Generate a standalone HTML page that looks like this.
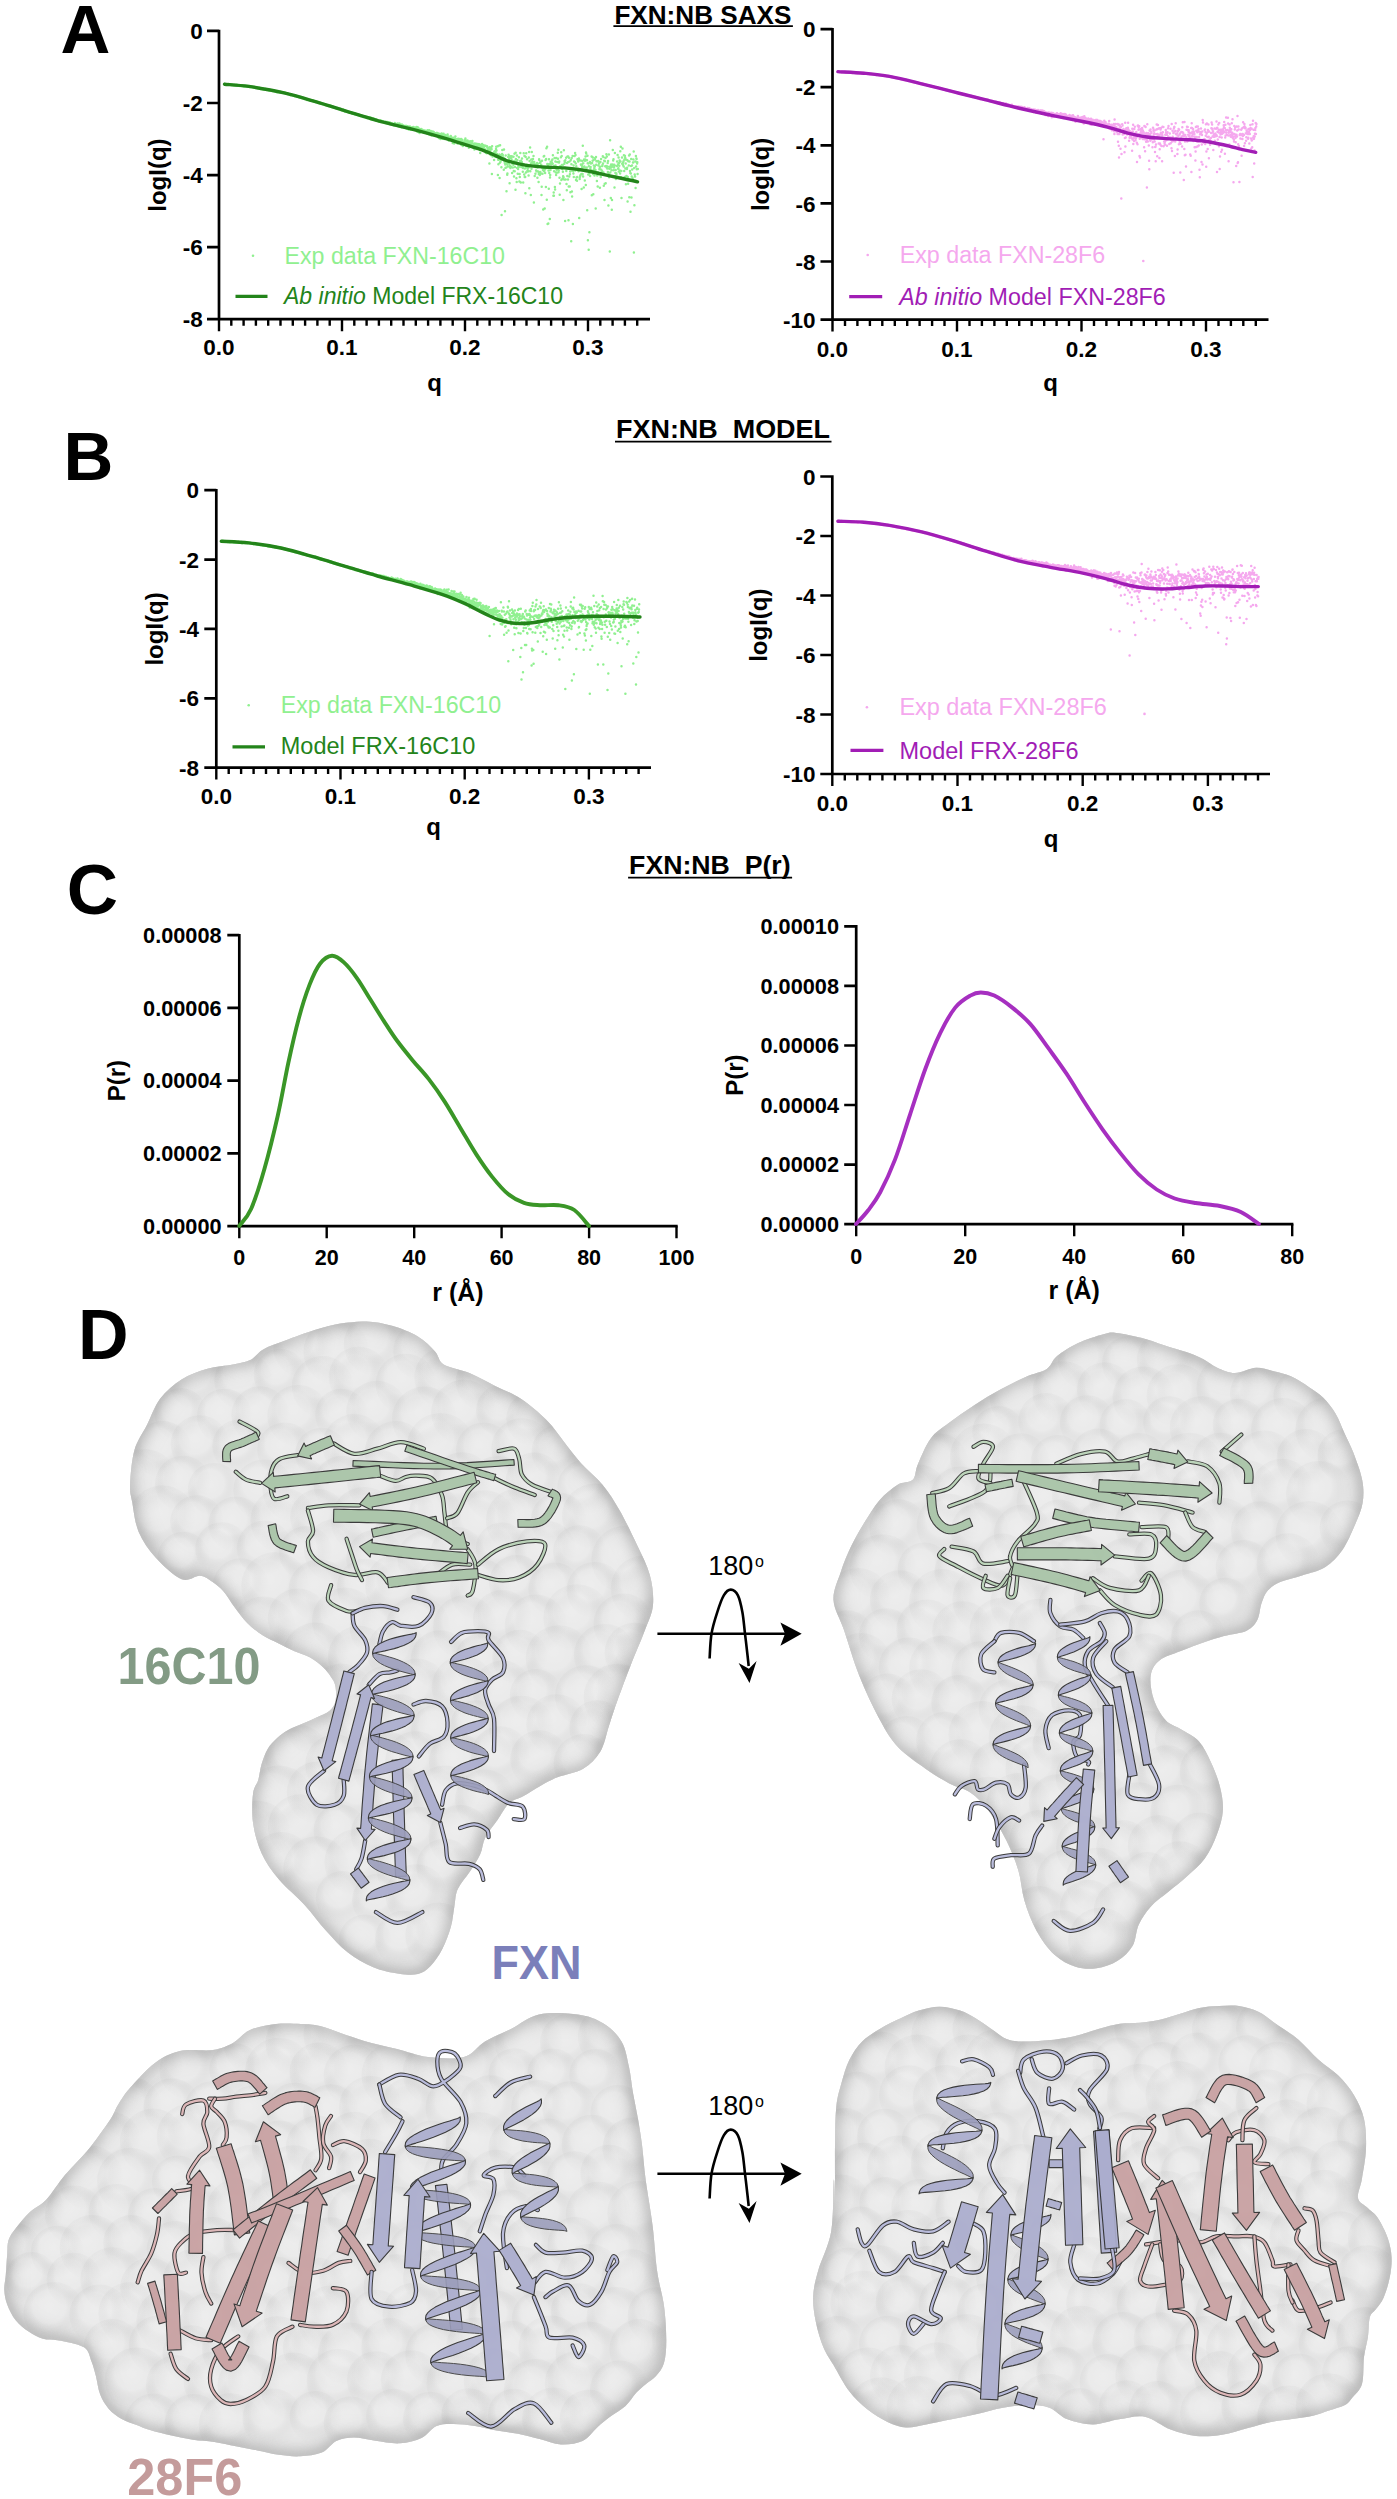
<!DOCTYPE html><html><head><meta charset="utf-8"><style>html,body{margin:0;padding:0;background:#fff}svg{display:block}text{font-family:"Liberation Sans", sans-serif}</style></head><body>
<svg width="1397" height="2499" viewBox="0 0 1397 2499">
<defs><filter id="bl" x="-20%" y="-20%" width="140%" height="140%"><feGaussianBlur stdDeviation="12"/></filter><radialGradient id="bump" cx="0.42" cy="0.4" r="0.6"><stop offset="0" stop-color="#fff" stop-opacity="0.2"/><stop offset="0.45" stop-color="#fff" stop-opacity="0.07"/><stop offset="0.75" stop-color="#000" stop-opacity="0.018"/><stop offset="1" stop-color="#000" stop-opacity="0"/></radialGradient><filter id="bl2" x="-10%" y="-10%" width="120%" height="120%"><feGaussianBlur stdDeviation="5"/></filter></defs>
<rect width="1397" height="2499" fill="#fff"/>
<text x="60.6" y="52.6" font-size="69" font-weight="bold" text-anchor="start" fill="#000">A</text>
<text x="63.6" y="480.1" font-size="69" font-weight="bold" text-anchor="start" fill="#000">B</text>
<text x="66.8" y="913.6" font-size="71" font-weight="bold" text-anchor="start" fill="#000">C</text>
<text x="78.1" y="1359.1" font-size="70" font-weight="bold" text-anchor="start" fill="#000">D</text>
<text x="614.4" y="23.6" font-size="26.5" font-weight="bold" text-anchor="start" fill="#000" textLength="177" lengthAdjust="spacingAndGlyphs">FXN:NB SAXS</text>
<path d="M613.4 26.2H792.9" stroke="#000" stroke-width="1.8"/>
<text x="616" y="438.3" font-size="26.5" font-weight="bold" text-anchor="start" fill="#000" textLength="214" lengthAdjust="spacingAndGlyphs">FXN:NB&#160; MODEL</text>
<path d="M615 441.6H831.5" stroke="#000" stroke-width="1.8"/>
<text x="629.1" y="874.3" font-size="26.5" font-weight="bold" text-anchor="start" fill="#000" textLength="161.5" lengthAdjust="spacingAndGlyphs">FXN:NB&#160; P(r)</text>
<path d="M628.1 877.6H792.1" stroke="#000" stroke-width="1.8"/>
<path d="M219 29.7V319.2M207 319.2H650M207 30.9H219M207 103H219M207 175.1H219M207 247.1H219M207 319.2H219" stroke="#000" stroke-width="2.7" fill="none"/>
<path d="M219 319.2v12M231.3 319.2v6.5M243.6 319.2v6.5M255.9 319.2v6.5M268.2 319.2v6.5M280.5 319.2v6.5M292.8 319.2v6.5M305.1 319.2v6.5M317.4 319.2v6.5M329.7 319.2v6.5M342 319.2v12M354.3 319.2v6.5M366.6 319.2v6.5M378.9 319.2v6.5M391.2 319.2v6.5M403.5 319.2v6.5M415.8 319.2v6.5M428.1 319.2v6.5M440.4 319.2v6.5M452.7 319.2v6.5M465 319.2v12M477.3 319.2v6.5M489.6 319.2v6.5M501.9 319.2v6.5M514.2 319.2v6.5M526.5 319.2v6.5M538.8 319.2v6.5M551.1 319.2v6.5M563.4 319.2v6.5M575.7 319.2v6.5M588 319.2v12M600.3 319.2v6.5M612.6 319.2v6.5M624.9 319.2v6.5M637.2 319.2v6.5" stroke="#000" stroke-width="2.4" fill="none"/>
<text x="202.7" y="39" font-size="22.5" font-weight="bold" text-anchor="end" fill="#000">0</text>
<text x="202.7" y="111.1" font-size="22.5" font-weight="bold" text-anchor="end" fill="#000">-2</text>
<text x="202.7" y="183.2" font-size="22.5" font-weight="bold" text-anchor="end" fill="#000">-4</text>
<text x="202.7" y="255.2" font-size="22.5" font-weight="bold" text-anchor="end" fill="#000">-6</text>
<text x="202.7" y="327.3" font-size="22.5" font-weight="bold" text-anchor="end" fill="#000">-8</text>
<text x="219" y="355.2" font-size="22.5" font-weight="bold" text-anchor="middle" fill="#000">0.0</text>
<text x="342" y="355.2" font-size="22.5" font-weight="bold" text-anchor="middle" fill="#000">0.1</text>
<text x="465" y="355.2" font-size="22.5" font-weight="bold" text-anchor="middle" fill="#000">0.2</text>
<text x="588" y="355.2" font-size="22.5" font-weight="bold" text-anchor="middle" fill="#000">0.3</text>
<text x="434.5" y="390.5" font-size="24" font-weight="bold" text-anchor="middle" fill="#000">q</text>
<text transform="translate(166 175.1) rotate(-90)" font-size="24" font-weight="bold" text-anchor="middle">logI(q)</text>
<path d="M224.5 83.9h0M224.8 83.9h0M225 84.2h0M225.3 84.4h0M225.5 84.5h0M225.8 84.3h0M226 84.6h0M226.2 84.7h0M226.5 84.3h0M226.7 84.4h0M227 84.3h0M227.2 84.6h0M227.5 84.5h0M227.7 84.5h0M227.9 84.8h0M228.2 84.4h0M228.4 84.5h0M228.7 84.1h0M228.9 84.6h0M229.2 84.7h0M229.4 84.4h0M229.6 84.6h0M229.9 84.5h0M230.1 84.8h0M230.4 84.7h0M230.6 84.5h0M230.9 84.6h0M231.1 84.8h0M231.3 85.1h0M231.6 84.7h0M231.8 84.8h0M232.1 84.7h0M232.3 84.9h0M232.6 84.7h0M232.8 85h0M233 84.9h0M233.3 84.9h0M233.5 85.3h0M233.8 85.1h0M234 85.2h0M234.3 84.7h0M234.5 85.1h0M234.8 85h0M235 85h0M235.2 85.2h0M235.5 85.5h0M235.7 85h0M236 85.3h0M236.2 85.1h0M236.5 85.6h0M236.7 85.4h0M236.9 85.1h0M237.2 85h0M237.4 85.7h0M237.7 85.7h0M237.9 85.4h0M238.2 85.3h0M238.4 85.4h0M238.6 85.4h0M238.9 85.7h0M239.1 85.4h0M239.4 85.3h0M239.6 85.7h0M239.9 85.9h0M240.1 85.8h0M240.3 85.5h0M240.6 86h0M240.8 85.7h0M241.1 85.9h0M241.3 85.8h0M241.6 85.8h0M241.8 85.8h0M242 85.5h0M242.3 85.7h0M242.5 85.6h0M242.8 85.9h0M243 86h0M243.3 85.8h0M243.5 86.5h0M243.8 86h0M244 85.9h0M244.2 86.3h0M244.5 85.9h0M244.7 86.2h0M245 86.6h0M245.2 86.1h0M245.5 86.3h0M245.7 86.2h0M245.9 86.2h0M246.2 85.9h0M246.4 86.2h0M246.7 86.2h0M246.9 86.2h0M247.2 86.7h0M247.4 86h0M247.6 86.5h0M247.9 86.2h0M248.1 86.6h0M248.4 86.6h0M248.6 86.5h0M248.9 86h0M249.1 86.3h0M249.3 86.6h0M249.6 86.6h0M249.8 86.9h0M250.1 86.7h0M250.3 86.8h0M250.6 86.6h0M250.8 87.1h0M251 86.9h0M251.3 87.1h0M251.5 87.1h0M251.8 86.8h0M252 87h0M252.3 86.9h0M252.5 86.8h0M252.8 86.9h0M253 87.5h0M253.2 87.1h0M253.5 87.7h0M253.7 87.3h0M254 87h0M254.2 87.5h0M254.5 87.5h0M254.7 87.5h0M254.9 87.5h0M255.2 87.6h0M255.4 87.8h0M255.7 87.4h0M255.9 87.5h0M256.2 87.8h0M256.4 87.7h0M256.6 87.7h0M256.9 87.7h0M257.1 87.9h0M257.4 87.8h0M257.6 88.1h0M257.9 88.3h0M258.1 88.2h0M258.3 88h0M258.6 88h0M258.8 88.2h0M259.1 88.4h0M259.3 88.3h0M259.6 88h0M259.8 88.1h0M260 88.6h0M260.3 88.5h0M260.5 88.9h0M260.8 88.9h0M261 88.6h0M261.3 88.7h0M261.5 88.5h0M261.8 88.5h0M262 88.7h0M262.2 88.6h0M262.5 89h0M262.7 89.2h0M263 88.9h0M263.2 88.5h0M263.5 89h0M263.7 89.4h0M263.9 89.1h0M264.2 88.9h0M264.4 89.5h0M264.7 89.2h0M264.9 89.5h0M265.2 89.1h0M265.4 89.3h0M265.6 89.4h0M265.9 89.1h0M266.1 89.7h0M266.4 89.8h0M266.6 89.3h0M266.9 89.9h0M267.1 89.3h0M267.3 89.8h0M267.6 90.1h0M267.8 89.9h0M268.1 89.9h0M268.3 90h0M268.6 90.1h0M268.8 89.9h0M269 90.6h0M269.3 90.3h0M269.5 90.3h0M269.8 89.9h0M270 90.7h0M270.3 90.4h0M270.5 90.7h0M270.8 90.6h0M271 90.4h0M271.2 90.4h0M271.5 90.3h0M271.7 90.8h0M272 90.6h0M272.2 90.5h0M272.5 90.6h0M272.7 90.9h0M272.9 90.6h0M273.2 91.1h0M273.4 90.6h0M273.7 91h0M273.9 91.1h0M274.2 91h0M274.4 90.9h0M274.6 90.8h0M274.9 91.2h0M275.1 91.3h0M275.4 91.2h0M275.6 91.5h0M275.9 91.8h0M276.1 91.3h0M276.3 91.6h0M276.6 91.3h0M276.8 91.8h0M277.1 92.2h0M277.3 91.6h0M277.6 91.7h0M277.8 91.4h0M278 91.7h0M278.3 91.8h0M278.5 91.8h0M278.8 92h0M279 92h0M279.3 92.3h0M279.5 91.9h0M279.8 92.3h0M280 92.2h0M280.2 92h0M280.5 92h0M280.7 92.5h0M281 91.9h0M281.2 92.5h0M281.5 92.2h0M281.7 92.3h0M281.9 92.5h0M282.2 92.5h0M282.4 92.2h0M282.7 92.4h0M282.9 92.6h0M283.2 93.1h0M283.4 92.9h0M283.6 92.6h0M283.9 92.8h0M284.1 93.1h0M284.4 93.1h0M284.6 93.1h0M284.9 93h0M285.1 93.1h0M285.3 93h0M285.6 93.5h0M285.8 93.2h0M286.1 93.6h0M286.3 93.6h0M286.6 93.2h0M286.8 93.6h0M287 93.8h0M287.3 93.8h0M287.5 93.9h0M287.8 93.6h0M288 93.7h0M288.3 93.9h0M288.5 94.1h0M288.8 94h0M289 94.3h0M289.2 94.2h0M289.5 94.3h0M289.7 94.5h0M290 94.2h0M290.2 94.2h0M290.5 94.4h0M290.7 95.2h0M290.9 94.4h0M291.2 94.7h0M291.4 95h0M291.7 95h0M291.9 94.8h0M292.2 94.9h0M292.4 95h0M292.6 95.3h0M292.9 95.3h0M293.1 95.2h0M293.4 95.5h0M293.6 95.8h0M293.9 95.8h0M294.1 95.7h0M294.3 95.7h0M294.6 95.3h0M294.8 96.2h0M295.1 95.9h0M295.3 96.1h0M295.6 96h0M295.8 95.9h0M296.1 96h0M296.3 96.3h0M296.5 96.5h0M296.8 96.7h0M297 96.5h0M297.3 96.3h0M297.5 96.7h0M297.8 96.6h0M298 96.6h0M298.2 96.8h0M298.5 96.7h0M298.7 97h0M299 97.2h0M299.2 97.4h0M299.5 97h0M299.7 97.3h0M299.9 97.4h0M300.2 97.2h0M300.4 97.6h0M300.7 97.1h0M300.9 97.5h0M301.2 97.8h0M301.4 97.9h0M301.6 97.6h0M301.9 98.1h0M302.1 98.1h0M302.4 98h0M302.6 98h0M302.9 98.1h0M303.1 98.1h0M303.3 98.4h0M303.6 98.4h0M303.8 98.1h0M304.1 98.3h0M304.3 98.6h0M304.6 98.2h0M304.8 99.1h0M305.1 98.7h0M305.3 98.7h0M305.5 98.7h0M305.8 98.9h0M306 99.1h0M306.3 99h0M306.5 99.2h0M306.8 99.1h0M307 99.9h0M307.2 99.3h0M307.5 99.6h0M307.7 99.3h0M308 99.4h0M308.2 99.5h0M308.5 99.8h0M308.7 99.7h0M308.9 99.9h0M309.2 99.9h0M309.4 100h0M309.7 100.2h0M309.9 99.7h0M310.2 100h0M310.4 100.7h0M310.6 100.1h0M310.9 100.7h0M311.1 100.5h0M311.4 100.6h0M311.6 100.7h0M311.9 100.6h0M312.1 100.8h0M312.3 101.1h0M312.6 100.9h0M312.8 100.9h0M313.1 100.6h0M313.3 101.2h0M313.6 101.4h0M313.8 101.3h0M314.1 101.1h0M314.3 101.5h0M314.5 101.6h0M314.8 101.4h0M315 101.5h0M315.3 101.6h0M315.5 101.8h0M315.8 101.9h0M316 101.9h0M316.2 101.9h0M316.5 102h0M316.7 101.9h0M317 102h0M317.2 102.1h0M317.5 102.2h0M317.7 102.5h0M317.9 102.7h0M318.2 102.3h0M318.4 102.6h0M318.7 102.6h0M318.9 103h0M319.2 102.8h0M319.4 103h0M319.6 103.1h0M319.9 103.1h0M320.1 103.4h0M320.4 103.1h0M320.6 103h0M320.9 103.5h0M321.1 103.4h0M321.3 103.7h0M321.6 103.4h0M321.8 103.2h0M322.1 104h0M322.3 103.8h0M322.6 103.5h0M322.8 103.8h0M323.1 104h0M323.3 104.5h0M323.5 104.2h0M323.8 104h0M324 104h0M324.3 104.2h0M324.5 104.6h0M324.8 104.7h0M325 105h0M325.2 104.9h0M325.5 104.5h0M325.7 104.9h0M326 105.2h0M326.2 104.7h0M326.5 105.4h0M326.7 104.9h0M326.9 105.3h0M327.2 105.2h0M327.4 105.2h0M327.7 105.4h0M327.9 105.2h0M328.2 105.6h0M328.4 105.7h0M328.6 105.9h0M328.9 106.1h0M329.1 106h0M329.4 105.7h0M329.6 105.9h0M329.9 105.8h0M330.1 105.6h0M330.3 106.1h0M330.6 106.2h0M330.8 106.7h0M331.1 106.5h0M331.3 106.1h0M331.6 106.5h0M331.8 106.7h0M332.1 106.7h0M332.3 107.3h0M332.5 107.1h0M332.8 107.3h0M333 107.6h0M333.3 107h0M333.5 107h0M333.8 107.4h0M334 107.3h0M334.2 107.7h0M334.5 107.4h0M334.7 107.5h0M335 107.4h0M335.2 107.4h0M335.5 107.7h0M335.7 107.9h0M335.9 108.2h0M336.2 108.2h0M336.4 108h0M336.7 108.1h0M336.9 108.3h0M337.2 108h0M337.4 108.3h0M337.6 108.5h0M337.9 108.6h0M338.1 108.7h0M338.4 109h0M338.6 109h0M338.9 108.8h0M339.1 109.1h0M339.3 109.1h0M339.6 108.9h0M339.8 109.2h0M340.1 109h0M340.3 109.4h0M340.6 109.1h0M340.8 109.4h0M341.1 110h0M341.3 109.4h0M341.5 109.8h0M341.8 110.2h0M342 109.9h0M342.3 109.9h0M342.5 110.3h0M342.8 110.2h0M343 110.1h0M343.2 110h0M343.5 110.1h0M343.7 110.1h0M344 110.2h0M344.2 111.1h0M344.5 110.8h0M344.7 110.7h0M344.9 111.4h0M345.2 110.7h0M345.4 110.7h0M345.7 111.2h0M345.9 111.2h0M346.2 111.4h0M346.4 111.2h0M346.6 111.3h0M346.9 111.4h0M347.1 111.7h0M347.4 111.4h0M347.6 111.7h0M347.9 111.5h0M348.1 111.7h0M348.3 112.2h0M348.6 112.2h0M348.8 111.9h0M349.1 112.2h0M349.3 112h0M349.6 112h0M349.8 112.3h0M350.1 112.7h0M350.3 112.7h0M350.5 112.3h0M350.8 112.8h0M351 112.4h0M351.3 112.7h0M351.5 112.6h0M351.8 113.1h0M352 112.9h0M352.2 113.7h0M352.5 113.1h0M352.7 113h0M353 113.4h0M353.2 113.5h0M353.5 113.4h0M353.7 113.4h0M353.9 113.7h0M354.2 113.4h0M354.4 114.1h0M354.7 113.4h0M354.9 114.2h0M355.2 114.1h0M355.4 113.6h0M355.6 114.3h0M355.9 114.5h0M356.1 114.1h0M356.4 114.5h0M356.6 114.6h0M356.9 114.6h0M357.1 114.7h0M357.3 114.8h0M357.6 114.9h0M357.8 114.2h0M358.1 114.9h0M358.3 114.5h0M358.6 115.3h0M358.8 114.8h0M359.1 115.4h0M359.3 115.2h0M359.5 115h0M359.8 115.4h0M360 115.9h0M360.3 115.6h0M360.5 115.5h0M360.8 115.4h0M361 115.9h0M361.2 115.8h0M361.5 115.8h0M361.7 116.3h0M362 116h0M362.2 116.2h0M362.5 115.9h0M362.7 116.2h0M362.9 116.3h0M363.2 117h0M363.4 116.4h0M363.7 116.6h0M363.9 116.8h0M364.2 116.7h0M364.4 117.1h0M364.6 116.7h0M364.9 116.6h0M365.1 116.7h0M365.4 117.1h0M365.6 116.5h0M365.9 116.8h0M366.1 117.5h0M366.3 117.3h0M366.6 117.9h0M366.8 117.4h0M367.1 117.2h0M367.3 117.1h0M367.6 117.7h0M367.8 118.3h0M368.1 117.8h0M368.3 117.3h0M368.5 117.8h0M368.8 117.5h0M369 117.7h0M369.3 117.5h0M369.5 117.9h0M369.8 118.4h0M370 118.1h0M370.2 117.4h0M370.5 118.6h0M370.7 119.2h0M371 117.8h0M371.2 118.5h0M371.5 118.9h0M371.7 119h0M371.9 119.4h0M372.2 118.6h0M372.4 118.9h0M372.7 119.3h0M372.9 119.3h0M373.2 119.3h0M373.4 118.8h0M373.6 119.4h0M373.9 118.8h0M374.1 119.8h0M374.4 119.8h0M374.6 119.8h0M374.9 119.9h0M375.1 119.8h0M375.3 119.4h0M375.6 119.3h0M375.8 120.4h0M376.1 119.4h0M376.3 120h0M376.6 119.4h0M376.8 120.3h0M377.1 120.6h0M377.3 120h0M377.5 120.1h0M377.8 120.7h0M378 120.5h0M378.3 120.5h0M378.5 120.5h0M378.8 121.4h0M379 121.3h0M379.2 120.8h0M379.5 120.7h0M379.7 121.1h0M380 121.8h0M380.2 120.4h0M380.5 121.2h0M380.7 121.6h0M380.9 120.4h0M381.2 120.7h0M381.4 120.8h0M381.7 120.9h0M381.9 121.1h0M382.2 121.9h0M382.4 121.5h0M382.6 121.4h0M382.9 121.3h0M383.1 121.4h0M383.4 122.2h0M383.6 122.1h0M383.9 122h0M384.1 122h0M384.3 122.4h0M384.6 122.9h0M384.8 122.7h0M385.1 121.9h0M385.3 122.2h0M385.6 121.9h0M385.8 123.3h0M386.1 122.5h0M386.3 121.9h0M386.5 123.5h0M386.8 123.1h0M387 123.4h0M387.3 121.9h0M387.5 122.6h0M387.8 123h0M388 122.7h0M388.2 122.9h0M388.5 122.4h0M388.7 122.3h0M389 122.5h0M389.2 122.8h0M389.5 122.7h0M389.7 122.7h0M389.9 122.5h0M390.2 124.3h0M390.4 123.1h0M390.7 123.3h0M390.9 123.3h0M391.2 123.6h0M391.4 123.6h0M391.6 123.3h0M391.9 123.5h0M392.1 123.6h0M392.4 124.4h0M392.6 124.6h0M392.9 124.3h0M393.1 125h0M393.3 124.3h0M393.6 124.6h0M393.8 125.2h0M394.1 125.4h0M394.3 124.5h0M394.6 124.6h0M394.8 122.9h0M395.1 123.8h0M395.3 124.9h0M395.5 124.8h0M395.8 125.2h0M396 125.1h0M396.3 124.9h0M396.5 124.7h0M396.8 125.2h0M397 124.2h0M397.2 124.4h0M397.5 123.6h0M397.7 125.9h0M398 124.6h0M398.2 125.3h0M398.5 126.2h0M398.7 125.4h0M398.9 126.4h0M399.2 125.3h0M399.4 123.4h0M399.7 124.5h0M399.9 124.2h0M400.2 124.7h0M400.4 126.7h0M400.6 125.3h0M400.9 125.6h0M401.1 125.4h0M401.4 126.5h0M401.6 127.3h0M401.9 124.4h0M402.1 125.1h0M402.3 125.8h0M402.6 126.4h0M402.8 126h0M403.1 127.1h0M403.3 125.5h0M403.6 126.2h0M403.8 126.5h0M404.1 126.7h0M404.3 126.5h0M404.5 126.4h0M404.8 126.9h0M405 125.9h0M405.3 126.5h0M405.5 126.8h0M405.8 127.5h0M406 125.9h0M406.2 125.9h0M406.5 126.4h0M406.7 128.5h0M407 127.3h0M407.2 126.3h0M407.5 127.1h0M407.7 126.2h0M407.9 127.6h0M408.2 126.7h0M408.4 127h0M408.7 129.5h0M408.9 127.8h0M409.2 127.7h0M409.4 128.1h0M409.6 128.4h0M409.9 126.4h0M410.1 127.9h0M410.4 127.1h0M410.6 129h0M410.9 129.7h0M411.1 128.4h0M411.4 127.7h0M411.6 128.7h0M411.8 127.7h0M412.1 127.5h0M412.3 128.7h0M412.6 128.4h0M412.8 129h0M413.1 127.5h0M413.3 126.9h0M413.5 128.1h0M413.8 129.1h0M414 129.3h0M414.3 129h0M414.5 128h0M414.8 129.6h0M415 127.6h0M415.2 130.1h0M415.5 129.1h0M415.7 127.9h0M416 127.5h0M416.2 129.6h0M416.5 128.6h0M416.7 127h0M416.9 128.3h0M417.2 131.6h0M417.4 129.3h0M417.7 127.3h0M417.9 130.8h0M418.2 128.9h0M418.4 131.9h0M418.6 128.3h0M418.9 130.8h0M419.1 129.2h0M419.4 129.1h0M419.6 132.9h0M419.9 131.6h0M420.1 129.9h0M420.4 131.8h0M420.6 130.4h0M420.8 131.4h0M421.1 129.1h0M421.3 131.1h0M421.6 131.6h0M421.8 130h0M422.1 129.5h0M422.3 131h0M422.5 130.6h0M422.8 130.4h0M423 131.5h0M423.3 132.3h0M423.5 130.5h0M423.8 131.6h0M424 132.7h0M424.2 130.4h0M424.5 130.9h0M424.7 131.3h0M425 132.3h0M425.2 131.8h0M425.5 130.9h0M425.7 131.1h0M425.9 132.7h0M426.2 132.8h0M426.4 131.5h0M426.7 131.7h0M426.9 131h0M427.2 133.4h0M427.4 131.1h0M427.6 130.2h0M427.9 131.2h0M428.1 132.2h0M428.4 131.3h0M428.6 133.9h0M428.9 133h0M429.1 130.2h0M429.4 134.5h0M429.6 134h0M429.8 131.8h0M430.1 133.6h0M430.3 133.5h0M430.6 134.3h0M430.8 131h0M431.1 133.8h0M431.3 133.4h0M431.5 135.4h0M431.8 132.3h0M432 133.3h0M432.3 132.8h0M432.5 131.5h0M432.8 133.3h0M433 135h0M433.2 134.9h0M433.5 133.6h0M433.7 132.1h0M434 135.3h0M434.2 134.2h0M434.5 134.1h0M434.7 133.2h0M434.9 135.2h0M435.2 133.7h0M435.4 133.2h0M435.7 134.3h0M435.9 134.4h0M436.2 133.6h0M436.4 133.7h0M436.6 132.9h0M436.9 135.9h0M437.1 133h0M437.4 135h0M437.6 136.2h0M437.9 135.5h0M438.1 136.5h0M438.4 135.2h0M438.6 133.6h0M438.8 138h0M439.1 136.7h0M439.3 134.1h0M439.6 135.6h0M439.8 134.2h0M440.1 137.2h0M440.3 135.5h0M440.5 139h0M440.8 136.7h0M441 134.6h0M441.3 134h0M441.5 133.5h0M441.8 135.9h0M442 137.1h0M442.2 136.5h0M442.5 138.7h0M442.7 134.2h0M443 134.5h0M443.2 137.5h0M443.5 133.7h0M443.7 138.3h0M443.9 135.6h0M444.2 137.7h0M444.4 139.1h0M444.7 136.1h0M444.9 138.4h0M445.2 135.1h0M445.4 138.2h0M445.6 136.8h0M445.9 137.7h0M446.1 136.9h0M446.4 138.1h0M446.6 136h0M446.9 136.4h0M447.1 137.3h0M447.4 137.6h0M447.6 134.5h0M447.8 138.6h0M448.1 138.3h0M448.3 136.6h0M448.6 137.8h0M448.8 140.4h0M449.1 138.2h0M449.3 138.6h0M449.5 139.6h0M449.8 137.8h0M450 140h0M450.3 138.7h0M450.5 140.1h0M450.8 136h0M451 139h0M451.2 137.9h0M451.5 138.2h0M451.7 137.6h0M452 139h0M452.2 137.7h0M452.5 138.7h0M452.7 142.9h0M452.9 138.6h0M453.2 141.2h0M453.4 137.7h0M453.7 138.9h0M453.9 140h0M454.2 143.6h0M454.4 143h0M454.6 141.5h0M454.9 140.3h0M455.1 142h0M455.4 136.5h0M455.6 139.1h0M455.9 140.1h0M456.1 141.7h0M456.4 140.7h0M456.6 140.6h0M456.8 141h0M457.1 140.4h0M457.3 139h0M457.6 143.4h0M457.8 140.1h0M458.1 138.7h0M458.3 143h0M458.5 141.1h0M458.8 141.5h0M459 142.9h0M459.3 139.3h0M459.5 141.6h0M459.8 139.1h0M460 140.4h0M460.2 141.7h0M460.5 140.8h0M460.7 142h0M461 144.4h0M461.2 139h0M461.5 140.9h0M461.7 139.6h0M461.9 145h0M462.2 139.9h0M462.4 140.4h0M462.7 142h0M462.9 145.9h0M463.2 141.9h0M463.4 143.4h0M463.6 142.6h0M463.9 142.2h0M464.1 144h0M464.4 142.7h0M464.6 142.5h0M464.9 139.9h0M465.1 142.9h0M465.4 138.4h0M465.6 145h0M465.8 143.1h0M466.1 140.6h0M466.3 146h0M466.6 141.9h0M466.8 142.4h0M467.1 144.4h0M467.3 143.8h0M467.5 140.4h0M467.8 144.3h0M468 143h0M468.3 142.8h0M468.5 141.3h0M468.8 147.8h0M469 146.7h0M469.2 146.5h0M469.5 144.5h0M469.7 142.9h0M470 142.5h0M470.2 144.8h0M470.5 141.3h0M470.7 144.5h0M470.9 143.1h0M471.2 146h0M471.4 142.9h0M471.7 146.1h0M471.9 142.4h0M472.2 143.1h0M472.4 141.1h0M472.6 145.8h0M472.9 147.4h0M473.1 143.4h0M473.4 144.6h0M473.6 146.4h0M473.9 148.1h0M474.1 143.8h0M474.4 149.5h0M474.6 146.5h0M474.8 143.4h0M475.1 146.3h0M475.3 144.9h0M475.6 144.9h0M475.8 144.7h0M476.1 143.8h0M476.3 144.7h0M476.5 147h0M476.8 148.9h0M477 146.9h0M477.3 147.8h0M477.5 145.6h0M477.8 143.9h0M478 145h0M478.2 148.2h0M478.5 146.4h0M478.7 146.9h0M479 148h0M479.2 144.2h0M479.5 145.8h0M479.7 146.4h0M479.9 149.9h0M480.2 153.1h0M480.4 149h0M480.7 145h0M480.9 148h0M481.2 147.7h0M481.4 148.3h0M481.6 146.7h0M481.9 147.9h0M482.1 144.1h0M482.4 148.3h0M482.6 148.7h0M482.9 145h0M483.1 146.5h0M483.4 146.7h0M483.6 147.2h0M483.8 147.9h0M484.1 148.4h0M484.3 145.6h0M484.6 150h0M484.8 149.2h0M485.1 146.1h0M485.3 151.4h0M485.5 145.7h0M485.8 152.8h0M486 152.1h0M486.3 151.3h0M486.5 151.3h0M486.8 153.3h0M487 146.3h0M487.2 146.9h0M487.5 148.7h0M487.7 152.5h0M488 148.7h0M488.2 152.6h0M488.5 150.6h0M488.7 152.6h0M488.9 147.8h0M489.2 148.2h0M489.4 163.4h0M489.7 147.2h0M489.9 149.6h0M490.2 151.5h0M490.4 148.3h0M490.6 155h0M490.9 148.6h0M491.1 147.2h0M491.4 148.9h0M491.6 149.2h0M491.9 173.9h0M492.1 146.3h0M492.4 153.4h0M492.6 156.6h0M492.8 153.9h0M493.1 154.2h0M493.3 153.7h0M493.6 152.9h0M493.8 153.1h0M494.1 160.1h0M494.3 151.7h0M494.5 153.9h0M494.8 151.2h0M495 155.5h0M495.3 156.8h0M495.5 152.4h0M495.8 156.4h0M496 149h0M496.2 146.7h0M496.5 150.6h0M496.7 156.9h0M497 153.9h0M497.2 155.9h0M497.5 156.9h0M497.7 146.2h0M497.9 175h0M498.2 159.7h0M498.4 164.2h0M498.7 159.7h0M498.9 155.2h0M499.2 145.4h0M499.4 154.4h0M499.6 177.9h0M499.9 162.8h0M500.1 145.2h0M500.4 161.9h0M500.6 155.3h0M500.9 157.3h0M501.1 160.2h0M501.4 167.3h0M501.6 215h0M501.8 159.1h0M502.1 154.1h0M502.3 149.9h0M502.6 158.5h0M502.8 155.1h0M503.1 157.2h0M503.3 158.6h0M503.5 159.4h0M503.8 169.8h0M504 149.5h0M504.3 158.5h0M504.5 161.4h0M504.8 163.1h0M505 211.3h0M505.2 164.5h0M505.5 167.8h0M505.7 155.5h0M506 162.2h0M506.2 167.5h0M506.5 191.2h0M506.7 163.3h0M506.9 164.2h0M507.2 174.7h0M507.4 173.4h0M507.7 161.7h0M507.9 166.6h0M508.2 156.9h0M508.4 163.4h0M508.6 154.7h0M508.9 163.6h0M509.1 159.3h0M509.4 157.9h0M509.6 183.3h0M509.9 165.4h0M510.1 167.5h0M510.4 167.9h0M510.6 156.3h0M510.8 166.5h0M511.1 161.6h0M511.3 157.9h0M511.6 159.8h0M511.8 156.2h0M512.1 172.9h0M512.3 163.4h0M512.5 163.9h0M512.8 167.4h0M513 164.5h0M513.3 164.7h0M513.5 156.7h0M513.8 170.9h0M514 176.4h0M514.2 161h0M514.5 153.7h0M514.7 171.3h0M515 167.1h0M515.2 161.5h0M515.5 189.8h0M515.7 152.7h0M515.9 158.9h0M516.2 161.9h0M516.4 178.2h0M516.7 181.9h0M516.9 155.5h0M517.2 168.1h0M517.4 160.3h0M517.7 173.7h0M517.9 164.6h0M518.1 168.9h0M518.4 166.8h0M518.6 166.4h0M518.9 157.3h0M519.1 166.7h0M519.4 181.5h0M519.6 174h0M519.8 176.9h0M520.1 161.1h0M520.3 152.9h0M520.6 161.5h0M520.8 182.4h0M521.1 160.7h0M521.3 167h0M521.5 166h0M521.8 162h0M522 158.5h0M522.3 163.6h0M522.5 166.1h0M522.8 171.8h0M523 168h0M523.2 182.6h0M523.5 164.2h0M523.7 153.2h0M524 164.6h0M524.2 174.6h0M524.5 155.9h0M524.7 177h0M524.9 168.5h0M525.2 177.1h0M525.4 193.2h0M525.7 157h0M525.9 172.5h0M526.2 153.2h0M526.4 167.1h0M526.7 164.8h0M526.9 167.4h0M527.1 159.2h0M527.4 170.6h0M527.6 168h0M527.9 171.4h0M528.1 170.4h0M528.4 167.7h0M528.6 175.4h0M528.8 157.5h0M529.1 151.9h0M529.3 188.2h0M529.6 160.9h0M529.8 166.1h0M530.1 147.5h0M530.3 171.2h0M530.5 165.3h0M530.8 195h0M531 163.2h0M531.3 159.4h0M531.5 168.7h0M531.8 151.9h0M532 159.5h0M532.2 161.9h0M532.5 159.8h0M532.7 159.3h0M533 158.9h0M533.2 163.5h0M533.5 156h0M533.7 162.3h0M533.9 202.5h0M534.2 161.9h0M534.4 163.5h0M534.7 176h0M534.9 166h0M535.2 165.3h0M535.4 173.8h0M535.7 167h0M535.9 164.8h0M536.1 170.6h0M536.4 171.3h0M536.6 171h0M536.9 164.1h0M537.1 163.1h0M537.4 177.8h0M537.6 167.5h0M537.8 163.7h0M538.1 171.6h0M538.3 171.7h0M538.6 182.1h0M538.8 173.9h0M539.1 159.3h0M539.3 160.1h0M539.5 172.3h0M539.8 174.9h0M540 163h0M540.3 172h0M540.5 162.1h0M540.8 173.4h0M541 165.9h0M541.2 164.8h0M541.5 195.1h0M541.7 186.8h0M542 160.7h0M542.2 167.8h0M542.5 173.8h0M542.7 168.6h0M542.9 169.9h0M543.2 209.4h0M543.4 169.5h0M543.7 156.4h0M543.9 170.9h0M544.2 155.9h0M544.4 171.1h0M544.7 208.6h0M544.9 169.2h0M545.1 172.9h0M545.4 168.4h0M545.6 160h0M545.9 187.1h0M546.1 159.1h0M546.4 148.3h0M546.6 168.1h0M546.8 199.8h0M547.1 146.7h0M547.3 164.1h0M547.6 224h0M547.8 165.2h0M548.1 166h0M548.3 223.4h0M548.5 170.6h0M548.8 188.7h0M549 159.3h0M549.3 172.9h0M549.5 164h0M549.8 219h0M550 177.4h0M550.2 175h0M550.5 170.1h0M550.7 161.8h0M551 164.3h0M551.2 163.5h0M551.5 164h0M551.7 163.7h0M551.9 162.5h0M552.2 159.9h0M552.4 159.4h0M552.7 163.7h0M552.9 155.2h0M553.2 167.2h0M553.4 195.7h0M553.7 192.5h0M553.9 195.8h0M554.1 171.2h0M554.4 165.9h0M554.6 157.9h0M554.9 187.1h0M555.1 189.4h0M555.4 161.4h0M555.6 165.6h0M555.8 172.4h0M556.1 174.9h0M556.3 157.9h0M556.6 169.7h0M556.8 172.7h0M557.1 169.2h0M557.3 161.9h0M557.5 169.1h0M557.8 152.8h0M558 158.7h0M558.3 149.7h0M558.5 172.3h0M558.8 170.8h0M559 162.5h0M559.2 161.6h0M559.5 177.7h0M559.7 194.7h0M560 183.4h0M560.2 166.3h0M560.5 167.8h0M560.7 167.1h0M560.9 157.2h0M561.2 152.3h0M561.4 179.9h0M561.7 156.1h0M561.9 165h0M562.2 168.9h0M562.4 178.8h0M562.7 165h0M562.9 171.7h0M563.1 176.3h0M563.4 200.1h0M563.6 177.2h0M563.9 150.3h0M564.1 179.6h0M564.4 163.8h0M564.6 161.1h0M564.8 162h0M565.1 221h0M565.3 160.3h0M565.6 179.4h0M565.8 168.1h0M566.1 157.7h0M566.3 171.1h0M566.5 184.1h0M566.8 190.2h0M567 163.1h0M567.3 175.9h0M567.5 156.6h0M567.8 162.2h0M568 179.5h0M568.2 156.4h0M568.5 220.2h0M568.7 186.4h0M569 157.7h0M569.2 176.4h0M569.5 161.6h0M569.7 186.5h0M569.9 174.2h0M570.2 171.6h0M570.4 192.2h0M570.7 160.2h0M570.9 159.7h0M571.2 241.2h0M571.4 164.3h0M571.7 158h0M571.9 191.6h0M572.1 196.4h0M572.4 170.7h0M572.6 156h0M572.9 224h0M573.1 171h0M573.4 173.4h0M573.6 165.5h0M573.8 177.1h0M574.1 161.6h0M574.3 169.6h0M574.6 155.9h0M574.8 162.1h0M575.1 153.1h0M575.3 170.6h0M575.5 155.1h0M575.8 163.4h0M576 180h0M576.3 166.2h0M576.5 177.4h0M576.8 180.4h0M577 180.7h0M577.2 176.9h0M577.5 159.3h0M577.7 159.8h0M578 168.7h0M578.2 161.6h0M578.5 171.3h0M578.7 160.8h0M578.9 158.6h0M579.2 218.1h0M579.4 169.4h0M579.7 178.9h0M579.9 177.6h0M580.2 176.1h0M580.4 175.2h0M580.7 160.5h0M580.9 164.6h0M581.1 165.1h0M581.4 174.1h0M581.6 189.1h0M581.9 164.7h0M582.1 167.3h0M582.4 160.9h0M582.6 173.9h0M582.8 145.7h0M583.1 176.4h0M583.3 163.2h0M583.6 166.7h0M583.8 187.4h0M584.1 159.4h0M584.3 166.4h0M584.5 166.9h0M584.8 180.4h0M585 160.8h0M585.3 159.5h0M585.5 156.4h0M585.8 185.1h0M586 152.4h0M586.2 153.5h0M586.5 168.7h0M586.7 167.5h0M587 160.2h0M587.2 210.3h0M587.5 155.8h0M587.7 163.3h0M587.9 240.3h0M588.2 174.6h0M588.4 163.5h0M588.7 249.7h0M588.9 166.2h0M589.2 173.6h0M589.4 232.2h0M589.7 172.1h0M589.9 162.1h0M590.1 176.1h0M590.4 168.5h0M590.6 167.1h0M590.9 163.6h0M591.1 170.5h0M591.4 170.3h0M591.6 156.6h0M591.8 195.2h0M592.1 162.9h0M592.3 156.9h0M592.6 160.8h0M592.8 157.6h0M593.1 174h0M593.3 194.3h0M593.5 160h0M593.8 165.5h0M594 169.8h0M594.3 168.1h0M594.5 175.5h0M594.8 166.5h0M595 159.2h0M595.2 157.9h0M595.5 169.9h0M595.7 208.5h0M596 156.9h0M596.2 164.7h0M596.5 161.3h0M596.7 161.2h0M596.9 180.9h0M597.2 175.4h0M597.4 172.3h0M597.7 186.6h0M597.9 172.2h0M598.2 161h0M598.4 165.5h0M598.7 161.8h0M598.9 173.9h0M599.1 163.4h0M599.4 169.3h0M599.6 168.2h0M599.9 187.7h0M600.1 166.7h0M600.4 162h0M600.6 174.3h0M600.8 177h0M601.1 159.1h0M601.3 169.8h0M601.6 172.5h0M601.8 171.5h0M602.1 170.9h0M602.3 166.1h0M602.5 164.9h0M602.8 156.3h0M603 163.6h0M603.3 156.9h0M603.5 172.5h0M603.8 185.7h0M604 174.5h0M604.2 160.8h0M604.5 200.1h0M604.7 183.7h0M605 161.3h0M605.2 166.3h0M605.5 158.1h0M605.7 183.3h0M605.9 166.5h0M606.2 165.9h0M606.4 154.2h0M606.7 167.5h0M606.9 156.4h0M607.2 168.5h0M607.4 166.4h0M607.7 162.9h0M607.9 172h0M608.1 161h0M608.4 205.4h0M608.6 173.9h0M608.9 154.6h0M609.1 177.2h0M609.4 168.7h0M609.6 167.1h0M609.8 251.6h0M610.1 140.2h0M610.3 172.5h0M610.6 166h0M610.8 197.9h0M611.1 164.5h0M611.3 167.6h0M611.5 170.3h0M611.8 209.8h0M612 199.9h0M612.3 166.5h0M612.5 164.6h0M612.8 150.1h0M613 165h0M613.2 160.6h0M613.5 159.2h0M613.7 170.2h0M614 167.4h0M614.2 164.8h0M614.5 187.6h0M614.7 165.6h0M614.9 153.1h0M615.2 176.2h0M615.4 172.9h0M615.7 170.1h0M615.9 179.1h0M616.2 173.3h0M616.4 174h0M616.7 177.1h0M616.9 165.9h0M617.1 161.6h0M617.4 176.9h0M617.6 155h0M617.9 164.2h0M618.1 168.7h0M618.4 168.2h0M618.6 157.4h0M618.8 171.4h0M619.1 163.1h0M619.3 165.7h0M619.6 160.4h0M619.8 170.6h0M620.1 173.5h0M620.3 151.3h0M620.5 161.6h0M620.8 146.7h0M621 177.3h0M621.3 171.1h0M621.5 197.9h0M621.8 177.9h0M622 157.5h0M622.2 163.7h0M622.5 148.4h0M622.7 164.1h0M623 165.2h0M623.2 162.4h0M623.5 161.2h0M623.7 166.6h0M623.9 155.3h0M624.2 171.1h0M624.4 159.4h0M624.7 176.9h0M624.9 155.7h0M625.2 157.7h0M625.4 168.5h0M625.7 163.4h0M625.9 184.3h0M626.1 159.4h0M626.4 176.1h0M626.6 168.4h0M626.9 169h0M627.1 167.8h0M627.4 160.3h0M627.6 201.6h0M627.8 177.1h0M628.1 183.8h0M628.3 161.3h0M628.6 178.9h0M628.8 165.6h0M629.1 155.5h0M629.3 197.2h0M629.5 161.4h0M629.8 154.4h0M630 171h0M630.3 172.9h0M630.5 211.8h0M630.8 173.5h0M631 166h0M631.2 158.9h0M631.5 197.6h0M631.7 176.6h0M632 165.5h0M632.2 169.6h0M632.5 180.1h0M632.7 178.2h0M633 162.5h0M633.2 162.6h0M633.4 159.5h0M633.7 151.5h0M633.9 252.5h0M634.2 168.1h0M634.4 205.2h0M634.7 174.5h0M634.9 176.4h0M635.1 176.4h0M635.4 161.4h0M635.6 188.1h0M635.9 156h0M636.1 166.5h0M636.4 158.6h0M636.6 158.9h0M636.8 169.3h0M637.1 163.4h0M637.3 162.3h0M637.6 174h0M637.8 169h0" stroke="#90f090" stroke-width="2.5" stroke-linecap="round" fill="none"/>
<path d="M224.5 84.2C228.5 84.6 238.8 85 248.7 86.4C258.6 87.9 272.8 90.3 284.1 92.9C295.4 95.5 306.1 98.9 316.3 101.9C326.5 104.9 335.1 107.8 345.3 110.9C355.5 114 366.2 117.5 377.5 120.6C388.8 123.7 402.2 126.5 412.9 129.3C423.6 132.1 432.8 134.6 441.9 137.3C451 140 460.2 143 467.7 145.4C475.2 147.8 480.6 149.3 487 151.8C493.4 154.3 500.5 158.3 506.4 160.5C512.3 162.7 516.6 163.6 522.5 164.7C528.4 165.8 534.8 166.4 541.8 166.9C548.8 167.4 557.3 167.4 564.3 167.9C571.3 168.4 577.2 169.1 583.7 170.2C590.2 171.3 596.6 173 603 174.4C609.4 175.8 616.5 177.3 622.3 178.5C628 179.7 635 181.2 637.5 181.8" stroke="#23841a" stroke-width="3.4" stroke-linecap="round" stroke-linejoin="round" fill="none"/>
<circle cx="253" cy="255.7" r="1.3" fill="#90f090"/>
<text x="284.5" y="263.7" font-size="23" text-anchor="start" fill="#90f090" textLength="220.5" lengthAdjust="spacingAndGlyphs">Exp data FXN-16C10</text>
<path d="M235.5 296.3H267.5" stroke="#23841a" stroke-width="3.2" fill="none"/>
<text x="284" y="304.3" font-size="23" fill="#23841a" textLength="279" lengthAdjust="spacingAndGlyphs"><tspan font-style="italic">Ab initio</tspan> Model FRX-16C10</text>
<path d="M832.5 27.9V319.6M820.5 319.6H1268.5M820.5 29.1H832.5M820.5 87.2H832.5M820.5 145.3H832.5M820.5 203.4H832.5M820.5 261.5H832.5M820.5 319.6H832.5" stroke="#000" stroke-width="2.7" fill="none"/>
<path d="M832.5 319.6v12M845 319.6v6.5M857.4 319.6v6.5M869.9 319.6v6.5M882.3 319.6v6.5M894.8 319.6v6.5M907.2 319.6v6.5M919.6 319.6v6.5M932.1 319.6v6.5M944.5 319.6v6.5M957 319.6v12M969.5 319.6v6.5M981.9 319.6v6.5M994.4 319.6v6.5M1006.8 319.6v6.5M1019.2 319.6v6.5M1031.7 319.6v6.5M1044.2 319.6v6.5M1056.6 319.6v6.5M1069 319.6v6.5M1081.5 319.6v12M1094 319.6v6.5M1106.4 319.6v6.5M1118.8 319.6v6.5M1131.3 319.6v6.5M1143.8 319.6v6.5M1156.2 319.6v6.5M1168.7 319.6v6.5M1181.1 319.6v6.5M1193.5 319.6v6.5M1206 319.6v12M1218.5 319.6v6.5M1230.9 319.6v6.5M1243.3 319.6v6.5M1255.8 319.6v6.5" stroke="#000" stroke-width="2.4" fill="none"/>
<text x="815.5" y="37.2" font-size="22.5" font-weight="bold" text-anchor="end" fill="#000">0</text>
<text x="815.5" y="95.3" font-size="22.5" font-weight="bold" text-anchor="end" fill="#000">-2</text>
<text x="815.5" y="153.4" font-size="22.5" font-weight="bold" text-anchor="end" fill="#000">-4</text>
<text x="815.5" y="211.5" font-size="22.5" font-weight="bold" text-anchor="end" fill="#000">-6</text>
<text x="815.5" y="269.6" font-size="22.5" font-weight="bold" text-anchor="end" fill="#000">-8</text>
<text x="815.5" y="327.7" font-size="22.5" font-weight="bold" text-anchor="end" fill="#000">-10</text>
<text x="832.5" y="356.8" font-size="22.5" font-weight="bold" text-anchor="middle" fill="#000">0.0</text>
<text x="957" y="356.8" font-size="22.5" font-weight="bold" text-anchor="middle" fill="#000">0.1</text>
<text x="1081.5" y="356.8" font-size="22.5" font-weight="bold" text-anchor="middle" fill="#000">0.2</text>
<text x="1206" y="356.8" font-size="22.5" font-weight="bold" text-anchor="middle" fill="#000">0.3</text>
<text x="1050.5" y="390.5" font-size="24" font-weight="bold" text-anchor="middle" fill="#000">q</text>
<text transform="translate(769 174.4) rotate(-90)" font-size="24" font-weight="bold" text-anchor="middle">logI(q)</text>
<path d="M838.1 71.2h0M838.3 71.7h0M838.6 71.6h0M838.8 71.6h0M839.1 71.5h0M839.3 71.9h0M839.6 71.8h0M839.8 71.9h0M840.1 71.9h0M840.3 71.9h0M840.6 71.9h0M840.8 71.8h0M841.1 72h0M841.3 71.7h0M841.5 71.9h0M841.8 72.4h0M842 71.6h0M842.3 71.9h0M842.5 72h0M842.8 71.9h0M843 71.9h0M843.3 71.9h0M843.5 72.1h0M843.8 71.9h0M844 72.2h0M844.3 71.7h0M844.5 72.2h0M844.8 72.1h0M845 72h0M845.2 72h0M845.5 72.1h0M845.7 72h0M846 72.7h0M846.2 72.2h0M846.5 72.2h0M846.7 72.2h0M847 71.9h0M847.2 72.4h0M847.5 72.2h0M847.7 72.6h0M848 72.2h0M848.2 72.5h0M848.4 72.6h0M848.7 71.9h0M848.9 72.2h0M849.2 72.3h0M849.4 72.3h0M849.7 72.6h0M849.9 72.6h0M850.2 72.3h0M850.4 72.8h0M850.7 72.4h0M850.9 72.7h0M851.2 72.4h0M851.4 72.7h0M851.6 72.2h0M851.9 72.3h0M852.1 72.6h0M852.4 72.9h0M852.6 72.7h0M852.9 72.6h0M853.1 72.7h0M853.4 72.5h0M853.6 72.4h0M853.9 72.6h0M854.1 72.7h0M854.4 72.5h0M854.6 72.7h0M854.8 72.5h0M855.1 72.7h0M855.3 72.4h0M855.6 72.8h0M855.8 72.9h0M856.1 72.7h0M856.3 72.9h0M856.6 72.9h0M856.8 72.8h0M857.1 72.7h0M857.3 73.2h0M857.6 72.8h0M857.8 72.9h0M858 72.9h0M858.3 72.7h0M858.5 73.1h0M858.8 72.8h0M859 73h0M859.3 72.9h0M859.5 73h0M859.8 73h0M860 73.1h0M860.3 72.9h0M860.5 72.7h0M860.8 72.9h0M861 72.9h0M861.2 73h0M861.5 73.2h0M861.7 73h0M862 72.7h0M862.2 73.4h0M862.5 73h0M862.7 73h0M863 73.1h0M863.2 73h0M863.5 73h0M863.7 72.8h0M864 73h0M864.2 73h0M864.4 73.2h0M864.7 73.2h0M864.9 73.3h0M865.2 73.3h0M865.4 73.5h0M865.7 73.3h0M865.9 73.2h0M866.2 73.5h0M866.4 73.5h0M866.7 73.5h0M866.9 73.6h0M867.2 73.5h0M867.4 73.6h0M867.6 73.9h0M867.9 73.9h0M868.1 73.6h0M868.4 73.7h0M868.6 73.6h0M868.9 73.8h0M869.1 73.8h0M869.4 74.2h0M869.6 73.7h0M869.9 74.1h0M870.1 73.8h0M870.4 74.2h0M870.6 74.2h0M870.8 74.1h0M871.1 74.2h0M871.3 74.3h0M871.6 74h0M871.8 74.1h0M872.1 74.2h0M872.3 74.3h0M872.6 74.5h0M872.8 74.4h0M873.1 74.5h0M873.3 74.4h0M873.6 74.3h0M873.8 74.5h0M874 74.6h0M874.3 74.6h0M874.5 74.3h0M874.8 74.6h0M875 74.6h0M875.3 74.6h0M875.5 74.6h0M875.8 74.7h0M876 74.5h0M876.3 74.6h0M876.5 75.3h0M876.8 74.9h0M877 74.3h0M877.3 75.1h0M877.5 74.9h0M877.7 74.8h0M878 75h0M878.2 74.8h0M878.5 75.3h0M878.7 75.3h0M879 75.1h0M879.2 75.3h0M879.5 75.4h0M879.7 75.1h0M880 75.2h0M880.2 75.3h0M880.5 75.4h0M880.7 75.3h0M880.9 75.4h0M881.2 75.5h0M881.4 75.3h0M881.7 75.4h0M881.9 75.5h0M882.2 75.4h0M882.4 75.7h0M882.7 75.6h0M882.9 75.7h0M883.2 75.4h0M883.4 75.6h0M883.7 75.3h0M883.9 75.4h0M884.1 75.8h0M884.4 76h0M884.6 75.7h0M884.9 75.9h0M885.1 75.9h0M885.4 76.1h0M885.6 75.8h0M885.9 75.9h0M886.1 75.9h0M886.4 76h0M886.6 76.2h0M886.9 76.5h0M887.1 76.2h0M887.3 76.3h0M887.6 76.3h0M887.8 76h0M888.1 76.3h0M888.3 76h0M888.6 76.3h0M888.8 76.2h0M889.1 76.3h0M889.3 76.2h0M889.6 76.7h0M889.8 76.3h0M890.1 76.5h0M890.3 76.8h0M890.5 76.6h0M890.8 76.7h0M891 76.6h0M891.3 76.7h0M891.5 76.8h0M891.8 77.2h0M892 76.7h0M892.3 76.8h0M892.5 77h0M892.8 77.1h0M893 77h0M893.3 77.4h0M893.5 77.2h0M893.7 77.4h0M894 77.6h0M894.2 77.4h0M894.5 77.5h0M894.7 77.3h0M895 77.5h0M895.2 78h0M895.5 78.1h0M895.7 77.9h0M896 77.9h0M896.2 78.1h0M896.5 78.3h0M896.7 78.1h0M896.9 78.3h0M897.2 78.3h0M897.4 78.1h0M897.7 78.3h0M897.9 78.5h0M898.2 78.6h0M898.4 78.5h0M898.7 78.2h0M898.9 78.7h0M899.2 78.3h0M899.4 78.8h0M899.7 78.8h0M899.9 78.7h0M900.1 79h0M900.4 78.9h0M900.6 79.2h0M900.9 78.9h0M901.1 78.9h0M901.4 79.3h0M901.6 79.2h0M901.9 79.3h0M902.1 79.7h0M902.4 78.9h0M902.6 79.3h0M902.9 79.3h0M903.1 79.5h0M903.3 79.6h0M903.6 79.2h0M903.8 80h0M904.1 79.8h0M904.3 79.9h0M904.6 79.9h0M904.8 79.8h0M905.1 80.1h0M905.3 80.3h0M905.6 80.3h0M905.8 80.1h0M906.1 80.1h0M906.3 80.1h0M906.6 80.1h0M906.8 80.5h0M907 80.3h0M907.3 80.4h0M907.5 80.6h0M907.8 80.8h0M908 80.5h0M908.3 80.9h0M908.5 80.8h0M908.8 81h0M909 80.6h0M909.3 81h0M909.5 81.1h0M909.8 81.1h0M910 81.2h0M910.2 81.2h0M910.5 81.5h0M910.7 81.5h0M911 81.3h0M911.2 81.2h0M911.5 81.6h0M911.7 81.5h0M912 81.7h0M912.2 82h0M912.5 81.8h0M912.7 81.9h0M913 81.7h0M913.2 81.9h0M913.4 81.9h0M913.7 82.2h0M913.9 82h0M914.2 82.4h0M914.4 82.1h0M914.7 82h0M914.9 82.5h0M915.2 82.2h0M915.4 82.1h0M915.7 82.5h0M915.9 82.3h0M916.2 82.5h0M916.4 82.7h0M916.6 83h0M916.9 82.9h0M917.1 83h0M917.4 82.4h0M917.6 82.8h0M917.9 83h0M918.1 83.2h0M918.4 82.8h0M918.6 83.3h0M918.9 82.9h0M919.1 83h0M919.4 83.3h0M919.6 83.5h0M919.8 83.4h0M920.1 83.7h0M920.3 83.4h0M920.6 83.3h0M920.8 83.5h0M921.1 83.5h0M921.3 83.9h0M921.6 83.7h0M921.8 84h0M922.1 84h0M922.3 83.9h0M922.6 83.6h0M922.8 84.1h0M923 84.2h0M923.3 84.6h0M923.5 84.3h0M923.8 84.5h0M924 84.7h0M924.3 84.7h0M924.5 84.5h0M924.8 84.7h0M925 84.5h0M925.3 84.8h0M925.5 84.8h0M925.8 84.6h0M926 84.8h0M926.2 84.8h0M926.5 84.8h0M926.7 85.1h0M927 85.3h0M927.2 85.4h0M927.5 85.6h0M927.7 85.3h0M928 85.5h0M928.2 85.4h0M928.5 85.4h0M928.7 85.7h0M929 85.6h0M929.2 85.5h0M929.4 85.8h0M929.7 85.7h0M929.9 85.9h0M930.2 86.1h0M930.4 86.1h0M930.7 86.4h0M930.9 86h0M931.2 86.3h0M931.4 86h0M931.7 86.5h0M931.9 86.4h0M932.2 86.4h0M932.4 86.6h0M932.6 86.5h0M932.9 86.8h0M933.1 86.9h0M933.4 87h0M933.6 86.9h0M933.9 87h0M934.1 86.9h0M934.4 87.1h0M934.6 87.2h0M934.9 87.3h0M935.1 87.5h0M935.4 87.3h0M935.6 87.3h0M935.9 87.6h0M936.1 87.5h0M936.3 87.4h0M936.6 87.7h0M936.8 87.6h0M937.1 87.8h0M937.3 87.3h0M937.6 87.6h0M937.8 87.7h0M938.1 88.1h0M938.3 87.9h0M938.6 88.1h0M938.8 88.1h0M939.1 88.3h0M939.3 88.2h0M939.5 88.4h0M939.8 88.3h0M940 88.1h0M940.3 88.7h0M940.5 88.8h0M940.8 88.5h0M941 88.5h0M941.3 88.8h0M941.5 88.7h0M941.8 88.8h0M942 88.8h0M942.3 88.8h0M942.5 89.2h0M942.7 89h0M943 89.1h0M943.2 89.4h0M943.5 89.2h0M943.7 89.6h0M944 89.7h0M944.2 89.3h0M944.5 89.7h0M944.7 89.3h0M945 89.5h0M945.2 89.8h0M945.5 90h0M945.7 90.3h0M945.9 89.9h0M946.2 90.3h0M946.4 89.8h0M946.7 90.4h0M946.9 90.2h0M947.2 90.7h0M947.4 90.4h0M947.7 90.1h0M947.9 90.5h0M948.2 90.6h0M948.4 90.6h0M948.7 90.5h0M948.9 90.5h0M949.1 90.8h0M949.4 91.2h0M949.6 90.8h0M949.9 90.7h0M950.1 90.6h0M950.4 91h0M950.6 91.1h0M950.9 91.3h0M951.1 91.1h0M951.4 91h0M951.6 91.5h0M951.9 91.4h0M952.1 91.7h0M952.3 91.7h0M952.6 91.6h0M952.8 91.6h0M953.1 91.9h0M953.3 91.8h0M953.6 91.6h0M953.8 91.8h0M954.1 91.8h0M954.3 92h0M954.6 92.1h0M954.8 92.1h0M955.1 92.1h0M955.3 92.3h0M955.5 92.2h0M955.8 92.4h0M956 92.3h0M956.3 92.5h0M956.5 92.4h0M956.8 92.8h0M957 92.8h0M957.3 93h0M957.5 92.6h0M957.8 92.8h0M958 92.9h0M958.3 92.9h0M958.5 93.2h0M958.7 93.1h0M959 93.3h0M959.2 93.6h0M959.5 93.4h0M959.7 93.5h0M960 93.2h0M960.2 93.6h0M960.5 93.7h0M960.7 93.4h0M961 93.7h0M961.2 94h0M961.5 93.8h0M961.7 94h0M961.9 93.6h0M962.2 94.2h0M962.4 94.2h0M962.7 94.6h0M962.9 94.3h0M963.2 93.9h0M963.4 94.3h0M963.7 94.5h0M963.9 94.4h0M964.2 94.5h0M964.4 94.5h0M964.7 94.1h0M964.9 94.3h0M965.1 94.4h0M965.4 94.5h0M965.6 95h0M965.9 95.3h0M966.1 94.8h0M966.4 94.9h0M966.6 95.1h0M966.9 95.2h0M967.1 95.1h0M967.4 95.2h0M967.6 95.3h0M967.9 95.3h0M968.1 95.5h0M968.4 95.6h0M968.6 95.3h0M968.8 95.7h0M969.1 95.3h0M969.3 95.6h0M969.6 95.8h0M969.8 95.6h0M970.1 96.1h0M970.3 96h0M970.6 96.1h0M970.8 96.1h0M971.1 96h0M971.3 95.8h0M971.6 96.2h0M971.8 96.6h0M972 96.6h0M972.3 96.9h0M972.5 96.4h0M972.8 96.4h0M973 96.6h0M973.3 96.7h0M973.5 96.7h0M973.8 96.8h0M974 96.8h0M974.3 96.9h0M974.5 97.3h0M974.8 96.9h0M975 96.8h0M975.2 97.6h0M975.5 97.3h0M975.7 97.6h0M976 97.3h0M976.2 97.5h0M976.5 97.2h0M976.7 97.3h0M977 97.8h0M977.2 97.8h0M977.5 97.9h0M977.7 97.7h0M978 98.1h0M978.2 97.8h0M978.4 98.4h0M978.7 97.8h0M978.9 98h0M979.2 98.5h0M979.4 98.5h0M979.7 98.3h0M979.9 98.3h0M980.2 99.2h0M980.4 98.5h0M980.7 98.2h0M980.9 98.8h0M981.2 99.1h0M981.4 98.4h0M981.6 98.8h0M981.9 98.8h0M982.1 98.8h0M982.4 99.3h0M982.6 99.2h0M982.9 99.4h0M983.1 99.5h0M983.4 99.3h0M983.6 99.6h0M983.9 98.9h0M984.1 99.2h0M984.4 99.2h0M984.6 100h0M984.8 99.6h0M985.1 99.7h0M985.3 99.6h0M985.6 99.6h0M985.8 100h0M986.1 100.1h0M986.3 99.6h0M986.6 99.3h0M986.8 99.4h0M987.1 100.2h0M987.3 100.4h0M987.6 100.1h0M987.8 100.1h0M988 99.7h0M988.3 100.4h0M988.5 100.7h0M988.8 100.1h0M989 100.8h0M989.3 100.9h0M989.5 100.5h0M989.8 100.8h0M990 101.1h0M990.3 100.9h0M990.5 101h0M990.8 101h0M991 101.3h0M991.2 100.8h0M991.5 101.2h0M991.7 101.4h0M992 100.8h0M992.2 101.6h0M992.5 101.1h0M992.7 101.2h0M993 101.6h0M993.2 101.4h0M993.5 102.1h0M993.7 101.5h0M994 102.1h0M994.2 102.1h0M994.4 101.7h0M994.7 102.1h0M994.9 101.9h0M995.2 101.8h0M995.4 101.6h0M995.7 101.9h0M995.9 101.7h0M996.2 102.5h0M996.4 102.4h0M996.7 102.1h0M996.9 101.9h0M997.2 102.3h0M997.4 102.7h0M997.7 103h0M997.9 103h0M998.1 102.2h0M998.4 103.1h0M998.6 102.9h0M998.9 102.6h0M999.1 102.7h0M999.4 103.2h0M999.6 102.2h0M999.9 103h0M1000.1 103h0M1000.4 102.8h0M1000.6 103.4h0M1000.9 103h0M1001.1 103.4h0M1001.3 103.8h0M1001.6 103.9h0M1001.8 103.4h0M1002.1 103.5h0M1002.3 103.7h0M1002.6 103.9h0M1002.8 103.9h0M1003.1 103.4h0M1003.3 103.4h0M1003.6 104h0M1003.8 103.9h0M1004.1 104.9h0M1004.3 104.6h0M1004.5 104.5h0M1004.8 104.6h0M1005 103.9h0M1005.3 105.3h0M1005.5 104.1h0M1005.8 104.1h0M1006 103.4h0M1006.3 104.8h0M1006.5 104.4h0M1006.8 103.9h0M1007 104.3h0M1007.3 105.2h0M1007.5 105h0M1007.7 105.5h0M1008 104.9h0M1008.2 104.7h0M1008.5 104.4h0M1008.7 104.8h0M1009 104.7h0M1009.2 104.7h0M1009.5 105.7h0M1009.7 105h0M1010 104.9h0M1010.2 105.6h0M1010.5 106h0M1010.7 105.5h0M1010.9 105.6h0M1011.2 105.3h0M1011.4 106.7h0M1011.7 106h0M1011.9 104.8h0M1012.2 105.2h0M1012.4 106.1h0M1012.7 106.2h0M1012.9 106.2h0M1013.2 106.7h0M1013.4 106.5h0M1013.7 106.3h0M1013.9 107h0M1014.1 106.4h0M1014.4 106.3h0M1014.6 107.2h0M1014.9 106.8h0M1015.1 107.5h0M1015.4 106.6h0M1015.6 106.6h0M1015.9 107.1h0M1016.1 106.8h0M1016.4 106.6h0M1016.6 106.6h0M1016.9 107.8h0M1017.1 107.3h0M1017.3 108h0M1017.6 108.3h0M1017.8 106.6h0M1018.1 106.8h0M1018.3 106.6h0M1018.6 106.9h0M1018.8 107.8h0M1019.1 107.4h0M1019.3 107.9h0M1019.6 106.8h0M1019.8 109.1h0M1020.1 107.5h0M1020.3 108.1h0M1020.5 107.4h0M1020.8 107.1h0M1021 108.3h0M1021.3 107.1h0M1021.5 107.3h0M1021.8 109.1h0M1022 106.9h0M1022.3 108.9h0M1022.5 109.1h0M1022.8 107.6h0M1023 108.8h0M1023.3 108.2h0M1023.5 108.4h0M1023.7 109.1h0M1024 107.4h0M1024.2 107.6h0M1024.5 108.6h0M1024.7 107.6h0M1025 108.7h0M1025.2 108.6h0M1025.5 109h0M1025.7 109.8h0M1026 109.1h0M1026.2 109.6h0M1026.5 108.7h0M1026.7 109h0M1026.9 109.5h0M1027.2 108.3h0M1027.4 108.9h0M1027.7 108h0M1027.9 109.6h0M1028.2 109.6h0M1028.4 109.9h0M1028.7 109.3h0M1028.9 109.6h0M1029.2 109.5h0M1029.4 108.3h0M1029.7 109.1h0M1029.9 110.2h0M1030.2 109.5h0M1030.4 110h0M1030.6 110.1h0M1030.9 110.1h0M1031.1 109.9h0M1031.4 109.5h0M1031.6 109.3h0M1031.9 110.1h0M1032.1 110.8h0M1032.4 110.2h0M1032.6 110.4h0M1032.9 110.5h0M1033.1 111.3h0M1033.4 110.5h0M1033.6 111.9h0M1033.8 109.5h0M1034.1 110h0M1034.3 110h0M1034.6 111.4h0M1034.8 110.5h0M1035.1 109.7h0M1035.3 111h0M1035.6 111.7h0M1035.8 111h0M1036.1 112.8h0M1036.3 110.2h0M1036.6 110.7h0M1036.8 112.2h0M1037 110.6h0M1037.3 110.3h0M1037.5 110.7h0M1037.8 110.7h0M1038 110.1h0M1038.3 111.2h0M1038.5 110.3h0M1038.8 111.7h0M1039 112.1h0M1039.3 111.9h0M1039.5 112.5h0M1039.8 111.4h0M1040 112.4h0M1040.2 111.5h0M1040.5 111.6h0M1040.7 110.5h0M1041 110.4h0M1041.2 112.5h0M1041.5 112.2h0M1041.7 112.2h0M1042 112.7h0M1042.2 110.6h0M1042.5 111.1h0M1042.7 112.5h0M1043 113.6h0M1043.2 113h0M1043.4 112.4h0M1043.7 111.1h0M1043.9 113.7h0M1044.2 111.3h0M1044.4 114h0M1044.7 112.4h0M1044.9 113.8h0M1045.2 113.2h0M1045.4 115.1h0M1045.7 112.3h0M1045.9 112.9h0M1046.2 114h0M1046.4 115.1h0M1046.6 113.2h0M1046.9 113.2h0M1047.1 114.6h0M1047.4 112.8h0M1047.6 113.4h0M1047.9 114.5h0M1048.1 114.2h0M1048.4 115.9h0M1048.6 112.8h0M1048.9 112.6h0M1049.1 113.8h0M1049.4 114.9h0M1049.6 114.8h0M1049.8 114.1h0M1050.1 114.7h0M1050.3 113.6h0M1050.6 114.8h0M1050.8 113h0M1051.1 112.8h0M1051.3 114.6h0M1051.6 114.9h0M1051.8 117.2h0M1052.1 114.1h0M1052.3 113.8h0M1052.6 115.2h0M1052.8 113.1h0M1053 115.1h0M1053.3 115.6h0M1053.5 113.6h0M1053.8 114h0M1054 116.7h0M1054.3 115.3h0M1054.5 116h0M1054.8 114.9h0M1055 114.5h0M1055.3 115.3h0M1055.5 114.6h0M1055.8 113.9h0M1056 115.2h0M1056.2 116.3h0M1056.5 116.1h0M1056.7 114.1h0M1057 113.2h0M1057.2 115.3h0M1057.5 114.7h0M1057.7 116.1h0M1058 115.9h0M1058.2 114.2h0M1058.5 115.9h0M1058.7 115.2h0M1059 115.3h0M1059.2 114.2h0M1059.5 115.2h0M1059.7 115.6h0M1059.9 116h0M1060.2 116.3h0M1060.4 114.5h0M1060.7 113.3h0M1060.9 117.6h0M1061.2 114.6h0M1061.4 117h0M1061.7 116.6h0M1061.9 116.3h0M1062.2 116.5h0M1062.4 116.5h0M1062.7 116.8h0M1062.9 114h0M1063.1 117.9h0M1063.4 117h0M1063.6 117.2h0M1063.9 116.1h0M1064.1 117.9h0M1064.4 116.4h0M1064.6 116.3h0M1064.9 114.1h0M1065.1 115.8h0M1065.4 116.7h0M1065.6 116.5h0M1065.9 114.4h0M1066.1 116.9h0M1066.3 117.6h0M1066.6 117.6h0M1066.8 117.3h0M1067.1 115.8h0M1067.3 118.2h0M1067.6 117.7h0M1067.8 117.1h0M1068.1 118.3h0M1068.3 116.3h0M1068.6 117.7h0M1068.8 116.6h0M1069.1 116.6h0M1069.3 115.4h0M1069.5 115.1h0M1069.8 118.5h0M1070 119.1h0M1070.3 119h0M1070.5 116.9h0M1070.8 116.9h0M1071 117.6h0M1071.3 117.7h0M1071.5 115.7h0M1071.8 116.6h0M1072 117.5h0M1072.3 117h0M1072.5 119.9h0M1072.7 116.3h0M1073 115.2h0M1073.2 117.8h0M1073.5 118.6h0M1073.7 116.4h0M1074 118.8h0M1074.2 118.1h0M1074.5 117.4h0M1074.7 118.5h0M1075 117.3h0M1075.2 121h0M1075.5 121.8h0M1075.7 117.4h0M1075.9 117.8h0M1076.2 118.2h0M1076.4 119.1h0M1076.7 118.6h0M1076.9 118h0M1077.2 120.3h0M1077.4 118.4h0M1077.7 119.9h0M1077.9 115.9h0M1078.2 118.4h0M1078.4 118.5h0M1078.7 117.5h0M1078.9 117.7h0M1079.1 117.7h0M1079.4 120.1h0M1079.6 118.9h0M1079.9 117.9h0M1080.1 118.9h0M1080.4 119.1h0M1080.6 120.2h0M1080.9 119.1h0M1081.1 117.4h0M1081.4 121.2h0M1081.6 121.5h0M1081.9 121.3h0M1082.1 121.9h0M1082.3 117.7h0M1082.6 116.9h0M1082.8 119h0M1083.1 119.7h0M1083.3 117.7h0M1083.6 118.3h0M1083.8 123.4h0M1084.1 120.1h0M1084.3 116.3h0M1084.6 120.7h0M1084.8 121.2h0M1085.1 121.1h0M1085.3 117.8h0M1085.5 121h0M1085.8 119.7h0M1086 118.5h0M1086.3 120.2h0M1086.5 120.5h0M1086.8 122.2h0M1087 122.5h0M1087.3 118.9h0M1087.5 122.8h0M1087.8 119h0M1088 118.8h0M1088.3 118.5h0M1088.5 121.2h0M1088.7 122.3h0M1089 120.8h0M1089.2 119h0M1089.5 120.2h0M1089.7 120.4h0M1090 121.4h0M1090.2 119.8h0M1090.5 124.5h0M1090.7 123.3h0M1091 118.8h0M1091.2 120.7h0M1091.5 120.4h0M1091.7 124.7h0M1092 123h0M1092.2 122.4h0M1092.4 121.9h0M1092.7 119.8h0M1092.9 122.8h0M1093.2 121.7h0M1093.4 123.1h0M1093.7 122.4h0M1093.9 121.4h0M1094.2 121.4h0M1094.4 120.4h0M1094.7 124.3h0M1094.9 120.9h0M1095.2 121.5h0M1095.4 123.7h0M1095.6 120.1h0M1095.9 123.6h0M1096.1 123.1h0M1096.4 121.6h0M1096.6 120.1h0M1096.9 123.3h0M1097.1 120.1h0M1097.4 122h0M1097.6 124.1h0M1097.9 121.6h0M1098.1 122.8h0M1098.4 124.2h0M1098.6 123.3h0M1098.8 120.8h0M1099.1 122.5h0M1099.3 123.6h0M1099.6 121.7h0M1099.8 125.8h0M1100.1 122.1h0M1100.3 120.9h0M1100.6 124h0M1100.8 125.7h0M1101.1 123.4h0M1101.3 121.5h0M1101.6 123.4h0M1101.8 122h0M1102 123.7h0M1102.3 125.2h0M1102.5 123.7h0M1102.8 122.8h0M1103 123.4h0M1103.3 125h0M1103.5 139.2h0M1103.8 126.6h0M1104 122.8h0M1104.3 120.8h0M1104.5 124.2h0M1104.8 123.4h0M1105 123.1h0M1105.2 124.1h0M1105.5 122.1h0M1105.7 126.4h0M1106 123.4h0M1106.2 123.4h0M1106.5 124.7h0M1106.7 126.8h0M1107 125.8h0M1107.2 124.6h0M1107.5 124.7h0M1107.7 125.7h0M1108 124.7h0M1108.2 127.8h0M1108.4 124.5h0M1108.7 123.8h0M1108.9 128.2h0M1109.2 121.1h0M1109.4 126.1h0M1109.7 125h0M1109.9 124.8h0M1110.2 128.8h0M1110.4 125.9h0M1110.7 125.5h0M1110.9 126.3h0M1111.2 127.5h0M1111.4 126.4h0M1111.6 124.8h0M1111.9 130.2h0M1112.1 125h0M1112.4 128.3h0M1112.6 126.3h0M1112.9 125.5h0M1113.1 125.4h0M1113.4 127.3h0M1113.6 128.1h0M1113.9 124h0M1114.1 131.3h0M1114.4 134.1h0M1114.6 119.5h0M1114.8 126.5h0M1115.1 128.3h0M1115.3 127h0M1115.6 123.9h0M1115.8 128.9h0M1116.1 131h0M1116.3 127h0M1116.6 132.1h0M1116.8 129h0M1117.1 128.8h0M1117.3 132.3h0M1117.6 134.1h0M1117.8 124.1h0M1118 141.7h0M1118.3 128.8h0M1118.5 125.1h0M1118.8 145.7h0M1119 157.4h0M1119.3 134.1h0M1119.5 124.7h0M1119.8 125.8h0M1120 132.2h0M1120.3 128.1h0M1120.5 148.7h0M1120.8 130.4h0M1121 127h0M1121.3 198.6h0M1121.5 154.1h0M1121.7 131.8h0M1122 131.6h0M1122.2 124.2h0M1122.5 125.5h0M1122.7 134.5h0M1123 130.6h0M1123.2 131.1h0M1123.5 129.1h0M1123.7 132.9h0M1124 133.9h0M1124.2 129.8h0M1124.5 152.2h0M1124.7 130.3h0M1124.9 138.1h0M1125.2 122.7h0M1125.4 146.4h0M1125.7 137.6h0M1125.9 133h0M1126.2 128.4h0M1126.4 128.2h0M1126.7 130.2h0M1126.9 129.6h0M1127.2 134.6h0M1127.4 130.8h0M1127.7 128.3h0M1127.9 127.7h0M1128.1 122.8h0M1128.4 129.5h0M1128.6 129.9h0M1128.9 132.2h0M1129.1 140.8h0M1129.4 131h0M1129.6 137.7h0M1129.9 136h0M1130.1 132.7h0M1130.4 135.4h0M1130.6 131.8h0M1130.9 134.3h0M1131.1 136.2h0M1131.3 133.6h0M1131.6 132.3h0M1131.8 138.2h0M1132.1 150.7h0M1132.3 128.8h0M1132.6 139.4h0M1132.8 131.6h0M1133.1 124.7h0M1133.3 143.9h0M1133.6 135.4h0M1133.8 137.9h0M1134.1 141.1h0M1134.3 129h0M1134.5 134.1h0M1134.8 126.8h0M1135 136.1h0M1135.3 135h0M1135.5 140.2h0M1135.8 132.7h0M1136 138.2h0M1136.3 132.1h0M1136.5 135.8h0M1136.8 142.8h0M1137 162.1h0M1137.3 136.6h0M1137.5 144.2h0M1137.7 125.7h0M1138 125.5h0M1138.2 134.2h0M1138.5 129.8h0M1138.7 127.2h0M1139 134.8h0M1139.2 126.2h0M1139.5 156.1h0M1139.7 138.7h0M1140 157.4h0M1140.2 133.4h0M1140.5 136.8h0M1140.7 129.1h0M1140.9 131h0M1141.2 137.6h0M1141.4 132.7h0M1141.7 129.9h0M1141.9 132.5h0M1142.2 128.1h0M1142.4 130.9h0M1142.7 138.9h0M1142.9 130.4h0M1143.2 132.8h0M1143.4 135.8h0M1143.7 132.2h0M1143.9 138.2h0M1144.1 147.3h0M1144.4 126.1h0M1144.6 139.3h0M1144.9 138.2h0M1145.1 151.2h0M1145.4 133.7h0M1145.6 126.9h0M1145.9 133.8h0M1146.1 141.8h0M1146.4 132.9h0M1146.6 139.6h0M1146.9 187.4h0M1147.1 138.7h0M1147.3 124.2h0M1147.6 135.1h0M1147.8 141.4h0M1148.1 133.8h0M1148.3 133.2h0M1148.6 134.5h0M1148.8 145.4h0M1149.1 160.8h0M1149.3 169.3h0M1149.6 130.4h0M1149.8 139.2h0M1150.1 134.2h0M1150.3 140.8h0M1150.5 129.5h0M1150.8 137.5h0M1151 131.7h0M1151.3 137.2h0M1151.5 132.9h0M1151.8 137.6h0M1152 139.3h0M1152.3 137h0M1152.5 147.2h0M1152.8 142.2h0M1153 127.7h0M1153.3 128.5h0M1153.5 130.7h0M1153.8 134.7h0M1154 139.2h0M1154.2 133.3h0M1154.5 130.6h0M1154.7 141.4h0M1155 152h0M1155.2 146.9h0M1155.5 146.8h0M1155.7 161.2h0M1156 144.6h0M1156.2 134.2h0M1156.5 129.4h0M1156.7 124.4h0M1157 137.2h0M1157.2 156.3h0M1157.4 134.1h0M1157.7 129.1h0M1157.9 125.1h0M1158.2 135.1h0M1158.4 134.5h0M1158.7 143.5h0M1158.9 135.3h0M1159.2 128.3h0M1159.4 158h0M1159.7 149.3h0M1159.9 143.6h0M1160.2 144.4h0M1160.4 134.4h0M1160.6 129.4h0M1160.9 132.8h0M1161.1 128h0M1161.4 145.9h0M1161.6 138h0M1161.9 133.2h0M1162.1 161.2h0M1162.4 135.3h0M1162.6 126.8h0M1162.9 132.3h0M1163.1 138.4h0M1163.4 127.1h0M1163.6 146.3h0M1163.8 138.5h0M1164.1 141.4h0M1164.3 138.7h0M1164.6 143.8h0M1164.8 141.9h0M1165.1 144.4h0M1165.3 134.7h0M1165.6 139.7h0M1165.8 130.1h0M1166.1 132.2h0M1166.3 140.2h0M1166.6 133.5h0M1166.8 134.8h0M1167 145.7h0M1167.3 132.7h0M1167.5 132.2h0M1167.8 139.2h0M1168 128.2h0M1168.3 136.4h0M1168.5 126.1h0M1168.8 138.6h0M1169 138.2h0M1169.3 143.9h0M1169.5 138.6h0M1169.8 133.5h0M1170 138.3h0M1170.2 137.4h0M1170.5 128.8h0M1170.7 143.2h0M1171 138.1h0M1171.2 139.9h0M1171.5 148.3h0M1171.7 124.1h0M1172 150.9h0M1172.2 141.5h0M1172.5 130.8h0M1172.7 136.7h0M1173 139.2h0M1173.2 141h0M1173.4 132.9h0M1173.7 172.7h0M1173.9 128.6h0M1174.2 127.1h0M1174.4 127h0M1174.7 131.5h0M1174.9 156.1h0M1175.2 141.6h0M1175.4 130.9h0M1175.7 123.3h0M1175.9 134.1h0M1176.2 138.7h0M1176.4 137.8h0M1176.6 134.4h0M1176.9 139h0M1177.1 133.5h0M1177.4 153.9h0M1177.6 149.5h0M1177.9 131h0M1178.1 131.2h0M1178.4 136h0M1178.6 129h0M1178.9 144.2h0M1179.1 129.7h0M1179.4 140.5h0M1179.6 134.5h0M1179.8 142.4h0M1180.1 133.5h0M1180.3 172.4h0M1180.6 143.8h0M1180.8 138.4h0M1181.1 140.1h0M1181.3 132.1h0M1181.6 136.5h0M1181.8 140.3h0M1182.1 146.6h0M1182.3 127.2h0M1182.6 132.2h0M1182.8 122.2h0M1183.1 135.9h0M1183.3 133.3h0M1183.5 135.1h0M1183.8 179.9h0M1184 136.3h0M1184.3 149h0M1184.5 122h0M1184.8 155.2h0M1185 141.5h0M1185.3 135.1h0M1185.5 154.8h0M1185.8 140.2h0M1186 166.4h0M1186.3 137.3h0M1186.5 129.8h0M1186.7 139.4h0M1187 126.7h0M1187.2 141.6h0M1187.5 141.3h0M1187.7 126.9h0M1188 130.3h0M1188.2 134.8h0M1188.5 131.8h0M1188.7 130.2h0M1189 136.2h0M1189.2 139.8h0M1189.5 135.6h0M1189.7 132.7h0M1189.9 138.1h0M1190.2 154.5h0M1190.4 137.5h0M1190.7 155.8h0M1190.9 133.3h0M1191.2 128.1h0M1191.4 172h0M1191.7 123.2h0M1191.9 128h0M1192.2 136h0M1192.4 131.8h0M1192.7 136.6h0M1192.9 133.9h0M1193.1 128.9h0M1193.4 141.1h0M1193.6 131.6h0M1193.9 133.4h0M1194.1 132.2h0M1194.4 134h0M1194.6 147.3h0M1194.9 136.8h0M1195.1 137.7h0M1195.4 160.4h0M1195.6 151.6h0M1195.9 127h0M1196.1 146.9h0M1196.3 130.8h0M1196.6 126.4h0M1196.8 136.9h0M1197.1 141.4h0M1197.3 132.2h0M1197.6 146.5h0M1197.8 126.6h0M1198.1 130.2h0M1198.3 141.6h0M1198.6 129h0M1198.8 145.5h0M1199.1 137h0M1199.3 131.6h0M1199.5 169.8h0M1199.8 177.3h0M1200 134.2h0M1200.3 141.2h0M1200.5 132.3h0M1200.8 132.9h0M1201 128.6h0M1201.3 134.1h0M1201.5 162h0M1201.8 144.5h0M1202 134.9h0M1202.3 131.4h0M1202.5 164.4h0M1202.7 119.9h0M1203 122.6h0M1203.2 141.9h0M1203.5 139.6h0M1203.7 141.6h0M1204 142.7h0M1204.2 140.4h0M1204.5 139.1h0M1204.7 130h0M1205 129.4h0M1205.2 144h0M1205.5 132.1h0M1205.7 135.8h0M1205.9 124.3h0M1206.2 166.7h0M1206.4 151.5h0M1206.7 133.6h0M1206.9 123.5h0M1207.2 141.5h0M1207.4 137h0M1207.7 149h0M1207.9 130.1h0M1208.2 131.7h0M1208.4 124.5h0M1208.7 136.8h0M1208.9 158.3h0M1209.1 131.5h0M1209.4 139.5h0M1209.6 142.4h0M1209.9 139.7h0M1210.1 144.8h0M1210.4 143.4h0M1210.6 140.9h0M1210.9 137.9h0M1211.1 133.1h0M1211.4 128.3h0M1211.6 122.4h0M1211.9 128.6h0M1212.1 124.5h0M1212.3 129.4h0M1212.6 136.6h0M1212.8 132.4h0M1213.1 131.2h0M1213.3 150h0M1213.6 136.8h0M1213.8 134.7h0M1214.1 142.1h0M1214.3 136.8h0M1214.6 128.5h0M1214.8 140.7h0M1215.1 141.3h0M1215.3 133.6h0M1215.6 136.3h0M1215.8 134.9h0M1216 128.8h0M1216.3 134.7h0M1216.5 121.6h0M1216.8 135.9h0M1217 172.1h0M1217.3 127.7h0M1217.5 131.8h0M1217.8 139.5h0M1218 131.8h0M1218.3 124.4h0M1218.5 129.8h0M1218.8 132.4h0M1219 146.2h0M1219.2 122.9h0M1219.5 137.1h0M1219.7 169h0M1220 156.6h0M1220.2 129.7h0M1220.5 134.6h0M1220.7 130.8h0M1221 132.8h0M1221.2 151.7h0M1221.5 129.7h0M1221.7 137.5h0M1222 149.7h0M1222.2 133.7h0M1222.4 132.4h0M1222.7 130.6h0M1222.9 129.2h0M1223.2 132.8h0M1223.4 130.9h0M1223.7 125.3h0M1223.9 127.3h0M1224.2 121.9h0M1224.4 132.1h0M1224.7 127.9h0M1224.9 153.7h0M1225.2 137.6h0M1225.4 124.7h0M1225.6 135.4h0M1225.9 129.9h0M1226.1 117.6h0M1226.4 132.8h0M1226.6 145.3h0M1226.9 130.3h0M1227.1 134.9h0M1227.4 145h0M1227.6 130.1h0M1227.9 117.7h0M1228.1 123.6h0M1228.4 135.4h0M1228.6 161.3h0M1228.8 132.8h0M1229.1 130.9h0M1229.3 144.6h0M1229.6 124.5h0M1229.8 127.8h0M1230.1 135.2h0M1230.3 129h0M1230.6 129.9h0M1230.8 136.8h0M1231.1 132.2h0M1231.3 129.2h0M1231.6 133.2h0M1231.8 123.2h0M1232 134.8h0M1232.3 132.7h0M1232.5 119.3h0M1232.8 137.9h0M1233 136.8h0M1233.3 134.3h0M1233.5 182.3h0M1233.8 139.6h0M1234 141.6h0M1234.3 126.1h0M1234.5 134.1h0M1234.8 129.6h0M1235 136.6h0M1235.2 127.5h0M1235.5 138.1h0M1235.7 142.3h0M1236 136h0M1236.2 165.9h0M1236.5 134.8h0M1236.7 126.5h0M1237 136.5h0M1237.2 130.6h0M1237.5 116h0M1237.7 162.9h0M1238 162.3h0M1238.2 144.2h0M1238.4 126.5h0M1238.7 129.6h0M1238.9 146.1h0M1239.2 149.2h0M1239.4 182.1h0M1239.7 134.9h0M1239.9 134.7h0M1240.2 133.9h0M1240.4 138.4h0M1240.7 134.8h0M1240.9 134.9h0M1241.2 129.8h0M1241.4 134.6h0M1241.6 155.7h0M1241.9 128.6h0M1242.1 134.2h0M1242.4 139.1h0M1242.6 134.1h0M1242.9 136h0M1243.1 122.3h0M1243.4 127.4h0M1243.6 135.1h0M1243.9 135.1h0M1244.1 145.9h0M1244.4 123.9h0M1244.6 126.5h0M1244.9 143.2h0M1245.1 128.3h0M1245.3 127.6h0M1245.6 128h0M1245.8 133.2h0M1246.1 140.7h0M1246.3 137.3h0M1246.6 130.5h0M1246.8 131.4h0M1247.1 133.8h0M1247.3 133.9h0M1247.6 132.6h0M1247.8 131.7h0M1248.1 138.7h0M1248.3 137.7h0M1248.5 128.9h0M1248.8 134h0M1249 131.6h0M1249.3 143.5h0M1249.5 133.4h0M1249.8 133.9h0M1250 130.1h0M1250.3 125.1h0M1250.5 128h0M1250.8 129.3h0M1251 138.4h0M1251.3 148.6h0M1251.5 128.5h0M1251.7 140.6h0M1252 140.2h0M1252.2 147.2h0M1252.5 124.3h0M1252.7 176.9h0M1253 120.8h0M1253.2 137.8h0M1253.5 129.8h0M1253.7 136.3h0M1254 138.8h0M1254.2 163.5h0M1254.5 150.4h0M1254.7 136.4h0M1254.9 133.7h0M1255.2 130.1h0M1255.4 128h0M1255.7 122.9h0M1255.9 133.9h0M1256.2 126.6h0M1256.4 124h0" stroke="#f5a8ee" stroke-width="2.5" stroke-linecap="round" fill="none"/>
<circle cx="1143.3" cy="261" r="1.3" fill="#f5a8ee"/>
<path d="M837.9 71.6C842.2 71.9 855.1 72.4 863.7 73.2C872.3 74 879.8 74.6 889.4 76.4C899 78.2 910.9 81.2 921.6 83.8C932.3 86.4 943.1 89.2 953.8 91.9C964.5 94.6 975.2 97.2 986 99.9C996.8 102.6 1007.5 105.5 1018.3 108C1029 110.5 1039.8 112.8 1050.5 115.1C1061.2 117.3 1073 119.5 1082.7 121.5C1092.4 123.5 1101 125.4 1108.5 127.3C1116 129.2 1121.4 131.5 1127.8 133.1C1134.2 134.7 1140.7 136.1 1147.1 137C1153.5 137.9 1160 138.2 1166.4 138.6C1172.9 139 1179.3 139.2 1185.8 139.6C1192.2 140 1198.7 140.3 1205.1 141.2C1211.5 142.1 1218 143.6 1224.4 145C1230.9 146.4 1238.6 148.7 1243.8 149.9C1249 151.1 1253.7 152 1255.7 152.4" stroke="#a11db5" stroke-width="3.4" stroke-linecap="round" stroke-linejoin="round" fill="none"/>
<circle cx="867.7" cy="255" r="1.3" fill="#f5a8ee"/>
<text x="899.7" y="263" font-size="23" text-anchor="start" fill="#f5a8ee" textLength="205.5" lengthAdjust="spacingAndGlyphs">Exp data FXN-28F6</text>
<path d="M849.2 296.7H882.2" stroke="#a11db5" stroke-width="3.2" fill="none"/>
<text x="899.3" y="304.5" font-size="23" fill="#a11db5" textLength="266.5" lengthAdjust="spacingAndGlyphs"><tspan font-style="italic">Ab initio</tspan> Model FXN-28F6</text>
<path d="M216.3 489V767.6M204.3 767.6H651M204.3 490.2H216.3M204.3 559.6H216.3M204.3 628.9H216.3M204.3 698.3H216.3M204.3 767.6H216.3" stroke="#000" stroke-width="2.7" fill="none"/>
<path d="M216.3 767.6v12M228.7 767.6v6.5M241.1 767.6v6.5M253.6 767.6v6.5M266 767.6v6.5M278.4 767.6v6.5M290.8 767.6v6.5M303.2 767.6v6.5M315.7 767.6v6.5M328.1 767.6v6.5M340.5 767.6v12M352.9 767.6v6.5M365.3 767.6v6.5M377.8 767.6v6.5M390.2 767.6v6.5M402.6 767.6v6.5M415 767.6v6.5M427.4 767.6v6.5M439.9 767.6v6.5M452.3 767.6v6.5M464.7 767.6v12M477.1 767.6v6.5M489.5 767.6v6.5M502 767.6v6.5M514.4 767.6v6.5M526.8 767.6v6.5M539.2 767.6v6.5M551.6 767.6v6.5M564.1 767.6v6.5M576.5 767.6v6.5M588.9 767.6v12M601.3 767.6v6.5M613.7 767.6v6.5M626.2 767.6v6.5M638.6 767.6v6.5" stroke="#000" stroke-width="2.4" fill="none"/>
<text x="199" y="498.3" font-size="22.5" font-weight="bold" text-anchor="end" fill="#000">0</text>
<text x="199" y="567.7" font-size="22.5" font-weight="bold" text-anchor="end" fill="#000">-2</text>
<text x="199" y="637" font-size="22.5" font-weight="bold" text-anchor="end" fill="#000">-4</text>
<text x="199" y="706.4" font-size="22.5" font-weight="bold" text-anchor="end" fill="#000">-6</text>
<text x="199" y="775.7" font-size="22.5" font-weight="bold" text-anchor="end" fill="#000">-8</text>
<text x="216.3" y="803.6" font-size="22.5" font-weight="bold" text-anchor="middle" fill="#000">0.0</text>
<text x="340.5" y="803.6" font-size="22.5" font-weight="bold" text-anchor="middle" fill="#000">0.1</text>
<text x="464.7" y="803.6" font-size="22.5" font-weight="bold" text-anchor="middle" fill="#000">0.2</text>
<text x="588.9" y="803.6" font-size="22.5" font-weight="bold" text-anchor="middle" fill="#000">0.3</text>
<text x="433.6" y="834.5" font-size="24" font-weight="bold" text-anchor="middle" fill="#000">q</text>
<text transform="translate(162.7 628.9) rotate(-90)" font-size="24" font-weight="bold" text-anchor="middle">logI(q)</text>
<path d="M221.9 541.2h0M222.1 541h0M222.4 541.5h0M222.6 541.1h0M222.9 541.4h0M223.1 541.4h0M223.4 540.9h0M223.6 541.3h0M223.9 541.4h0M224.1 541.2h0M224.3 541.2h0M224.6 541.4h0M224.8 541.3h0M225.1 541.6h0M225.3 541.5h0M225.6 541.6h0M225.8 541.8h0M226.1 541.8h0M226.3 541.8h0M226.6 541.6h0M226.8 541.6h0M227 541.6h0M227.3 541.6h0M227.5 541.9h0M227.8 541.6h0M228 541.6h0M228.3 541.5h0M228.5 541.8h0M228.8 541.7h0M229 542.1h0M229.3 541.8h0M229.5 542.2h0M229.7 542h0M230 541.5h0M230.2 542.2h0M230.5 541.6h0M230.7 541.7h0M231 541.9h0M231.2 541.7h0M231.5 541.7h0M231.7 541.6h0M232 541.9h0M232.2 542h0M232.5 542h0M232.7 542.1h0M232.9 541.9h0M233.2 542.1h0M233.4 541.7h0M233.7 542.4h0M233.9 542.2h0M234.2 542.2h0M234.4 542.4h0M234.7 541.6h0M234.9 542.5h0M235.2 542.1h0M235.4 542.2h0M235.6 541.7h0M235.9 542.5h0M236.1 541.9h0M236.4 542.3h0M236.6 542.2h0M236.9 542.3h0M237.1 542h0M237.4 542.4h0M237.6 542.2h0M237.9 542.2h0M238.1 541.9h0M238.3 542.8h0M238.6 542h0M238.8 542.1h0M239.1 542.4h0M239.3 542.3h0M239.6 542.4h0M239.8 542h0M240.1 542.3h0M240.3 542.4h0M240.6 542.4h0M240.8 542.5h0M241 542.5h0M241.3 542.6h0M241.5 542h0M241.8 542.9h0M242 543.2h0M242.3 542.5h0M242.5 542.5h0M242.8 542.5h0M243 542.6h0M243.3 542.6h0M243.5 542.5h0M243.7 542.4h0M244 542.7h0M244.2 542.7h0M244.5 542.2h0M244.7 542.5h0M245 542.9h0M245.2 542.2h0M245.5 542.5h0M245.7 542.8h0M246 543h0M246.2 542.7h0M246.5 542.9h0M246.7 543h0M246.9 543.1h0M247.2 542.9h0M247.4 542.6h0M247.7 542.9h0M247.9 543.2h0M248.2 542.7h0M248.4 542.9h0M248.7 542.7h0M248.9 542.7h0M249.2 543h0M249.4 543h0M249.6 543.1h0M249.9 543.3h0M250.1 543h0M250.4 542.9h0M250.6 543.2h0M250.9 543.3h0M251.1 543.3h0M251.4 543.5h0M251.6 543.5h0M251.9 543.5h0M252.1 543.6h0M252.3 543.6h0M252.6 543.8h0M252.8 543.5h0M253.1 543.6h0M253.3 543.9h0M253.6 544.2h0M253.8 543.7h0M254.1 543.5h0M254.3 543.9h0M254.6 543.9h0M254.8 544h0M255 543.8h0M255.3 544.1h0M255.5 543.8h0M255.8 544.1h0M256 543.9h0M256.3 544.1h0M256.5 544.2h0M256.8 544.5h0M257 544.4h0M257.3 544.3h0M257.5 544.2h0M257.7 544.3h0M258 544.5h0M258.2 544.3h0M258.5 544.2h0M258.7 544.5h0M259 544.6h0M259.2 544.6h0M259.5 544.4h0M259.7 544.5h0M260 544.9h0M260.2 544.6h0M260.5 544.9h0M260.7 545h0M260.9 544.6h0M261.2 544.7h0M261.4 545.1h0M261.7 544.9h0M261.9 544.9h0M262.2 545.2h0M262.4 545.1h0M262.7 545h0M262.9 545.5h0M263.2 545.1h0M263.4 545.1h0M263.6 545.2h0M263.9 545.6h0M264.1 545.3h0M264.4 545.6h0M264.6 545.3h0M264.9 545.3h0M265.1 545.5h0M265.4 545.7h0M265.6 545.7h0M265.9 545.4h0M266.1 545.8h0M266.3 545.6h0M266.6 545.6h0M266.8 545.8h0M267.1 545.3h0M267.3 545.8h0M267.6 545.4h0M267.8 546.3h0M268.1 546.4h0M268.3 545.8h0M268.6 545.9h0M268.8 546.1h0M269 546.1h0M269.3 546.6h0M269.5 546.3h0M269.8 546.5h0M270 546.3h0M270.3 546.1h0M270.5 546.3h0M270.8 546.3h0M271 546.6h0M271.3 546.6h0M271.5 546.5h0M271.8 546.6h0M272 546.3h0M272.2 546.8h0M272.5 546.3h0M272.7 546.9h0M273 546.5h0M273.2 546.9h0M273.5 546.5h0M273.7 546.8h0M274 546.8h0M274.2 546.8h0M274.5 547.1h0M274.7 547.2h0M274.9 547.5h0M275.2 546.8h0M275.4 547.3h0M275.7 547.3h0M275.9 547.2h0M276.2 546.8h0M276.4 547.6h0M276.7 547.3h0M276.9 547.5h0M277.2 547.3h0M277.4 547.8h0M277.6 547.6h0M277.9 547.3h0M278.1 547.2h0M278.4 547.3h0M278.6 547.8h0M278.9 547.7h0M279.1 547.7h0M279.4 548h0M279.6 548.1h0M279.9 547.7h0M280.1 547.8h0M280.3 547.9h0M280.6 547.7h0M280.8 548.2h0M281.1 547.9h0M281.3 548.1h0M281.6 548.2h0M281.8 548.1h0M282.1 548.3h0M282.3 548.3h0M282.6 548.4h0M282.8 548.1h0M283 548.6h0M283.3 548.4h0M283.5 548.6h0M283.8 548.9h0M284 548.7h0M284.3 549.1h0M284.5 548.7h0M284.8 549.2h0M285 549.2h0M285.3 549.1h0M285.5 549.1h0M285.8 549.1h0M286 549.2h0M286.2 549.5h0M286.5 549.7h0M286.7 549.5h0M287 549.6h0M287.2 549.9h0M287.5 549.6h0M287.7 549.8h0M288 550.1h0M288.2 549.9h0M288.5 550.3h0M288.7 550.3h0M288.9 550.1h0M289.2 550.6h0M289.4 550.3h0M289.7 550.7h0M289.9 550.3h0M290.2 550.7h0M290.4 550.5h0M290.7 551h0M290.9 550.8h0M291.2 550.6h0M291.4 550.7h0M291.6 551.3h0M291.9 550.8h0M292.1 550.9h0M292.4 551.2h0M292.6 550.9h0M292.9 551.5h0M293.1 551.3h0M293.4 551.1h0M293.6 551.2h0M293.9 551.2h0M294.1 551.8h0M294.3 552h0M294.6 551.6h0M294.8 552.1h0M295.1 551.9h0M295.3 552.2h0M295.6 551.7h0M295.8 551.9h0M296.1 552h0M296.3 552.2h0M296.6 552.2h0M296.8 552.4h0M297 552.3h0M297.3 552.4h0M297.5 552.4h0M297.8 552.7h0M298 552.2h0M298.3 552.6h0M298.5 552.5h0M298.8 552.6h0M299 553.1h0M299.3 553.3h0M299.5 552.8h0M299.8 553.2h0M300 553.1h0M300.2 553.3h0M300.5 553.3h0M300.7 553.6h0M301 553.4h0M301.2 553.6h0M301.5 553.6h0M301.7 554.1h0M302 553.5h0M302.2 553.7h0M302.5 554.2h0M302.7 554h0M302.9 553.9h0M303.2 553.9h0M303.4 554.1h0M303.7 553.9h0M303.9 554.2h0M304.2 554.5h0M304.4 554.5h0M304.7 554.3h0M304.9 554.6h0M305.2 554.4h0M305.4 554.4h0M305.6 554.6h0M305.9 554.5h0M306.1 554.9h0M306.4 554.9h0M306.6 555.1h0M306.9 555.1h0M307.1 555.4h0M307.4 555.3h0M307.6 555.4h0M307.9 555.6h0M308.1 555.3h0M308.3 555.3h0M308.6 555.6h0M308.8 555.3h0M309.1 555.4h0M309.3 555.5h0M309.6 555.9h0M309.8 556.1h0M310.1 555.8h0M310.3 555.9h0M310.6 555.9h0M310.8 556h0M311 555.9h0M311.3 556.3h0M311.5 556.1h0M311.8 556.5h0M312 556.9h0M312.3 556.6h0M312.5 556.2h0M312.8 557h0M313 556.5h0M313.3 556.9h0M313.5 556.9h0M313.8 556.9h0M314 556.9h0M314.2 557.2h0M314.5 557.1h0M314.7 557.1h0M315 557.1h0M315.2 557.5h0M315.5 557.1h0M315.7 557.1h0M316 557.1h0M316.2 557.9h0M316.5 557.7h0M316.7 558.2h0M316.9 557.8h0M317.2 557.8h0M317.4 558.2h0M317.7 558.4h0M317.9 558.1h0M318.2 558.1h0M318.4 558.5h0M318.7 558.4h0M318.9 559h0M319.2 558.7h0M319.4 558.6h0M319.6 558.6h0M319.9 558.4h0M320.1 559.1h0M320.4 559.4h0M320.6 558.9h0M320.9 559.2h0M321.1 559.1h0M321.4 559h0M321.6 559.1h0M321.9 559h0M322.1 559.1h0M322.3 559.8h0M322.6 559.6h0M322.8 559.2h0M323.1 559.8h0M323.3 559.6h0M323.6 559.9h0M323.8 560h0M324.1 559.7h0M324.3 559.9h0M324.6 560.2h0M324.8 560h0M325.1 560.6h0M325.3 560.5h0M325.5 560.3h0M325.8 560.5h0M326 560.8h0M326.3 560.6h0M326.5 560.7h0M326.8 560.6h0M327 560.7h0M327.3 561h0M327.5 561.1h0M327.8 561.1h0M328 561.2h0M328.2 561h0M328.5 561h0M328.7 561.1h0M329 561.4h0M329.2 561.6h0M329.5 561.4h0M329.7 561.8h0M330 561.7h0M330.2 562.2h0M330.5 562h0M330.7 561.7h0M330.9 562.3h0M331.2 562.5h0M331.4 562.3h0M331.7 562h0M331.9 562.1h0M332.2 562.5h0M332.4 562.6h0M332.7 562.6h0M332.9 562.9h0M333.2 562.7h0M333.4 562.9h0M333.6 563.2h0M333.9 563.1h0M334.1 563.1h0M334.4 563.3h0M334.6 563.4h0M334.9 563.1h0M335.1 562.9h0M335.4 563.5h0M335.6 563.6h0M335.9 563.5h0M336.1 563.7h0M336.3 563.9h0M336.6 563.5h0M336.8 564.1h0M337.1 564.1h0M337.3 564.1h0M337.6 564.3h0M337.8 564.2h0M338.1 564.1h0M338.3 564h0M338.6 564.2h0M338.8 564.4h0M339.1 564.8h0M339.3 564.6h0M339.5 564.9h0M339.8 564.8h0M340 564.6h0M340.3 564.8h0M340.5 565h0M340.8 565.2h0M341 565.1h0M341.3 565.2h0M341.5 565.5h0M341.8 565.4h0M342 565.2h0M342.2 565.8h0M342.5 565.6h0M342.7 565.9h0M343 565.4h0M343.2 565.6h0M343.5 565.7h0M343.7 565.8h0M344 565.9h0M344.2 566h0M344.5 566.5h0M344.7 566.2h0M344.9 566.2h0M345.2 566.7h0M345.4 566.3h0M345.7 566.4h0M345.9 566.9h0M346.2 566.8h0M346.4 566.8h0M346.7 566.9h0M346.9 566.8h0M347.2 567.2h0M347.4 567.1h0M347.6 567h0M347.9 567h0M348.1 567.2h0M348.4 567.4h0M348.6 567.2h0M348.9 567.9h0M349.1 567.3h0M349.4 567.7h0M349.6 568h0M349.9 567.9h0M350.1 568.3h0M350.3 568.4h0M350.6 568.1h0M350.8 568.2h0M351.1 567.9h0M351.3 568.4h0M351.6 568.6h0M351.8 568.6h0M352.1 568h0M352.3 568.5h0M352.6 568.7h0M352.8 568.9h0M353.1 569h0M353.3 568.8h0M353.5 568.8h0M353.8 568.6h0M354 568.7h0M354.3 569h0M354.5 569.3h0M354.8 569.4h0M355 569.9h0M355.3 569.6h0M355.5 569.3h0M355.8 569.6h0M356 569.5h0M356.2 570h0M356.5 569.5h0M356.7 569.7h0M357 569.9h0M357.2 569.8h0M357.5 570.6h0M357.7 570.3h0M358 570.4h0M358.2 569.7h0M358.5 570.4h0M358.7 570.5h0M358.9 570.2h0M359.2 570.8h0M359.4 570.2h0M359.7 570.9h0M359.9 570.8h0M360.2 571.1h0M360.4 570.7h0M360.7 571.6h0M360.9 570.8h0M361.2 571.4h0M361.4 571.2h0M361.6 571.6h0M361.9 571.3h0M362.1 571.4h0M362.4 571.3h0M362.6 571.5h0M362.9 571.4h0M363.1 571.4h0M363.4 571.9h0M363.6 572.2h0M363.9 572.3h0M364.1 571.8h0M364.3 572.2h0M364.6 571.8h0M364.8 572.2h0M365.1 572.6h0M365.3 572.1h0M365.6 571.8h0M365.8 572.6h0M366.1 572.9h0M366.3 572.9h0M366.6 572.4h0M366.8 573h0M367.1 573h0M367.3 572.6h0M367.5 572.9h0M367.8 573h0M368 573.3h0M368.3 573.4h0M368.5 573.1h0M368.8 573.2h0M369 573.1h0M369.3 573.6h0M369.5 573.3h0M369.8 573.3h0M370 573.5h0M370.2 573.4h0M370.5 573.3h0M370.7 573.7h0M371 573.8h0M371.2 574.3h0M371.5 573.8h0M371.7 574.1h0M372 574.2h0M372.2 574.5h0M372.5 574h0M372.7 573.3h0M372.9 574.2h0M373.2 574.4h0M373.4 574.3h0M373.7 574.8h0M373.9 574.6h0M374.2 574.9h0M374.4 575h0M374.7 574.7h0M374.9 574.8h0M375.2 575h0M375.4 575.3h0M375.6 574.9h0M375.9 575.6h0M376.1 574.8h0M376.4 575.4h0M376.6 575.3h0M376.9 575h0M377.1 575.2h0M377.4 576h0M377.6 575.6h0M377.9 575.4h0M378.1 576.1h0M378.4 576.8h0M378.6 575.8h0M378.8 575.8h0M379.1 575.7h0M379.3 575.9h0M379.6 575.9h0M379.8 575.9h0M380.1 575.5h0M380.3 575.9h0M380.6 576h0M380.8 576.5h0M381.1 575.8h0M381.3 576.5h0M381.5 576.1h0M381.8 577.5h0M382 576.4h0M382.3 576.7h0M382.5 576.9h0M382.8 576.1h0M383 576.6h0M383.3 576.9h0M383.5 577.2h0M383.8 576h0M384 576.6h0M384.2 576.7h0M384.5 577.5h0M384.7 576.5h0M385 577h0M385.2 577.4h0M385.5 577.4h0M385.7 578.3h0M386 577.1h0M386.2 578.1h0M386.5 577.1h0M386.7 577.9h0M386.9 578h0M387.2 577.5h0M387.4 577.7h0M387.7 578.5h0M387.9 578h0M388.2 577.6h0M388.4 578.2h0M388.7 578.8h0M388.9 578.3h0M389.2 578.7h0M389.4 578.6h0M389.6 578.3h0M389.9 578.4h0M390.1 578.5h0M390.4 579.4h0M390.6 578.3h0M390.9 578.7h0M391.1 578.9h0M391.4 578.6h0M391.6 577.6h0M391.9 579.6h0M392.1 579.8h0M392.4 578.5h0M392.6 579.5h0M392.8 578.3h0M393.1 579.7h0M393.3 579.5h0M393.6 578.7h0M393.8 578.7h0M394.1 579.1h0M394.3 579.1h0M394.6 579.5h0M394.8 579.8h0M395.1 579.7h0M395.3 578.8h0M395.5 579.2h0M395.8 579.7h0M396 579.6h0M396.3 579.3h0M396.5 579.1h0M396.8 580h0M397 580.1h0M397.3 579.8h0M397.5 578.4h0M397.8 580h0M398 579.4h0M398.2 581.3h0M398.5 579.8h0M398.7 581.4h0M399 581.2h0M399.2 580.9h0M399.5 580.7h0M399.7 580.5h0M400 580.4h0M400.2 580.6h0M400.5 581.1h0M400.7 579h0M400.9 580.6h0M401.2 580.5h0M401.4 579.6h0M401.7 580.4h0M401.9 580.7h0M402.2 581h0M402.4 579.9h0M402.7 582.1h0M402.9 582.1h0M403.2 581.3h0M403.4 583h0M403.6 582.1h0M403.9 580.8h0M404.1 582h0M404.4 581.6h0M404.6 581.2h0M404.9 582.7h0M405.1 581.7h0M405.4 582.4h0M405.6 582.8h0M405.9 582.3h0M406.1 582.1h0M406.4 582.5h0M406.6 582.7h0M406.8 581.5h0M407.1 581.4h0M407.3 581.9h0M407.6 582.5h0M407.8 583.3h0M408.1 583.2h0M408.3 583.5h0M408.6 582.5h0M408.8 582h0M409.1 582h0M409.3 582.9h0M409.5 583.2h0M409.8 582.8h0M410 582.9h0M410.3 582.6h0M410.5 581.9h0M410.8 583.8h0M411 581.5h0M411.3 585.1h0M411.5 584.9h0M411.8 584.8h0M412 584.4h0M412.2 583.8h0M412.5 581.9h0M412.7 584.3h0M413 582.8h0M413.2 584.2h0M413.5 583.8h0M413.7 584.9h0M414 582h0M414.2 584.1h0M414.5 584.7h0M414.7 582.2h0M414.9 584.1h0M415.2 584h0M415.4 584.6h0M415.7 585.2h0M415.9 585.9h0M416.2 584.8h0M416.4 583.2h0M416.7 584.4h0M416.9 585h0M417.2 583.9h0M417.4 585.8h0M417.6 583.7h0M417.9 585.1h0M418.1 585.9h0M418.4 584.6h0M418.6 584.8h0M418.9 585.7h0M419.1 585.2h0M419.4 584.5h0M419.6 584.2h0M419.9 586.4h0M420.1 588.2h0M420.4 583.7h0M420.6 586h0M420.8 586.3h0M421.1 585.5h0M421.3 586.4h0M421.6 585h0M421.8 587.3h0M422.1 586.4h0M422.3 587.5h0M422.6 584.8h0M422.8 586.6h0M423.1 585.3h0M423.3 585.1h0M423.5 587.8h0M423.8 586.8h0M424 585.9h0M424.3 586.7h0M424.5 586.9h0M424.8 586h0M425 586h0M425.3 587.6h0M425.5 587.2h0M425.8 586.4h0M426 587h0M426.2 587.1h0M426.5 588.5h0M426.7 585.5h0M427 587.7h0M427.2 587.2h0M427.5 587.6h0M427.7 587.6h0M428 587.5h0M428.2 588.7h0M428.5 587.4h0M428.7 586.6h0M428.9 587.5h0M429.2 587.2h0M429.4 587.5h0M429.7 588.1h0M429.9 586.2h0M430.2 589.1h0M430.4 587.9h0M430.7 587.2h0M430.9 588.1h0M431.2 589.8h0M431.4 589.9h0M431.7 586.9h0M431.9 589.8h0M432.1 588.8h0M432.4 588.2h0M432.6 588.8h0M432.9 591.1h0M433.1 591.3h0M433.4 589.2h0M433.6 590.1h0M433.9 589.6h0M434.1 589.2h0M434.4 589.2h0M434.6 591.1h0M434.8 591.5h0M435.1 588.4h0M435.3 590.4h0M435.6 591.1h0M435.8 592.2h0M436.1 589.2h0M436.3 591.4h0M436.6 591.3h0M436.8 589.2h0M437.1 589.7h0M437.3 589.4h0M437.5 591.8h0M437.8 593.9h0M438 591.6h0M438.3 590.8h0M438.5 591.3h0M438.8 589.4h0M439 590.1h0M439.3 592h0M439.5 590h0M439.8 591h0M440 591.5h0M440.2 589.4h0M440.5 593.2h0M440.7 589.7h0M441 589.7h0M441.2 593.9h0M441.5 591.5h0M441.7 591.5h0M442 592.9h0M442.2 592.2h0M442.5 592.6h0M442.7 591.5h0M442.9 592.5h0M443.2 594.7h0M443.4 590.3h0M443.7 590.8h0M443.9 593.2h0M444.2 591h0M444.4 589.4h0M444.7 594.5h0M444.9 593h0M445.2 593.2h0M445.4 591.8h0M445.7 593.1h0M445.9 594.8h0M446.1 591.1h0M446.4 593.4h0M446.6 592h0M446.9 589.8h0M447.1 594.3h0M447.4 593.9h0M447.6 592.1h0M447.9 593.6h0M448.1 592.8h0M448.4 593.7h0M448.6 589.6h0M448.8 592.9h0M449.1 593.4h0M449.3 593.8h0M449.6 593.5h0M449.8 596.6h0M450.1 594.7h0M450.3 593.2h0M450.6 596.3h0M450.8 594.5h0M451.1 594.8h0M451.3 595.5h0M451.5 591h0M451.8 593.8h0M452 594.5h0M452.3 596.3h0M452.5 595h0M452.8 595.7h0M453 595.5h0M453.3 595.1h0M453.5 591.6h0M453.8 593.5h0M454 593h0M454.2 593.6h0M454.5 591.4h0M454.7 597h0M455 598.1h0M455.2 595.8h0M455.5 595.8h0M455.7 596.2h0M456 597.4h0M456.2 595.4h0M456.5 593.8h0M456.7 596.3h0M456.9 597.1h0M457.2 594.9h0M457.4 597.4h0M457.7 597.6h0M457.9 596.6h0M458.2 601h0M458.4 594.1h0M458.7 597.5h0M458.9 596.6h0M459.2 597h0M459.4 596.9h0M459.7 600h0M459.9 594.8h0M460.1 596.9h0M460.4 597.5h0M460.6 592.7h0M460.9 600.3h0M461.1 597h0M461.4 598.5h0M461.6 601h0M461.9 595.1h0M462.1 601.3h0M462.4 598.4h0M462.6 598.9h0M462.8 598.5h0M463.1 600.6h0M463.3 596.6h0M463.6 598.7h0M463.8 601.5h0M464.1 601.4h0M464.3 598.9h0M464.6 601.5h0M464.8 598.8h0M465.1 599.1h0M465.3 600.9h0M465.5 603.4h0M465.8 602.4h0M466 599.5h0M466.3 601.2h0M466.5 597h0M466.8 601.3h0M467 599.9h0M467.3 599.5h0M467.5 600.7h0M467.8 600.4h0M468 599.2h0M468.2 601.4h0M468.5 600.7h0M468.7 602.1h0M469 597.8h0M469.2 601.3h0M469.5 600.2h0M469.7 607.5h0M470 602.9h0M470.2 604.2h0M470.5 602.1h0M470.7 603.2h0M470.9 604.4h0M471.2 603.1h0M471.4 601.1h0M471.7 600.7h0M471.9 603.9h0M472.2 600.9h0M472.4 604.3h0M472.7 602h0M472.9 605h0M473.2 601.4h0M473.4 599h0M473.7 604.2h0M473.9 601.4h0M474.1 606.8h0M474.4 605.3h0M474.6 598.8h0M474.9 604.4h0M475.1 603.3h0M475.4 607.7h0M475.6 604.6h0M475.9 606.3h0M476.1 602.4h0M476.4 606h0M476.6 599.8h0M476.8 607.4h0M477.1 604.6h0M477.3 609.5h0M477.6 606.3h0M477.8 603.1h0M478.1 605.9h0M478.3 608.5h0M478.6 604.9h0M478.8 604.1h0M479.1 605.3h0M479.3 604.2h0M479.5 609.4h0M479.8 602.7h0M480 605.1h0M480.3 611.2h0M480.5 602.9h0M480.8 608h0M481 606h0M481.3 611.4h0M481.5 608.7h0M481.8 611.3h0M482 605.7h0M482.2 608.1h0M482.5 609.8h0M482.7 608.7h0M483 605.5h0M483.2 609.8h0M483.5 607h0M483.7 606.3h0M484 610.5h0M484.2 610.6h0M484.5 606.4h0M484.7 609.5h0M485 607.2h0M485.2 606.5h0M485.4 610.3h0M485.7 606.5h0M485.9 613.4h0M486.2 606h0M486.4 606.2h0M486.7 608.1h0M486.9 610.8h0M487.2 614.7h0M487.4 610h0M487.7 609.7h0M487.9 610.4h0M488.1 607.9h0M488.4 612.5h0M488.6 612.8h0M488.9 606.9h0M489.1 611h0M489.4 610.4h0M489.6 635.9h0M489.9 610.5h0M490.1 609.9h0M490.4 612.9h0M490.6 609.9h0M490.8 612.3h0M491.1 611.6h0M491.3 611.8h0M491.6 612.4h0M491.8 612h0M492.1 609.8h0M492.3 614.1h0M492.6 613.4h0M492.8 614.5h0M493.1 611.1h0M493.3 612.9h0M493.5 614.8h0M493.8 609.1h0M494 624.3h0M494.3 614.5h0M494.5 611.8h0M494.8 611.8h0M495 608.4h0M495.3 610.9h0M495.5 614.3h0M495.8 608h0M496 612h0M496.2 612.6h0M496.5 614.9h0M496.7 612.1h0M497 610.6h0M497.2 615.1h0M497.5 612.1h0M497.7 617.2h0M498 615.6h0M498.2 617.3h0M498.5 620h0M498.7 619.1h0M499 611h0M499.2 616.2h0M499.4 614.2h0M499.7 621.1h0M499.9 614.6h0M500.2 616.3h0M500.4 618.1h0M500.7 624h0M500.9 602.2h0M501.2 616.1h0M501.4 619.5h0M501.7 610.7h0M501.9 611.6h0M502.1 624.6h0M502.4 617.7h0M502.6 623.2h0M502.9 621.5h0M503.1 621.6h0M503.4 607.6h0M503.6 621.9h0M503.9 611.4h0M504.1 634.8h0M504.4 622.8h0M504.6 622h0M504.8 614.8h0M505.1 626.8h0M505.3 619.8h0M505.6 626.2h0M505.8 613.7h0M506.1 621.7h0M506.3 619.2h0M506.6 632.8h0M506.8 612.1h0M507.1 611.7h0M507.3 622.9h0M507.5 611.6h0M507.8 606.8h0M508 607.6h0M508.3 661.3h0M508.5 630.5h0M508.8 613.5h0M509 601.2h0M509.3 614.1h0M509.5 617.4h0M509.8 615.2h0M510 610.4h0M510.2 615.9h0M510.5 619.2h0M510.7 621.2h0M511 616.4h0M511.2 624.2h0M511.5 616.4h0M511.7 616.5h0M512 609.5h0M512.2 613.1h0M512.5 616.3h0M512.7 622.5h0M513 611.2h0M513.2 650.1h0M513.4 619.3h0M513.7 615.3h0M513.9 613.2h0M514.2 627.8h0M514.4 624h0M514.7 634.3h0M514.9 610.4h0M515.2 617.4h0M515.4 615h0M515.7 621.5h0M515.9 619.5h0M516.1 624.2h0M516.4 628.3h0M516.6 614.7h0M516.9 613.6h0M517.1 616.5h0M517.4 614h0M517.6 621.7h0M517.9 615h0M518.1 609.9h0M518.4 633h0M518.6 618.8h0M518.8 609.1h0M519.1 619.9h0M519.3 617.8h0M519.6 614.3h0M519.8 623.4h0M520.1 616.3h0M520.3 657h0M520.6 633.4h0M520.8 608.8h0M521.1 618.9h0M521.3 648.1h0M521.5 679.6h0M521.8 622.2h0M522 618.3h0M522.3 616h0M522.5 615.3h0M522.8 613.9h0M523 672.2h0M523.3 630.9h0M523.5 617.1h0M523.8 628.1h0M524 616.8h0M524.2 622.5h0M524.5 624.8h0M524.7 618.4h0M525 645.1h0M525.2 611.4h0M525.5 623.3h0M525.7 610.6h0M526 628h0M526.2 645h0M526.5 619.5h0M526.7 614.1h0M527 615.5h0M527.2 633.1h0M527.4 633.6h0M527.7 622.3h0M527.9 625.6h0M528.2 614.8h0M528.4 619.9h0M528.7 620h0M528.9 624.9h0M529.2 629.1h0M529.4 614.1h0M529.7 610.6h0M529.9 615h0M530.1 617.4h0M530.4 619.8h0M530.6 629.2h0M530.9 609h0M531.1 610.9h0M531.4 616.5h0M531.6 665.5h0M531.9 648.8h0M532.1 650.5h0M532.4 605.9h0M532.6 632.2h0M532.8 602.7h0M533.1 617h0M533.3 650h0M533.6 663.7h0M533.8 611.3h0M534.1 619h0M534.3 610h0M534.6 616h0M534.8 615.7h0M535.1 610h0M535.3 632.7h0M535.5 606.4h0M535.8 627.1h0M536 615.4h0M536.3 604.6h0M536.5 600.1h0M536.8 617.2h0M537 626.6h0M537.3 628h0M537.5 615.7h0M537.8 641.6h0M538 608.9h0M538.3 618.2h0M538.5 625.7h0M538.7 615.5h0M539 614.9h0M539.2 624.8h0M539.5 617.6h0M539.7 606.6h0M540 616.1h0M540.2 606.7h0M540.5 633.1h0M540.7 607.9h0M541 602.7h0M541.2 627.1h0M541.4 615.4h0M541.7 614.8h0M541.9 613.4h0M542.2 621.6h0M542.4 613.9h0M542.7 651.7h0M542.9 611.3h0M543.2 636.3h0M543.4 610.1h0M543.7 606.2h0M543.9 631.7h0M544.1 611.9h0M544.4 625h0M544.6 610.7h0M544.9 620.4h0M545.1 632.6h0M545.4 622.8h0M545.6 619h0M545.9 609.4h0M546.1 654h0M546.4 623.2h0M546.6 625.1h0M546.8 639.7h0M547.1 611h0M547.3 613.8h0M547.6 616h0M547.8 622h0M548.1 615.3h0M548.3 626.4h0M548.6 627.5h0M548.8 608h0M549.1 618.4h0M549.3 616h0M549.5 619.8h0M549.8 627.4h0M550 603.9h0M550.3 618.9h0M550.5 611.6h0M550.8 608.8h0M551 610.2h0M551.3 604.5h0M551.5 617.3h0M551.8 621.7h0M552 619.7h0M552.3 628.9h0M552.5 612.7h0M552.7 638.4h0M553 613.3h0M553.2 625.3h0M553.5 631h0M553.7 612h0M554 609.8h0M554.2 619.2h0M554.5 616.3h0M554.7 614.1h0M555 614.3h0M555.2 648.7h0M555.4 610.6h0M555.7 620.9h0M555.9 618.1h0M556.2 615.3h0M556.4 611.8h0M556.7 623.8h0M556.9 612.4h0M557.2 626.9h0M557.4 640.2h0M557.7 613.9h0M557.9 621.9h0M558.1 608.8h0M558.4 630.8h0M558.6 635.3h0M558.9 602.2h0M559.1 620.2h0M559.4 659.6h0M559.6 623.5h0M559.9 613h0M560.1 616.8h0M560.4 605.5h0M560.6 622h0M560.8 608.6h0M561.1 612.4h0M561.3 620.7h0M561.6 626.4h0M561.8 616h0M562.1 620h0M562.3 611.2h0M562.6 620h0M562.8 647.5h0M563.1 634.7h0M563.3 621h0M563.5 617.2h0M563.8 625.9h0M564 636.4h0M564.3 625.4h0M564.5 630.7h0M564.8 616.6h0M565 617.7h0M565.3 689.1h0M565.5 619.6h0M565.8 620.2h0M566 607.6h0M566.3 619.5h0M566.5 614.4h0M566.7 627.5h0M567 615.3h0M567.2 630.5h0M567.5 622.1h0M567.7 620.2h0M568 617.8h0M568.2 610.4h0M568.5 614.1h0M568.7 618.8h0M569 627.8h0M569.2 623.1h0M569.4 639.7h0M569.7 619h0M569.9 614.6h0M570.2 625.2h0M570.4 611.8h0M570.7 606.5h0M570.9 602.1h0M571.2 618.6h0M571.4 629.1h0M571.7 626.5h0M571.9 680.5h0M572.1 622.8h0M572.4 608.6h0M572.6 615.3h0M572.9 617.1h0M573.1 607.8h0M573.4 620.9h0M573.6 609.5h0M573.9 674.2h0M574.1 597.6h0M574.4 612h0M574.6 623.3h0M574.8 622.3h0M575.1 614.8h0M575.3 611.7h0M575.6 618h0M575.8 613.3h0M576.1 611.6h0M576.3 648.9h0M576.6 616.4h0M576.8 612.6h0M577.1 617.7h0M577.3 617.1h0M577.5 634.5h0M577.8 620.7h0M578 620.4h0M578.3 617.6h0M578.5 610.8h0M578.8 627.6h0M579 626.9h0M579.3 618.4h0M579.5 616.7h0M579.8 632.9h0M580 604.7h0M580.3 615.3h0M580.5 611.5h0M580.7 621.2h0M581 604.8h0M581.2 611.5h0M581.5 622.1h0M581.7 606.4h0M582 621.1h0M582.2 608.6h0M582.5 614.5h0M582.7 606.1h0M583 619.9h0M583.2 616.5h0M583.4 615.6h0M583.7 649.7h0M583.9 617.7h0M584.2 618.7h0M584.4 633.6h0M584.7 608.7h0M584.9 635.6h0M585.2 607.3h0M585.4 619.6h0M585.7 629.9h0M585.9 640.4h0M586.1 622h0M586.4 629.3h0M586.6 626.1h0M586.9 624.5h0M587.1 615.4h0M587.4 617.7h0M587.6 623.4h0M587.9 611.2h0M588.1 612h0M588.4 617.1h0M588.6 613.5h0M588.8 606.9h0M589.1 614.5h0M589.3 619.5h0M589.6 609h0M589.8 693.7h0M590.1 616h0M590.3 649.7h0M590.6 609h0M590.8 618.3h0M591.1 607.7h0M591.3 635.9h0M591.6 609.2h0M591.8 614.9h0M592 619.1h0M592.3 646h0M592.5 623.3h0M592.8 621.8h0M593 612.3h0M593.3 615.5h0M593.5 595.8h0M593.8 624.7h0M594 621.9h0M594.3 606h0M594.5 623h0M594.7 627.3h0M595 617.6h0M595.2 617.6h0M595.5 620.3h0M595.7 628.5h0M596 632.8h0M596.2 602.6h0M596.5 623.2h0M596.7 614h0M597 618.5h0M597.2 606.6h0M597.4 611.1h0M597.7 615h0M597.9 664.5h0M598.2 617.4h0M598.4 627.7h0M598.7 604.6h0M598.9 619.9h0M599.2 610.2h0M599.4 618.5h0M599.7 628.9h0M599.9 608.1h0M600.1 624h0M600.4 622.2h0M600.6 616.6h0M600.9 620.6h0M601.1 606.9h0M601.4 636.6h0M601.6 638.8h0M601.9 622.6h0M602.1 629.1h0M602.4 624.8h0M602.6 596.1h0M602.8 601.2h0M603.1 616.8h0M603.3 664.6h0M603.6 609h0M603.8 617.2h0M604.1 601.9h0M604.3 604.8h0M604.6 632.8h0M604.8 621.7h0M605.1 624.7h0M605.3 616.3h0M605.6 605.1h0M605.8 614.5h0M606 609.5h0M606.3 620.8h0M606.5 616.3h0M606.8 626.9h0M607 608.2h0M607.3 606.5h0M607.5 689.9h0M607.8 636.8h0M608 606.4h0M608.3 673.5h0M608.5 612.4h0M608.7 612.2h0M609 614.4h0M609.2 633.1h0M609.5 621.6h0M609.7 613.9h0M610 624h0M610.2 639.7h0M610.5 612.8h0M610.7 613.7h0M611 617.6h0M611.2 626h0M611.4 609.8h0M611.7 609.7h0M611.9 629.6h0M612.2 607h0M612.4 612.8h0M612.7 613.9h0M612.9 609.3h0M613.2 622.6h0M613.4 622.6h0M613.7 622.1h0M613.9 619.6h0M614.1 601.9h0M614.4 633.4h0M614.6 610.3h0M614.9 618.8h0M615.1 633.7h0M615.4 626.4h0M615.6 613.5h0M615.9 610.9h0M616.1 613h0M616.4 612.8h0M616.6 608.4h0M616.8 605.1h0M617.1 612h0M617.3 609.9h0M617.6 642.9h0M617.8 630.7h0M618.1 614h0M618.3 600.1h0M618.6 611.1h0M618.8 607.8h0M619.1 629h0M619.3 623.1h0M619.6 618.1h0M619.8 616.3h0M620 605.8h0M620.3 632.1h0M620.5 623.7h0M620.8 625.6h0M621 627.5h0M621.3 620.9h0M621.5 666.3h0M621.8 621.9h0M622 615.7h0M622.3 606.9h0M622.5 621.6h0M622.7 638.4h0M623 618.9h0M623.2 609.6h0M623.5 604.3h0M623.7 601.4h0M624 604.8h0M624.2 613.7h0M624.5 626.7h0M624.7 616.6h0M625 625.8h0M625.2 618.5h0M625.4 693.7h0M625.7 627.3h0M625.9 617.9h0M626.2 616.8h0M626.4 602.1h0M626.7 618.6h0M626.9 602.8h0M627.2 644.2h0M627.4 598h0M627.7 604.7h0M627.9 607h0M628.1 618.7h0M628.4 621.8h0M628.6 641.2h0M628.9 612.1h0M629.1 601.5h0M629.4 613.2h0M629.6 608.3h0M629.9 607.8h0M630.1 600.1h0M630.4 613.6h0M630.6 615.9h0M630.8 616h0M631.1 625h0M631.3 607.5h0M631.6 609.2h0M631.8 612.7h0M632.1 598.7h0M632.3 605.4h0M632.6 612.7h0M632.8 613.3h0M633.1 617.7h0M633.3 663.6h0M633.6 612.8h0M633.8 615.5h0M634 605.8h0M634.3 624h0M634.5 620.2h0M634.8 617.5h0M635 599.6h0M635.3 609.9h0M635.5 612.4h0M635.8 614.2h0M636 684.6h0M636.3 656.9h0M636.5 621.5h0M636.7 615.8h0M637 608.7h0M637.2 607.8h0M637.5 617.7h0M637.7 621.1h0M638 632.4h0M638.2 612.8h0M638.5 652.5h0M638.7 612.1h0M639 609.4h0M639.2 604.2h0" stroke="#90f090" stroke-width="2.5" stroke-linecap="round" fill="none"/>
<path d="M221.3 541.2C225.9 541.5 238.8 541.8 248.7 542.9C258.6 544 270.2 545.7 280.9 548C291.6 550.3 302.4 553.6 313.1 556.7C323.8 559.8 334.6 563.2 345.3 566.4C356 569.6 366.8 573 377.5 576C388.2 579 399 581.6 409.7 584.7C420.4 587.8 432.8 591.3 441.9 594.4C451 597.5 457.5 600.3 464.5 603.4C471.5 606.5 477.9 610.3 483.8 613.1C489.7 615.9 494.5 618.5 499.9 620.2C505.3 621.9 510.6 623 516 623.4C521.4 623.8 526.2 623.4 532.1 622.7C538 622.1 545 620.4 551.4 619.5C557.8 618.6 563.3 617.8 570.8 617.3C578.3 616.8 588.5 616.5 596.5 616.3C604.5 616.1 611.9 616.2 619.1 616.3C626.4 616.4 636.5 616.9 640 617" stroke="#23841a" stroke-width="3.4" stroke-linecap="round" stroke-linejoin="round" fill="none"/>
<circle cx="248.7" cy="705.2" r="1.3" fill="#90f090"/>
<text x="280.7" y="712.5" font-size="23" text-anchor="start" fill="#90f090" textLength="220.5" lengthAdjust="spacingAndGlyphs">Exp data FXN-16C10</text>
<path d="M232.5 746.8H265" stroke="#23841a" stroke-width="3.2" fill="none"/>
<text x="280.8" y="754.3" font-size="23" text-anchor="start" fill="#23841a" textLength="194.5" lengthAdjust="spacingAndGlyphs">Model FRX-16C10</text>
<path d="M832.3 475.3V774M820.3 774H1270M820.3 476.5H832.3M820.3 536H832.3M820.3 595.5H832.3M820.3 655H832.3M820.3 714.5H832.3M820.3 774H832.3" stroke="#000" stroke-width="2.7" fill="none"/>
<path d="M832.3 774v12M844.8 774v6.5M857.3 774v6.5M869.9 774v6.5M882.4 774v6.5M894.9 774v6.5M907.4 774v6.5M919.9 774v6.5M932.5 774v6.5M945 774v6.5M957.5 774v12M970 774v6.5M982.5 774v6.5M995.1 774v6.5M1007.6 774v6.5M1020.1 774v6.5M1032.6 774v6.5M1045.1 774v6.5M1057.7 774v6.5M1070.2 774v6.5M1082.7 774v12M1095.2 774v6.5M1107.7 774v6.5M1120.3 774v6.5M1132.8 774v6.5M1145.3 774v6.5M1157.8 774v6.5M1170.3 774v6.5M1182.9 774v6.5M1195.4 774v6.5M1207.9 774v12M1220.4 774v6.5M1232.9 774v6.5M1245.5 774v6.5M1258 774v6.5" stroke="#000" stroke-width="2.4" fill="none"/>
<text x="815.5" y="484.6" font-size="22.5" font-weight="bold" text-anchor="end" fill="#000">0</text>
<text x="815.5" y="544.1" font-size="22.5" font-weight="bold" text-anchor="end" fill="#000">-2</text>
<text x="815.5" y="603.6" font-size="22.5" font-weight="bold" text-anchor="end" fill="#000">-4</text>
<text x="815.5" y="663.1" font-size="22.5" font-weight="bold" text-anchor="end" fill="#000">-6</text>
<text x="815.5" y="722.6" font-size="22.5" font-weight="bold" text-anchor="end" fill="#000">-8</text>
<text x="815.5" y="782.1" font-size="22.5" font-weight="bold" text-anchor="end" fill="#000">-10</text>
<text x="832.3" y="811.2" font-size="22.5" font-weight="bold" text-anchor="middle" fill="#000">0.0</text>
<text x="957.5" y="811.2" font-size="22.5" font-weight="bold" text-anchor="middle" fill="#000">0.1</text>
<text x="1082.7" y="811.2" font-size="22.5" font-weight="bold" text-anchor="middle" fill="#000">0.2</text>
<text x="1207.9" y="811.2" font-size="22.5" font-weight="bold" text-anchor="middle" fill="#000">0.3</text>
<text x="1051.2" y="846.5" font-size="24" font-weight="bold" text-anchor="middle" fill="#000">q</text>
<text transform="translate(766.7 625.2) rotate(-90)" font-size="24" font-weight="bold" text-anchor="middle">logI(q)</text>
<path d="M837.9 521.2h0M838.2 521.1h0M838.4 521.3h0M838.7 521.2h0M838.9 521.1h0M839.2 521.2h0M839.4 521h0M839.7 521.4h0M839.9 521.3h0M840.2 521.4h0M840.4 521.4h0M840.7 521.3h0M840.9 521.3h0M841.2 521.3h0M841.4 521.2h0M841.6 520.9h0M841.9 521.2h0M842.1 521.6h0M842.4 521.3h0M842.6 521.5h0M842.9 521.5h0M843.1 521.2h0M843.4 521.5h0M843.6 521.8h0M843.9 521.4h0M844.1 521.5h0M844.4 521.7h0M844.6 521.6h0M844.9 521.6h0M845.1 521.5h0M845.4 521.6h0M845.6 521.5h0M845.9 521.2h0M846.1 521.7h0M846.4 521.7h0M846.6 521.6h0M846.8 521.4h0M847.1 521.7h0M847.3 521.3h0M847.6 521.8h0M847.8 521.8h0M848.1 521.6h0M848.3 521.8h0M848.6 521.7h0M848.8 521.5h0M849.1 521.5h0M849.3 521.6h0M849.6 521.7h0M849.8 521.4h0M850.1 521.6h0M850.3 521.7h0M850.6 521.5h0M850.8 521.9h0M851.1 521.7h0M851.3 521.6h0M851.6 521.7h0M851.8 521.8h0M852 521.7h0M852.3 521.9h0M852.5 521.9h0M852.8 522h0M853 521.6h0M853.3 521.9h0M853.5 521.6h0M853.8 521.7h0M854 521.9h0M854.3 521.7h0M854.5 521.8h0M854.8 521.8h0M855 522.1h0M855.3 521.9h0M855.5 521.7h0M855.8 521.8h0M856 521.7h0M856.3 521.6h0M856.5 521.8h0M856.8 521.6h0M857 522.2h0M857.2 522h0M857.5 522.4h0M857.7 521.8h0M858 522h0M858.2 521.7h0M858.5 522.1h0M858.7 522.4h0M859 521.8h0M859.2 522.3h0M859.5 522.3h0M859.7 522.1h0M860 521.9h0M860.2 522.2h0M860.5 522h0M860.7 522.4h0M861 521.8h0M861.2 522.1h0M861.5 522.1h0M861.7 522h0M862 522.1h0M862.2 522.1h0M862.4 522.3h0M862.7 522.2h0M862.9 522.1h0M863.2 522h0M863.4 522.2h0M863.7 522.2h0M863.9 522.2h0M864.2 522.2h0M864.4 522.3h0M864.7 522.4h0M864.9 522.4h0M865.2 522.2h0M865.4 522.4h0M865.7 522.4h0M865.9 521.9h0M866.2 522.3h0M866.4 522.4h0M866.7 522.5h0M866.9 522.8h0M867.2 522.4h0M867.4 522.7h0M867.6 522.7h0M867.9 522.5h0M868.1 522.6h0M868.4 522.7h0M868.6 522.8h0M868.9 522.5h0M869.1 522.8h0M869.4 523.1h0M869.6 522.8h0M869.9 522.9h0M870.1 523h0M870.4 522.9h0M870.6 523h0M870.9 522.7h0M871.1 523.1h0M871.4 523.1h0M871.6 523h0M871.9 523.3h0M872.1 523.1h0M872.4 523.3h0M872.6 523.1h0M872.8 523.5h0M873.1 523.3h0M873.3 523.7h0M873.6 523.5h0M873.8 523.5h0M874.1 523.4h0M874.3 523.2h0M874.6 523.2h0M874.8 523.8h0M875.1 523.8h0M875.3 523.4h0M875.6 523.6h0M875.8 524h0M876.1 523.7h0M876.3 524h0M876.6 524h0M876.8 524.1h0M877.1 523.9h0M877.3 523.5h0M877.5 523.9h0M877.8 524h0M878 523.5h0M878.3 524.1h0M878.5 524.1h0M878.8 524.1h0M879 524h0M879.3 524.2h0M879.5 523.9h0M879.8 524.3h0M880 524.1h0M880.3 524.2h0M880.5 524.4h0M880.8 524.5h0M881 524.4h0M881.3 524.8h0M881.5 524.4h0M881.8 524.4h0M882 524.5h0M882.3 524.5h0M882.5 524.5h0M882.7 524.6h0M883 524.5h0M883.2 524.9h0M883.5 524.5h0M883.7 524.9h0M884 524.6h0M884.2 524.8h0M884.5 524.9h0M884.7 525h0M885 524.6h0M885.2 525.1h0M885.5 525.1h0M885.7 524.9h0M886 524.9h0M886.2 525h0M886.5 525.2h0M886.7 525.2h0M887 524.9h0M887.2 525.3h0M887.5 525h0M887.7 525.1h0M887.9 525.2h0M888.2 525.5h0M888.4 524.9h0M888.7 525.3h0M888.9 525.3h0M889.2 525.4h0M889.4 525.6h0M889.7 525.5h0M889.9 525.5h0M890.2 525.7h0M890.4 525.6h0M890.7 525.5h0M890.9 525.6h0M891.2 525.8h0M891.4 525.6h0M891.7 525.7h0M891.9 525.7h0M892.2 526.1h0M892.4 526.3h0M892.7 525.9h0M892.9 526.1h0M893.1 526.2h0M893.4 526.1h0M893.6 526.3h0M893.9 526.4h0M894.1 526h0M894.4 526.7h0M894.6 526.3h0M894.9 526.3h0M895.1 526.2h0M895.4 526.6h0M895.6 526.6h0M895.9 526.9h0M896.1 526.8h0M896.4 527.2h0M896.6 527h0M896.9 526.9h0M897.1 527h0M897.4 527.1h0M897.6 526.8h0M897.9 527.4h0M898.1 527.1h0M898.3 527.3h0M898.6 527.2h0M898.8 527.3h0M899.1 527h0M899.3 527.6h0M899.6 527.2h0M899.8 527.3h0M900.1 527.6h0M900.3 527.7h0M900.6 527.9h0M900.8 527.9h0M901.1 527.4h0M901.3 528.2h0M901.6 527.8h0M901.8 528h0M902.1 527.6h0M902.3 527.9h0M902.6 528.3h0M902.8 528.2h0M903.1 528.1h0M903.3 528.2h0M903.5 528.4h0M903.8 528.4h0M904 528.4h0M904.3 528.3h0M904.5 528.4h0M904.8 528.5h0M905 528.7h0M905.3 528.5h0M905.5 528.8h0M905.8 528.9h0M906 528.8h0M906.3 528.9h0M906.5 528.9h0M906.8 529.2h0M907 528.7h0M907.3 528.9h0M907.5 528.8h0M907.8 529.2h0M908 529h0M908.3 529.2h0M908.5 529.3h0M908.7 529h0M909 529.5h0M909.2 529.3h0M909.5 529.8h0M909.7 529.4h0M910 529.6h0M910.2 529.8h0M910.5 529.8h0M910.7 530.1h0M911 529.9h0M911.2 529.8h0M911.5 530.3h0M911.7 529.7h0M912 529.8h0M912.2 530.1h0M912.5 530.3h0M912.7 530.4h0M913 530.4h0M913.2 530.3h0M913.5 529.9h0M913.7 530.5h0M913.9 530.2h0M914.2 530.2h0M914.4 530.6h0M914.7 530.6h0M914.9 530.4h0M915.2 530.7h0M915.4 530.4h0M915.7 530.3h0M915.9 530.8h0M916.2 531h0M916.4 530.7h0M916.7 530.8h0M916.9 531.1h0M917.2 531h0M917.4 531h0M917.7 531h0M917.9 531h0M918.2 531.3h0M918.4 531.5h0M918.7 531.6h0M918.9 531h0M919.1 531.5h0M919.4 531.5h0M919.6 531.1h0M919.9 531.4h0M920.1 531.2h0M920.4 531.7h0M920.6 531.8h0M920.9 531.8h0M921.1 531.7h0M921.4 531.8h0M921.6 531.8h0M921.9 531.6h0M922.1 531.8h0M922.4 532.3h0M922.6 532.1h0M922.9 532.1h0M923.1 532.5h0M923.4 532h0M923.6 532.3h0M923.9 532.3h0M924.1 532.7h0M924.3 532.9h0M924.6 532.6h0M924.8 532.8h0M925.1 533h0M925.3 533h0M925.6 533h0M925.8 533.1h0M926.1 533.2h0M926.3 533.1h0M926.6 532.8h0M926.8 533.1h0M927.1 533.5h0M927.3 533.1h0M927.6 533.7h0M927.8 533.9h0M928.1 534h0M928.3 534.1h0M928.6 533.6h0M928.8 534.1h0M929.1 534.2h0M929.3 534.2h0M929.5 534.2h0M929.8 534.4h0M930 534.4h0M930.3 534.3h0M930.5 534.3h0M930.8 534.6h0M931 534.4h0M931.3 534.6h0M931.5 534.6h0M931.8 534.8h0M932 535h0M932.3 534.7h0M932.5 534.8h0M932.8 535.1h0M933 535.2h0M933.3 535h0M933.5 534.9h0M933.8 535.2h0M934 534.9h0M934.3 535.4h0M934.5 535.4h0M934.7 535.5h0M935 535.5h0M935.2 536h0M935.5 535.8h0M935.7 535.6h0M936 536.2h0M936.2 535.9h0M936.5 535.9h0M936.7 535.8h0M937 535.9h0M937.2 536.3h0M937.5 536h0M937.7 536.6h0M938 536.7h0M938.2 536.3h0M938.5 536.5h0M938.7 536.9h0M939 536.6h0M939.2 536.7h0M939.4 536.8h0M939.7 537h0M939.9 537.3h0M940.2 537.4h0M940.4 537.2h0M940.7 537.3h0M940.9 537.4h0M941.2 537.5h0M941.4 537.3h0M941.7 537.7h0M941.9 537.7h0M942.2 537.3h0M942.4 537.8h0M942.7 537.9h0M942.9 537.7h0M943.2 538.3h0M943.4 537.7h0M943.7 538.3h0M943.9 538.3h0M944.2 538.4h0M944.4 538.4h0M944.6 538.5h0M944.9 538.2h0M945.1 538.5h0M945.4 538.3h0M945.6 538.5h0M945.9 538.9h0M946.1 538.8h0M946.4 538.9h0M946.6 539h0M946.9 538.9h0M947.1 539h0M947.4 539h0M947.6 539.6h0M947.9 539.3h0M948.1 539.4h0M948.4 539h0M948.6 539.5h0M948.9 539.5h0M949.1 539.6h0M949.4 539.5h0M949.6 539.9h0M949.8 539.8h0M950.1 539.9h0M950.3 539.9h0M950.6 540.1h0M950.8 540.2h0M951.1 540.1h0M951.3 540.4h0M951.6 540h0M951.8 540.4h0M952.1 540.7h0M952.3 540.5h0M952.6 540.4h0M952.8 540.7h0M953.1 540.7h0M953.3 541.2h0M953.6 540.6h0M953.8 540.9h0M954.1 541.3h0M954.3 541.1h0M954.6 540.9h0M954.8 541.2h0M955 541.6h0M955.3 541.5h0M955.5 541.4h0M955.8 541.2h0M956 541.6h0M956.3 541.6h0M956.5 541.8h0M956.8 541.8h0M957 542.1h0M957.3 542.3h0M957.5 542.3h0M957.8 542.3h0M958 542h0M958.3 542.3h0M958.5 542.2h0M958.8 542.3h0M959 542.5h0M959.3 542.7h0M959.5 542.3h0M959.8 542.6h0M960 542.7h0M960.2 542.5h0M960.5 542.8h0M960.7 543.1h0M961 543.1h0M961.2 543.2h0M961.5 542.9h0M961.7 543.6h0M962 543.9h0M962.2 543.7h0M962.5 543.7h0M962.7 543.9h0M963 543.7h0M963.2 543.8h0M963.5 544h0M963.7 544.1h0M964 543.8h0M964.2 543.8h0M964.5 544h0M964.7 544.5h0M965 544.2h0M965.2 544.8h0M965.4 545h0M965.7 544.4h0M965.9 544.6h0M966.2 544.7h0M966.4 544.7h0M966.7 544.7h0M966.9 545h0M967.2 545.1h0M967.4 545.1h0M967.7 545.2h0M967.9 545.4h0M968.2 545.8h0M968.4 545.1h0M968.7 545.8h0M968.9 545.9h0M969.2 545.7h0M969.4 545.9h0M969.7 545.9h0M969.9 545.5h0M970.2 545.8h0M970.4 546.3h0M970.6 546.2h0M970.9 546.4h0M971.1 546.2h0M971.4 546.7h0M971.6 546.8h0M971.9 547.1h0M972.1 546.6h0M972.4 546.8h0M972.6 546.8h0M972.9 546.8h0M973.1 547.4h0M973.4 547.2h0M973.6 547.5h0M973.9 547h0M974.1 547.2h0M974.4 547.8h0M974.6 547.4h0M974.9 547.6h0M975.1 547.7h0M975.4 547.6h0M975.6 548h0M975.8 548h0M976.1 548.2h0M976.3 548.3h0M976.6 548.4h0M976.8 548h0M977.1 548.2h0M977.3 548.5h0M977.6 548.9h0M977.8 548h0M978.1 548.7h0M978.3 548.7h0M978.6 548.7h0M978.8 548.5h0M979.1 549.1h0M979.3 549.7h0M979.6 549.2h0M979.8 549.2h0M980.1 549.4h0M980.3 549h0M980.6 549.6h0M980.8 549.4h0M981 549.8h0M981.3 549.5h0M981.5 550h0M981.8 549.6h0M982 549.9h0M982.3 550h0M982.5 550h0M982.8 550.6h0M983 550.4h0M983.3 550.2h0M983.5 550.5h0M983.8 550.1h0M984 550.3h0M984.3 550.8h0M984.5 550.3h0M984.8 550.8h0M985 550.6h0M985.3 550.5h0M985.5 551.3h0M985.8 551.3h0M986 551.1h0M986.2 551.2h0M986.5 551.8h0M986.7 551.1h0M987 551.3h0M987.2 551.4h0M987.5 551.4h0M987.7 551.3h0M988 551.9h0M988.2 551.6h0M988.5 551.9h0M988.7 552h0M989 552.2h0M989.2 551.6h0M989.5 552.9h0M989.7 552.4h0M990 551.9h0M990.2 552.4h0M990.5 552.5h0M990.7 552h0M991 552.8h0M991.2 552.6h0M991.4 552.4h0M991.7 552.8h0M991.9 552.9h0M992.2 552.8h0M992.4 552.5h0M992.7 553.3h0M992.9 552.8h0M993.2 553.1h0M993.4 553.3h0M993.7 553.7h0M993.9 552.6h0M994.2 553.1h0M994.4 553.3h0M994.7 553.6h0M994.9 552.9h0M995.2 553.8h0M995.4 554.1h0M995.7 554h0M995.9 553.8h0M996.2 553.7h0M996.4 554.7h0M996.6 553.9h0M996.9 554h0M997.1 553.7h0M997.4 554.3h0M997.6 553.7h0M997.9 553.5h0M998.1 554.6h0M998.4 554.6h0M998.6 554.1h0M998.9 554.1h0M999.1 554.7h0M999.4 554.3h0M999.6 555.5h0M999.9 554.5h0M1000.1 554.8h0M1000.4 554.6h0M1000.6 554.9h0M1000.9 554.9h0M1001.1 555.4h0M1001.3 554.7h0M1001.6 556.3h0M1001.8 555.3h0M1002.1 555.8h0M1002.3 554.7h0M1002.6 556.1h0M1002.8 555.6h0M1003.1 555.8h0M1003.3 555.5h0M1003.6 555.9h0M1003.8 556.4h0M1004.1 556.1h0M1004.3 555.6h0M1004.6 555.8h0M1004.8 556.6h0M1005.1 556.9h0M1005.3 557h0M1005.6 556.5h0M1005.8 556.6h0M1006.1 556.7h0M1006.3 556.9h0M1006.5 556.6h0M1006.8 556.1h0M1007 556.4h0M1007.3 557.1h0M1007.5 556.6h0M1007.8 557.2h0M1008 556.5h0M1008.3 556.7h0M1008.5 556.8h0M1008.8 556.2h0M1009 556.9h0M1009.3 557h0M1009.5 556.8h0M1009.8 558.1h0M1010 557.8h0M1010.3 557.9h0M1010.5 557.3h0M1010.8 557.8h0M1011 558.6h0M1011.3 558.4h0M1011.5 558.2h0M1011.7 558.4h0M1012 558.4h0M1012.2 559.1h0M1012.5 558.3h0M1012.7 559.1h0M1013 558.7h0M1013.2 558.9h0M1013.5 558.8h0M1013.7 557.9h0M1014 559h0M1014.2 559h0M1014.5 560.3h0M1014.7 559.4h0M1015 558.9h0M1015.2 559.3h0M1015.5 558.7h0M1015.7 559.4h0M1016 558.8h0M1016.2 559.2h0M1016.5 558.8h0M1016.7 559.6h0M1016.9 559h0M1017.2 559.9h0M1017.4 560.1h0M1017.7 559.1h0M1017.9 560.6h0M1018.2 560.4h0M1018.4 558.9h0M1018.7 559.9h0M1018.9 559.8h0M1019.2 559.9h0M1019.4 560.1h0M1019.7 558.9h0M1019.9 560.2h0M1020.2 559.3h0M1020.4 560.3h0M1020.7 560.8h0M1020.9 560.5h0M1021.2 560.4h0M1021.4 558.8h0M1021.7 560.9h0M1021.9 560.2h0M1022.1 561.6h0M1022.4 560.3h0M1022.6 560.7h0M1022.9 560.4h0M1023.1 560.7h0M1023.4 561.1h0M1023.6 560.8h0M1023.9 560.9h0M1024.1 560.2h0M1024.4 561h0M1024.6 561.1h0M1024.9 561.9h0M1025.1 560.5h0M1025.4 561.2h0M1025.6 561.8h0M1025.9 560.4h0M1026.1 560.6h0M1026.4 561.3h0M1026.6 561.3h0M1026.9 562.3h0M1027.1 563.1h0M1027.3 561.4h0M1027.6 562.6h0M1027.8 561.1h0M1028.1 561.8h0M1028.3 561.5h0M1028.6 562.1h0M1028.8 561.4h0M1029.1 561.2h0M1029.3 561.7h0M1029.6 561.3h0M1029.8 561.3h0M1030.1 562h0M1030.3 563.2h0M1030.6 561.5h0M1030.8 562.5h0M1031.1 562.9h0M1031.3 563.6h0M1031.6 563.5h0M1031.8 561.2h0M1032.1 560.9h0M1032.3 561.3h0M1032.5 560.8h0M1032.8 563.9h0M1033 561.9h0M1033.3 563.6h0M1033.5 563.7h0M1033.8 562.1h0M1034 561.9h0M1034.3 563.4h0M1034.5 564h0M1034.8 564h0M1035 563h0M1035.3 562.1h0M1035.5 561.3h0M1035.8 562.6h0M1036 563.8h0M1036.3 563.9h0M1036.5 563h0M1036.8 562.6h0M1037 564.8h0M1037.3 563h0M1037.5 563.8h0M1037.7 562.6h0M1038 564.7h0M1038.2 562.5h0M1038.5 562.2h0M1038.7 562.2h0M1039 562.2h0M1039.2 563.4h0M1039.5 563.5h0M1039.7 564.6h0M1040 563.7h0M1040.2 564.4h0M1040.5 563.2h0M1040.7 563.1h0M1041 564h0M1041.2 562.5h0M1041.5 565.1h0M1041.7 564.5h0M1042 562.5h0M1042.2 564.3h0M1042.5 563.5h0M1042.7 566.4h0M1042.9 562.8h0M1043.2 564.9h0M1043.4 564.9h0M1043.7 563.4h0M1043.9 564.3h0M1044.2 566h0M1044.4 563.2h0M1044.7 565.4h0M1044.9 564.8h0M1045.2 565.2h0M1045.4 565h0M1045.7 565h0M1045.9 565h0M1046.2 565.2h0M1046.4 562.4h0M1046.7 564.5h0M1046.9 564.3h0M1047.2 565.5h0M1047.4 563.2h0M1047.7 564.5h0M1047.9 564.9h0M1048.1 565.6h0M1048.4 564.3h0M1048.6 566.9h0M1048.9 565.9h0M1049.1 565.6h0M1049.4 564.9h0M1049.6 565.2h0M1049.9 566.9h0M1050.1 564.8h0M1050.4 565.9h0M1050.6 566h0M1050.9 565.4h0M1051.1 565.9h0M1051.4 566.1h0M1051.6 566h0M1051.9 565h0M1052.1 565.7h0M1052.4 565.5h0M1052.6 566.5h0M1052.9 564.6h0M1053.1 565.7h0M1053.3 566.7h0M1053.6 564.8h0M1053.8 567.4h0M1054.1 566.8h0M1054.3 565.2h0M1054.6 566.6h0M1054.8 566.5h0M1055.1 566.6h0M1055.3 566.2h0M1055.6 565.7h0M1055.8 565.6h0M1056.1 567.1h0M1056.3 566.9h0M1056.6 568.6h0M1056.8 567h0M1057.1 566h0M1057.3 566.5h0M1057.6 565.2h0M1057.8 566.9h0M1058.1 566.3h0M1058.3 565.7h0M1058.5 568h0M1058.8 565.2h0M1059 568.4h0M1059.3 567.1h0M1059.5 569h0M1059.8 567.2h0M1060 568.1h0M1060.3 565.9h0M1060.5 569.4h0M1060.8 566.5h0M1061 566.7h0M1061.3 566.5h0M1061.5 566h0M1061.8 566.2h0M1062 568.3h0M1062.3 566.6h0M1062.5 568.2h0M1062.8 568.2h0M1063 567.7h0M1063.2 568h0M1063.5 568.2h0M1063.7 566.3h0M1064 567.5h0M1064.2 569.9h0M1064.5 568.6h0M1064.7 568.3h0M1065 564.9h0M1065.2 567.4h0M1065.5 568.4h0M1065.7 567.3h0M1066 570.7h0M1066.2 566h0M1066.5 568.4h0M1066.7 569.2h0M1067 567h0M1067.2 569h0M1067.5 569.5h0M1067.7 567.1h0M1068 565.6h0M1068.2 568.6h0M1068.4 568.3h0M1068.7 568.4h0M1068.9 567.8h0M1069.2 568.9h0M1069.4 568.2h0M1069.7 569.4h0M1069.9 568.6h0M1070.2 567.4h0M1070.4 570.5h0M1070.7 567.6h0M1070.9 566.3h0M1071.2 569.5h0M1071.4 569.2h0M1071.7 568.6h0M1071.9 568.8h0M1072.2 570.2h0M1072.4 567.7h0M1072.7 568h0M1072.9 567.5h0M1073.2 568h0M1073.4 569.8h0M1073.6 569.2h0M1073.9 569.9h0M1074.1 565.5h0M1074.4 569.7h0M1074.6 567.9h0M1074.9 567.1h0M1075.1 569.4h0M1075.4 569h0M1075.6 568.7h0M1075.9 567.1h0M1076.1 571.1h0M1076.4 569h0M1076.6 568.8h0M1076.9 568.9h0M1077.1 570.7h0M1077.4 568.3h0M1077.6 568.9h0M1077.9 571.1h0M1078.1 571.2h0M1078.4 566.9h0M1078.6 570.7h0M1078.8 572.1h0M1079.1 569.2h0M1079.3 571.5h0M1079.6 570h0M1079.8 569.2h0M1080.1 571.3h0M1080.3 572.1h0M1080.6 567.3h0M1080.8 572h0M1081.1 571.9h0M1081.3 570.2h0M1081.6 569.6h0M1081.8 570.4h0M1082.1 571.6h0M1082.3 569h0M1082.6 572h0M1082.8 571.7h0M1083.1 569.5h0M1083.3 569h0M1083.6 569.9h0M1083.8 569.3h0M1084 570.1h0M1084.3 569.5h0M1084.5 571.9h0M1084.8 572h0M1085 570h0M1085.3 569.4h0M1085.5 571.7h0M1085.8 572.2h0M1086 571.3h0M1086.3 569.5h0M1086.5 571.4h0M1086.8 571.7h0M1087 571.6h0M1087.3 571.9h0M1087.5 570.6h0M1087.8 572.2h0M1088 571.4h0M1088.3 572h0M1088.5 572.9h0M1088.8 571.7h0M1089 571.3h0M1089.2 574.6h0M1089.5 571.5h0M1089.7 571.6h0M1090 572.2h0M1090.2 573.8h0M1090.5 573.2h0M1090.7 571h0M1091 573.7h0M1091.2 570.6h0M1091.5 573h0M1091.7 571.8h0M1092 577.4h0M1092.2 571.6h0M1092.5 572.3h0M1092.7 575.3h0M1093 571h0M1093.2 573.5h0M1093.5 574.7h0M1093.7 570.5h0M1094 570.5h0M1094.2 571.1h0M1094.4 571.5h0M1094.7 571.1h0M1094.9 576.1h0M1095.2 573.4h0M1095.4 570.8h0M1095.7 572.2h0M1095.9 573.1h0M1096.2 573.8h0M1096.4 574h0M1096.7 574.8h0M1096.9 573.7h0M1097.2 578.5h0M1097.4 571.8h0M1097.7 573.7h0M1097.9 578.8h0M1098.2 573.8h0M1098.4 573.5h0M1098.7 574.1h0M1098.9 572.7h0M1099.2 572.6h0M1099.4 573h0M1099.6 577.2h0M1099.9 578.1h0M1100.1 575.7h0M1100.4 572.7h0M1100.6 577.8h0M1100.9 575.4h0M1101.1 575.5h0M1101.4 574.8h0M1101.6 577.5h0M1101.9 574.4h0M1102.1 574.3h0M1102.4 575.2h0M1102.6 574.3h0M1102.9 574.9h0M1103.1 574h0M1103.4 574h0M1103.6 576.2h0M1103.9 577.6h0M1104.1 573h0M1104.4 574.3h0M1104.6 576h0M1104.8 575.7h0M1105.1 573.6h0M1105.3 577.6h0M1105.6 574.6h0M1105.8 576h0M1106.1 577.1h0M1106.3 574h0M1106.6 576.7h0M1106.8 576.6h0M1107.1 574.3h0M1107.3 574.8h0M1107.6 577.4h0M1107.8 580.9h0M1108.1 579.5h0M1108.3 578.8h0M1108.6 575.2h0M1108.8 579.4h0M1109.1 573.9h0M1109.3 576.3h0M1109.6 580.6h0M1109.8 576.1h0M1110 575.6h0M1110.3 576.6h0M1110.5 573.8h0M1110.8 629.5h0M1111 573.1h0M1111.3 575.8h0M1111.5 575.2h0M1111.8 579.4h0M1112 577.9h0M1112.3 578.9h0M1112.5 578.6h0M1112.8 580.6h0M1113 575h0M1113.3 578.2h0M1113.5 574.5h0M1113.8 581.8h0M1114 581.4h0M1114.3 582.7h0M1114.5 585.7h0M1114.8 573.6h0M1115 577.2h0M1115.2 580.1h0M1115.5 581.1h0M1115.7 586.4h0M1116 573.6h0M1116.2 577h0M1116.5 579.2h0M1116.7 584.8h0M1117 572.5h0M1117.2 581h0M1117.5 576.9h0M1117.7 573.9h0M1118 576.4h0M1118.2 580.3h0M1118.5 582.2h0M1118.7 573.8h0M1119 572h0M1119.2 587.6h0M1119.5 631.2h0M1119.7 578.8h0M1120 577.2h0M1120.2 586.9h0M1120.4 580.2h0M1120.7 580.6h0M1120.9 595.4h0M1121.2 583.8h0M1121.4 577.1h0M1121.7 585h0M1121.9 579.4h0M1122.2 583.4h0M1122.4 581.8h0M1122.7 583.9h0M1122.9 574.6h0M1123.2 579h0M1123.4 575.6h0M1123.7 580.4h0M1123.9 583.4h0M1124.2 585.8h0M1124.4 581.3h0M1124.7 594.7h0M1124.9 580h0M1125.1 579.9h0M1125.4 579.7h0M1125.6 582.9h0M1125.9 580.3h0M1126.1 583.9h0M1126.4 587.9h0M1126.6 583.6h0M1126.9 576.8h0M1127.1 578.3h0M1127.4 577.6h0M1127.6 603.6h0M1127.9 578.5h0M1128.1 590.2h0M1128.4 579.7h0M1128.6 579.7h0M1128.9 578h0M1129.1 578.9h0M1129.4 575.8h0M1129.6 655.6h0M1129.9 592.6h0M1130.1 575.5h0M1130.3 587h0M1130.6 581.8h0M1130.8 585.6h0M1131.1 577.1h0M1131.3 580.2h0M1131.6 597.3h0M1131.8 605h0M1132.1 587.4h0M1132.3 589.3h0M1132.6 580.6h0M1132.8 584h0M1133.1 582h0M1133.3 572.6h0M1133.6 587.5h0M1133.8 587.6h0M1134.1 622.6h0M1134.3 583.2h0M1134.6 591.5h0M1134.8 581.1h0M1135.1 572.9h0M1135.3 634.9h0M1135.5 581.4h0M1135.8 577.4h0M1136 581.2h0M1136.3 585.8h0M1136.5 591h0M1136.8 587.9h0M1137 577.6h0M1137.3 578.8h0M1137.5 596.4h0M1137.8 585.9h0M1138 590.8h0M1138.3 598.9h0M1138.5 580.4h0M1138.8 578.7h0M1139 592.2h0M1139.3 602.1h0M1139.5 582.2h0M1139.8 587.9h0M1140 591h0M1140.3 573.2h0M1140.5 575.2h0M1140.7 582.7h0M1141 586.5h0M1141.2 610.9h0M1141.5 572.6h0M1141.7 564.1h0M1142 581.6h0M1142.2 579h0M1142.5 584.1h0M1142.7 583.9h0M1143 581.1h0M1143.2 583.9h0M1143.5 580h0M1143.7 583.2h0M1144 583.1h0M1144.2 585.1h0M1144.5 588.4h0M1144.7 574.8h0M1145 574.5h0M1145.2 581.2h0M1145.5 583.4h0M1145.7 618.7h0M1145.9 575.9h0M1146.2 577h0M1146.4 575.4h0M1146.7 578.2h0M1146.9 584.8h0M1147.2 582.1h0M1147.4 572.1h0M1147.7 585.4h0M1147.9 578.4h0M1148.2 585.8h0M1148.4 568.8h0M1148.7 583.2h0M1148.9 584.1h0M1149.2 576.8h0M1149.4 598h0M1149.7 584.1h0M1149.9 577.7h0M1150.2 583.6h0M1150.4 574.4h0M1150.7 580.6h0M1150.9 584.1h0M1151.1 576.6h0M1151.4 571.4h0M1151.6 586.4h0M1151.9 580.4h0M1152.1 587.8h0M1152.4 577.9h0M1152.6 588.8h0M1152.9 586.4h0M1153.1 583.6h0M1153.4 578.4h0M1153.6 578.2h0M1153.9 576.8h0M1154.1 603.7h0M1154.4 620.3h0M1154.6 578.6h0M1154.9 577.2h0M1155.1 577.5h0M1155.4 572h0M1155.6 578.9h0M1155.9 575h0M1156.1 578.8h0M1156.3 584.2h0M1156.6 585h0M1156.8 591.8h0M1157.1 581h0M1157.3 592.8h0M1157.6 585.1h0M1157.8 585.6h0M1158.1 569.9h0M1158.3 580.6h0M1158.6 600.6h0M1158.8 581.1h0M1159.1 576.1h0M1159.3 577.7h0M1159.6 585.5h0M1159.8 570.2h0M1160.1 582.7h0M1160.3 581.2h0M1160.6 574.4h0M1160.8 578.1h0M1161.1 592.5h0M1161.3 590.6h0M1161.5 609.8h0M1161.8 576.3h0M1162 571.7h0M1162.3 568.6h0M1162.5 580.3h0M1162.8 578.9h0M1163 578.5h0M1163.3 570.1h0M1163.5 588.9h0M1163.8 574.1h0M1164 583.4h0M1164.3 578.7h0M1164.5 599.3h0M1164.8 576.5h0M1165 574.9h0M1165.3 574.9h0M1165.5 580.4h0M1165.8 594.1h0M1166 595.6h0M1166.3 591h0M1166.5 579.2h0M1166.7 579.4h0M1167 587.7h0M1167.2 583.8h0M1167.5 573.1h0M1167.7 567.5h0M1168 587.9h0M1168.2 571.5h0M1168.5 592.5h0M1168.7 581h0M1169 574.8h0M1169.2 574.8h0M1169.5 584h0M1169.7 583.9h0M1170 580.2h0M1170.2 580.1h0M1170.5 579h0M1170.7 581.1h0M1171 574.9h0M1171.2 587.4h0M1171.5 577.3h0M1171.7 578.5h0M1171.9 585.6h0M1172.2 574.8h0M1172.4 583.4h0M1172.7 578.2h0M1172.9 575.9h0M1173.2 577.3h0M1173.4 597.3h0M1173.7 586.4h0M1173.9 577.3h0M1174.2 580.3h0M1174.4 579.6h0M1174.7 581.4h0M1174.9 583.2h0M1175.2 581.7h0M1175.4 609.6h0M1175.7 583.1h0M1175.9 576.6h0M1176.2 578.5h0M1176.4 564.5h0M1176.7 580.2h0M1176.9 584.9h0M1177.1 582.9h0M1177.4 581.9h0M1177.6 578.6h0M1177.9 575.6h0M1178.1 575.4h0M1178.4 571.5h0M1178.6 574.2h0M1178.9 587.4h0M1179.1 573.7h0M1179.4 589.8h0M1179.6 574h0M1179.9 593.7h0M1180.1 599.4h0M1180.4 575.9h0M1180.6 580.7h0M1180.9 586.3h0M1181.1 576.1h0M1181.4 619.1h0M1181.6 580.4h0M1181.9 574.4h0M1182.1 577.9h0M1182.3 583.6h0M1182.6 591h0M1182.8 593.5h0M1183.1 582.6h0M1183.3 578.1h0M1183.6 589h0M1183.8 575.1h0M1184.1 585h0M1184.3 574.6h0M1184.6 575.8h0M1184.8 574.5h0M1185.1 583.6h0M1185.3 577.9h0M1185.6 583.8h0M1185.8 577h0M1186.1 581.9h0M1186.3 576h0M1186.6 623h0M1186.8 575.7h0M1187 582.6h0M1187.3 580.1h0M1187.5 578.8h0M1187.8 586.1h0M1188 579.6h0M1188.3 572.7h0M1188.5 576.3h0M1188.8 582.1h0M1189 599.9h0M1189.3 584.5h0M1189.5 582.4h0M1189.8 575.6h0M1190 575.1h0M1190.3 627.9h0M1190.5 581.1h0M1190.8 580.9h0M1191 578.8h0M1191.3 576.7h0M1191.5 580.3h0M1191.8 599.9h0M1192 584.8h0M1192.2 578.4h0M1192.5 569.4h0M1192.7 582.5h0M1193 584.7h0M1193.2 579.2h0M1193.5 582.8h0M1193.7 580.5h0M1194 571.2h0M1194.2 579.9h0M1194.5 570.9h0M1194.7 577h0M1195 586.5h0M1195.2 584.6h0M1195.5 572.2h0M1195.7 598h0M1196 592.5h0M1196.2 575.9h0M1196.5 579.1h0M1196.7 588.8h0M1197 594.7h0M1197.2 587.2h0M1197.4 580.8h0M1197.7 581h0M1197.9 570h0M1198.2 577.7h0M1198.4 570.1h0M1198.7 573.9h0M1198.9 574.6h0M1199.2 577h0M1199.4 586.9h0M1199.7 580.2h0M1199.9 578.7h0M1200.2 613.5h0M1200.4 578.9h0M1200.7 615.7h0M1200.9 605.6h0M1201.2 578.9h0M1201.4 601.8h0M1201.7 587.9h0M1201.9 586.9h0M1202.2 599.8h0M1202.4 607.1h0M1202.6 580.9h0M1202.9 579.1h0M1203.1 569.6h0M1203.4 569.9h0M1203.6 568.6h0M1203.9 573.3h0M1204.1 581.2h0M1204.4 576.5h0M1204.6 586.1h0M1204.9 579.8h0M1205.1 571.5h0M1205.4 585.4h0M1205.6 601.5h0M1205.9 583h0M1206.1 578.1h0M1206.4 574.6h0M1206.6 627.3h0M1206.9 577.1h0M1207.1 579.6h0M1207.4 574.1h0M1207.6 583.1h0M1207.8 573.7h0M1208.1 579.2h0M1208.3 584.4h0M1208.6 584h0M1208.8 583.5h0M1209.1 584.1h0M1209.3 566.7h0M1209.6 579.1h0M1209.8 598.6h0M1210.1 575h0M1210.3 579.7h0M1210.6 603.2h0M1210.8 578.2h0M1211.1 585.4h0M1211.3 569.6h0M1211.6 576.6h0M1211.8 582.2h0M1212.1 570.6h0M1212.3 585.7h0M1212.6 589.5h0M1212.8 594.4h0M1213 592.9h0M1213.3 566.7h0M1213.5 569.1h0M1213.8 569.1h0M1214 593h0M1214.3 580.9h0M1214.5 585.1h0M1214.8 583.3h0M1215 576.7h0M1215.3 581.4h0M1215.5 607.3h0M1215.8 582.2h0M1216 570.1h0M1216.3 587.3h0M1216.5 581.7h0M1216.8 581.3h0M1217 572.6h0M1217.3 566.9h0M1217.5 573.7h0M1217.8 577.1h0M1218 578.2h0M1218.2 632.8h0M1218.5 581.9h0M1218.7 574.3h0M1219 584h0M1219.2 568.7h0M1219.5 583.8h0M1219.7 575.3h0M1220 583.6h0M1220.2 572h0M1220.5 582.9h0M1220.7 589.5h0M1221 592.8h0M1221.2 572.3h0M1221.5 578.4h0M1221.7 574.3h0M1222 567.4h0M1222.2 583.7h0M1222.5 597.6h0M1222.7 574.5h0M1223 580.2h0M1223.2 570.4h0M1223.4 572.6h0M1223.7 595h0M1223.9 598.6h0M1224.2 599.4h0M1224.4 599h0M1224.7 580.8h0M1224.9 571.5h0M1225.2 587.8h0M1225.4 583h0M1225.7 590.5h0M1225.9 579.2h0M1226.2 644.2h0M1226.4 577h0M1226.7 617.4h0M1226.9 638.4h0M1227.2 572.2h0M1227.4 585.3h0M1227.7 578.5h0M1227.9 585.2h0M1228.2 579.3h0M1228.4 576h0M1228.6 595.6h0M1228.9 571.3h0M1229.1 571.5h0M1229.4 593.1h0M1229.6 576.2h0M1229.9 588.5h0M1230.1 584.2h0M1230.4 617.9h0M1230.6 572.1h0M1230.9 581.8h0M1231.1 621.1h0M1231.4 588.8h0M1231.6 583.6h0M1231.9 577.5h0M1232.1 576.7h0M1232.4 569.7h0M1232.6 569.4h0M1232.9 574.1h0M1233.1 589.8h0M1233.4 580.5h0M1233.6 579.3h0M1233.8 592.3h0M1234.1 579.9h0M1234.3 572.1h0M1234.6 590h0M1234.8 588.6h0M1235.1 592.2h0M1235.3 605.9h0M1235.6 583.9h0M1235.8 590.5h0M1236.1 582.4h0M1236.3 582.5h0M1236.6 603.1h0M1236.8 583h0M1237.1 566.1h0M1237.3 579.1h0M1237.6 580.3h0M1237.8 572.9h0M1238.1 602.3h0M1238.3 579.8h0M1238.6 583.5h0M1238.8 575.3h0M1239 572.8h0M1239.3 577.4h0M1239.5 599.7h0M1239.8 617.7h0M1240 575.6h0M1240.3 580.2h0M1240.5 587.6h0M1240.8 565.3h0M1241 585.8h0M1241.3 574.5h0M1241.5 576.8h0M1241.8 565.7h0M1242 579.3h0M1242.3 595.8h0M1242.5 579.5h0M1242.8 572.9h0M1243 581.6h0M1243.3 580.8h0M1243.5 584.4h0M1243.8 622.9h0M1244 588h0M1244.2 577.3h0M1244.5 595.9h0M1244.7 588.8h0M1245 582.6h0M1245.2 575.1h0M1245.5 578.3h0M1245.7 584.1h0M1246 573.3h0M1246.2 576.1h0M1246.5 619h0M1246.7 575.5h0M1247 584.3h0M1247.2 601.1h0M1247.5 580.7h0M1247.7 593.1h0M1248 578.2h0M1248.2 586.3h0M1248.5 584.8h0M1248.7 594.4h0M1248.9 574.2h0M1249.2 572.4h0M1249.4 598.4h0M1249.7 577.2h0M1249.9 572.5h0M1250.2 583.3h0M1250.4 574.9h0M1250.7 578.3h0M1250.9 606.5h0M1251.2 566h0M1251.4 573.8h0M1251.7 572.8h0M1251.9 579.6h0M1252.2 581.5h0M1252.4 572.8h0M1252.7 570.3h0M1252.9 604.9h0M1253.2 572.9h0M1253.4 574.5h0M1253.7 590.5h0M1253.9 579h0M1254.1 572.7h0M1254.4 574.8h0M1254.6 567.7h0M1254.9 585h0M1255.1 597.4h0M1255.4 589h0M1255.6 581.2h0M1255.9 604.9h0M1256.1 581h0M1256.4 606.1h0M1256.6 574.9h0M1256.9 581.3h0M1257.1 578.9h0M1257.4 595.4h0M1257.6 591.9h0M1257.9 577.5h0M1258.1 596.2h0M1258.4 578.7h0M1258.6 577.1h0" stroke="#f5a8ee" stroke-width="2.5" stroke-linecap="round" fill="none"/>
<circle cx="1144.5" cy="713.9" r="1.3" fill="#f5a8ee"/>
<path d="M837.9 521.2C842.2 521.4 855.1 521.5 863.7 522.2C872.3 522.9 879.8 523.8 889.4 525.4C899 527 910.9 529.3 921.6 531.9C932.3 534.5 943.1 537.7 953.8 540.9C964.5 544.1 975.2 547.9 986 551.2C996.8 554.5 1007.5 558.2 1018.3 560.9C1029 563.6 1039.8 565.3 1050.5 567.3C1061.2 569.3 1073 571.1 1082.7 573.1C1092.4 575.1 1101 577.5 1108.5 579.5C1116 581.5 1121.4 583.5 1127.8 585C1134.2 586.5 1140.7 587.6 1147.1 588.2C1153.5 588.9 1160 589 1166.4 588.9C1172.9 588.8 1179.3 588.1 1185.8 587.6C1192.2 587.1 1198.7 586.3 1205.1 586C1211.5 585.7 1218 585.9 1224.4 586C1230.9 586.1 1238.2 586.5 1243.8 586.6C1249.4 586.7 1255.9 586.6 1258.3 586.6" stroke="#a11db5" stroke-width="3.4" stroke-linecap="round" stroke-linejoin="round" fill="none"/>
<circle cx="866.9" cy="707.2" r="1.3" fill="#f5a8ee"/>
<text x="899.4" y="715.2" font-size="23" text-anchor="start" fill="#f5a8ee" textLength="207.5" lengthAdjust="spacingAndGlyphs">Exp data FXN-28F6</text>
<path d="M850.5 750.4H883.4" stroke="#a11db5" stroke-width="3.2" fill="none"/>
<text x="899.5" y="759.4" font-size="23" text-anchor="start" fill="#a11db5" textLength="179" lengthAdjust="spacingAndGlyphs">Model FRX-28F6</text>
<path d="M239.3 933.9V1226.2M227.3 1226.2H677.7M227.3 1226.2H239.3M227.3 1153.4H239.3M227.3 1080.7H239.3M227.3 1007.9H239.3M227.3 935.1H239.3" stroke="#000" stroke-width="2.7" fill="none"/>
<path d="M239.3 1226.2v12M326.7 1226.2v12M414.2 1226.2v12M501.6 1226.2v12M589.1 1226.2v12M676.5 1226.2v12" stroke="#000" stroke-width="2.4" fill="none"/>
<text x="221.6" y="1233.9" font-size="21.5" font-weight="bold" text-anchor="end" fill="#000" textLength="78.5" lengthAdjust="spacingAndGlyphs">0.00000</text>
<text x="221.6" y="1161.1" font-size="21.5" font-weight="bold" text-anchor="end" fill="#000" textLength="78.5" lengthAdjust="spacingAndGlyphs">0.00002</text>
<text x="221.6" y="1088.4" font-size="21.5" font-weight="bold" text-anchor="end" fill="#000" textLength="78.5" lengthAdjust="spacingAndGlyphs">0.00004</text>
<text x="221.6" y="1015.6" font-size="21.5" font-weight="bold" text-anchor="end" fill="#000" textLength="78.5" lengthAdjust="spacingAndGlyphs">0.00006</text>
<text x="221.6" y="942.8" font-size="21.5" font-weight="bold" text-anchor="end" fill="#000" textLength="78.5" lengthAdjust="spacingAndGlyphs">0.00008</text>
<text x="239.3" y="1264.5" font-size="21.5" font-weight="bold" text-anchor="middle" fill="#000">0</text>
<text x="326.7" y="1264.5" font-size="21.5" font-weight="bold" text-anchor="middle" fill="#000">20</text>
<text x="414.2" y="1264.5" font-size="21.5" font-weight="bold" text-anchor="middle" fill="#000">40</text>
<text x="501.6" y="1264.5" font-size="21.5" font-weight="bold" text-anchor="middle" fill="#000">60</text>
<text x="589.1" y="1264.5" font-size="21.5" font-weight="bold" text-anchor="middle" fill="#000">80</text>
<text x="676.5" y="1264.5" font-size="21.5" font-weight="bold" text-anchor="middle" fill="#000">100</text>
<text x="457.9" y="1301" font-size="25" font-weight="bold" text-anchor="middle" fill="#000">r (&#197;)</text>
<text transform="translate(124.5 1080.7) rotate(-90)" font-size="24" font-weight="bold" text-anchor="middle">P(r)</text>
<path d="M239.3 1225.9C241.3 1223 247 1218.2 251.2 1208.7C255.4 1199.2 260 1184.5 264.4 1169C268.8 1153.5 273.7 1133.7 277.7 1116C281.7 1098.3 284.8 1079.3 288.3 1063C291.8 1046.7 295.4 1031 298.9 1018C302.4 1005 306 993.9 309.5 984.9C313 975.9 316.2 968.6 320 963.7C323.8 958.9 328 956 332 955.8C336 955.6 339.7 958.6 343.9 962.4C348.1 966.1 352.7 972.1 357.1 978.3C361.5 984.5 366 992.5 370.4 999.5C374.8 1006.5 379.2 1013.8 383.6 1020.6C388 1027.4 392 1033.9 396.9 1040.5C401.8 1047.1 407.4 1054 412.7 1060.4C418 1066.8 423.3 1072.1 428.6 1078.9C433.9 1085.7 439.2 1093.2 444.5 1101.4C449.8 1109.6 455.1 1119.1 460.4 1127.9C465.7 1136.7 471 1146.2 476.3 1154.4C481.6 1162.6 486.9 1170.3 492.2 1176.9C497.5 1183.5 502.8 1189.8 508.1 1194.1C513.4 1198.4 518.7 1201.1 524 1202.9C529.3 1204.8 534.2 1204.8 539.9 1205.2C545.6 1205.6 552.7 1204.4 558.4 1205.2C564.1 1206 569.2 1206.5 574.3 1210C579.4 1213.5 586.5 1223.2 588.9 1225.9" stroke="#3a9627" stroke-width="3.9" stroke-linecap="round" stroke-linejoin="round" fill="none"/>
<path d="M856.2 925.1V1224.2M844.2 1224.2H1293.4M844.2 1224.2H856.2M844.2 1164.6H856.2M844.2 1105H856.2M844.2 1045.5H856.2M844.2 985.9H856.2M844.2 926.3H856.2" stroke="#000" stroke-width="2.7" fill="none"/>
<path d="M856.2 1224.2v12M965.2 1224.2v12M1074.2 1224.2v12M1183.2 1224.2v12M1292.2 1224.2v12" stroke="#000" stroke-width="2.4" fill="none"/>
<text x="839" y="1231.9" font-size="21.5" font-weight="bold" text-anchor="end" fill="#000" textLength="78.5" lengthAdjust="spacingAndGlyphs">0.00000</text>
<text x="839" y="1172.3" font-size="21.5" font-weight="bold" text-anchor="end" fill="#000" textLength="78.5" lengthAdjust="spacingAndGlyphs">0.00002</text>
<text x="839" y="1112.7" font-size="21.5" font-weight="bold" text-anchor="end" fill="#000" textLength="78.5" lengthAdjust="spacingAndGlyphs">0.00004</text>
<text x="839" y="1053.2" font-size="21.5" font-weight="bold" text-anchor="end" fill="#000" textLength="78.5" lengthAdjust="spacingAndGlyphs">0.00006</text>
<text x="839" y="993.6" font-size="21.5" font-weight="bold" text-anchor="end" fill="#000" textLength="78.5" lengthAdjust="spacingAndGlyphs">0.00008</text>
<text x="839" y="934" font-size="21.5" font-weight="bold" text-anchor="end" fill="#000" textLength="78.5" lengthAdjust="spacingAndGlyphs">0.00010</text>
<text x="856.2" y="1263.5" font-size="21.5" font-weight="bold" text-anchor="middle" fill="#000">0</text>
<text x="965.2" y="1263.5" font-size="21.5" font-weight="bold" text-anchor="middle" fill="#000">20</text>
<text x="1074.2" y="1263.5" font-size="21.5" font-weight="bold" text-anchor="middle" fill="#000">40</text>
<text x="1183.2" y="1263.5" font-size="21.5" font-weight="bold" text-anchor="middle" fill="#000">60</text>
<text x="1292.2" y="1263.5" font-size="21.5" font-weight="bold" text-anchor="middle" fill="#000">80</text>
<text x="1074.2" y="1299" font-size="25" font-weight="bold" text-anchor="middle" fill="#000">r (&#197;)</text>
<text transform="translate(742.8 1075.2) rotate(-90)" font-size="24" font-weight="bold" text-anchor="middle">P(r)</text>
<path d="M856 1224C858 1221.8 864 1215.8 868 1210.5C872 1205.2 875.6 1201 880.1 1192.5C884.6 1184 890.1 1172.4 895.1 1159.4C900.1 1146.4 905.1 1129.3 910.1 1114.3C915.1 1099.3 920.2 1082.7 925.2 1069.2C930.2 1055.7 935.2 1043.4 940.2 1033.1C945.2 1022.8 950.2 1013.9 955.2 1007.6C960.2 1001.4 966 998.1 970.3 995.6C974.6 993.1 976.8 992.5 980.8 992.5C984.8 992.5 989 993.1 994.3 995.6C999.5 998.1 1006.3 1002.9 1012.3 1007.6C1018.3 1012.4 1024.4 1017.3 1030.4 1024.1C1036.4 1030.9 1042.4 1039.9 1048.4 1048.2C1054.4 1056.5 1060.5 1064.7 1066.5 1073.7C1072.5 1082.7 1078.5 1093 1084.5 1102.3C1090.5 1111.6 1096.5 1120.8 1102.5 1129.3C1108.5 1137.8 1114.6 1145.9 1120.6 1153.4C1126.6 1160.9 1132.6 1168.4 1138.6 1174.4C1144.6 1180.4 1150.7 1185.5 1156.7 1189.5C1162.7 1193.5 1168.2 1196.2 1174.7 1198.5C1181.2 1200.8 1188.2 1201.8 1195.7 1203C1203.2 1204.2 1212.3 1204.5 1219.8 1206C1227.3 1207.5 1234.3 1209 1240.8 1212C1247.3 1215 1255.9 1222 1258.9 1224" stroke="#a62fc0" stroke-width="3.9" stroke-linecap="round" stroke-linejoin="round" fill="none"/>
<clipPath id="ctl"><path d="M130.1 1484.7C130.5 1476.1 131.6 1460.3 134.4 1450.3C137.2 1440.3 142.9 1433.2 147.2 1424.6C151.5 1416 154.4 1406.3 160.1 1398.8C165.8 1391.3 173.7 1384.5 181.6 1379.5C189.5 1374.5 198.8 1371.2 207.4 1368.7C216 1366.2 225.9 1365.8 233.1 1364.4C240.2 1363 245.3 1362.6 250.3 1360.1C255.3 1357.6 257.5 1352.6 263.2 1349.4C268.9 1346.2 276.1 1344 284.7 1340.8C293.3 1337.6 305.4 1333 314.7 1330.1C324 1327.2 331.9 1325 340.5 1323.6C349.1 1322.2 357.7 1321.1 366.3 1321.5C374.9 1321.9 383.4 1323.3 392 1325.8C400.6 1328.3 410.6 1332.2 417.8 1336.5C425 1340.8 430.7 1346.8 435 1351.5C439.3 1356.2 437.9 1360.8 443.6 1364.4C449.3 1368 460.8 1369.4 469.4 1373C478 1376.6 486.5 1381.6 495.1 1385.9C503.7 1390.2 512.3 1393.1 520.9 1398.8C529.5 1404.5 539.5 1413.1 546.7 1420.3C553.9 1427.5 558.2 1434.5 563.9 1441.7C569.6 1448.9 574.6 1456 581 1463.2C587.4 1470.4 596 1476.8 602.5 1484.7C609 1492.6 614 1500.5 619.7 1510.5C625.4 1520.5 631.9 1534.1 636.9 1544.8C641.9 1555.5 647.1 1564.9 649.8 1574.9C652.5 1584.9 653.8 1595.8 653 1605C652.2 1614.2 648.7 1620.2 645 1630.1C641.3 1640 635.6 1652.8 631 1664.4C626.4 1676.1 621.3 1689.8 617.6 1700C613.9 1710.2 611.9 1717.2 609 1725.8C606.1 1734.4 604.7 1744.3 600.4 1751.5C596.1 1758.7 590.4 1764.4 583.2 1768.7C576 1773 564.5 1774.4 557.4 1777.3C550.2 1780.2 546 1782.8 540.3 1785.9C534.6 1789.1 528.3 1793.3 523.1 1796.2C517.9 1799.1 513.6 1799.1 509.3 1803.1C505 1807.1 501.3 1814.6 497.3 1820.3C493.3 1826 488.2 1831.7 485.3 1837.4C482.4 1843.1 482.7 1848.9 480.1 1854.6C477.5 1860.3 473.5 1866.1 469.8 1871.8C466.1 1877.5 460.4 1883.3 457.8 1889C455.2 1894.7 455.5 1899.9 454.4 1906.2C453.2 1912.5 452.9 1919.7 450.9 1926.8C448.9 1933.9 445.7 1942.5 442.3 1949.1C438.9 1955.7 434.4 1962.1 430.3 1966.3C426.2 1970.5 423.2 1972.8 418 1974C412.8 1975.2 406.6 1974.8 399.1 1973.7C391.7 1972.6 381.9 1970.8 373.3 1967.2C364.7 1963.6 355.5 1958.3 347.6 1952.2C339.7 1946.1 333.3 1938.6 326.1 1930.7C318.9 1922.8 312.5 1913.5 304.6 1904.9C296.7 1896.3 286 1887.8 278.8 1879.2C271.6 1870.6 266 1862.7 261.7 1853.4C257.4 1844.1 254.5 1833.3 253.1 1823.3C251.7 1813.3 252.2 1800.5 253.1 1793.3C254 1786.1 256.9 1784.8 258.3 1780C259.7 1775.2 259.8 1769.9 261.4 1764.7C263 1759.5 265.1 1753.5 267.7 1749C270.3 1744.5 273.8 1741.2 277.2 1738C280.6 1734.8 284 1732.5 288.2 1730.1C292.4 1727.7 297.7 1725.9 302.4 1723.8C307.1 1721.7 312.1 1719.6 316.5 1717.5C320.9 1715.4 326 1713.8 329.1 1711.2C332.2 1708.6 334.3 1705.9 335.4 1701.7C336.4 1697.5 336.2 1690.2 335.4 1686C334.6 1681.8 332.8 1679.7 330.7 1676.5C328.6 1673.3 326.2 1670.2 322.8 1667.1C319.4 1663.9 314.9 1660.2 310.2 1657.6C305.5 1655 299.8 1653.6 294.5 1651.3C289.2 1649 283.9 1646.1 278.7 1643.5C273.4 1640.9 268.2 1639 263 1635.6C257.8 1632.2 251.9 1627.7 247.2 1623C242.5 1618.3 238.5 1612.5 234.6 1607.2C230.7 1602 227.3 1595.7 223.6 1591.5C219.9 1587.3 216.5 1584.6 212.6 1582C208.7 1579.4 205.2 1576.2 200 1575.7C194.8 1575.2 189 1582.2 181.6 1579.2C174.2 1576.2 163 1565.6 155.8 1557.7C148.7 1549.8 142.6 1541.2 138.7 1531.9C134.8 1522.6 133.6 1509.8 132.2 1501.9C130.8 1494 129.7 1493.3 130.1 1484.7Z"/></clipPath>
<path d="M130.1 1484.7C130.5 1476.1 131.6 1460.3 134.4 1450.3C137.2 1440.3 142.9 1433.2 147.2 1424.6C151.5 1416 154.4 1406.3 160.1 1398.8C165.8 1391.3 173.7 1384.5 181.6 1379.5C189.5 1374.5 198.8 1371.2 207.4 1368.7C216 1366.2 225.9 1365.8 233.1 1364.4C240.2 1363 245.3 1362.6 250.3 1360.1C255.3 1357.6 257.5 1352.6 263.2 1349.4C268.9 1346.2 276.1 1344 284.7 1340.8C293.3 1337.6 305.4 1333 314.7 1330.1C324 1327.2 331.9 1325 340.5 1323.6C349.1 1322.2 357.7 1321.1 366.3 1321.5C374.9 1321.9 383.4 1323.3 392 1325.8C400.6 1328.3 410.6 1332.2 417.8 1336.5C425 1340.8 430.7 1346.8 435 1351.5C439.3 1356.2 437.9 1360.8 443.6 1364.4C449.3 1368 460.8 1369.4 469.4 1373C478 1376.6 486.5 1381.6 495.1 1385.9C503.7 1390.2 512.3 1393.1 520.9 1398.8C529.5 1404.5 539.5 1413.1 546.7 1420.3C553.9 1427.5 558.2 1434.5 563.9 1441.7C569.6 1448.9 574.6 1456 581 1463.2C587.4 1470.4 596 1476.8 602.5 1484.7C609 1492.6 614 1500.5 619.7 1510.5C625.4 1520.5 631.9 1534.1 636.9 1544.8C641.9 1555.5 647.1 1564.9 649.8 1574.9C652.5 1584.9 653.8 1595.8 653 1605C652.2 1614.2 648.7 1620.2 645 1630.1C641.3 1640 635.6 1652.8 631 1664.4C626.4 1676.1 621.3 1689.8 617.6 1700C613.9 1710.2 611.9 1717.2 609 1725.8C606.1 1734.4 604.7 1744.3 600.4 1751.5C596.1 1758.7 590.4 1764.4 583.2 1768.7C576 1773 564.5 1774.4 557.4 1777.3C550.2 1780.2 546 1782.8 540.3 1785.9C534.6 1789.1 528.3 1793.3 523.1 1796.2C517.9 1799.1 513.6 1799.1 509.3 1803.1C505 1807.1 501.3 1814.6 497.3 1820.3C493.3 1826 488.2 1831.7 485.3 1837.4C482.4 1843.1 482.7 1848.9 480.1 1854.6C477.5 1860.3 473.5 1866.1 469.8 1871.8C466.1 1877.5 460.4 1883.3 457.8 1889C455.2 1894.7 455.5 1899.9 454.4 1906.2C453.2 1912.5 452.9 1919.7 450.9 1926.8C448.9 1933.9 445.7 1942.5 442.3 1949.1C438.9 1955.7 434.4 1962.1 430.3 1966.3C426.2 1970.5 423.2 1972.8 418 1974C412.8 1975.2 406.6 1974.8 399.1 1973.7C391.7 1972.6 381.9 1970.8 373.3 1967.2C364.7 1963.6 355.5 1958.3 347.6 1952.2C339.7 1946.1 333.3 1938.6 326.1 1930.7C318.9 1922.8 312.5 1913.5 304.6 1904.9C296.7 1896.3 286 1887.8 278.8 1879.2C271.6 1870.6 266 1862.7 261.7 1853.4C257.4 1844.1 254.5 1833.3 253.1 1823.3C251.7 1813.3 252.2 1800.5 253.1 1793.3C254 1786.1 256.9 1784.8 258.3 1780C259.7 1775.2 259.8 1769.9 261.4 1764.7C263 1759.5 265.1 1753.5 267.7 1749C270.3 1744.5 273.8 1741.2 277.2 1738C280.6 1734.8 284 1732.5 288.2 1730.1C292.4 1727.7 297.7 1725.9 302.4 1723.8C307.1 1721.7 312.1 1719.6 316.5 1717.5C320.9 1715.4 326 1713.8 329.1 1711.2C332.2 1708.6 334.3 1705.9 335.4 1701.7C336.4 1697.5 336.2 1690.2 335.4 1686C334.6 1681.8 332.8 1679.7 330.7 1676.5C328.6 1673.3 326.2 1670.2 322.8 1667.1C319.4 1663.9 314.9 1660.2 310.2 1657.6C305.5 1655 299.8 1653.6 294.5 1651.3C289.2 1649 283.9 1646.1 278.7 1643.5C273.4 1640.9 268.2 1639 263 1635.6C257.8 1632.2 251.9 1627.7 247.2 1623C242.5 1618.3 238.5 1612.5 234.6 1607.2C230.7 1602 227.3 1595.7 223.6 1591.5C219.9 1587.3 216.5 1584.6 212.6 1582C208.7 1579.4 205.2 1576.2 200 1575.7C194.8 1575.2 189 1582.2 181.6 1579.2C174.2 1576.2 163 1565.6 155.8 1557.7C148.7 1549.8 142.6 1541.2 138.7 1531.9C134.8 1522.6 133.6 1509.8 132.2 1501.9C130.8 1494 129.7 1493.3 130.1 1484.7Z" fill="#b5b5b5"/>
<g clip-path="url(#ctl)"><path d="M130.1 1484.7C130.5 1476.1 131.6 1460.3 134.4 1450.3C137.2 1440.3 142.9 1433.2 147.2 1424.6C151.5 1416 154.4 1406.3 160.1 1398.8C165.8 1391.3 173.7 1384.5 181.6 1379.5C189.5 1374.5 198.8 1371.2 207.4 1368.7C216 1366.2 225.9 1365.8 233.1 1364.4C240.2 1363 245.3 1362.6 250.3 1360.1C255.3 1357.6 257.5 1352.6 263.2 1349.4C268.9 1346.2 276.1 1344 284.7 1340.8C293.3 1337.6 305.4 1333 314.7 1330.1C324 1327.2 331.9 1325 340.5 1323.6C349.1 1322.2 357.7 1321.1 366.3 1321.5C374.9 1321.9 383.4 1323.3 392 1325.8C400.6 1328.3 410.6 1332.2 417.8 1336.5C425 1340.8 430.7 1346.8 435 1351.5C439.3 1356.2 437.9 1360.8 443.6 1364.4C449.3 1368 460.8 1369.4 469.4 1373C478 1376.6 486.5 1381.6 495.1 1385.9C503.7 1390.2 512.3 1393.1 520.9 1398.8C529.5 1404.5 539.5 1413.1 546.7 1420.3C553.9 1427.5 558.2 1434.5 563.9 1441.7C569.6 1448.9 574.6 1456 581 1463.2C587.4 1470.4 596 1476.8 602.5 1484.7C609 1492.6 614 1500.5 619.7 1510.5C625.4 1520.5 631.9 1534.1 636.9 1544.8C641.9 1555.5 647.1 1564.9 649.8 1574.9C652.5 1584.9 653.8 1595.8 653 1605C652.2 1614.2 648.7 1620.2 645 1630.1C641.3 1640 635.6 1652.8 631 1664.4C626.4 1676.1 621.3 1689.8 617.6 1700C613.9 1710.2 611.9 1717.2 609 1725.8C606.1 1734.4 604.7 1744.3 600.4 1751.5C596.1 1758.7 590.4 1764.4 583.2 1768.7C576 1773 564.5 1774.4 557.4 1777.3C550.2 1780.2 546 1782.8 540.3 1785.9C534.6 1789.1 528.3 1793.3 523.1 1796.2C517.9 1799.1 513.6 1799.1 509.3 1803.1C505 1807.1 501.3 1814.6 497.3 1820.3C493.3 1826 488.2 1831.7 485.3 1837.4C482.4 1843.1 482.7 1848.9 480.1 1854.6C477.5 1860.3 473.5 1866.1 469.8 1871.8C466.1 1877.5 460.4 1883.3 457.8 1889C455.2 1894.7 455.5 1899.9 454.4 1906.2C453.2 1912.5 452.9 1919.7 450.9 1926.8C448.9 1933.9 445.7 1942.5 442.3 1949.1C438.9 1955.7 434.4 1962.1 430.3 1966.3C426.2 1970.5 423.2 1972.8 418 1974C412.8 1975.2 406.6 1974.8 399.1 1973.7C391.7 1972.6 381.9 1970.8 373.3 1967.2C364.7 1963.6 355.5 1958.3 347.6 1952.2C339.7 1946.1 333.3 1938.6 326.1 1930.7C318.9 1922.8 312.5 1913.5 304.6 1904.9C296.7 1896.3 286 1887.8 278.8 1879.2C271.6 1870.6 266 1862.7 261.7 1853.4C257.4 1844.1 254.5 1833.3 253.1 1823.3C251.7 1813.3 252.2 1800.5 253.1 1793.3C254 1786.1 256.9 1784.8 258.3 1780C259.7 1775.2 259.8 1769.9 261.4 1764.7C263 1759.5 265.1 1753.5 267.7 1749C270.3 1744.5 273.8 1741.2 277.2 1738C280.6 1734.8 284 1732.5 288.2 1730.1C292.4 1727.7 297.7 1725.9 302.4 1723.8C307.1 1721.7 312.1 1719.6 316.5 1717.5C320.9 1715.4 326 1713.8 329.1 1711.2C332.2 1708.6 334.3 1705.9 335.4 1701.7C336.4 1697.5 336.2 1690.2 335.4 1686C334.6 1681.8 332.8 1679.7 330.7 1676.5C328.6 1673.3 326.2 1670.2 322.8 1667.1C319.4 1663.9 314.9 1660.2 310.2 1657.6C305.5 1655 299.8 1653.6 294.5 1651.3C289.2 1649 283.9 1646.1 278.7 1643.5C273.4 1640.9 268.2 1639 263 1635.6C257.8 1632.2 251.9 1627.7 247.2 1623C242.5 1618.3 238.5 1612.5 234.6 1607.2C230.7 1602 227.3 1595.7 223.6 1591.5C219.9 1587.3 216.5 1584.6 212.6 1582C208.7 1579.4 205.2 1576.2 200 1575.7C194.8 1575.2 189 1582.2 181.6 1579.2C174.2 1576.2 163 1565.6 155.8 1557.7C148.7 1549.8 142.6 1541.2 138.7 1531.9C134.8 1522.6 133.6 1509.8 132.2 1501.9C130.8 1494 129.7 1493.3 130.1 1484.7Z" fill="#e9e9e9" filter="url(#bl)"/>
<path d="M130.1 1484.7C130.5 1476.1 131.6 1460.3 134.4 1450.3C137.2 1440.3 142.9 1433.2 147.2 1424.6C151.5 1416 154.4 1406.3 160.1 1398.8C165.8 1391.3 173.7 1384.5 181.6 1379.5C189.5 1374.5 198.8 1371.2 207.4 1368.7C216 1366.2 225.9 1365.8 233.1 1364.4C240.2 1363 245.3 1362.6 250.3 1360.1C255.3 1357.6 257.5 1352.6 263.2 1349.4C268.9 1346.2 276.1 1344 284.7 1340.8C293.3 1337.6 305.4 1333 314.7 1330.1C324 1327.2 331.9 1325 340.5 1323.6C349.1 1322.2 357.7 1321.1 366.3 1321.5C374.9 1321.9 383.4 1323.3 392 1325.8C400.6 1328.3 410.6 1332.2 417.8 1336.5C425 1340.8 430.7 1346.8 435 1351.5C439.3 1356.2 437.9 1360.8 443.6 1364.4C449.3 1368 460.8 1369.4 469.4 1373C478 1376.6 486.5 1381.6 495.1 1385.9C503.7 1390.2 512.3 1393.1 520.9 1398.8C529.5 1404.5 539.5 1413.1 546.7 1420.3C553.9 1427.5 558.2 1434.5 563.9 1441.7C569.6 1448.9 574.6 1456 581 1463.2C587.4 1470.4 596 1476.8 602.5 1484.7C609 1492.6 614 1500.5 619.7 1510.5C625.4 1520.5 631.9 1534.1 636.9 1544.8C641.9 1555.5 647.1 1564.9 649.8 1574.9C652.5 1584.9 653.8 1595.8 653 1605C652.2 1614.2 648.7 1620.2 645 1630.1C641.3 1640 635.6 1652.8 631 1664.4C626.4 1676.1 621.3 1689.8 617.6 1700C613.9 1710.2 611.9 1717.2 609 1725.8C606.1 1734.4 604.7 1744.3 600.4 1751.5C596.1 1758.7 590.4 1764.4 583.2 1768.7C576 1773 564.5 1774.4 557.4 1777.3C550.2 1780.2 546 1782.8 540.3 1785.9C534.6 1789.1 528.3 1793.3 523.1 1796.2C517.9 1799.1 513.6 1799.1 509.3 1803.1C505 1807.1 501.3 1814.6 497.3 1820.3C493.3 1826 488.2 1831.7 485.3 1837.4C482.4 1843.1 482.7 1848.9 480.1 1854.6C477.5 1860.3 473.5 1866.1 469.8 1871.8C466.1 1877.5 460.4 1883.3 457.8 1889C455.2 1894.7 455.5 1899.9 454.4 1906.2C453.2 1912.5 452.9 1919.7 450.9 1926.8C448.9 1933.9 445.7 1942.5 442.3 1949.1C438.9 1955.7 434.4 1962.1 430.3 1966.3C426.2 1970.5 423.2 1972.8 418 1974C412.8 1975.2 406.6 1974.8 399.1 1973.7C391.7 1972.6 381.9 1970.8 373.3 1967.2C364.7 1963.6 355.5 1958.3 347.6 1952.2C339.7 1946.1 333.3 1938.6 326.1 1930.7C318.9 1922.8 312.5 1913.5 304.6 1904.9C296.7 1896.3 286 1887.8 278.8 1879.2C271.6 1870.6 266 1862.7 261.7 1853.4C257.4 1844.1 254.5 1833.3 253.1 1823.3C251.7 1813.3 252.2 1800.5 253.1 1793.3C254 1786.1 256.9 1784.8 258.3 1780C259.7 1775.2 259.8 1769.9 261.4 1764.7C263 1759.5 265.1 1753.5 267.7 1749C270.3 1744.5 273.8 1741.2 277.2 1738C280.6 1734.8 284 1732.5 288.2 1730.1C292.4 1727.7 297.7 1725.9 302.4 1723.8C307.1 1721.7 312.1 1719.6 316.5 1717.5C320.9 1715.4 326 1713.8 329.1 1711.2C332.2 1708.6 334.3 1705.9 335.4 1701.7C336.4 1697.5 336.2 1690.2 335.4 1686C334.6 1681.8 332.8 1679.7 330.7 1676.5C328.6 1673.3 326.2 1670.2 322.8 1667.1C319.4 1663.9 314.9 1660.2 310.2 1657.6C305.5 1655 299.8 1653.6 294.5 1651.3C289.2 1649 283.9 1646.1 278.7 1643.5C273.4 1640.9 268.2 1639 263 1635.6C257.8 1632.2 251.9 1627.7 247.2 1623C242.5 1618.3 238.5 1612.5 234.6 1607.2C230.7 1602 227.3 1595.7 223.6 1591.5C219.9 1587.3 216.5 1584.6 212.6 1582C208.7 1579.4 205.2 1576.2 200 1575.7C194.8 1575.2 189 1582.2 181.6 1579.2C174.2 1576.2 163 1565.6 155.8 1557.7C148.7 1549.8 142.6 1541.2 138.7 1531.9C134.8 1522.6 133.6 1509.8 132.2 1501.9C130.8 1494 129.7 1493.3 130.1 1484.7Z" fill="none" stroke="#b4b4b4" stroke-width="10" filter="url(#bl2)" opacity="0.6"/>
<g fill="url(#bump)"><circle cx="304.2" cy="1346.8" r="31.1"/><circle cx="336.3" cy="1352.1" r="32.9"/><circle cx="375.6" cy="1344.1" r="31.8"/><circle cx="422.6" cy="1351.4" r="29.4"/><circle cx="198.6" cy="1380" r="30.1"/><circle cx="243.4" cy="1381" r="29.1"/><circle cx="280" cy="1375.1" r="26.3"/><circle cx="322.5" cy="1386.6" r="30.7"/><circle cx="358.8" cy="1376.8" r="30"/><circle cx="405.9" cy="1384" r="30.3"/><circle cx="444.4" cy="1377.6" r="30.1"/><circle cx="485.5" cy="1381.7" r="29.7"/><circle cx="180.8" cy="1414.5" r="26.4"/><circle cx="224.5" cy="1416.3" r="27.6"/><circle cx="260.2" cy="1415.2" r="28.9"/><circle cx="298.3" cy="1415.9" r="31"/><circle cx="341.4" cy="1414.9" r="26.2"/><circle cx="376.9" cy="1411.5" r="30.7"/><circle cx="424.4" cy="1419" r="32.4"/><circle cx="463.9" cy="1412.5" r="32.7"/><circle cx="502.2" cy="1410.4" r="26.1"/><circle cx="534.3" cy="1418.5" r="28"/><circle cx="162.6" cy="1449.5" r="28.6"/><circle cx="199.8" cy="1444.3" r="29.1"/><circle cx="239.2" cy="1446.3" r="26.9"/><circle cx="284.9" cy="1450.2" r="27.7"/><circle cx="321.4" cy="1453.9" r="26.2"/><circle cx="354.3" cy="1445.8" r="31.8"/><circle cx="396" cy="1452.5" r="31.4"/><circle cx="440.6" cy="1446.7" r="33.8"/><circle cx="483.7" cy="1450.3" r="27.8"/><circle cx="521.9" cy="1448.8" r="30.6"/><circle cx="558" cy="1451.6" r="26.5"/><circle cx="144.4" cy="1482.4" r="33.5"/><circle cx="183" cy="1483.7" r="28"/><circle cx="214.2" cy="1489.2" r="26.3"/><circle cx="263.9" cy="1490.2" r="30.6"/><circle cx="296.2" cy="1489.1" r="33.8"/><circle cx="342.5" cy="1484.8" r="29"/><circle cx="378.3" cy="1481.2" r="31.4"/><circle cx="419.3" cy="1481" r="26.8"/><circle cx="462.1" cy="1482.3" r="30"/><circle cx="498" cy="1489.2" r="33.2"/><circle cx="534.3" cy="1481.1" r="28.6"/><circle cx="585.9" cy="1488.1" r="28.7"/><circle cx="162.3" cy="1519.2" r="33.9"/><circle cx="196.9" cy="1522" r="26.7"/><circle cx="236.1" cy="1524.3" r="27.7"/><circle cx="283.2" cy="1520.5" r="32.7"/><circle cx="318.5" cy="1517.4" r="28.3"/><circle cx="364.5" cy="1520.6" r="33.6"/><circle cx="404.7" cy="1515" r="30.4"/><circle cx="435.4" cy="1513.8" r="26.6"/><circle cx="484.5" cy="1522.8" r="32.6"/><circle cx="518.2" cy="1520.7" r="32.3"/><circle cx="558.6" cy="1520.2" r="27.8"/><circle cx="595.1" cy="1516.5" r="33.1"/><circle cx="183.5" cy="1557.9" r="26.1"/><circle cx="222.1" cy="1549.1" r="26.9"/><circle cx="264.7" cy="1548.5" r="27.9"/><circle cx="306" cy="1553" r="26.9"/><circle cx="336.1" cy="1550.9" r="32"/><circle cx="375.3" cy="1558.9" r="29"/><circle cx="425.7" cy="1558.9" r="28.4"/><circle cx="457.1" cy="1553.7" r="26.8"/><circle cx="501.9" cy="1548.5" r="26.1"/><circle cx="545.9" cy="1551.5" r="30.8"/><circle cx="579.5" cy="1551.7" r="26.5"/><circle cx="625.1" cy="1559.6" r="33.8"/><circle cx="240.6" cy="1586.3" r="28"/><circle cx="275.1" cy="1586" r="33.9"/><circle cx="319.5" cy="1590.4" r="31.1"/><circle cx="365.4" cy="1587.3" r="28.5"/><circle cx="398" cy="1586.4" r="32.8"/><circle cx="444.8" cy="1586.3" r="28.7"/><circle cx="480.6" cy="1589.6" r="30.8"/><circle cx="517" cy="1582.9" r="28"/><circle cx="555" cy="1589.2" r="26.6"/><circle cx="595" cy="1590.2" r="28.3"/><circle cx="643.6" cy="1588.5" r="32.9"/><circle cx="263.4" cy="1629.1" r="32.6"/><circle cx="297.9" cy="1618.5" r="30.1"/><circle cx="345.1" cy="1620.8" r="33.2"/><circle cx="375.8" cy="1628.2" r="26.3"/><circle cx="417.9" cy="1628.1" r="32.4"/><circle cx="465" cy="1627.3" r="32"/><circle cx="502.4" cy="1619.4" r="29.5"/><circle cx="536" cy="1625.8" r="31.3"/><circle cx="577.1" cy="1618" r="33.7"/><circle cx="623.8" cy="1623.9" r="30.3"/><circle cx="315.6" cy="1655" r="32.6"/><circle cx="358.9" cy="1656.7" r="30.9"/><circle cx="396.9" cy="1652" r="30.2"/><circle cx="440.1" cy="1659.7" r="29.5"/><circle cx="482.3" cy="1660.7" r="27.9"/><circle cx="520" cy="1657.6" r="27.8"/><circle cx="559" cy="1658.6" r="33.3"/><circle cx="605.1" cy="1655.2" r="31.2"/><circle cx="634.7" cy="1652.8" r="30.1"/><circle cx="341.2" cy="1696.8" r="33.2"/><circle cx="385.6" cy="1693.4" r="27.4"/><circle cx="417.1" cy="1689.2" r="30.6"/><circle cx="463.2" cy="1687.2" r="31.5"/><circle cx="502.7" cy="1690.7" r="30.1"/><circle cx="536.1" cy="1695.3" r="26.3"/><circle cx="585.9" cy="1696.2" r="31"/><circle cx="617.3" cy="1697.5" r="33.7"/><circle cx="318" cy="1722.7" r="33.3"/><circle cx="365.6" cy="1722.6" r="30.8"/><circle cx="399" cy="1722.6" r="28.4"/><circle cx="437.1" cy="1730.2" r="26"/><circle cx="476.4" cy="1726.4" r="26.2"/><circle cx="521.6" cy="1728.4" r="32.7"/><circle cx="556.6" cy="1724.6" r="30.3"/><circle cx="597.4" cy="1728.2" r="28"/><circle cx="297.5" cy="1757.1" r="32.5"/><circle cx="335.5" cy="1764.8" r="30.4"/><circle cx="385.7" cy="1765" r="33.8"/><circle cx="415.7" cy="1761.8" r="30.6"/><circle cx="457.8" cy="1761.9" r="28.9"/><circle cx="500.4" cy="1755.8" r="29.5"/><circle cx="539.5" cy="1759.5" r="29.2"/><circle cx="583.5" cy="1764" r="29.9"/><circle cx="279" cy="1799.4" r="33.9"/><circle cx="317.8" cy="1792.5" r="31"/><circle cx="360.5" cy="1794.8" r="26"/><circle cx="398.8" cy="1795.6" r="29.2"/><circle cx="444.4" cy="1797.5" r="31.9"/><circle cx="484.9" cy="1799.4" r="29.9"/><circle cx="257.3" cy="1833.6" r="33"/><circle cx="300.6" cy="1826.9" r="32.7"/><circle cx="339.9" cy="1830.7" r="26.4"/><circle cx="380.2" cy="1834" r="29.4"/><circle cx="418.4" cy="1833" r="26.2"/><circle cx="460.2" cy="1836.5" r="31.5"/><circle cx="281.4" cy="1862.5" r="30.5"/><circle cx="316.2" cy="1869.2" r="32.9"/><circle cx="358.1" cy="1862.4" r="33.7"/><circle cx="402.6" cy="1869.9" r="26.2"/><circle cx="444.9" cy="1867.2" r="28.5"/><circle cx="342.7" cy="1898" r="26.9"/><circle cx="378.9" cy="1900.3" r="26.8"/><circle cx="416.3" cy="1895" r="30.8"/><circle cx="365" cy="1941" r="26.4"/><circle cx="403.7" cy="1939.3" r="28.6"/><circle cx="438.7" cy="1936" r="33.4"/></g></g>
<clipPath id="ctr"><path d="M840.6 1572.5C843.5 1563.6 847 1555 850.9 1546.8C854.8 1538.6 859.1 1531.3 863.8 1523.6C868.5 1515.9 873.7 1506.9 879.3 1500.4C884.9 1494 891.7 1488.3 897.3 1484.9C902.9 1481.5 909.4 1483.2 912.8 1479.8C916.2 1476.4 914.9 1471.2 917.9 1464.3C920.9 1457.4 925.6 1445.4 930.8 1438.5C935.9 1431.6 941.5 1428.7 948.8 1423.1C956.1 1417.5 966 1410.6 974.6 1405C983.2 1399.4 991.8 1394.3 1000.4 1389.6C1009 1384.9 1018.5 1380.1 1026.2 1376.7C1033.9 1373.3 1041.7 1372.4 1046.8 1369C1051.9 1365.6 1051.9 1360.4 1057.1 1356.1C1062.2 1351.8 1070 1346.8 1077.7 1343.2C1085.4 1339.6 1097.1 1335.9 1103.5 1334.2C1109.9 1332.5 1109.9 1332.3 1116.3 1332.9C1122.7 1333.5 1133.5 1335.7 1142.1 1338C1150.7 1340.3 1160.5 1344.2 1167.7 1346.5C1174.9 1348.8 1179.5 1349.7 1185.4 1351.8C1191.3 1353.9 1197.7 1356.2 1203 1358.9C1208.3 1361.6 1211.9 1365.4 1217.2 1367.7C1222.5 1370 1228.4 1373 1234.9 1373C1241.4 1373 1249.6 1368 1256.1 1367.7C1262.6 1367.4 1267.9 1369.8 1273.8 1371.3C1279.7 1372.8 1285.5 1373.9 1291.4 1376.6C1297.3 1379.2 1303.8 1383.7 1309.1 1387.2C1314.4 1390.7 1318.9 1393.4 1323.3 1397.8C1327.7 1402.2 1332.1 1407.8 1335.6 1413.7C1339.1 1419.6 1341.5 1426.7 1344.5 1433.2C1347.5 1439.7 1350.3 1444.8 1353.3 1452.6C1356.2 1460.4 1360.7 1471.6 1362.2 1480C1363.8 1488.4 1363.8 1495.7 1362.6 1503.1C1361.4 1510.5 1358.5 1516.6 1355.1 1524.4C1351.7 1532.2 1347.4 1542.8 1342.4 1549.9C1337.5 1557 1332.1 1562.7 1325.4 1566.9C1318.7 1571.2 1309.5 1572.9 1302 1575.4C1294.5 1577.9 1286.4 1579.3 1280.7 1581.8C1275 1584.3 1271.2 1586.8 1268 1590.3C1264.8 1593.8 1263.4 1598.1 1261.6 1603.1C1259.8 1608.1 1259.8 1615.5 1257.3 1620.1C1254.8 1624.7 1252.2 1628 1246.7 1630.7C1241.2 1633.4 1231 1634.1 1224 1636C1217 1637.9 1212 1639.6 1204.8 1642.1C1197.6 1644.6 1188.3 1648.1 1180.8 1651.1C1173.3 1654.1 1164.7 1656.2 1159.7 1660.2C1154.7 1664.2 1151.7 1668.7 1150.7 1675.2C1149.7 1681.7 1151.2 1691.7 1153.7 1699.2C1156.2 1706.7 1161.2 1715.3 1165.7 1720.3C1170.2 1725.3 1175.3 1725.8 1180.8 1729.3C1186.3 1732.8 1193.8 1735.8 1198.8 1741.3C1203.8 1746.8 1207.4 1754.8 1210.9 1762.3C1214.4 1769.8 1217.9 1778.4 1219.9 1786.4C1221.9 1794.4 1223.4 1802.5 1222.9 1810.5C1222.4 1818.5 1219.9 1826.5 1216.9 1834.5C1213.9 1842.5 1209.8 1851.6 1204.8 1858.6C1199.8 1865.6 1192.8 1871.1 1186.8 1876.6C1180.8 1882.1 1174.7 1886.6 1168.7 1891.6C1162.7 1896.6 1155.7 1901.2 1150.7 1906.7C1145.7 1912.2 1141.7 1918.2 1138.7 1924.7C1135.7 1931.2 1136.2 1939.7 1132.7 1945.7C1129.2 1951.7 1123.6 1957 1117.6 1960.8C1111.6 1964.6 1103.6 1967.3 1096.6 1968.3C1089.6 1969.3 1082.5 1969 1075.5 1966.8C1068.5 1964.5 1061 1960.8 1054.5 1954.8C1048 1948.8 1041.5 1939.7 1036.5 1930.7C1031.5 1921.7 1027.4 1910.6 1024.4 1900.6C1021.4 1890.6 1021.4 1880.6 1018.4 1870.6C1015.4 1860.6 1011.4 1850.5 1006.4 1840.5C1001.4 1830.5 994.4 1818.4 988.4 1810.4C982.4 1802.4 976.8 1796.9 970.3 1792.4C963.8 1787.9 956.8 1787.4 949.3 1783.4C941.8 1779.4 933.7 1774.4 925.2 1768.4C916.7 1762.4 905.7 1755.3 898.2 1747.3C890.7 1739.3 886.6 1732.3 880.1 1720.3C873.6 1708.3 865.1 1690.2 859.1 1675.2C853.1 1660.2 848.3 1642.6 844 1630.1C839.7 1617.6 834.1 1609.6 833.5 1600C832.9 1590.4 837.7 1581.4 840.6 1572.5Z"/></clipPath>
<path d="M840.6 1572.5C843.5 1563.6 847 1555 850.9 1546.8C854.8 1538.6 859.1 1531.3 863.8 1523.6C868.5 1515.9 873.7 1506.9 879.3 1500.4C884.9 1494 891.7 1488.3 897.3 1484.9C902.9 1481.5 909.4 1483.2 912.8 1479.8C916.2 1476.4 914.9 1471.2 917.9 1464.3C920.9 1457.4 925.6 1445.4 930.8 1438.5C935.9 1431.6 941.5 1428.7 948.8 1423.1C956.1 1417.5 966 1410.6 974.6 1405C983.2 1399.4 991.8 1394.3 1000.4 1389.6C1009 1384.9 1018.5 1380.1 1026.2 1376.7C1033.9 1373.3 1041.7 1372.4 1046.8 1369C1051.9 1365.6 1051.9 1360.4 1057.1 1356.1C1062.2 1351.8 1070 1346.8 1077.7 1343.2C1085.4 1339.6 1097.1 1335.9 1103.5 1334.2C1109.9 1332.5 1109.9 1332.3 1116.3 1332.9C1122.7 1333.5 1133.5 1335.7 1142.1 1338C1150.7 1340.3 1160.5 1344.2 1167.7 1346.5C1174.9 1348.8 1179.5 1349.7 1185.4 1351.8C1191.3 1353.9 1197.7 1356.2 1203 1358.9C1208.3 1361.6 1211.9 1365.4 1217.2 1367.7C1222.5 1370 1228.4 1373 1234.9 1373C1241.4 1373 1249.6 1368 1256.1 1367.7C1262.6 1367.4 1267.9 1369.8 1273.8 1371.3C1279.7 1372.8 1285.5 1373.9 1291.4 1376.6C1297.3 1379.2 1303.8 1383.7 1309.1 1387.2C1314.4 1390.7 1318.9 1393.4 1323.3 1397.8C1327.7 1402.2 1332.1 1407.8 1335.6 1413.7C1339.1 1419.6 1341.5 1426.7 1344.5 1433.2C1347.5 1439.7 1350.3 1444.8 1353.3 1452.6C1356.2 1460.4 1360.7 1471.6 1362.2 1480C1363.8 1488.4 1363.8 1495.7 1362.6 1503.1C1361.4 1510.5 1358.5 1516.6 1355.1 1524.4C1351.7 1532.2 1347.4 1542.8 1342.4 1549.9C1337.5 1557 1332.1 1562.7 1325.4 1566.9C1318.7 1571.2 1309.5 1572.9 1302 1575.4C1294.5 1577.9 1286.4 1579.3 1280.7 1581.8C1275 1584.3 1271.2 1586.8 1268 1590.3C1264.8 1593.8 1263.4 1598.1 1261.6 1603.1C1259.8 1608.1 1259.8 1615.5 1257.3 1620.1C1254.8 1624.7 1252.2 1628 1246.7 1630.7C1241.2 1633.4 1231 1634.1 1224 1636C1217 1637.9 1212 1639.6 1204.8 1642.1C1197.6 1644.6 1188.3 1648.1 1180.8 1651.1C1173.3 1654.1 1164.7 1656.2 1159.7 1660.2C1154.7 1664.2 1151.7 1668.7 1150.7 1675.2C1149.7 1681.7 1151.2 1691.7 1153.7 1699.2C1156.2 1706.7 1161.2 1715.3 1165.7 1720.3C1170.2 1725.3 1175.3 1725.8 1180.8 1729.3C1186.3 1732.8 1193.8 1735.8 1198.8 1741.3C1203.8 1746.8 1207.4 1754.8 1210.9 1762.3C1214.4 1769.8 1217.9 1778.4 1219.9 1786.4C1221.9 1794.4 1223.4 1802.5 1222.9 1810.5C1222.4 1818.5 1219.9 1826.5 1216.9 1834.5C1213.9 1842.5 1209.8 1851.6 1204.8 1858.6C1199.8 1865.6 1192.8 1871.1 1186.8 1876.6C1180.8 1882.1 1174.7 1886.6 1168.7 1891.6C1162.7 1896.6 1155.7 1901.2 1150.7 1906.7C1145.7 1912.2 1141.7 1918.2 1138.7 1924.7C1135.7 1931.2 1136.2 1939.7 1132.7 1945.7C1129.2 1951.7 1123.6 1957 1117.6 1960.8C1111.6 1964.6 1103.6 1967.3 1096.6 1968.3C1089.6 1969.3 1082.5 1969 1075.5 1966.8C1068.5 1964.5 1061 1960.8 1054.5 1954.8C1048 1948.8 1041.5 1939.7 1036.5 1930.7C1031.5 1921.7 1027.4 1910.6 1024.4 1900.6C1021.4 1890.6 1021.4 1880.6 1018.4 1870.6C1015.4 1860.6 1011.4 1850.5 1006.4 1840.5C1001.4 1830.5 994.4 1818.4 988.4 1810.4C982.4 1802.4 976.8 1796.9 970.3 1792.4C963.8 1787.9 956.8 1787.4 949.3 1783.4C941.8 1779.4 933.7 1774.4 925.2 1768.4C916.7 1762.4 905.7 1755.3 898.2 1747.3C890.7 1739.3 886.6 1732.3 880.1 1720.3C873.6 1708.3 865.1 1690.2 859.1 1675.2C853.1 1660.2 848.3 1642.6 844 1630.1C839.7 1617.6 834.1 1609.6 833.5 1600C832.9 1590.4 837.7 1581.4 840.6 1572.5Z" fill="#b5b5b5"/>
<g clip-path="url(#ctr)"><path d="M840.6 1572.5C843.5 1563.6 847 1555 850.9 1546.8C854.8 1538.6 859.1 1531.3 863.8 1523.6C868.5 1515.9 873.7 1506.9 879.3 1500.4C884.9 1494 891.7 1488.3 897.3 1484.9C902.9 1481.5 909.4 1483.2 912.8 1479.8C916.2 1476.4 914.9 1471.2 917.9 1464.3C920.9 1457.4 925.6 1445.4 930.8 1438.5C935.9 1431.6 941.5 1428.7 948.8 1423.1C956.1 1417.5 966 1410.6 974.6 1405C983.2 1399.4 991.8 1394.3 1000.4 1389.6C1009 1384.9 1018.5 1380.1 1026.2 1376.7C1033.9 1373.3 1041.7 1372.4 1046.8 1369C1051.9 1365.6 1051.9 1360.4 1057.1 1356.1C1062.2 1351.8 1070 1346.8 1077.7 1343.2C1085.4 1339.6 1097.1 1335.9 1103.5 1334.2C1109.9 1332.5 1109.9 1332.3 1116.3 1332.9C1122.7 1333.5 1133.5 1335.7 1142.1 1338C1150.7 1340.3 1160.5 1344.2 1167.7 1346.5C1174.9 1348.8 1179.5 1349.7 1185.4 1351.8C1191.3 1353.9 1197.7 1356.2 1203 1358.9C1208.3 1361.6 1211.9 1365.4 1217.2 1367.7C1222.5 1370 1228.4 1373 1234.9 1373C1241.4 1373 1249.6 1368 1256.1 1367.7C1262.6 1367.4 1267.9 1369.8 1273.8 1371.3C1279.7 1372.8 1285.5 1373.9 1291.4 1376.6C1297.3 1379.2 1303.8 1383.7 1309.1 1387.2C1314.4 1390.7 1318.9 1393.4 1323.3 1397.8C1327.7 1402.2 1332.1 1407.8 1335.6 1413.7C1339.1 1419.6 1341.5 1426.7 1344.5 1433.2C1347.5 1439.7 1350.3 1444.8 1353.3 1452.6C1356.2 1460.4 1360.7 1471.6 1362.2 1480C1363.8 1488.4 1363.8 1495.7 1362.6 1503.1C1361.4 1510.5 1358.5 1516.6 1355.1 1524.4C1351.7 1532.2 1347.4 1542.8 1342.4 1549.9C1337.5 1557 1332.1 1562.7 1325.4 1566.9C1318.7 1571.2 1309.5 1572.9 1302 1575.4C1294.5 1577.9 1286.4 1579.3 1280.7 1581.8C1275 1584.3 1271.2 1586.8 1268 1590.3C1264.8 1593.8 1263.4 1598.1 1261.6 1603.1C1259.8 1608.1 1259.8 1615.5 1257.3 1620.1C1254.8 1624.7 1252.2 1628 1246.7 1630.7C1241.2 1633.4 1231 1634.1 1224 1636C1217 1637.9 1212 1639.6 1204.8 1642.1C1197.6 1644.6 1188.3 1648.1 1180.8 1651.1C1173.3 1654.1 1164.7 1656.2 1159.7 1660.2C1154.7 1664.2 1151.7 1668.7 1150.7 1675.2C1149.7 1681.7 1151.2 1691.7 1153.7 1699.2C1156.2 1706.7 1161.2 1715.3 1165.7 1720.3C1170.2 1725.3 1175.3 1725.8 1180.8 1729.3C1186.3 1732.8 1193.8 1735.8 1198.8 1741.3C1203.8 1746.8 1207.4 1754.8 1210.9 1762.3C1214.4 1769.8 1217.9 1778.4 1219.9 1786.4C1221.9 1794.4 1223.4 1802.5 1222.9 1810.5C1222.4 1818.5 1219.9 1826.5 1216.9 1834.5C1213.9 1842.5 1209.8 1851.6 1204.8 1858.6C1199.8 1865.6 1192.8 1871.1 1186.8 1876.6C1180.8 1882.1 1174.7 1886.6 1168.7 1891.6C1162.7 1896.6 1155.7 1901.2 1150.7 1906.7C1145.7 1912.2 1141.7 1918.2 1138.7 1924.7C1135.7 1931.2 1136.2 1939.7 1132.7 1945.7C1129.2 1951.7 1123.6 1957 1117.6 1960.8C1111.6 1964.6 1103.6 1967.3 1096.6 1968.3C1089.6 1969.3 1082.5 1969 1075.5 1966.8C1068.5 1964.5 1061 1960.8 1054.5 1954.8C1048 1948.8 1041.5 1939.7 1036.5 1930.7C1031.5 1921.7 1027.4 1910.6 1024.4 1900.6C1021.4 1890.6 1021.4 1880.6 1018.4 1870.6C1015.4 1860.6 1011.4 1850.5 1006.4 1840.5C1001.4 1830.5 994.4 1818.4 988.4 1810.4C982.4 1802.4 976.8 1796.9 970.3 1792.4C963.8 1787.9 956.8 1787.4 949.3 1783.4C941.8 1779.4 933.7 1774.4 925.2 1768.4C916.7 1762.4 905.7 1755.3 898.2 1747.3C890.7 1739.3 886.6 1732.3 880.1 1720.3C873.6 1708.3 865.1 1690.2 859.1 1675.2C853.1 1660.2 848.3 1642.6 844 1630.1C839.7 1617.6 834.1 1609.6 833.5 1600C832.9 1590.4 837.7 1581.4 840.6 1572.5Z" fill="#e9e9e9" filter="url(#bl)"/>
<path d="M840.6 1572.5C843.5 1563.6 847 1555 850.9 1546.8C854.8 1538.6 859.1 1531.3 863.8 1523.6C868.5 1515.9 873.7 1506.9 879.3 1500.4C884.9 1494 891.7 1488.3 897.3 1484.9C902.9 1481.5 909.4 1483.2 912.8 1479.8C916.2 1476.4 914.9 1471.2 917.9 1464.3C920.9 1457.4 925.6 1445.4 930.8 1438.5C935.9 1431.6 941.5 1428.7 948.8 1423.1C956.1 1417.5 966 1410.6 974.6 1405C983.2 1399.4 991.8 1394.3 1000.4 1389.6C1009 1384.9 1018.5 1380.1 1026.2 1376.7C1033.9 1373.3 1041.7 1372.4 1046.8 1369C1051.9 1365.6 1051.9 1360.4 1057.1 1356.1C1062.2 1351.8 1070 1346.8 1077.7 1343.2C1085.4 1339.6 1097.1 1335.9 1103.5 1334.2C1109.9 1332.5 1109.9 1332.3 1116.3 1332.9C1122.7 1333.5 1133.5 1335.7 1142.1 1338C1150.7 1340.3 1160.5 1344.2 1167.7 1346.5C1174.9 1348.8 1179.5 1349.7 1185.4 1351.8C1191.3 1353.9 1197.7 1356.2 1203 1358.9C1208.3 1361.6 1211.9 1365.4 1217.2 1367.7C1222.5 1370 1228.4 1373 1234.9 1373C1241.4 1373 1249.6 1368 1256.1 1367.7C1262.6 1367.4 1267.9 1369.8 1273.8 1371.3C1279.7 1372.8 1285.5 1373.9 1291.4 1376.6C1297.3 1379.2 1303.8 1383.7 1309.1 1387.2C1314.4 1390.7 1318.9 1393.4 1323.3 1397.8C1327.7 1402.2 1332.1 1407.8 1335.6 1413.7C1339.1 1419.6 1341.5 1426.7 1344.5 1433.2C1347.5 1439.7 1350.3 1444.8 1353.3 1452.6C1356.2 1460.4 1360.7 1471.6 1362.2 1480C1363.8 1488.4 1363.8 1495.7 1362.6 1503.1C1361.4 1510.5 1358.5 1516.6 1355.1 1524.4C1351.7 1532.2 1347.4 1542.8 1342.4 1549.9C1337.5 1557 1332.1 1562.7 1325.4 1566.9C1318.7 1571.2 1309.5 1572.9 1302 1575.4C1294.5 1577.9 1286.4 1579.3 1280.7 1581.8C1275 1584.3 1271.2 1586.8 1268 1590.3C1264.8 1593.8 1263.4 1598.1 1261.6 1603.1C1259.8 1608.1 1259.8 1615.5 1257.3 1620.1C1254.8 1624.7 1252.2 1628 1246.7 1630.7C1241.2 1633.4 1231 1634.1 1224 1636C1217 1637.9 1212 1639.6 1204.8 1642.1C1197.6 1644.6 1188.3 1648.1 1180.8 1651.1C1173.3 1654.1 1164.7 1656.2 1159.7 1660.2C1154.7 1664.2 1151.7 1668.7 1150.7 1675.2C1149.7 1681.7 1151.2 1691.7 1153.7 1699.2C1156.2 1706.7 1161.2 1715.3 1165.7 1720.3C1170.2 1725.3 1175.3 1725.8 1180.8 1729.3C1186.3 1732.8 1193.8 1735.8 1198.8 1741.3C1203.8 1746.8 1207.4 1754.8 1210.9 1762.3C1214.4 1769.8 1217.9 1778.4 1219.9 1786.4C1221.9 1794.4 1223.4 1802.5 1222.9 1810.5C1222.4 1818.5 1219.9 1826.5 1216.9 1834.5C1213.9 1842.5 1209.8 1851.6 1204.8 1858.6C1199.8 1865.6 1192.8 1871.1 1186.8 1876.6C1180.8 1882.1 1174.7 1886.6 1168.7 1891.6C1162.7 1896.6 1155.7 1901.2 1150.7 1906.7C1145.7 1912.2 1141.7 1918.2 1138.7 1924.7C1135.7 1931.2 1136.2 1939.7 1132.7 1945.7C1129.2 1951.7 1123.6 1957 1117.6 1960.8C1111.6 1964.6 1103.6 1967.3 1096.6 1968.3C1089.6 1969.3 1082.5 1969 1075.5 1966.8C1068.5 1964.5 1061 1960.8 1054.5 1954.8C1048 1948.8 1041.5 1939.7 1036.5 1930.7C1031.5 1921.7 1027.4 1910.6 1024.4 1900.6C1021.4 1890.6 1021.4 1880.6 1018.4 1870.6C1015.4 1860.6 1011.4 1850.5 1006.4 1840.5C1001.4 1830.5 994.4 1818.4 988.4 1810.4C982.4 1802.4 976.8 1796.9 970.3 1792.4C963.8 1787.9 956.8 1787.4 949.3 1783.4C941.8 1779.4 933.7 1774.4 925.2 1768.4C916.7 1762.4 905.7 1755.3 898.2 1747.3C890.7 1739.3 886.6 1732.3 880.1 1720.3C873.6 1708.3 865.1 1690.2 859.1 1675.2C853.1 1660.2 848.3 1642.6 844 1630.1C839.7 1617.6 834.1 1609.6 833.5 1600C832.9 1590.4 837.7 1581.4 840.6 1572.5Z" fill="none" stroke="#b4b4b4" stroke-width="10" filter="url(#bl2)" opacity="0.6"/>
<g fill="url(#bump)"><circle cx="1086.7" cy="1361" r="28.8"/><circle cx="1129.3" cy="1363.1" r="27.3"/><circle cx="1166.5" cy="1360.1" r="29.7"/><circle cx="1021.2" cy="1397.7" r="31.6"/><circle cx="1063.6" cy="1392.4" r="31.2"/><circle cx="1104.6" cy="1389.9" r="27.7"/><circle cx="1143.6" cy="1397.4" r="31"/><circle cx="1178.4" cy="1396" r="31.8"/><circle cx="1228.4" cy="1388.5" r="32"/><circle cx="1258.2" cy="1394" r="28.2"/><circle cx="1300.2" cy="1396.7" r="26.9"/><circle cx="961.8" cy="1422.9" r="31.4"/><circle cx="998.5" cy="1432.3" r="26.2"/><circle cx="1046.3" cy="1421.1" r="28"/><circle cx="1087.3" cy="1422.7" r="27.5"/><circle cx="1125.8" cy="1425.4" r="26.3"/><circle cx="1169.4" cy="1422.6" r="26.3"/><circle cx="1201.6" cy="1428.2" r="31.9"/><circle cx="1238.9" cy="1424.9" r="26.2"/><circle cx="1282.9" cy="1430" r="31.9"/><circle cx="1328.3" cy="1429.9" r="32.9"/><circle cx="939" cy="1462.5" r="29.1"/><circle cx="983.7" cy="1457.2" r="33.7"/><circle cx="1020.6" cy="1462.7" r="29.4"/><circle cx="1057.7" cy="1462.2" r="27.1"/><circle cx="1098.2" cy="1455.9" r="27.3"/><circle cx="1138.7" cy="1463.1" r="30.1"/><circle cx="1189.3" cy="1466.7" r="34"/><circle cx="1220.3" cy="1460.8" r="28"/><circle cx="1264.6" cy="1462.9" r="32.4"/><circle cx="1306" cy="1458.5" r="29.4"/><circle cx="1343.8" cy="1455.5" r="26.3"/><circle cx="918.7" cy="1492.3" r="27.9"/><circle cx="960.1" cy="1496.3" r="29.7"/><circle cx="1001.2" cy="1497.8" r="27.7"/><circle cx="1048.4" cy="1501.7" r="31.8"/><circle cx="1082.7" cy="1496.2" r="30.6"/><circle cx="1118.1" cy="1495.1" r="30.2"/><circle cx="1159.7" cy="1491.2" r="32.4"/><circle cx="1201.9" cy="1496.3" r="33.4"/><circle cx="1244.8" cy="1493.6" r="33.9"/><circle cx="1282" cy="1490.3" r="31.5"/><circle cx="1318.7" cy="1493.8" r="32.7"/><circle cx="863.3" cy="1527.2" r="30.7"/><circle cx="898.4" cy="1528.2" r="29"/><circle cx="948.7" cy="1525.7" r="32"/><circle cx="979.8" cy="1531.6" r="29.1"/><circle cx="1023.1" cy="1533.8" r="29.2"/><circle cx="1059" cy="1526.2" r="26.6"/><circle cx="1107.7" cy="1532.4" r="33.7"/><circle cx="1145.8" cy="1525" r="31.3"/><circle cx="1186.8" cy="1533.4" r="30"/><circle cx="1221.8" cy="1530.2" r="32.4"/><circle cx="1260.7" cy="1531.1" r="29.8"/><circle cx="1309" cy="1534.4" r="33.5"/><circle cx="1347.5" cy="1528.3" r="27.9"/><circle cx="882.6" cy="1567.5" r="33.3"/><circle cx="924.5" cy="1569.2" r="26.8"/><circle cx="961.8" cy="1571.4" r="27.2"/><circle cx="1002.5" cy="1560.2" r="26.7"/><circle cx="1048.2" cy="1571.2" r="31.2"/><circle cx="1079" cy="1562.9" r="27.9"/><circle cx="1125.5" cy="1567.6" r="29.5"/><circle cx="1163.8" cy="1560.7" r="30.3"/><circle cx="1208.9" cy="1568.4" r="26.8"/><circle cx="1243.7" cy="1568" r="28.1"/><circle cx="1288.2" cy="1564.9" r="31.6"/><circle cx="857.9" cy="1601.2" r="33.1"/><circle cx="899.7" cy="1600.1" r="29.9"/><circle cx="942.4" cy="1602.5" r="33.5"/><circle cx="986" cy="1599.7" r="33.7"/><circle cx="1021.5" cy="1603" r="31.3"/><circle cx="1066.6" cy="1604.2" r="27.8"/><circle cx="1105" cy="1598.9" r="31.3"/><circle cx="1149.2" cy="1601.6" r="26.1"/><circle cx="1183.1" cy="1602.6" r="33.1"/><circle cx="1225.3" cy="1603.8" r="26.1"/><circle cx="847.3" cy="1637.9" r="27.6"/><circle cx="886.4" cy="1635.7" r="27.5"/><circle cx="927.2" cy="1630.3" r="30.9"/><circle cx="962.7" cy="1631.7" r="30.5"/><circle cx="1003.1" cy="1631.1" r="33.7"/><circle cx="1038.4" cy="1628.7" r="29.9"/><circle cx="1087.5" cy="1636.6" r="32"/><circle cx="1123.3" cy="1636.8" r="28.7"/><circle cx="1160.7" cy="1634.7" r="26.2"/><circle cx="1198.5" cy="1637.7" r="27.4"/><circle cx="861" cy="1663.4" r="30.5"/><circle cx="909.1" cy="1667.7" r="30.3"/><circle cx="942.1" cy="1668.6" r="33"/><circle cx="981.2" cy="1671.1" r="29.9"/><circle cx="1024" cy="1674.3" r="26.6"/><circle cx="1067.4" cy="1667" r="31.2"/><circle cx="1107.1" cy="1671.1" r="29.1"/><circle cx="1147.6" cy="1664.4" r="31.1"/><circle cx="887.3" cy="1702.5" r="28.9"/><circle cx="921.3" cy="1698.9" r="29.7"/><circle cx="959.5" cy="1703.2" r="28.3"/><circle cx="1008.2" cy="1709" r="29.5"/><circle cx="1045.2" cy="1709.1" r="28.6"/><circle cx="1078.7" cy="1700.8" r="27.5"/><circle cx="1125.6" cy="1702.4" r="28.8"/><circle cx="906.5" cy="1744.3" r="28.3"/><circle cx="945" cy="1740.6" r="28.9"/><circle cx="982.2" cy="1734.7" r="33.7"/><circle cx="1021.7" cy="1738.3" r="33.1"/><circle cx="1059.7" cy="1744.1" r="27"/><circle cx="1097.8" cy="1736.8" r="28.9"/><circle cx="1148.5" cy="1743.2" r="32.1"/><circle cx="1182.7" cy="1739.1" r="27.9"/><circle cx="960.5" cy="1770.1" r="30.9"/><circle cx="1001.5" cy="1771.7" r="32.1"/><circle cx="1038.2" cy="1768.9" r="32.8"/><circle cx="1082.7" cy="1776.6" r="27.1"/><circle cx="1123.8" cy="1777.4" r="28.7"/><circle cx="1166.7" cy="1774.5" r="29.2"/><circle cx="1209.5" cy="1771.9" r="29.8"/><circle cx="988.7" cy="1810" r="33.3"/><circle cx="1018.4" cy="1805.5" r="32.4"/><circle cx="1057.6" cy="1803.1" r="28.8"/><circle cx="1099.6" cy="1803.6" r="31.4"/><circle cx="1138.6" cy="1813.5" r="31.2"/><circle cx="1178.1" cy="1812.6" r="27.9"/><circle cx="1040.1" cy="1841" r="31"/><circle cx="1087.8" cy="1847.4" r="31.7"/><circle cx="1123.6" cy="1847.5" r="27.3"/><circle cx="1158.8" cy="1846.3" r="31"/><circle cx="1200" cy="1841" r="28.4"/><circle cx="1024.5" cy="1878.9" r="31"/><circle cx="1066.4" cy="1879.6" r="29.8"/><circle cx="1098.1" cy="1880.4" r="32.6"/><circle cx="1147.5" cy="1878.3" r="26.3"/><circle cx="1179.9" cy="1872.4" r="31.1"/><circle cx="1039" cy="1914.2" r="28.2"/><circle cx="1088.4" cy="1908.4" r="28.7"/><circle cx="1124" cy="1910.5" r="30.2"/><circle cx="1061.2" cy="1942.9" r="32.7"/><circle cx="1101.1" cy="1940.6" r="33"/></g></g>
<clipPath id="cbl"><path d="M8.6 2240C10.1 2235.6 12.4 2232.7 16 2228C19.6 2223.3 25 2216.7 30 2212C35 2207.3 40.2 2206.2 46 2200C51.8 2193.8 58 2183.3 65 2175C72 2166.7 80.5 2159.2 88 2150C95.5 2140.8 105 2127.5 110 2120C115 2112.5 114.7 2110.3 118 2105C121.3 2099.7 123.8 2095 130 2088C136.2 2081 146.7 2069.2 155 2063C163.3 2056.8 170.3 2053.2 180 2051C189.7 2048.8 204.2 2051.3 213 2050C221.8 2048.7 226.8 2046.3 233 2043C239.2 2039.7 242.8 2033.2 250 2030C257.2 2026.8 267.5 2025 276 2024C284.5 2023 293.7 2023.7 301 2024C308.3 2024.3 312.5 2024.2 320 2026C327.5 2027.8 337.4 2032.2 346 2035C354.6 2037.8 363 2040.7 371.5 2043C380 2045.3 387.6 2046.7 397 2049C406.4 2051.3 416.8 2055.7 428 2057C439.2 2058.3 454.5 2059.6 464 2057C473.5 2054.4 477.2 2046.2 485 2041.5C492.8 2036.8 502 2033.5 511 2029C520 2024.5 527.8 2016.9 539 2014.5C550.2 2012.1 567.2 2013 578 2014.5C588.8 2016 596.2 2019 603.5 2023.5C610.8 2028 617.2 2034.2 621.5 2041.5C625.8 2048.8 627.1 2058.4 629 2067C630.9 2075.6 631.5 2084.3 633 2093C634.5 2101.7 636.5 2110.3 638 2119C639.5 2127.7 640.7 2134.8 642 2145C643.3 2155.2 643.9 2166.5 645.7 2180C647.5 2193.5 650.7 2210.5 652.6 2225.8C654.5 2241.1 655.3 2258.2 657.2 2271.6C659.1 2285 662.5 2294.6 664 2306C665.5 2317.4 666.3 2330.8 666.3 2340.3C666.3 2349.8 665.7 2357.1 664 2363C662.3 2368.9 659 2372.5 656 2376C653 2379.5 649.3 2381.2 646 2384C642.7 2386.8 639.4 2389.3 636 2393C632.6 2396.7 629.8 2402.1 625.5 2406C621.2 2409.9 615 2413 610.4 2416.5C605.8 2420 602.2 2422.9 597.6 2427C593 2431.1 588.6 2438.1 582.5 2441C576.4 2443.9 568.1 2444.7 561 2444.4C553.9 2444.1 546.8 2440.8 539.6 2439C532.4 2437.2 525.2 2435.1 518 2433.7C510.8 2432.3 503.8 2431.8 496.6 2430.5C489.4 2429.2 482.1 2427.1 475 2426C467.9 2424.9 460.1 2424 453.7 2424C447.3 2424 441.9 2423.7 436.5 2426C431.1 2428.3 427.6 2435.1 421.5 2438C415.4 2440.9 407.7 2442.8 400 2443.3C392.3 2443.8 383.2 2441.8 375.5 2440.8C367.8 2439.9 360.4 2437.6 354 2437.6C347.6 2437.6 342.2 2438.3 336.8 2440.8C331.4 2443.3 327.9 2450 321.8 2452.6C315.7 2455.2 307.5 2455.9 300.3 2456.3C293.1 2456.7 286 2455.8 278.8 2454.8C271.6 2453.8 264.5 2451.9 257.4 2450.5C250.2 2449.1 243.1 2447.6 235.9 2446.2C228.7 2444.8 221.6 2443 214.4 2441.9C207.2 2440.8 200.2 2440.8 193 2439.7C185.8 2438.6 178.7 2437 171.5 2435.4C164.3 2433.8 155.9 2431.8 150 2430C144.1 2428.2 140.7 2426.5 136 2424.7C131.3 2422.9 126.2 2421.6 121.7 2419C117.2 2416.4 112.4 2413 108.8 2408.9C105.2 2404.8 102.3 2400.1 100.2 2394.6C98.1 2389.1 97.3 2381.5 95.9 2376C94.5 2370.5 93.3 2366.2 91.6 2361.7C89.9 2357.2 89.2 2351.9 85.9 2348.8C82.6 2345.7 76.4 2344.5 71.6 2343.1C66.8 2341.7 62.1 2340.9 57.3 2340.2C52.5 2339.5 47.7 2340.2 42.9 2338.8C38.1 2337.4 33.1 2334.7 28.6 2331.6C24.1 2328.5 19.3 2324.7 15.7 2320.2C12.1 2315.7 9.1 2309.4 7.2 2304.4C5.3 2299.4 4.5 2294.9 4.3 2290.1C4 2285.3 5.2 2281.8 5.7 2275.8C6.2 2269.8 6.7 2260.3 7.2 2254.3C7.7 2248.3 7.1 2244.4 8.6 2240Z"/></clipPath>
<path d="M8.6 2240C10.1 2235.6 12.4 2232.7 16 2228C19.6 2223.3 25 2216.7 30 2212C35 2207.3 40.2 2206.2 46 2200C51.8 2193.8 58 2183.3 65 2175C72 2166.7 80.5 2159.2 88 2150C95.5 2140.8 105 2127.5 110 2120C115 2112.5 114.7 2110.3 118 2105C121.3 2099.7 123.8 2095 130 2088C136.2 2081 146.7 2069.2 155 2063C163.3 2056.8 170.3 2053.2 180 2051C189.7 2048.8 204.2 2051.3 213 2050C221.8 2048.7 226.8 2046.3 233 2043C239.2 2039.7 242.8 2033.2 250 2030C257.2 2026.8 267.5 2025 276 2024C284.5 2023 293.7 2023.7 301 2024C308.3 2024.3 312.5 2024.2 320 2026C327.5 2027.8 337.4 2032.2 346 2035C354.6 2037.8 363 2040.7 371.5 2043C380 2045.3 387.6 2046.7 397 2049C406.4 2051.3 416.8 2055.7 428 2057C439.2 2058.3 454.5 2059.6 464 2057C473.5 2054.4 477.2 2046.2 485 2041.5C492.8 2036.8 502 2033.5 511 2029C520 2024.5 527.8 2016.9 539 2014.5C550.2 2012.1 567.2 2013 578 2014.5C588.8 2016 596.2 2019 603.5 2023.5C610.8 2028 617.2 2034.2 621.5 2041.5C625.8 2048.8 627.1 2058.4 629 2067C630.9 2075.6 631.5 2084.3 633 2093C634.5 2101.7 636.5 2110.3 638 2119C639.5 2127.7 640.7 2134.8 642 2145C643.3 2155.2 643.9 2166.5 645.7 2180C647.5 2193.5 650.7 2210.5 652.6 2225.8C654.5 2241.1 655.3 2258.2 657.2 2271.6C659.1 2285 662.5 2294.6 664 2306C665.5 2317.4 666.3 2330.8 666.3 2340.3C666.3 2349.8 665.7 2357.1 664 2363C662.3 2368.9 659 2372.5 656 2376C653 2379.5 649.3 2381.2 646 2384C642.7 2386.8 639.4 2389.3 636 2393C632.6 2396.7 629.8 2402.1 625.5 2406C621.2 2409.9 615 2413 610.4 2416.5C605.8 2420 602.2 2422.9 597.6 2427C593 2431.1 588.6 2438.1 582.5 2441C576.4 2443.9 568.1 2444.7 561 2444.4C553.9 2444.1 546.8 2440.8 539.6 2439C532.4 2437.2 525.2 2435.1 518 2433.7C510.8 2432.3 503.8 2431.8 496.6 2430.5C489.4 2429.2 482.1 2427.1 475 2426C467.9 2424.9 460.1 2424 453.7 2424C447.3 2424 441.9 2423.7 436.5 2426C431.1 2428.3 427.6 2435.1 421.5 2438C415.4 2440.9 407.7 2442.8 400 2443.3C392.3 2443.8 383.2 2441.8 375.5 2440.8C367.8 2439.9 360.4 2437.6 354 2437.6C347.6 2437.6 342.2 2438.3 336.8 2440.8C331.4 2443.3 327.9 2450 321.8 2452.6C315.7 2455.2 307.5 2455.9 300.3 2456.3C293.1 2456.7 286 2455.8 278.8 2454.8C271.6 2453.8 264.5 2451.9 257.4 2450.5C250.2 2449.1 243.1 2447.6 235.9 2446.2C228.7 2444.8 221.6 2443 214.4 2441.9C207.2 2440.8 200.2 2440.8 193 2439.7C185.8 2438.6 178.7 2437 171.5 2435.4C164.3 2433.8 155.9 2431.8 150 2430C144.1 2428.2 140.7 2426.5 136 2424.7C131.3 2422.9 126.2 2421.6 121.7 2419C117.2 2416.4 112.4 2413 108.8 2408.9C105.2 2404.8 102.3 2400.1 100.2 2394.6C98.1 2389.1 97.3 2381.5 95.9 2376C94.5 2370.5 93.3 2366.2 91.6 2361.7C89.9 2357.2 89.2 2351.9 85.9 2348.8C82.6 2345.7 76.4 2344.5 71.6 2343.1C66.8 2341.7 62.1 2340.9 57.3 2340.2C52.5 2339.5 47.7 2340.2 42.9 2338.8C38.1 2337.4 33.1 2334.7 28.6 2331.6C24.1 2328.5 19.3 2324.7 15.7 2320.2C12.1 2315.7 9.1 2309.4 7.2 2304.4C5.3 2299.4 4.5 2294.9 4.3 2290.1C4 2285.3 5.2 2281.8 5.7 2275.8C6.2 2269.8 6.7 2260.3 7.2 2254.3C7.7 2248.3 7.1 2244.4 8.6 2240Z" fill="#b5b5b5"/>
<g clip-path="url(#cbl)"><path d="M8.6 2240C10.1 2235.6 12.4 2232.7 16 2228C19.6 2223.3 25 2216.7 30 2212C35 2207.3 40.2 2206.2 46 2200C51.8 2193.8 58 2183.3 65 2175C72 2166.7 80.5 2159.2 88 2150C95.5 2140.8 105 2127.5 110 2120C115 2112.5 114.7 2110.3 118 2105C121.3 2099.7 123.8 2095 130 2088C136.2 2081 146.7 2069.2 155 2063C163.3 2056.8 170.3 2053.2 180 2051C189.7 2048.8 204.2 2051.3 213 2050C221.8 2048.7 226.8 2046.3 233 2043C239.2 2039.7 242.8 2033.2 250 2030C257.2 2026.8 267.5 2025 276 2024C284.5 2023 293.7 2023.7 301 2024C308.3 2024.3 312.5 2024.2 320 2026C327.5 2027.8 337.4 2032.2 346 2035C354.6 2037.8 363 2040.7 371.5 2043C380 2045.3 387.6 2046.7 397 2049C406.4 2051.3 416.8 2055.7 428 2057C439.2 2058.3 454.5 2059.6 464 2057C473.5 2054.4 477.2 2046.2 485 2041.5C492.8 2036.8 502 2033.5 511 2029C520 2024.5 527.8 2016.9 539 2014.5C550.2 2012.1 567.2 2013 578 2014.5C588.8 2016 596.2 2019 603.5 2023.5C610.8 2028 617.2 2034.2 621.5 2041.5C625.8 2048.8 627.1 2058.4 629 2067C630.9 2075.6 631.5 2084.3 633 2093C634.5 2101.7 636.5 2110.3 638 2119C639.5 2127.7 640.7 2134.8 642 2145C643.3 2155.2 643.9 2166.5 645.7 2180C647.5 2193.5 650.7 2210.5 652.6 2225.8C654.5 2241.1 655.3 2258.2 657.2 2271.6C659.1 2285 662.5 2294.6 664 2306C665.5 2317.4 666.3 2330.8 666.3 2340.3C666.3 2349.8 665.7 2357.1 664 2363C662.3 2368.9 659 2372.5 656 2376C653 2379.5 649.3 2381.2 646 2384C642.7 2386.8 639.4 2389.3 636 2393C632.6 2396.7 629.8 2402.1 625.5 2406C621.2 2409.9 615 2413 610.4 2416.5C605.8 2420 602.2 2422.9 597.6 2427C593 2431.1 588.6 2438.1 582.5 2441C576.4 2443.9 568.1 2444.7 561 2444.4C553.9 2444.1 546.8 2440.8 539.6 2439C532.4 2437.2 525.2 2435.1 518 2433.7C510.8 2432.3 503.8 2431.8 496.6 2430.5C489.4 2429.2 482.1 2427.1 475 2426C467.9 2424.9 460.1 2424 453.7 2424C447.3 2424 441.9 2423.7 436.5 2426C431.1 2428.3 427.6 2435.1 421.5 2438C415.4 2440.9 407.7 2442.8 400 2443.3C392.3 2443.8 383.2 2441.8 375.5 2440.8C367.8 2439.9 360.4 2437.6 354 2437.6C347.6 2437.6 342.2 2438.3 336.8 2440.8C331.4 2443.3 327.9 2450 321.8 2452.6C315.7 2455.2 307.5 2455.9 300.3 2456.3C293.1 2456.7 286 2455.8 278.8 2454.8C271.6 2453.8 264.5 2451.9 257.4 2450.5C250.2 2449.1 243.1 2447.6 235.9 2446.2C228.7 2444.8 221.6 2443 214.4 2441.9C207.2 2440.8 200.2 2440.8 193 2439.7C185.8 2438.6 178.7 2437 171.5 2435.4C164.3 2433.8 155.9 2431.8 150 2430C144.1 2428.2 140.7 2426.5 136 2424.7C131.3 2422.9 126.2 2421.6 121.7 2419C117.2 2416.4 112.4 2413 108.8 2408.9C105.2 2404.8 102.3 2400.1 100.2 2394.6C98.1 2389.1 97.3 2381.5 95.9 2376C94.5 2370.5 93.3 2366.2 91.6 2361.7C89.9 2357.2 89.2 2351.9 85.9 2348.8C82.6 2345.7 76.4 2344.5 71.6 2343.1C66.8 2341.7 62.1 2340.9 57.3 2340.2C52.5 2339.5 47.7 2340.2 42.9 2338.8C38.1 2337.4 33.1 2334.7 28.6 2331.6C24.1 2328.5 19.3 2324.7 15.7 2320.2C12.1 2315.7 9.1 2309.4 7.2 2304.4C5.3 2299.4 4.5 2294.9 4.3 2290.1C4 2285.3 5.2 2281.8 5.7 2275.8C6.2 2269.8 6.7 2260.3 7.2 2254.3C7.7 2248.3 7.1 2244.4 8.6 2240Z" fill="#e9e9e9" filter="url(#bl)"/>
<path d="M8.6 2240C10.1 2235.6 12.4 2232.7 16 2228C19.6 2223.3 25 2216.7 30 2212C35 2207.3 40.2 2206.2 46 2200C51.8 2193.8 58 2183.3 65 2175C72 2166.7 80.5 2159.2 88 2150C95.5 2140.8 105 2127.5 110 2120C115 2112.5 114.7 2110.3 118 2105C121.3 2099.7 123.8 2095 130 2088C136.2 2081 146.7 2069.2 155 2063C163.3 2056.8 170.3 2053.2 180 2051C189.7 2048.8 204.2 2051.3 213 2050C221.8 2048.7 226.8 2046.3 233 2043C239.2 2039.7 242.8 2033.2 250 2030C257.2 2026.8 267.5 2025 276 2024C284.5 2023 293.7 2023.7 301 2024C308.3 2024.3 312.5 2024.2 320 2026C327.5 2027.8 337.4 2032.2 346 2035C354.6 2037.8 363 2040.7 371.5 2043C380 2045.3 387.6 2046.7 397 2049C406.4 2051.3 416.8 2055.7 428 2057C439.2 2058.3 454.5 2059.6 464 2057C473.5 2054.4 477.2 2046.2 485 2041.5C492.8 2036.8 502 2033.5 511 2029C520 2024.5 527.8 2016.9 539 2014.5C550.2 2012.1 567.2 2013 578 2014.5C588.8 2016 596.2 2019 603.5 2023.5C610.8 2028 617.2 2034.2 621.5 2041.5C625.8 2048.8 627.1 2058.4 629 2067C630.9 2075.6 631.5 2084.3 633 2093C634.5 2101.7 636.5 2110.3 638 2119C639.5 2127.7 640.7 2134.8 642 2145C643.3 2155.2 643.9 2166.5 645.7 2180C647.5 2193.5 650.7 2210.5 652.6 2225.8C654.5 2241.1 655.3 2258.2 657.2 2271.6C659.1 2285 662.5 2294.6 664 2306C665.5 2317.4 666.3 2330.8 666.3 2340.3C666.3 2349.8 665.7 2357.1 664 2363C662.3 2368.9 659 2372.5 656 2376C653 2379.5 649.3 2381.2 646 2384C642.7 2386.8 639.4 2389.3 636 2393C632.6 2396.7 629.8 2402.1 625.5 2406C621.2 2409.9 615 2413 610.4 2416.5C605.8 2420 602.2 2422.9 597.6 2427C593 2431.1 588.6 2438.1 582.5 2441C576.4 2443.9 568.1 2444.7 561 2444.4C553.9 2444.1 546.8 2440.8 539.6 2439C532.4 2437.2 525.2 2435.1 518 2433.7C510.8 2432.3 503.8 2431.8 496.6 2430.5C489.4 2429.2 482.1 2427.1 475 2426C467.9 2424.9 460.1 2424 453.7 2424C447.3 2424 441.9 2423.7 436.5 2426C431.1 2428.3 427.6 2435.1 421.5 2438C415.4 2440.9 407.7 2442.8 400 2443.3C392.3 2443.8 383.2 2441.8 375.5 2440.8C367.8 2439.9 360.4 2437.6 354 2437.6C347.6 2437.6 342.2 2438.3 336.8 2440.8C331.4 2443.3 327.9 2450 321.8 2452.6C315.7 2455.2 307.5 2455.9 300.3 2456.3C293.1 2456.7 286 2455.8 278.8 2454.8C271.6 2453.8 264.5 2451.9 257.4 2450.5C250.2 2449.1 243.1 2447.6 235.9 2446.2C228.7 2444.8 221.6 2443 214.4 2441.9C207.2 2440.8 200.2 2440.8 193 2439.7C185.8 2438.6 178.7 2437 171.5 2435.4C164.3 2433.8 155.9 2431.8 150 2430C144.1 2428.2 140.7 2426.5 136 2424.7C131.3 2422.9 126.2 2421.6 121.7 2419C117.2 2416.4 112.4 2413 108.8 2408.9C105.2 2404.8 102.3 2400.1 100.2 2394.6C98.1 2389.1 97.3 2381.5 95.9 2376C94.5 2370.5 93.3 2366.2 91.6 2361.7C89.9 2357.2 89.2 2351.9 85.9 2348.8C82.6 2345.7 76.4 2344.5 71.6 2343.1C66.8 2341.7 62.1 2340.9 57.3 2340.2C52.5 2339.5 47.7 2340.2 42.9 2338.8C38.1 2337.4 33.1 2334.7 28.6 2331.6C24.1 2328.5 19.3 2324.7 15.7 2320.2C12.1 2315.7 9.1 2309.4 7.2 2304.4C5.3 2299.4 4.5 2294.9 4.3 2290.1C4 2285.3 5.2 2281.8 5.7 2275.8C6.2 2269.8 6.7 2260.3 7.2 2254.3C7.7 2248.3 7.1 2244.4 8.6 2240Z" fill="none" stroke="#b4b4b4" stroke-width="10" filter="url(#bl2)" opacity="0.6"/>
<g fill="url(#bump)"><circle cx="255.3" cy="2044" r="31.5"/><circle cx="299.4" cy="2043.4" r="33.9"/><circle cx="336.4" cy="2035.1" r="32.9"/><circle cx="529.1" cy="2043.4" r="33.9"/><circle cx="569.4" cy="2042.7" r="29.3"/><circle cx="610.1" cy="2036.7" r="32.2"/><circle cx="152" cy="2068.7" r="30.8"/><circle cx="188.7" cy="2070.1" r="29.3"/><circle cx="235.6" cy="2069.7" r="26.3"/><circle cx="278.7" cy="2071.5" r="33.7"/><circle cx="319.1" cy="2072.3" r="29.7"/><circle cx="354.5" cy="2075.5" r="30.8"/><circle cx="395" cy="2075.2" r="33.5"/><circle cx="434.4" cy="2073" r="31.8"/><circle cx="471.2" cy="2071.4" r="33.8"/><circle cx="514.6" cy="2074.4" r="26.1"/><circle cx="553.3" cy="2074.7" r="26.2"/><circle cx="595.7" cy="2075.4" r="26.5"/><circle cx="131.3" cy="2107.9" r="30.7"/><circle cx="172.1" cy="2106.8" r="28.5"/><circle cx="212.7" cy="2109.6" r="28.4"/><circle cx="252.8" cy="2111.7" r="26.2"/><circle cx="295.1" cy="2111.2" r="28.5"/><circle cx="331" cy="2112.1" r="27.9"/><circle cx="370.5" cy="2107.6" r="31.6"/><circle cx="409.5" cy="2106.3" r="28.7"/><circle cx="458.3" cy="2107.7" r="32.8"/><circle cx="490.3" cy="2106.5" r="31.2"/><circle cx="538.9" cy="2107.8" r="27.8"/><circle cx="569.8" cy="2108.8" r="27.5"/><circle cx="618" cy="2112.5" r="27.5"/><circle cx="111.6" cy="2141.2" r="29.3"/><circle cx="153.3" cy="2142" r="33.4"/><circle cx="190.2" cy="2137.1" r="33.5"/><circle cx="238.9" cy="2148.9" r="29.5"/><circle cx="279.7" cy="2148.2" r="27.8"/><circle cx="317.2" cy="2147.1" r="31.3"/><circle cx="354.5" cy="2140.5" r="28.7"/><circle cx="391" cy="2137.9" r="30.7"/><circle cx="431.7" cy="2146.8" r="26.4"/><circle cx="479.1" cy="2145.4" r="33.4"/><circle cx="519.1" cy="2147.9" r="30.6"/><circle cx="548.5" cy="2146" r="27.4"/><circle cx="591.9" cy="2145" r="30.2"/><circle cx="633.3" cy="2148.3" r="30.9"/><circle cx="90.7" cy="2178.1" r="32.5"/><circle cx="130.4" cy="2181.2" r="33.4"/><circle cx="178" cy="2181.6" r="26.1"/><circle cx="215.8" cy="2182.1" r="26.4"/><circle cx="251.6" cy="2174.9" r="30.2"/><circle cx="293.4" cy="2177.4" r="32.2"/><circle cx="328.3" cy="2172.4" r="27"/><circle cx="369.8" cy="2172.5" r="33.8"/><circle cx="418.6" cy="2172.7" r="30"/><circle cx="452.1" cy="2175.5" r="28.8"/><circle cx="496.1" cy="2178.7" r="28.9"/><circle cx="530.6" cy="2175.6" r="27"/><circle cx="575" cy="2180.3" r="29"/><circle cx="609.3" cy="2173.8" r="29"/><circle cx="35.8" cy="2211.5" r="29"/><circle cx="74.3" cy="2214.8" r="29.4"/><circle cx="116.6" cy="2211.9" r="28"/><circle cx="154.7" cy="2214.7" r="26.6"/><circle cx="193.4" cy="2211.5" r="33"/><circle cx="239.5" cy="2210.8" r="33.2"/><circle cx="277.8" cy="2209.5" r="29.7"/><circle cx="309.8" cy="2216.1" r="31.3"/><circle cx="358.9" cy="2215.8" r="31.3"/><circle cx="397.1" cy="2213.1" r="26.8"/><circle cx="435.4" cy="2206.4" r="27.1"/><circle cx="477.6" cy="2206.9" r="26.7"/><circle cx="509.5" cy="2216.9" r="27.4"/><circle cx="548.6" cy="2216.4" r="27"/><circle cx="598.4" cy="2214.4" r="32.7"/><circle cx="639.7" cy="2213.3" r="32.4"/><circle cx="14.4" cy="2249.6" r="26.9"/><circle cx="57.3" cy="2252.2" r="26.5"/><circle cx="92.2" cy="2247.7" r="32.6"/><circle cx="131.2" cy="2243.1" r="28"/><circle cx="175.7" cy="2250" r="29.1"/><circle cx="212.7" cy="2245.7" r="28.8"/><circle cx="253.3" cy="2242" r="30"/><circle cx="300" cy="2245.9" r="32"/><circle cx="330.2" cy="2249.3" r="32"/><circle cx="376.4" cy="2247.2" r="29.9"/><circle cx="416" cy="2251.7" r="27.2"/><circle cx="449.5" cy="2250" r="33.3"/><circle cx="494.5" cy="2246.3" r="31.8"/><circle cx="530.5" cy="2244.2" r="27.6"/><circle cx="575.3" cy="2244.8" r="27.9"/><circle cx="616.6" cy="2252.4" r="28.4"/><circle cx="31.5" cy="2278.2" r="26.2"/><circle cx="74.1" cy="2280.2" r="27.4"/><circle cx="112.6" cy="2279.5" r="32.2"/><circle cx="150" cy="2287.5" r="29.8"/><circle cx="195.5" cy="2281.2" r="32.7"/><circle cx="238.2" cy="2282.3" r="29.9"/><circle cx="276.9" cy="2285.9" r="29.2"/><circle cx="317.1" cy="2287.1" r="29.7"/><circle cx="351.1" cy="2278.4" r="31.7"/><circle cx="396.4" cy="2287.1" r="32.8"/><circle cx="431.2" cy="2277.9" r="28.1"/><circle cx="470.5" cy="2284.1" r="32.9"/><circle cx="519.1" cy="2278.7" r="32.9"/><circle cx="552.1" cy="2280.7" r="31.8"/><circle cx="589.3" cy="2276.7" r="32.7"/><circle cx="631.8" cy="2279.9" r="30.6"/><circle cx="54.1" cy="2312.8" r="30.7"/><circle cx="99.8" cy="2315" r="30.4"/><circle cx="129.7" cy="2313.6" r="31.3"/><circle cx="169.7" cy="2320.9" r="33.3"/><circle cx="209.5" cy="2321.6" r="29"/><circle cx="257.6" cy="2319.3" r="28.4"/><circle cx="296.4" cy="2318.1" r="32.4"/><circle cx="331.5" cy="2319.3" r="33.7"/><circle cx="376.4" cy="2316.7" r="26.9"/><circle cx="414.2" cy="2314.5" r="31.7"/><circle cx="456.4" cy="2317.1" r="27.5"/><circle cx="496" cy="2317.8" r="27.4"/><circle cx="539" cy="2318.1" r="27"/><circle cx="579.5" cy="2312" r="28.7"/><circle cx="616.9" cy="2317.4" r="30.4"/><circle cx="656.1" cy="2315.8" r="28.5"/><circle cx="112.6" cy="2348.1" r="29.1"/><circle cx="158.8" cy="2345.4" r="30"/><circle cx="191.3" cy="2354.1" r="28.8"/><circle cx="232.3" cy="2349.7" r="30.3"/><circle cx="277.6" cy="2349.1" r="32.8"/><circle cx="309.6" cy="2348.1" r="26.8"/><circle cx="349.7" cy="2354.2" r="31.8"/><circle cx="390.5" cy="2347.2" r="29.3"/><circle cx="437.2" cy="2354.7" r="32"/><circle cx="475.4" cy="2346.7" r="29.2"/><circle cx="510.6" cy="2351.2" r="30.5"/><circle cx="550.7" cy="2347.9" r="32.3"/><circle cx="588.7" cy="2354.5" r="33.1"/><circle cx="639.7" cy="2349.5" r="30.4"/><circle cx="137" cy="2379.6" r="32.2"/><circle cx="176.2" cy="2385.4" r="30.2"/><circle cx="213.8" cy="2381.9" r="30.2"/><circle cx="248.7" cy="2385.5" r="31.2"/><circle cx="293.6" cy="2386.3" r="33.7"/><circle cx="339" cy="2381.2" r="32.3"/><circle cx="375.8" cy="2380.1" r="28.9"/><circle cx="411.1" cy="2380.5" r="30.3"/><circle cx="459.5" cy="2383.4" r="33"/><circle cx="496.6" cy="2381.2" r="32.9"/><circle cx="535.5" cy="2390.7" r="31.7"/><circle cx="577.2" cy="2383.7" r="32.5"/><circle cx="619.5" cy="2389.9" r="29.5"/><circle cx="153.4" cy="2422" r="28.4"/><circle cx="193.9" cy="2423.3" r="29.2"/><circle cx="230.5" cy="2425" r="31.8"/><circle cx="272.7" cy="2418.6" r="30.2"/><circle cx="315.5" cy="2416.9" r="26"/><circle cx="350.8" cy="2423.6" r="27.1"/><circle cx="393.8" cy="2416.5" r="27.7"/><circle cx="430.3" cy="2419" r="27.3"/><circle cx="468.6" cy="2415.5" r="27.3"/><circle cx="514.2" cy="2414.9" r="26.2"/><circle cx="553.7" cy="2419.1" r="31.6"/><circle cx="588.9" cy="2419" r="29.2"/></g></g>
<clipPath id="cbr"><path d="M835 2200C835.2 2194.2 834.8 2160.7 835 2145C835.2 2129.3 835.3 2116.3 836.4 2106C837.5 2095.7 839.4 2090.7 841.5 2083C843.6 2075.3 845.8 2066.9 849.3 2060C852.8 2053.1 857.1 2046.7 862.2 2041.5C867.4 2036.3 873.8 2032.6 880.2 2028.7C886.6 2024.8 894.4 2021.3 900.8 2018.3C907.2 2015.3 912.3 2012.5 918.8 2010.6C925.2 2008.7 932.6 2006.8 939.5 2006.8C946.4 2006.8 954 2008.7 960 2010.6C966 2012.5 970.3 2015.3 975.5 2018.3C980.7 2021.3 985.8 2025.2 991 2028.7C996.2 2032.2 1001.3 2036.9 1006.5 2039C1011.7 2041.1 1015.1 2041.3 1022 2041.5C1028.9 2041.7 1039.1 2041 1047.7 2040.2C1056.3 2039.4 1064.9 2038.3 1073.5 2036.4C1082.1 2034.5 1091.5 2030.8 1099.2 2028.7C1107 2026.6 1113.2 2024.8 1120 2023.8C1126.8 2022.8 1133.3 2023.5 1140 2022.8C1146.7 2022.1 1153.4 2021.3 1160 2019.8C1166.6 2018.3 1173 2016 1179.5 2014C1186 2012 1192.7 2009.3 1199.3 2008C1205.9 2006.7 1212.4 2006.3 1219 2006C1225.6 2005.7 1232.4 2005 1239 2006C1245.6 2007 1252.2 2008.7 1258.8 2012C1265.4 2015.3 1272 2021.2 1278.6 2025.8C1285.2 2030.4 1291.9 2034.1 1298.5 2039.7C1305.1 2045.3 1311.7 2053.6 1318.3 2059.5C1324.9 2065.4 1332 2069.4 1338 2075.3C1344 2081.2 1349.7 2087.9 1354 2095.2C1358.3 2102.5 1362 2110.1 1364 2119C1366 2127.9 1366.3 2138.8 1366 2148.7C1365.7 2158.6 1363.3 2170.2 1362 2178.5C1360.7 2186.8 1357 2193.4 1358 2198.3C1359 2203.2 1364.7 2204.9 1368 2208.2C1371.3 2211.5 1374.5 2213 1377.8 2218C1381.1 2223 1385.4 2231.4 1387.7 2238C1390 2244.6 1391.3 2251.2 1391.6 2257.8C1391.9 2264.4 1391 2271 1389.7 2277.6C1388.4 2284.2 1386 2292.1 1383.7 2297.4C1381.4 2302.7 1378.1 2306 1375.8 2309.3C1373.5 2312.6 1371.1 2312.7 1369.8 2317.3C1368.5 2321.9 1368.9 2330.4 1367.9 2337C1366.9 2343.6 1365 2349.2 1364 2357C1363 2364.8 1364 2377.2 1362 2384C1360 2390.8 1354.8 2394.5 1352 2398C1349.2 2401.5 1348.8 2402.9 1345 2405C1341.2 2407.1 1334.3 2408.7 1329 2410.5C1323.7 2412.3 1319.2 2414.3 1313 2415.7C1306.8 2417.1 1299 2417.9 1292 2419C1285 2420.1 1278.3 2420.5 1271 2422C1263.7 2423.5 1256.2 2425.9 1248 2428C1239.8 2430.1 1230.7 2433.4 1222 2434.7C1213.3 2436 1204.6 2436.8 1196 2436C1187.4 2435.2 1179.1 2432.8 1170.6 2429.6C1162.1 2426.4 1153.6 2418.4 1145 2416.7C1136.4 2415 1127.7 2418 1119 2419.3C1110.3 2420.6 1101.6 2424.4 1093 2424.4C1084.4 2424.4 1074.8 2422.1 1067.5 2419.3C1060.2 2416.5 1055.9 2410.1 1049.5 2407.7C1043.1 2405.3 1036.8 2405 1029 2405C1021.2 2405 1011.7 2406.2 1003 2407.7C994.3 2409.2 985.6 2412.1 977 2414C968.4 2415.9 960 2417.6 951.5 2419.3C943 2421 933.6 2423.1 926 2424.4C918.4 2425.8 912.3 2427.8 906 2427.4C899.7 2427 894.5 2425.2 888 2422.2C881.5 2419.2 873.8 2414.5 867.3 2409.3C860.8 2404.2 854.9 2398.6 849.3 2391.3C843.7 2384 838.1 2372.8 833.8 2365.5C829.5 2358.2 826.5 2354.8 823.5 2347.5C820.5 2340.2 817.5 2330.3 815.8 2321.7C814.1 2313.1 812.8 2304.6 813.2 2296C813.6 2287.4 815.3 2280.9 818.3 2270.2C821.3 2259.4 828.6 2246.5 831.2 2231.5C833.8 2216.5 833.2 2185.2 833.8 2180C834.4 2174.8 834.8 2205.8 835 2200Z"/></clipPath>
<path d="M835 2200C835.2 2194.2 834.8 2160.7 835 2145C835.2 2129.3 835.3 2116.3 836.4 2106C837.5 2095.7 839.4 2090.7 841.5 2083C843.6 2075.3 845.8 2066.9 849.3 2060C852.8 2053.1 857.1 2046.7 862.2 2041.5C867.4 2036.3 873.8 2032.6 880.2 2028.7C886.6 2024.8 894.4 2021.3 900.8 2018.3C907.2 2015.3 912.3 2012.5 918.8 2010.6C925.2 2008.7 932.6 2006.8 939.5 2006.8C946.4 2006.8 954 2008.7 960 2010.6C966 2012.5 970.3 2015.3 975.5 2018.3C980.7 2021.3 985.8 2025.2 991 2028.7C996.2 2032.2 1001.3 2036.9 1006.5 2039C1011.7 2041.1 1015.1 2041.3 1022 2041.5C1028.9 2041.7 1039.1 2041 1047.7 2040.2C1056.3 2039.4 1064.9 2038.3 1073.5 2036.4C1082.1 2034.5 1091.5 2030.8 1099.2 2028.7C1107 2026.6 1113.2 2024.8 1120 2023.8C1126.8 2022.8 1133.3 2023.5 1140 2022.8C1146.7 2022.1 1153.4 2021.3 1160 2019.8C1166.6 2018.3 1173 2016 1179.5 2014C1186 2012 1192.7 2009.3 1199.3 2008C1205.9 2006.7 1212.4 2006.3 1219 2006C1225.6 2005.7 1232.4 2005 1239 2006C1245.6 2007 1252.2 2008.7 1258.8 2012C1265.4 2015.3 1272 2021.2 1278.6 2025.8C1285.2 2030.4 1291.9 2034.1 1298.5 2039.7C1305.1 2045.3 1311.7 2053.6 1318.3 2059.5C1324.9 2065.4 1332 2069.4 1338 2075.3C1344 2081.2 1349.7 2087.9 1354 2095.2C1358.3 2102.5 1362 2110.1 1364 2119C1366 2127.9 1366.3 2138.8 1366 2148.7C1365.7 2158.6 1363.3 2170.2 1362 2178.5C1360.7 2186.8 1357 2193.4 1358 2198.3C1359 2203.2 1364.7 2204.9 1368 2208.2C1371.3 2211.5 1374.5 2213 1377.8 2218C1381.1 2223 1385.4 2231.4 1387.7 2238C1390 2244.6 1391.3 2251.2 1391.6 2257.8C1391.9 2264.4 1391 2271 1389.7 2277.6C1388.4 2284.2 1386 2292.1 1383.7 2297.4C1381.4 2302.7 1378.1 2306 1375.8 2309.3C1373.5 2312.6 1371.1 2312.7 1369.8 2317.3C1368.5 2321.9 1368.9 2330.4 1367.9 2337C1366.9 2343.6 1365 2349.2 1364 2357C1363 2364.8 1364 2377.2 1362 2384C1360 2390.8 1354.8 2394.5 1352 2398C1349.2 2401.5 1348.8 2402.9 1345 2405C1341.2 2407.1 1334.3 2408.7 1329 2410.5C1323.7 2412.3 1319.2 2414.3 1313 2415.7C1306.8 2417.1 1299 2417.9 1292 2419C1285 2420.1 1278.3 2420.5 1271 2422C1263.7 2423.5 1256.2 2425.9 1248 2428C1239.8 2430.1 1230.7 2433.4 1222 2434.7C1213.3 2436 1204.6 2436.8 1196 2436C1187.4 2435.2 1179.1 2432.8 1170.6 2429.6C1162.1 2426.4 1153.6 2418.4 1145 2416.7C1136.4 2415 1127.7 2418 1119 2419.3C1110.3 2420.6 1101.6 2424.4 1093 2424.4C1084.4 2424.4 1074.8 2422.1 1067.5 2419.3C1060.2 2416.5 1055.9 2410.1 1049.5 2407.7C1043.1 2405.3 1036.8 2405 1029 2405C1021.2 2405 1011.7 2406.2 1003 2407.7C994.3 2409.2 985.6 2412.1 977 2414C968.4 2415.9 960 2417.6 951.5 2419.3C943 2421 933.6 2423.1 926 2424.4C918.4 2425.8 912.3 2427.8 906 2427.4C899.7 2427 894.5 2425.2 888 2422.2C881.5 2419.2 873.8 2414.5 867.3 2409.3C860.8 2404.2 854.9 2398.6 849.3 2391.3C843.7 2384 838.1 2372.8 833.8 2365.5C829.5 2358.2 826.5 2354.8 823.5 2347.5C820.5 2340.2 817.5 2330.3 815.8 2321.7C814.1 2313.1 812.8 2304.6 813.2 2296C813.6 2287.4 815.3 2280.9 818.3 2270.2C821.3 2259.4 828.6 2246.5 831.2 2231.5C833.8 2216.5 833.2 2185.2 833.8 2180C834.4 2174.8 834.8 2205.8 835 2200Z" fill="#b5b5b5"/>
<g clip-path="url(#cbr)"><path d="M835 2200C835.2 2194.2 834.8 2160.7 835 2145C835.2 2129.3 835.3 2116.3 836.4 2106C837.5 2095.7 839.4 2090.7 841.5 2083C843.6 2075.3 845.8 2066.9 849.3 2060C852.8 2053.1 857.1 2046.7 862.2 2041.5C867.4 2036.3 873.8 2032.6 880.2 2028.7C886.6 2024.8 894.4 2021.3 900.8 2018.3C907.2 2015.3 912.3 2012.5 918.8 2010.6C925.2 2008.7 932.6 2006.8 939.5 2006.8C946.4 2006.8 954 2008.7 960 2010.6C966 2012.5 970.3 2015.3 975.5 2018.3C980.7 2021.3 985.8 2025.2 991 2028.7C996.2 2032.2 1001.3 2036.9 1006.5 2039C1011.7 2041.1 1015.1 2041.3 1022 2041.5C1028.9 2041.7 1039.1 2041 1047.7 2040.2C1056.3 2039.4 1064.9 2038.3 1073.5 2036.4C1082.1 2034.5 1091.5 2030.8 1099.2 2028.7C1107 2026.6 1113.2 2024.8 1120 2023.8C1126.8 2022.8 1133.3 2023.5 1140 2022.8C1146.7 2022.1 1153.4 2021.3 1160 2019.8C1166.6 2018.3 1173 2016 1179.5 2014C1186 2012 1192.7 2009.3 1199.3 2008C1205.9 2006.7 1212.4 2006.3 1219 2006C1225.6 2005.7 1232.4 2005 1239 2006C1245.6 2007 1252.2 2008.7 1258.8 2012C1265.4 2015.3 1272 2021.2 1278.6 2025.8C1285.2 2030.4 1291.9 2034.1 1298.5 2039.7C1305.1 2045.3 1311.7 2053.6 1318.3 2059.5C1324.9 2065.4 1332 2069.4 1338 2075.3C1344 2081.2 1349.7 2087.9 1354 2095.2C1358.3 2102.5 1362 2110.1 1364 2119C1366 2127.9 1366.3 2138.8 1366 2148.7C1365.7 2158.6 1363.3 2170.2 1362 2178.5C1360.7 2186.8 1357 2193.4 1358 2198.3C1359 2203.2 1364.7 2204.9 1368 2208.2C1371.3 2211.5 1374.5 2213 1377.8 2218C1381.1 2223 1385.4 2231.4 1387.7 2238C1390 2244.6 1391.3 2251.2 1391.6 2257.8C1391.9 2264.4 1391 2271 1389.7 2277.6C1388.4 2284.2 1386 2292.1 1383.7 2297.4C1381.4 2302.7 1378.1 2306 1375.8 2309.3C1373.5 2312.6 1371.1 2312.7 1369.8 2317.3C1368.5 2321.9 1368.9 2330.4 1367.9 2337C1366.9 2343.6 1365 2349.2 1364 2357C1363 2364.8 1364 2377.2 1362 2384C1360 2390.8 1354.8 2394.5 1352 2398C1349.2 2401.5 1348.8 2402.9 1345 2405C1341.2 2407.1 1334.3 2408.7 1329 2410.5C1323.7 2412.3 1319.2 2414.3 1313 2415.7C1306.8 2417.1 1299 2417.9 1292 2419C1285 2420.1 1278.3 2420.5 1271 2422C1263.7 2423.5 1256.2 2425.9 1248 2428C1239.8 2430.1 1230.7 2433.4 1222 2434.7C1213.3 2436 1204.6 2436.8 1196 2436C1187.4 2435.2 1179.1 2432.8 1170.6 2429.6C1162.1 2426.4 1153.6 2418.4 1145 2416.7C1136.4 2415 1127.7 2418 1119 2419.3C1110.3 2420.6 1101.6 2424.4 1093 2424.4C1084.4 2424.4 1074.8 2422.1 1067.5 2419.3C1060.2 2416.5 1055.9 2410.1 1049.5 2407.7C1043.1 2405.3 1036.8 2405 1029 2405C1021.2 2405 1011.7 2406.2 1003 2407.7C994.3 2409.2 985.6 2412.1 977 2414C968.4 2415.9 960 2417.6 951.5 2419.3C943 2421 933.6 2423.1 926 2424.4C918.4 2425.8 912.3 2427.8 906 2427.4C899.7 2427 894.5 2425.2 888 2422.2C881.5 2419.2 873.8 2414.5 867.3 2409.3C860.8 2404.2 854.9 2398.6 849.3 2391.3C843.7 2384 838.1 2372.8 833.8 2365.5C829.5 2358.2 826.5 2354.8 823.5 2347.5C820.5 2340.2 817.5 2330.3 815.8 2321.7C814.1 2313.1 812.8 2304.6 813.2 2296C813.6 2287.4 815.3 2280.9 818.3 2270.2C821.3 2259.4 828.6 2246.5 831.2 2231.5C833.8 2216.5 833.2 2185.2 833.8 2180C834.4 2174.8 834.8 2205.8 835 2200Z" fill="#e9e9e9" filter="url(#bl)"/>
<path d="M835 2200C835.2 2194.2 834.8 2160.7 835 2145C835.2 2129.3 835.3 2116.3 836.4 2106C837.5 2095.7 839.4 2090.7 841.5 2083C843.6 2075.3 845.8 2066.9 849.3 2060C852.8 2053.1 857.1 2046.7 862.2 2041.5C867.4 2036.3 873.8 2032.6 880.2 2028.7C886.6 2024.8 894.4 2021.3 900.8 2018.3C907.2 2015.3 912.3 2012.5 918.8 2010.6C925.2 2008.7 932.6 2006.8 939.5 2006.8C946.4 2006.8 954 2008.7 960 2010.6C966 2012.5 970.3 2015.3 975.5 2018.3C980.7 2021.3 985.8 2025.2 991 2028.7C996.2 2032.2 1001.3 2036.9 1006.5 2039C1011.7 2041.1 1015.1 2041.3 1022 2041.5C1028.9 2041.7 1039.1 2041 1047.7 2040.2C1056.3 2039.4 1064.9 2038.3 1073.5 2036.4C1082.1 2034.5 1091.5 2030.8 1099.2 2028.7C1107 2026.6 1113.2 2024.8 1120 2023.8C1126.8 2022.8 1133.3 2023.5 1140 2022.8C1146.7 2022.1 1153.4 2021.3 1160 2019.8C1166.6 2018.3 1173 2016 1179.5 2014C1186 2012 1192.7 2009.3 1199.3 2008C1205.9 2006.7 1212.4 2006.3 1219 2006C1225.6 2005.7 1232.4 2005 1239 2006C1245.6 2007 1252.2 2008.7 1258.8 2012C1265.4 2015.3 1272 2021.2 1278.6 2025.8C1285.2 2030.4 1291.9 2034.1 1298.5 2039.7C1305.1 2045.3 1311.7 2053.6 1318.3 2059.5C1324.9 2065.4 1332 2069.4 1338 2075.3C1344 2081.2 1349.7 2087.9 1354 2095.2C1358.3 2102.5 1362 2110.1 1364 2119C1366 2127.9 1366.3 2138.8 1366 2148.7C1365.7 2158.6 1363.3 2170.2 1362 2178.5C1360.7 2186.8 1357 2193.4 1358 2198.3C1359 2203.2 1364.7 2204.9 1368 2208.2C1371.3 2211.5 1374.5 2213 1377.8 2218C1381.1 2223 1385.4 2231.4 1387.7 2238C1390 2244.6 1391.3 2251.2 1391.6 2257.8C1391.9 2264.4 1391 2271 1389.7 2277.6C1388.4 2284.2 1386 2292.1 1383.7 2297.4C1381.4 2302.7 1378.1 2306 1375.8 2309.3C1373.5 2312.6 1371.1 2312.7 1369.8 2317.3C1368.5 2321.9 1368.9 2330.4 1367.9 2337C1366.9 2343.6 1365 2349.2 1364 2357C1363 2364.8 1364 2377.2 1362 2384C1360 2390.8 1354.8 2394.5 1352 2398C1349.2 2401.5 1348.8 2402.9 1345 2405C1341.2 2407.1 1334.3 2408.7 1329 2410.5C1323.7 2412.3 1319.2 2414.3 1313 2415.7C1306.8 2417.1 1299 2417.9 1292 2419C1285 2420.1 1278.3 2420.5 1271 2422C1263.7 2423.5 1256.2 2425.9 1248 2428C1239.8 2430.1 1230.7 2433.4 1222 2434.7C1213.3 2436 1204.6 2436.8 1196 2436C1187.4 2435.2 1179.1 2432.8 1170.6 2429.6C1162.1 2426.4 1153.6 2418.4 1145 2416.7C1136.4 2415 1127.7 2418 1119 2419.3C1110.3 2420.6 1101.6 2424.4 1093 2424.4C1084.4 2424.4 1074.8 2422.1 1067.5 2419.3C1060.2 2416.5 1055.9 2410.1 1049.5 2407.7C1043.1 2405.3 1036.8 2405 1029 2405C1021.2 2405 1011.7 2406.2 1003 2407.7C994.3 2409.2 985.6 2412.1 977 2414C968.4 2415.9 960 2417.6 951.5 2419.3C943 2421 933.6 2423.1 926 2424.4C918.4 2425.8 912.3 2427.8 906 2427.4C899.7 2427 894.5 2425.2 888 2422.2C881.5 2419.2 873.8 2414.5 867.3 2409.3C860.8 2404.2 854.9 2398.6 849.3 2391.3C843.7 2384 838.1 2372.8 833.8 2365.5C829.5 2358.2 826.5 2354.8 823.5 2347.5C820.5 2340.2 817.5 2330.3 815.8 2321.7C814.1 2313.1 812.8 2304.6 813.2 2296C813.6 2287.4 815.3 2280.9 818.3 2270.2C821.3 2259.4 828.6 2246.5 831.2 2231.5C833.8 2216.5 833.2 2185.2 833.8 2180C834.4 2174.8 834.8 2205.8 835 2200Z" fill="none" stroke="#b4b4b4" stroke-width="10" filter="url(#bl2)" opacity="0.6"/>
<g fill="url(#bump)"><circle cx="903.8" cy="2028.2" r="33.3"/><circle cx="944.1" cy="2035.2" r="32.8"/><circle cx="983.3" cy="2029.6" r="30.8"/><circle cx="1144.7" cy="2028" r="30.3"/><circle cx="1182.9" cy="2028.8" r="34"/><circle cx="1219.5" cy="2029.6" r="27.6"/><circle cx="1264.8" cy="2028" r="28.8"/><circle cx="881.2" cy="2061.4" r="29.7"/><circle cx="917.7" cy="2067.6" r="33.2"/><circle cx="968.7" cy="2068.1" r="33.7"/><circle cx="997.4" cy="2062.7" r="33.7"/><circle cx="1046.5" cy="2064.2" r="33.5"/><circle cx="1084.6" cy="2069.1" r="28.3"/><circle cx="1119.5" cy="2064.6" r="27.1"/><circle cx="1161.8" cy="2070.8" r="28.7"/><circle cx="1197.3" cy="2059.8" r="27.4"/><circle cx="1246.6" cy="2063.6" r="28.3"/><circle cx="1278.4" cy="2071.1" r="29.4"/><circle cx="857.7" cy="2099.8" r="28"/><circle cx="909.2" cy="2095.4" r="30.2"/><circle cx="946.5" cy="2098.8" r="33.9"/><circle cx="982.9" cy="2096.8" r="29.3"/><circle cx="1017.6" cy="2099" r="28"/><circle cx="1067.9" cy="2103.9" r="30"/><circle cx="1097.6" cy="2097" r="27.9"/><circle cx="1139.7" cy="2096.7" r="33"/><circle cx="1178.9" cy="2094.5" r="33.4"/><circle cx="1224" cy="2105.8" r="29.2"/><circle cx="1268" cy="2101.8" r="32.3"/><circle cx="1306.1" cy="2099.9" r="26.7"/><circle cx="1339.7" cy="2104.4" r="33.2"/><circle cx="844.9" cy="2138.3" r="30.2"/><circle cx="885.1" cy="2136.8" r="28.1"/><circle cx="928.3" cy="2140" r="26.6"/><circle cx="968.9" cy="2140.1" r="31.3"/><circle cx="997.7" cy="2139.3" r="27"/><circle cx="1048.8" cy="2136.6" r="26.5"/><circle cx="1079.2" cy="2136.2" r="30.6"/><circle cx="1126.2" cy="2139.7" r="27.7"/><circle cx="1157.2" cy="2139.6" r="26.1"/><circle cx="1207.7" cy="2130" r="32.5"/><circle cx="1246.6" cy="2139.1" r="30.4"/><circle cx="1287.7" cy="2131" r="31.4"/><circle cx="1321.2" cy="2139.3" r="32.2"/><circle cx="1362.9" cy="2134.9" r="26.2"/><circle cx="863.1" cy="2173.6" r="30.9"/><circle cx="898.9" cy="2167.6" r="32.1"/><circle cx="943.5" cy="2163.3" r="32.7"/><circle cx="987.1" cy="2164.2" r="30.3"/><circle cx="1021.8" cy="2172.6" r="28.5"/><circle cx="1060" cy="2169" r="33.7"/><circle cx="1098.3" cy="2164.6" r="31"/><circle cx="1147.8" cy="2169.3" r="29.5"/><circle cx="1187.5" cy="2172.5" r="26.5"/><circle cx="1227.8" cy="2165.6" r="28.4"/><circle cx="1267.2" cy="2168.3" r="32.4"/><circle cx="1299.2" cy="2173.7" r="27.4"/><circle cx="1339" cy="2169.1" r="28.7"/><circle cx="840.9" cy="2204.4" r="29.9"/><circle cx="885.8" cy="2203.7" r="26.6"/><circle cx="920.1" cy="2208" r="28.9"/><circle cx="966.4" cy="2209.7" r="31"/><circle cx="1005.3" cy="2205.2" r="28.5"/><circle cx="1048.2" cy="2203.4" r="33.3"/><circle cx="1080.9" cy="2208.3" r="32.3"/><circle cx="1124.6" cy="2203.1" r="27.1"/><circle cx="1166.5" cy="2202.2" r="31.3"/><circle cx="1198.8" cy="2198.8" r="27.2"/><circle cx="1246.9" cy="2200" r="33.2"/><circle cx="1281.7" cy="2204.8" r="28.8"/><circle cx="1324.6" cy="2199" r="29.2"/><circle cx="860.8" cy="2232.8" r="26.2"/><circle cx="908.6" cy="2242.4" r="32.4"/><circle cx="946.9" cy="2243.9" r="27.3"/><circle cx="984.2" cy="2238.4" r="30.6"/><circle cx="1028.5" cy="2241.6" r="33.7"/><circle cx="1058.6" cy="2240.3" r="31.4"/><circle cx="1106.1" cy="2239.9" r="32.7"/><circle cx="1140.8" cy="2243.6" r="29.2"/><circle cx="1184.4" cy="2243.2" r="31.6"/><circle cx="1220.9" cy="2235.2" r="28.6"/><circle cx="1264.7" cy="2244.4" r="33.2"/><circle cx="1302" cy="2237.3" r="32.5"/><circle cx="1340.6" cy="2237.4" r="26.1"/><circle cx="1379.4" cy="2239" r="31.5"/><circle cx="848.6" cy="2274.6" r="27.2"/><circle cx="878" cy="2278.8" r="33.9"/><circle cx="928.2" cy="2274.4" r="28.5"/><circle cx="958.3" cy="2270.2" r="27.8"/><circle cx="1008.3" cy="2277.8" r="32.2"/><circle cx="1039" cy="2270" r="28.4"/><circle cx="1088.6" cy="2269.1" r="32.3"/><circle cx="1125.4" cy="2273.7" r="33.7"/><circle cx="1160.3" cy="2273.4" r="27.3"/><circle cx="1198.4" cy="2267.5" r="28.5"/><circle cx="1238.7" cy="2267.9" r="33.9"/><circle cx="1280.7" cy="2277.8" r="31.6"/><circle cx="1326" cy="2275" r="33.6"/><circle cx="1367.7" cy="2275.8" r="30.5"/><circle cx="825.5" cy="2310.4" r="30.4"/><circle cx="863.2" cy="2303.6" r="32.8"/><circle cx="903" cy="2302.6" r="27.3"/><circle cx="947.7" cy="2304.8" r="29.1"/><circle cx="985.4" cy="2312.1" r="28.6"/><circle cx="1021.8" cy="2306.8" r="26.2"/><circle cx="1067.7" cy="2302" r="33.7"/><circle cx="1099" cy="2303.6" r="32.8"/><circle cx="1147.1" cy="2304.5" r="30.4"/><circle cx="1182.9" cy="2310.4" r="27.5"/><circle cx="1227.1" cy="2313.7" r="31.7"/><circle cx="1268.3" cy="2313" r="29"/><circle cx="1307.4" cy="2311.8" r="30.7"/><circle cx="1338.5" cy="2309.2" r="33.3"/><circle cx="837.6" cy="2344" r="28"/><circle cx="887.5" cy="2344.3" r="28.5"/><circle cx="927.9" cy="2343.9" r="28.7"/><circle cx="967.2" cy="2347.1" r="33.1"/><circle cx="1007.8" cy="2344.3" r="31.6"/><circle cx="1044.5" cy="2342.7" r="33.9"/><circle cx="1081.4" cy="2337.4" r="31.7"/><circle cx="1123.2" cy="2342.9" r="30.8"/><circle cx="1160.2" cy="2338.8" r="26.6"/><circle cx="1206.6" cy="2347.3" r="31.6"/><circle cx="1238.6" cy="2348.1" r="32.6"/><circle cx="1283.3" cy="2336.4" r="32.8"/><circle cx="1324.7" cy="2343.9" r="26.1"/><circle cx="1366" cy="2336.8" r="29.8"/><circle cx="867.9" cy="2380" r="32.5"/><circle cx="900.8" cy="2375.7" r="30.8"/><circle cx="937.6" cy="2376" r="33.8"/><circle cx="986.2" cy="2381.4" r="28.4"/><circle cx="1025.5" cy="2380.5" r="31.6"/><circle cx="1062.4" cy="2373.1" r="26.1"/><circle cx="1107.8" cy="2382.2" r="28.2"/><circle cx="1146.3" cy="2375.9" r="31"/><circle cx="1187.3" cy="2374.9" r="31"/><circle cx="1220.3" cy="2377.2" r="26.2"/><circle cx="1260.4" cy="2374.5" r="33.3"/><circle cx="1298.8" cy="2380.1" r="26.7"/><circle cx="1349" cy="2373" r="26.7"/><circle cx="881.3" cy="2411.1" r="33.9"/><circle cx="919.2" cy="2408.6" r="32.7"/><circle cx="958.6" cy="2417.3" r="28.4"/><circle cx="1048.1" cy="2406.6" r="32.8"/><circle cx="1079.4" cy="2414.3" r="26.2"/><circle cx="1126.4" cy="2407.9" r="27.6"/><circle cx="1157.6" cy="2409.6" r="28.6"/><circle cx="1209" cy="2413" r="28.9"/><circle cx="1249.1" cy="2407.7" r="27.7"/><circle cx="1288.7" cy="2417.1" r="31.5"/><circle cx="1328.9" cy="2406.4" r="33.2"/></g></g>
<g opacity="0.93"><path d="M239.6 1421.6C242.6 1423.3 255.1 1429.1 257.7 1431.9C260.2 1434.7 255.5 1437.3 255.1 1438.3" stroke="#2f2f2f" stroke-width="4.3" fill="none" stroke-linecap="round" stroke-linejoin="round"/><path d="M239.6 1421.6C242.6 1423.3 255.1 1429.1 257.7 1431.9C260.2 1434.7 255.5 1437.3 255.1 1438.3" stroke="#b9d3b7" stroke-width="2.3" fill="none" stroke-linecap="round" stroke-linejoin="round"/><path d="M230.6 1461.6L230.6 1460.6L230.6 1459.4L230.4 1458.1L230.4 1456.8L230.3 1455.4L230.3 1454.1L230.4 1453L230.6 1452.1L230.8 1451.5L231 1451.2L231.4 1450.8L232.1 1450.3L233.2 1449.8L234.6 1449.2L236.2 1448.7L237.9 1448.2L239.6 1447.6L241.5 1447.1L243.3 1446.5L245 1445.8L246.6 1445.1L248.2 1444.3L249.9 1443.6L251.5 1442.8L253.2 1442.1L254.7 1441.4L256.1 1440.7L257.4 1440.2L258.4 1439.7L259.3 1439.3L256.1 1432.3L255.2 1432.6L254.1 1433.1L252.9 1433.7L251.5 1434.4L249.9 1435.1L248.3 1435.8L246.7 1436.6L245.1 1437.3L243.5 1438L242 1438.6L240.6 1439.2L239.1 1439.7L237.4 1440.2L235.6 1440.8L233.8 1441.4L231.9 1442L230.1 1442.7L228.3 1443.6L226.7 1444.7L225.1 1446.2L223.9 1448L223.1 1450L222.7 1451.9L222.6 1453.8L222.6 1455.6L222.6 1457.2L222.7 1458.7L222.8 1460L222.9 1460.9L222.9 1461.5Z" fill="#a8c4a7" stroke="#2f2f2f" stroke-width="1.1" stroke-linejoin="round"/><path d="M235.8 1471.8C237.5 1473.1 242 1477.7 246.1 1479.6C250.2 1481.4 257.9 1482.4 260.2 1482.9" stroke="#2f2f2f" stroke-width="4.3" fill="none" stroke-linecap="round" stroke-linejoin="round"/><path d="M235.8 1471.8C237.5 1473.1 242 1477.7 246.1 1479.6C250.2 1481.4 257.9 1482.4 260.2 1482.9" stroke="#b9d3b7" stroke-width="2.3" fill="none" stroke-linecap="round" stroke-linejoin="round"/><path d="M333.7 1443.5C337.1 1445.2 347 1452.9 354.3 1453.8C361.6 1454.7 369.8 1450.6 377.5 1448.7C385.2 1446.7 393 1442.2 400.7 1442.2C408.4 1442.2 420 1447.6 423.9 1448.7" stroke="#2f2f2f" stroke-width="4.3" fill="none" stroke-linecap="round" stroke-linejoin="round"/><path d="M333.7 1443.5C337.1 1445.2 347 1452.9 354.3 1453.8C361.6 1454.7 369.8 1450.6 377.5 1448.7C385.2 1446.7 393 1442.2 400.7 1442.2C408.4 1442.2 420 1447.6 423.9 1448.7" stroke="#b9d3b7" stroke-width="2.3" fill="none" stroke-linecap="round" stroke-linejoin="round"/><path d="M297.6 1455.1C294.6 1455.7 283.9 1456.6 279.6 1459C275.3 1461.3 273.3 1464.5 271.8 1469.3C270.3 1474 270.1 1482.4 270.6 1487.3C271 1492.2 271.6 1497.4 274.4 1498.9C277.2 1500.4 285.2 1496.8 287.3 1496.3" stroke="#2f2f2f" stroke-width="4.3" fill="none" stroke-linecap="round" stroke-linejoin="round"/><path d="M297.6 1455.1C294.6 1455.7 283.9 1456.6 279.6 1459C275.3 1461.3 273.3 1464.5 271.8 1469.3C270.3 1474 270.1 1482.4 270.6 1487.3C271 1492.2 271.6 1497.4 274.4 1498.9C277.2 1500.4 285.2 1496.8 287.3 1496.3" stroke="#b9d3b7" stroke-width="2.3" fill="none" stroke-linecap="round" stroke-linejoin="round"/><path d="M380.1 1475.7C382.7 1476.6 391.2 1480.7 395.5 1480.9C399.8 1481.1 402.4 1477.9 405.8 1477C409.3 1476.1 411.9 1475.5 416.2 1475.7C420.4 1475.9 427.3 1475.1 431.6 1478.3C435.9 1481.5 439.8 1489.2 441.9 1495C444.1 1500.8 443.6 1507.1 444.5 1513.1C445.4 1519.1 445.4 1526.8 447.1 1531.1C448.8 1535.4 451.4 1536.7 454.8 1538.8C458.2 1541 465.5 1543.1 467.7 1544" stroke="#2f2f2f" stroke-width="4.3" fill="none" stroke-linecap="round" stroke-linejoin="round"/><path d="M380.1 1475.7C382.7 1476.6 391.2 1480.7 395.5 1480.9C399.8 1481.1 402.4 1477.9 405.8 1477C409.3 1476.1 411.9 1475.5 416.2 1475.7C420.4 1475.9 427.3 1475.1 431.6 1478.3C435.9 1481.5 439.8 1489.2 441.9 1495C444.1 1500.8 443.6 1507.1 444.5 1513.1C445.4 1519.1 445.4 1526.8 447.1 1531.1C448.8 1535.4 451.4 1536.7 454.8 1538.8C458.2 1541 465.5 1543.1 467.7 1544" stroke="#b9d3b7" stroke-width="2.3" fill="none" stroke-linecap="round" stroke-linejoin="round"/><path d="M494.7 1478.3C498 1479.8 507.4 1484.5 514.1 1487.3C520.7 1490.1 531.3 1493.7 534.7 1495" stroke="#2f2f2f" stroke-width="4.3" fill="none" stroke-linecap="round" stroke-linejoin="round"/><path d="M494.7 1478.3C498 1479.8 507.4 1484.5 514.1 1487.3C520.7 1490.1 531.3 1493.7 534.7 1495" stroke="#b9d3b7" stroke-width="2.3" fill="none" stroke-linecap="round" stroke-linejoin="round"/><path d="M498.6 1451.2C501.2 1450.8 510.6 1447.4 514.1 1448.7C517.5 1449.9 517.9 1454.7 519.2 1459C520.5 1463.3 519.7 1470.1 521.8 1474.4C524 1478.7 527 1481.7 532.1 1484.7C537.3 1487.7 549.3 1491.2 552.7 1492.5" stroke="#2f2f2f" stroke-width="4.3" fill="none" stroke-linecap="round" stroke-linejoin="round"/><path d="M498.6 1451.2C501.2 1450.8 510.6 1447.4 514.1 1448.7C517.5 1449.9 517.9 1454.7 519.2 1459C520.5 1463.3 519.7 1470.1 521.8 1474.4C524 1478.7 527 1481.7 532.1 1484.7C537.3 1487.7 549.3 1491.2 552.7 1492.5" stroke="#b9d3b7" stroke-width="2.3" fill="none" stroke-linecap="round" stroke-linejoin="round"/><path d="M307.9 1507.9C311.4 1507.5 319.9 1505.8 328.5 1505.3C337.1 1504.9 354.3 1505.3 359.5 1505.3" stroke="#2f2f2f" stroke-width="4.3" fill="none" stroke-linecap="round" stroke-linejoin="round"/><path d="M307.9 1507.9C311.4 1507.5 319.9 1505.8 328.5 1505.3C337.1 1504.9 354.3 1505.3 359.5 1505.3" stroke="#b9d3b7" stroke-width="2.3" fill="none" stroke-linecap="round" stroke-linejoin="round"/><path d="M307.9 1510.5C308.8 1513.9 313.1 1526 313.1 1531.1C313.1 1536.3 307.9 1537.1 307.9 1541.4C307.9 1545.7 309.6 1552.6 313.1 1556.9C316.5 1561.2 321.7 1564.2 328.5 1567.2C335.4 1570.2 346.1 1574.1 354.3 1574.9C362.5 1575.8 371.9 1571.1 377.5 1572.3C383.1 1573.6 386.1 1580.9 387.8 1582.7" stroke="#2f2f2f" stroke-width="4.3" fill="none" stroke-linecap="round" stroke-linejoin="round"/><path d="M307.9 1510.5C308.8 1513.9 313.1 1526 313.1 1531.1C313.1 1536.3 307.9 1537.1 307.9 1541.4C307.9 1545.7 309.6 1552.6 313.1 1556.9C316.5 1561.2 321.7 1564.2 328.5 1567.2C335.4 1570.2 346.1 1574.1 354.3 1574.9C362.5 1575.8 371.9 1571.1 377.5 1572.3C383.1 1573.6 386.1 1580.9 387.8 1582.7" stroke="#b9d3b7" stroke-width="2.3" fill="none" stroke-linecap="round" stroke-linejoin="round"/><path d="M331.1 1585.2C330.7 1587.8 326 1596.4 328.5 1600.7C331.1 1605 341.9 1609.3 346.6 1611C351.3 1612.7 355.2 1611 356.9 1611" stroke="#2f2f2f" stroke-width="4.3" fill="none" stroke-linecap="round" stroke-linejoin="round"/><path d="M331.1 1585.2C330.7 1587.8 326 1596.4 328.5 1600.7C331.1 1605 341.9 1609.3 346.6 1611C351.3 1612.7 355.2 1611 356.9 1611" stroke="#b9d3b7" stroke-width="2.3" fill="none" stroke-linecap="round" stroke-linejoin="round"/><path d="M467.7 1549.2C469 1551.7 474.6 1557.7 475.4 1564.6C476.3 1571.5 474.1 1585.2 472.8 1590.4C471.6 1595.5 468.6 1594.7 467.7 1595.5" stroke="#2f2f2f" stroke-width="4.3" fill="none" stroke-linecap="round" stroke-linejoin="round"/><path d="M467.7 1549.2C469 1551.7 474.6 1557.7 475.4 1564.6C476.3 1571.5 474.1 1585.2 472.8 1590.4C471.6 1595.5 468.6 1594.7 467.7 1595.5" stroke="#b9d3b7" stroke-width="2.3" fill="none" stroke-linecap="round" stroke-linejoin="round"/><path d="M478 1564.6C481.4 1562 490.5 1553 498.6 1549.2C506.8 1545.3 519.2 1542.3 527 1541.4C534.7 1540.6 543.3 1540.1 545 1544C546.7 1547.9 541.6 1559 537.3 1564.6C533 1570.2 525.7 1574.9 519.2 1577.5C512.8 1580.1 505.5 1580.5 498.6 1580.1C491.7 1579.6 481.4 1575.8 478 1574.9" stroke="#2f2f2f" stroke-width="4.3" fill="none" stroke-linecap="round" stroke-linejoin="round"/><path d="M478 1564.6C481.4 1562 490.5 1553 498.6 1549.2C506.8 1545.3 519.2 1542.3 527 1541.4C534.7 1540.6 543.3 1540.1 545 1544C546.7 1547.9 541.6 1559 537.3 1564.6C533 1570.2 525.7 1574.9 519.2 1577.5C512.8 1580.1 505.5 1580.5 498.6 1580.1C491.7 1579.6 481.4 1575.8 478 1574.9" stroke="#b9d3b7" stroke-width="2.3" fill="none" stroke-linecap="round" stroke-linejoin="round"/><path d="M436.8 1574.9C439.3 1573.2 446.6 1566.3 452.2 1564.6C457.8 1562.9 467.3 1564.6 470.3 1564.6" stroke="#2f2f2f" stroke-width="4.3" fill="none" stroke-linecap="round" stroke-linejoin="round"/><path d="M436.8 1574.9C439.3 1573.2 446.6 1566.3 452.2 1564.6C457.8 1562.9 467.3 1564.6 470.3 1564.6" stroke="#b9d3b7" stroke-width="2.3" fill="none" stroke-linecap="round" stroke-linejoin="round"/><path d="M346.6 1538.8C347.4 1541.4 350 1549.2 351.7 1554.3C353.4 1559.5 355.2 1565.5 356.9 1569.8C358.6 1574.1 361.2 1578.4 362 1580.1" stroke="#2f2f2f" stroke-width="4.3" fill="none" stroke-linecap="round" stroke-linejoin="round"/><path d="M346.6 1538.8C347.4 1541.4 350 1549.2 351.7 1554.3C353.4 1559.5 355.2 1565.5 356.9 1569.8C358.6 1574.1 361.2 1578.4 362 1580.1" stroke="#b9d3b7" stroke-width="2.3" fill="none" stroke-linecap="round" stroke-linejoin="round"/><path d="M478 1482.2C476.3 1483.9 471.1 1487.3 467.7 1492.5C464.3 1497.6 460.8 1508.8 457.4 1513.1C453.9 1517.4 448.8 1517.4 447.1 1518.2" stroke="#2f2f2f" stroke-width="4.3" fill="none" stroke-linecap="round" stroke-linejoin="round"/><path d="M478 1482.2C476.3 1483.9 471.1 1487.3 467.7 1492.5C464.3 1497.6 460.8 1508.8 457.4 1513.1C453.9 1517.4 448.8 1517.4 447.1 1518.2" stroke="#b9d3b7" stroke-width="2.3" fill="none" stroke-linecap="round" stroke-linejoin="round"/><path d="M352.9 1466.2L358.3 1466.4L365.3 1466.7L373.6 1467L382.9 1467.4L392.9 1467.8L403.2 1468.2L413.6 1468.6L423.7 1468.8L433.3 1469L441.9 1469L450.2 1468.9L458.7 1468.6L467.2 1468.2L475.6 1467.8L483.7 1467.2L491.4 1466.7L498.5 1466.2L504.7 1465.8L510 1465.4L514.3 1465.1L513.9 1459.5L509.7 1459.7L504.3 1460.1L498.1 1460.6L491 1461.1L483.4 1461.6L475.3 1462.1L466.9 1462.6L458.5 1462.9L450.1 1463.2L441.9 1463.3L433.3 1463.3L423.9 1463.2L413.8 1462.9L403.4 1462.6L393.1 1462.2L383.1 1461.8L373.8 1461.4L365.5 1461L358.5 1460.7L353.1 1460.5Z" fill="#a8c4a7" stroke="#2f2f2f" stroke-width="1.1" stroke-linejoin="round"/><path d="M404.8 1451.2L408.6 1452.5L413.8 1454.3L419.9 1456.4L426.8 1458.7L434 1461.2L441.4 1463.8L448.7 1466.3L455.5 1468.6L461.6 1470.6L466.7 1472.3L470.9 1473.7L474.8 1474.9L478.3 1476L481.4 1477L484.2 1477.8L486.6 1478.5L488.8 1479.1L490.7 1479.7L492.4 1480.2L493.8 1480.6L495.7 1474.4L494.2 1474L492.5 1473.5L490.6 1473L488.4 1472.3L486 1471.6L483.2 1470.8L480.2 1469.9L476.7 1468.8L472.9 1467.6L468.7 1466.2L463.7 1464.5L457.6 1462.5L450.8 1460.2L443.5 1457.7L436.1 1455.1L428.8 1452.6L422 1450.3L415.9 1448.2L410.7 1446.4L406.9 1445.1Z" fill="#a8c4a7" stroke="#2f2f2f" stroke-width="1.1" stroke-linejoin="round"/><path d="M379.5 1465.6L375.9 1465.9L371.4 1466.4L366 1467L360 1467.6L353.5 1468.3L346.8 1469L339.9 1469.7L333 1470.4L326.4 1471.1L320.2 1471.7L314 1472.4L307.4 1473L300.6 1473.7L293.7 1474.4L286.9 1475.1L280.4 1475.7L274.4 1476.3L273.7 1476.4L273.3 1472.4L261.5 1483.4L275.2 1492L274.8 1488L275.5 1487.9L281.6 1487.3L288 1486.6L294.8 1486L301.7 1485.3L308.6 1484.6L315.2 1483.9L321.4 1483.3L327.6 1482.6L334.2 1482L341.1 1481.3L348 1480.5L354.8 1479.8L361.2 1479.1L367.3 1478.5L372.6 1477.9L377.2 1477.5L380.7 1477.1Z" fill="#a8c4a7" stroke="#2f2f2f" stroke-width="1.1" stroke-linejoin="round"/><path d="M474.1 1472.3L470.5 1473.2L466 1474.4L460.6 1475.8L454.5 1477.3L448 1479L441.2 1480.8L434.3 1482.5L427.5 1484.2L421 1485.8L414.9 1487.2L409 1488.5L402.6 1489.9L396.1 1491.3L389.5 1492.6L383 1493.9L376.9 1495.1L371.2 1496.2L370.1 1496.4L369.4 1492.7L359.5 1504.1L372.9 1510.8L372.2 1507.1L373.3 1506.8L379 1505.7L385.2 1504.5L391.6 1503.2L398.3 1501.9L404.9 1500.5L411.3 1499.1L417.4 1497.7L423.5 1496.3L430.1 1494.7L436.9 1493L443.9 1491.3L450.7 1489.5L457.2 1487.8L463.3 1486.2L468.7 1484.8L473.2 1483.7L476.8 1482.8Z" fill="#a8c4a7" stroke="#2f2f2f" stroke-width="1.1" stroke-linejoin="round"/><path d="M373.2 1537.2L375.2 1536.8L377.8 1536.2L380.9 1535.5L384.3 1534.8L388 1534L391.9 1533.1L395.8 1532.3L399.6 1531.5L403.3 1530.7L406.7 1530L410 1529.4L413.5 1528.7L417 1528L420.6 1527.4L424.1 1526.7L427.5 1526.1L430.6 1525.6L433.3 1525.1L435.7 1524.7L437.5 1524.3L436 1516.2L434.2 1516.6L431.9 1517L429.1 1517.5L426 1518L422.7 1518.6L419.1 1519.3L415.5 1519.9L411.9 1520.6L408.4 1521.3L405 1521.9L401.6 1522.6L397.9 1523.4L394.1 1524.2L390.2 1525.1L386.3 1525.9L382.6 1526.7L379.1 1527.5L376.1 1528.1L373.5 1528.7L371.5 1529.1Z" fill="#a8c4a7" stroke="#2f2f2f" stroke-width="1.1" stroke-linejoin="round"/><path d="M333.5 1522.1L338 1522.2L344 1522.3L351.1 1522.4L359 1522.4L367.4 1522.6L375.9 1522.8L384.3 1523.1L392.2 1523.4L399.2 1524L405 1524.6L409.8 1525.4L414 1526.3L417.8 1527.4L421.2 1528.5L424.3 1529.7L427.3 1531L430.1 1532.3L433 1533.8L436 1535.3L438.9 1536.8L441.8 1538.4L444.7 1540.1L447.6 1542L450.4 1544L452.5 1545.6L449.8 1549.2L467.7 1549.2L463.2 1531.8L460.4 1535.4L458 1533.6L454.9 1531.4L451.6 1529.2L448.2 1527.2L444.9 1525.4L441.8 1523.8L438.9 1522.3L435.8 1520.8L432.6 1519.2L429.2 1517.7L425.5 1516.3L421.5 1515L417 1513.8L412.2 1512.7L406.7 1511.8L400.4 1511.1L393 1510.6L384.8 1510.2L376.3 1509.9L367.6 1509.7L359.2 1509.6L351.2 1509.5L344.2 1509.4L338.3 1509.3L333.8 1509.2Z" fill="#a8c4a7" stroke="#2f2f2f" stroke-width="1.1" stroke-linejoin="round"/><path d="M468.2 1552.8L464.8 1552.5L460.4 1552.1L455.2 1551.7L449.3 1551.2L443 1550.6L436.5 1550L429.9 1549.4L423.4 1548.8L417.3 1548.2L411.6 1547.6L406 1547L400.2 1546.3L394.2 1545.6L388.2 1544.9L382.4 1544.1L376.8 1543.4L372 1542.7L372.5 1539L359.5 1546.6L370.1 1557.2L370.6 1553.5L375.4 1554.1L381 1554.8L386.9 1555.6L392.9 1556.3L398.9 1557.1L404.8 1557.8L410.4 1558.4L416.2 1559L422.4 1559.6L428.9 1560.2L435.5 1560.8L442.1 1561.4L448.4 1561.9L454.2 1562.4L459.4 1562.9L463.8 1563.3L467.2 1563.6Z" fill="#a8c4a7" stroke="#2f2f2f" stroke-width="1.1" stroke-linejoin="round"/><path d="M388.5 1587.8L390.9 1587.5L394 1587L397.6 1586.6L401.6 1586L406 1585.4L410.7 1584.8L415.4 1584.2L420.2 1583.6L425 1583.1L429.6 1582.6L434.3 1582.2L439.6 1581.7L445.1 1581.3L450.8 1580.8L456.5 1580.4L461.9 1580L467 1579.6L471.6 1579.3L475.4 1579L478.4 1578.8L477.6 1568.5L474.7 1568.7L470.8 1569L466.3 1569.3L461.2 1569.7L455.7 1570.1L450 1570.5L444.3 1571L438.7 1571.4L433.4 1571.9L428.5 1572.4L423.9 1572.9L419 1573.4L414.2 1574L409.4 1574.6L404.7 1575.2L400.3 1575.8L396.2 1576.3L392.6 1576.8L389.6 1577.2L387.1 1577.5Z" fill="#a8c4a7" stroke="#2f2f2f" stroke-width="1.1" stroke-linejoin="round"/><path d="M330.4 1435.7L329.2 1436.2L327.7 1436.8L325.9 1437.6L323.9 1438.4L321.7 1439.3L319.4 1440.3L317.2 1441.3L315 1442.2L312.9 1443.1L311 1443.9L309.2 1444.8L307.3 1445.6L305.7 1446.4L304.1 1443.1L297.6 1455.9L311.6 1459L310.1 1455.7L311.6 1455L313.4 1454.1L315.2 1453.4L317 1452.6L319 1451.7L321.2 1450.7L323.5 1449.8L325.7 1448.8L327.9 1447.9L329.9 1447.1L331.7 1446.3L333.2 1445.6L334.4 1445.2Z" fill="#a8c4a7" stroke="#2f2f2f" stroke-width="1.1" stroke-linejoin="round"/><path d="M268.1 1525.6L268.3 1526.5L268.5 1527.7L268.8 1529.4L269.1 1531.3L269.5 1533.4L270 1535.6L270.7 1537.8L271.5 1540L272.7 1542.1L274.2 1544.1L276.1 1545.7L278.2 1547L280.4 1548.2L282.7 1549.1L285.1 1550L287.3 1550.7L289.4 1551.4L291.2 1551.9L292.7 1552.4L293.7 1552.8L296.4 1545.5L295.2 1545.1L293.5 1544.6L291.7 1544L289.7 1543.4L287.6 1542.7L285.6 1541.9L283.6 1541.1L282 1540.3L280.6 1539.5L279.8 1538.8L279.2 1538L278.6 1536.8L278 1535.3L277.5 1533.6L277.1 1531.8L276.7 1529.9L276.4 1528.1L276.2 1526.5L275.9 1524.9L275.6 1523.8Z" fill="#a8c4a7" stroke="#2f2f2f" stroke-width="1.1" stroke-linejoin="round"/><path d="M518.1 1527.2L519.5 1527.2L521.4 1527.2L523.7 1527.3L526.4 1527.3L529.4 1527.3L532.5 1527.2L535.6 1526.9L538.7 1526.4L541.7 1525.5L544.5 1524.1L546.9 1522.2L549.1 1520L551.2 1517.5L553 1514.8L554.8 1512.1L556.3 1509.3L557.7 1506.6L558.8 1504.1L559.7 1501.9L560.4 1499.8L560.6 1497.5L560.1 1495.1L559 1493.2L557.5 1491.8L556.1 1490.9L554.8 1490.3L553.7 1489.8L552.8 1489.5L552.4 1489.3L552.3 1489.2L548 1495.7L548.8 1496.2L549.9 1496.7L550.9 1497L551.7 1497.4L552.4 1497.7L552.8 1498L553 1498.1L552.9 1497.9L552.9 1497.7L552.8 1498L552.4 1499.2L551.7 1501.1L550.7 1503.3L549.5 1505.7L548.1 1508.1L546.6 1510.6L545 1512.8L543.4 1514.8L541.8 1516.4L540.4 1517.5L538.9 1518.3L536.9 1518.8L534.6 1519.3L531.9 1519.5L529.2 1519.6L526.5 1519.6L523.9 1519.5L521.5 1519.5L519.4 1519.5L517.8 1519.5Z" fill="#a8c4a7" stroke="#2f2f2f" stroke-width="1.1" stroke-linejoin="round"/></g>
<g opacity="0.93"><path d="M352.6 1613.3C352.9 1615.4 352.3 1621.3 354.4 1625.8C356.5 1630.3 363.1 1635.6 365.2 1640.1C367.2 1644.6 368.1 1648.5 367 1652.6C365.8 1656.8 361 1661.9 358 1665.2C355 1668.4 350.5 1671.1 349.1 1672.3" stroke="#2f2f2f" stroke-width="4.3" fill="none" stroke-linecap="round" stroke-linejoin="round"/><path d="M352.6 1613.3C352.9 1615.4 352.3 1621.3 354.4 1625.8C356.5 1630.3 363.1 1635.6 365.2 1640.1C367.2 1644.6 368.1 1648.5 367 1652.6C365.8 1656.8 361 1661.9 358 1665.2C355 1668.4 350.5 1671.1 349.1 1672.3" stroke="#b6b9db" stroke-width="2.3" fill="none" stroke-linecap="round" stroke-linejoin="round"/><path d="M352.6 1613.3C354.7 1612.4 360.1 1609.1 365.2 1607.9C370.2 1606.7 377.7 1605.8 383.1 1606.1C388.4 1606.4 395 1609.1 397.4 1609.7" stroke="#2f2f2f" stroke-width="4.3" fill="none" stroke-linecap="round" stroke-linejoin="round"/><path d="M352.6 1613.3C354.7 1612.4 360.1 1609.1 365.2 1607.9C370.2 1606.7 377.7 1605.8 383.1 1606.1C388.4 1606.4 395 1609.1 397.4 1609.7" stroke="#b6b9db" stroke-width="2.3" fill="none" stroke-linecap="round" stroke-linejoin="round"/><path d="M324 1770.7C321.3 1773.4 309.1 1781.2 307.9 1786.9C306.7 1792.5 312.4 1801.8 316.8 1804.7C321.3 1807.7 330.3 1806.2 334.7 1804.7C339.2 1803.3 342.2 1800 343.7 1795.8C345.2 1791.6 343.7 1782.4 343.7 1779.7" stroke="#2f2f2f" stroke-width="4.3" fill="none" stroke-linecap="round" stroke-linejoin="round"/><path d="M324 1770.7C321.3 1773.4 309.1 1781.2 307.9 1786.9C306.7 1792.5 312.4 1801.8 316.8 1804.7C321.3 1807.7 330.3 1806.2 334.7 1804.7C339.2 1803.3 342.2 1800 343.7 1795.8C345.2 1791.6 343.7 1782.4 343.7 1779.7" stroke="#b6b9db" stroke-width="2.3" fill="none" stroke-linecap="round" stroke-linejoin="round"/><path d="M413.5 1597.2C416.2 1598.1 426.6 1599.8 429.6 1602.5C432.6 1605.2 433.2 1609.4 431.4 1613.3C429.6 1617.1 423.9 1623.7 418.8 1625.8C413.8 1627.9 405.4 1626.4 401 1625.8C396.5 1625.2 395 1621.3 392 1622.2C389 1623.1 385.1 1627.6 383.1 1631.2C381 1634.7 380.1 1641.6 379.5 1643.7" stroke="#2f2f2f" stroke-width="4.3" fill="none" stroke-linecap="round" stroke-linejoin="round"/><path d="M413.5 1597.2C416.2 1598.1 426.6 1599.8 429.6 1602.5C432.6 1605.2 433.2 1609.4 431.4 1613.3C429.6 1617.1 423.9 1623.7 418.8 1625.8C413.8 1627.9 405.4 1626.4 401 1625.8C396.5 1625.2 395 1621.3 392 1622.2C389 1623.1 385.1 1627.6 383.1 1631.2C381 1634.7 380.1 1641.6 379.5 1643.7" stroke="#b6b9db" stroke-width="2.3" fill="none" stroke-linecap="round" stroke-linejoin="round"/><path d="M368.7 1684.8C370.5 1683.1 375.9 1676.2 379.5 1674.1C383.1 1672 387.2 1672.9 390.2 1672.3C393.2 1671.7 396.2 1670.8 397.4 1670.5" stroke="#2f2f2f" stroke-width="4.3" fill="none" stroke-linecap="round" stroke-linejoin="round"/><path d="M368.7 1684.8C370.5 1683.1 375.9 1676.2 379.5 1674.1C383.1 1672 387.2 1672.9 390.2 1672.3C393.2 1671.7 396.2 1670.8 397.4 1670.5" stroke="#b6b9db" stroke-width="2.3" fill="none" stroke-linecap="round" stroke-linejoin="round"/><path d="M413.5 1704.5C415.6 1703.9 421.2 1700.7 426 1701C430.8 1701.3 438.5 1702.7 442.1 1706.3C445.7 1709.9 447.2 1717.4 447.5 1722.4C447.8 1727.5 446.9 1733.2 443.9 1736.7C440.9 1740.3 433.8 1740.6 429.6 1743.9C425.4 1747.2 420.6 1754.3 418.8 1756.4" stroke="#2f2f2f" stroke-width="4.3" fill="none" stroke-linecap="round" stroke-linejoin="round"/><path d="M413.5 1704.5C415.6 1703.9 421.2 1700.7 426 1701C430.8 1701.3 438.5 1702.7 442.1 1706.3C445.7 1709.9 447.2 1717.4 447.5 1722.4C447.8 1727.5 446.9 1733.2 443.9 1736.7C440.9 1740.3 433.8 1740.6 429.6 1743.9C425.4 1747.2 420.6 1754.3 418.8 1756.4" stroke="#b6b9db" stroke-width="2.3" fill="none" stroke-linecap="round" stroke-linejoin="round"/><path d="M451.1 1641.9C452.8 1640.4 457.3 1634.7 461.8 1632.9C466.3 1631.2 473.4 1631.2 477.9 1631.2C482.4 1631.2 486.9 1631.5 488.6 1632.9C490.4 1634.4 486.3 1635.9 488.6 1640.1C491 1644.3 500.6 1652.6 503 1658C505.3 1663.4 504.7 1668.7 503 1672.3C501.2 1675.9 495.2 1676.5 492.2 1679.5C489.2 1682.5 485.7 1686 485.1 1690.2C484.5 1694.4 487.1 1699.8 488.6 1704.5C490.1 1709.3 493.1 1711.1 494 1718.8C494.9 1726.6 494 1745.7 494 1751.1" stroke="#2f2f2f" stroke-width="4.3" fill="none" stroke-linecap="round" stroke-linejoin="round"/><path d="M451.1 1641.9C452.8 1640.4 457.3 1634.7 461.8 1632.9C466.3 1631.2 473.4 1631.2 477.9 1631.2C482.4 1631.2 486.9 1631.5 488.6 1632.9C490.4 1634.4 486.3 1635.9 488.6 1640.1C491 1644.3 500.6 1652.6 503 1658C505.3 1663.4 504.7 1668.7 503 1672.3C501.2 1675.9 495.2 1676.5 492.2 1679.5C489.2 1682.5 485.7 1686 485.1 1690.2C484.5 1694.4 487.1 1699.8 488.6 1704.5C490.1 1709.3 493.1 1711.1 494 1718.8C494.9 1726.6 494 1745.7 494 1751.1" stroke="#b6b9db" stroke-width="2.3" fill="none" stroke-linecap="round" stroke-linejoin="round"/><path d="M440.3 1822.6C441.2 1826.2 444.2 1837.6 445.7 1844.1C447.2 1850.7 445.4 1858.7 449.3 1862C453.1 1865.3 463.9 1862.6 469 1863.8C474 1865 477.3 1866.5 479.7 1869.2C482.1 1871.9 482.7 1878.1 483.3 1879.9" stroke="#2f2f2f" stroke-width="4.3" fill="none" stroke-linecap="round" stroke-linejoin="round"/><path d="M440.3 1822.6C441.2 1826.2 444.2 1837.6 445.7 1844.1C447.2 1850.7 445.4 1858.7 449.3 1862C453.1 1865.3 463.9 1862.6 469 1863.8C474 1865 477.3 1866.5 479.7 1869.2C482.1 1871.9 482.7 1878.1 483.3 1879.9" stroke="#b6b9db" stroke-width="2.3" fill="none" stroke-linecap="round" stroke-linejoin="round"/><path d="M442.1 1804.7C442.7 1802.4 443.3 1794 445.7 1790.4C448.1 1786.9 452 1784.2 456.4 1783.3C460.9 1782.4 467.5 1783.9 472.5 1785.1C477.6 1786.3 483 1788.6 486.9 1790.4C490.7 1792.2 492.2 1793.7 495.8 1795.8C499.4 1797.9 503.9 1801.2 508.3 1803C512.8 1804.7 520 1803.9 522.6 1806.5C525.3 1809.2 525.9 1817 524.4 1819.1C522.9 1821.2 515.5 1819.1 513.7 1819.1" stroke="#2f2f2f" stroke-width="4.3" fill="none" stroke-linecap="round" stroke-linejoin="round"/><path d="M442.1 1804.7C442.7 1802.4 443.3 1794 445.7 1790.4C448.1 1786.9 452 1784.2 456.4 1783.3C460.9 1782.4 467.5 1783.9 472.5 1785.1C477.6 1786.3 483 1788.6 486.9 1790.4C490.7 1792.2 492.2 1793.7 495.8 1795.8C499.4 1797.9 503.9 1801.2 508.3 1803C512.8 1804.7 520 1803.9 522.6 1806.5C525.3 1809.2 525.9 1817 524.4 1819.1C522.9 1821.2 515.5 1819.1 513.7 1819.1" stroke="#b6b9db" stroke-width="2.3" fill="none" stroke-linecap="round" stroke-linejoin="round"/><path d="M460 1828C462.4 1827.4 469.8 1824.1 474.3 1824.4C478.8 1824.7 484.5 1827.7 486.9 1829.8C489.2 1831.9 488.3 1835.8 488.6 1837" stroke="#2f2f2f" stroke-width="4.3" fill="none" stroke-linecap="round" stroke-linejoin="round"/><path d="M460 1828C462.4 1827.4 469.8 1824.1 474.3 1824.4C478.8 1824.7 484.5 1827.7 486.9 1829.8C489.2 1831.9 488.3 1835.8 488.6 1837" stroke="#b6b9db" stroke-width="2.3" fill="none" stroke-linecap="round" stroke-linejoin="round"/><path d="M365.2 1840.5C364.6 1843.5 363.1 1853.7 361.6 1858.4C360.1 1863.2 357.1 1867.4 356.2 1869.2" stroke="#2f2f2f" stroke-width="4.3" fill="none" stroke-linecap="round" stroke-linejoin="round"/><path d="M365.2 1840.5C364.6 1843.5 363.1 1853.7 361.6 1858.4C360.1 1863.2 357.1 1867.4 356.2 1869.2" stroke="#b6b9db" stroke-width="2.3" fill="none" stroke-linecap="round" stroke-linejoin="round"/><path d="M375.9 1912.1C379.5 1913.9 389.6 1922.9 397.4 1922.9C405.1 1922.9 418.3 1913.9 422.4 1912.1" stroke="#2f2f2f" stroke-width="4.3" fill="none" stroke-linecap="round" stroke-linejoin="round"/><path d="M375.9 1912.1C379.5 1913.9 389.6 1922.9 397.4 1922.9C405.1 1922.9 418.3 1913.9 422.4 1912.1" stroke="#b6b9db" stroke-width="2.3" fill="none" stroke-linecap="round" stroke-linejoin="round"/><path d="M392 1760.2L392.1 1763.9L392.2 1768.8L392.4 1774.6L392.6 1781.1L392.8 1788.1L393 1795.4L393.2 1802.7L393.4 1809.8L393.6 1816.6L393.8 1822.8L394 1828.8L394.2 1835L394.4 1841.3L394.6 1847.5L394.8 1853.6L395 1859.3L395.2 1864.6L395.3 1869.4L395.5 1873.4L395.6 1876.5L406.3 1876.1L406.2 1873L406.1 1869L405.9 1864.3L405.7 1859L405.5 1853.2L405.3 1847.2L405.1 1840.9L404.9 1834.6L404.7 1828.4L404.5 1822.5L404.3 1816.3L404.1 1809.5L403.9 1802.4L403.7 1795.1L403.5 1787.8L403.3 1780.8L403.1 1774.3L403 1768.5L402.8 1763.6L402.7 1759.9Z" fill="#abadce" stroke="#2f2f2f" stroke-width="1.1" stroke-linejoin="round"/><path d="M372.4 1703.9L371.9 1707.7L371.4 1712.6L370.7 1718.3L369.9 1724.7L369.1 1731.7L368.3 1739L367.4 1746.5L366.6 1754L365.9 1761.4L365.2 1768.5L364.5 1775.7L363.9 1783.5L363.3 1791.8L362.6 1800.1L362 1808.4L361.5 1816.3L361 1823.7L360.6 1828.4L356.9 1828.1L365.2 1840.5L375.1 1829.4L371.4 1829.1L371.7 1824.5L372.2 1817.1L372.8 1809.2L373.3 1800.9L374 1792.6L374.6 1784.4L375.2 1776.6L375.9 1769.4L376.5 1762.5L377.3 1755.1L378.1 1747.7L378.9 1740.2L379.8 1732.9L380.6 1725.9L381.3 1719.5L382 1713.8L382.6 1709L383 1705.1Z" fill="#abadce" stroke="#2f2f2f" stroke-width="1.1" stroke-linejoin="round"/><path d="M372.7 1653.9L373.1 1656.4L374.7 1658.8L377.2 1661.2L380.5 1663.5L384.5 1665.6L389 1667.5L393.8 1669.2L398.5 1670.7L403 1671.9L407 1673L410.4 1673.8L413 1674.5L414.5 1675.1L415.1 1675.6L415.1 1673.7L414.6 1671.2L413.1 1668.8L410.6 1666.4L407.3 1664.2L403.3 1662.1L398.8 1660.1L394 1658.4L389.3 1657L384.8 1655.7L380.7 1654.6L377.4 1653.8L374.8 1653.1L373.2 1652.5L372.7 1652ZM371.6 1695.1L372.1 1697.5L373.6 1700L376.1 1702.4L379.4 1704.6L383.5 1706.7L388 1708.6L392.7 1710.3L397.4 1711.8L401.9 1713.1L406 1714.1L409.4 1715L411.9 1715.7L413.5 1716.3L414 1716.8L414.1 1714.8L413.6 1712.4L412.1 1709.9L409.6 1707.6L406.2 1705.3L402.2 1703.2L397.7 1701.3L393 1699.6L388.2 1698.1L383.7 1696.8L379.7 1695.8L376.3 1694.9L373.8 1694.2L372.2 1693.7L371.7 1693.1ZM370.5 1736.2L371 1738.7L372.5 1741.1L375 1743.5L378.4 1745.8L382.4 1747.9L386.9 1749.8L391.6 1751.5L396.4 1752.9L400.9 1754.2L404.9 1755.3L408.3 1756.1L410.8 1756.8L412.4 1757.4L412.9 1757.9L413 1756L412.5 1753.5L411 1751.1L408.5 1748.7L405.2 1746.4L401.1 1744.3L396.6 1742.4L391.9 1740.7L387.2 1739.3L382.7 1738L378.6 1736.9L375.2 1736.1L372.7 1735.4L371.1 1734.8L370.6 1734.3ZM369.5 1777.4L370 1779.8L371.5 1782.3L374 1784.6L377.3 1786.9L381.3 1789L385.8 1790.9L390.6 1792.6L395.3 1794.1L399.8 1795.4L403.9 1796.4L407.2 1797.3L409.8 1798L411.4 1798.5L411.9 1799.1L411.9 1797.1L411.5 1794.7L409.9 1792.2L407.4 1789.8L404.1 1787.6L400.1 1785.5L395.6 1783.6L390.8 1781.9L386.1 1780.4L381.6 1779.1L377.5 1778.1L374.2 1777.2L371.6 1776.5L370.1 1775.9L369.5 1775.4ZM368.4 1818.5L368.9 1821L370.4 1823.4L372.9 1825.8L376.3 1828L380.3 1830.1L384.8 1832.1L389.5 1833.8L394.2 1835.2L398.8 1836.5L402.8 1837.6L406.2 1838.4L408.7 1839.1L410.3 1839.7L410.8 1840.2L410.9 1838.3L410.4 1835.8L408.9 1833.4L406.4 1831L403 1828.7L399 1826.6L394.5 1824.7L389.8 1823L385 1821.5L380.5 1820.3L376.5 1819.2L373.1 1818.4L370.6 1817.7L369 1817.1L368.5 1816.6ZM367.4 1859.7L367.8 1862.1L369.4 1864.6L371.9 1866.9L375.2 1869.2L379.2 1871.3L383.7 1873.2L388.4 1874.9L393.2 1876.4L397.7 1877.6L401.7 1878.7L405.1 1879.6L407.7 1880.3L409.2 1880.8L409.8 1881.3L409.8 1879.4L409.3 1877L407.8 1874.5L405.3 1872.1L402 1869.9L397.9 1867.8L393.5 1865.9L388.7 1864.2L384 1862.7L379.5 1861.4L375.4 1860.4L372 1859.5L369.5 1858.8L367.9 1858.2L367.4 1857.7Z" fill="#9698b8" stroke="#2f2f2f" stroke-width="1" stroke-linejoin="round" opacity="0.9"/><path d="M416.1 1634.5L415.5 1636.9L413.9 1639.3L411.3 1641.5L407.8 1643.6L403.7 1645.5L399.1 1647.1L394.3 1648.6L389.5 1649.8L384.9 1650.9L380.8 1651.7L377.4 1652.4L374.8 1653L373.2 1653.5L372.7 1653.9L372.7 1652L373.3 1649.6L375 1647.2L377.6 1645L381 1642.9L385.2 1641L389.7 1639.3L394.6 1637.9L399.4 1636.6L403.9 1635.6L408 1634.8L411.5 1634.1L414 1633.5L415.6 1633L416.2 1632.5ZM415.1 1675.6L414.5 1678.1L412.8 1680.4L410.2 1682.6L406.7 1684.7L402.6 1686.6L398 1688.3L393.2 1689.7L388.4 1691L383.8 1692L379.7 1692.9L376.3 1693.5L373.8 1694.1L372.2 1694.6L371.6 1695.1L371.7 1693.1L372.3 1690.7L373.9 1688.4L376.5 1686.1L380 1684L384.1 1682.1L388.7 1680.5L393.5 1679L398.3 1677.8L402.9 1676.8L407 1675.9L410.4 1675.2L413 1674.7L414.6 1674.2L415.1 1673.7ZM414 1716.8L413.4 1719.2L411.8 1721.6L409.1 1723.8L405.7 1725.9L401.6 1727.8L397 1729.4L392.2 1730.9L387.3 1732.1L382.8 1733.2L378.7 1734L375.3 1734.7L372.7 1735.3L371.1 1735.7L370.5 1736.2L370.6 1734.3L371.2 1731.9L372.8 1729.5L375.5 1727.3L378.9 1725.2L383 1723.3L387.6 1721.6L392.4 1720.2L397.3 1718.9L401.8 1717.9L405.9 1717.1L409.3 1716.4L411.9 1715.8L413.5 1715.3L414.1 1714.8ZM412.9 1757.9L412.3 1760.3L410.7 1762.7L408.1 1764.9L404.6 1767L400.5 1768.9L395.9 1770.6L391.1 1772L386.3 1773.3L381.7 1774.3L377.6 1775.1L374.2 1775.8L371.6 1776.4L370 1776.9L369.5 1777.4L369.5 1775.4L370.1 1773L371.8 1770.6L374.4 1768.4L377.9 1766.3L382 1764.4L386.6 1762.8L391.4 1761.3L396.2 1760.1L400.8 1759L404.8 1758.2L408.3 1757.5L410.8 1756.9L412.4 1756.5L413 1756ZM411.9 1799.1L411.3 1801.5L409.6 1803.8L407 1806.1L403.6 1808.2L399.4 1810.1L394.9 1811.7L390 1813.2L385.2 1814.4L380.7 1815.4L376.6 1816.3L373.1 1817L370.6 1817.5L369 1818L368.4 1818.5L368.5 1816.6L369.1 1814.2L370.7 1811.8L373.3 1809.6L376.8 1807.5L380.9 1805.6L385.5 1803.9L390.3 1802.5L395.1 1801.2L399.7 1800.2L403.8 1799.3L407.2 1798.7L409.8 1798.1L411.4 1797.6L411.9 1797.1ZM410.8 1840.2L410.2 1842.6L408.6 1845L406 1847.2L402.5 1849.3L398.4 1851.2L393.8 1852.9L389 1854.3L384.2 1855.6L379.6 1856.6L375.5 1857.4L372.1 1858.1L369.5 1858.7L367.9 1859.2L367.4 1859.7L367.4 1857.7L368 1855.3L369.7 1852.9L372.3 1850.7L375.7 1848.6L379.9 1846.7L384.4 1845.1L389.3 1843.6L394.1 1842.4L398.6 1841.3L402.7 1840.5L406.1 1839.8L408.7 1839.2L410.3 1838.7L410.9 1838.3ZM409.8 1881.3L409.2 1883.8L407.5 1886.1L404.9 1888.4L401.4 1890.5L397.3 1892.3L392.7 1894L387.9 1895.5L383.1 1896.7L378.5 1897.7L374.4 1898.6L371 1899.3L368.4 1899.8L366.8 1900.3L366.3 1900.8L366.3 1898.9L366.9 1896.4L368.6 1894.1L371.2 1891.8L374.7 1889.8L378.8 1887.9L383.4 1886.2L388.2 1884.7L393 1883.5L397.6 1882.5L401.7 1881.6L405.1 1881L407.7 1880.4L409.3 1879.9L409.8 1879.4Z" fill="#abadce" stroke="#2f2f2f" stroke-width="1.1" stroke-linejoin="round"/><path d="M450.3 1663.5L450.8 1665.7L452.2 1667.9L454.4 1670L457.4 1671.9L461 1673.8L464.9 1675.4L469.1 1676.8L473.3 1678L477.3 1679L480.9 1679.9L483.8 1680.6L486.1 1681.1L487.5 1681.6L488 1682.1L487.9 1680.3L487.5 1678L486.1 1675.9L483.8 1673.8L480.8 1671.8L477.2 1670L473.3 1668.4L469.1 1667L464.9 1665.7L460.9 1664.7L457.3 1663.9L454.4 1663.2L452.1 1662.6L450.7 1662.1L450.3 1661.7ZM450.5 1701L451 1703.3L452.4 1705.5L454.6 1707.6L457.6 1709.5L461.2 1711.3L465.1 1713L469.3 1714.4L473.5 1715.6L477.5 1716.6L481.1 1717.5L484 1718.1L486.3 1718.7L487.7 1719.2L488.2 1719.6L488.1 1717.9L487.7 1715.6L486.3 1713.4L484 1711.3L481 1709.4L477.5 1707.6L473.5 1706L469.3 1704.5L465.1 1703.3L461.1 1702.3L457.6 1701.4L454.6 1700.8L452.3 1700.2L450.9 1699.7L450.5 1699.3ZM450.7 1738.6L451.2 1740.9L452.6 1743L454.8 1745.1L457.8 1747.1L461.4 1748.9L465.4 1750.5L469.5 1752L473.7 1753.2L477.7 1754.2L481.3 1755L484.3 1755.7L486.5 1756.3L487.9 1756.8L488.4 1757.2L488.3 1755.4L487.9 1753.2L486.5 1751L484.2 1748.9L481.2 1747L477.7 1745.2L473.7 1743.5L469.5 1742.1L465.3 1740.9L461.3 1739.9L457.8 1739L454.8 1738.3L452.5 1737.8L451.1 1737.3L450.7 1736.9ZM450.9 1776.2L451.4 1778.4L452.8 1780.6L455 1782.7L458 1784.7L461.6 1786.5L465.6 1788.1L469.7 1789.5L473.9 1790.8L477.9 1791.8L481.5 1792.6L484.5 1793.3L486.7 1793.9L488.1 1794.3L488.6 1794.8L488.6 1793L488.1 1790.8L486.7 1788.6L484.4 1786.5L481.4 1784.5L477.9 1782.7L473.9 1781.1L469.7 1779.7L465.5 1778.5L461.5 1777.4L458 1776.6L455 1775.9L452.7 1775.4L451.3 1774.9L450.9 1774.4Z" fill="#9698b8" stroke="#2f2f2f" stroke-width="1" stroke-linejoin="round" opacity="0.9"/><path d="M487.7 1644.5L487.3 1646.7L485.9 1648.9L483.7 1651L480.7 1653L477.2 1654.9L473.2 1656.5L469 1658L464.9 1659.3L460.9 1660.3L457.3 1661.2L454.4 1661.9L452.1 1662.5L450.7 1663L450.3 1663.5L450.3 1661.7L450.7 1659.4L452.1 1657.2L454.3 1655.1L457.3 1653.1L460.8 1651.3L464.8 1649.6L469 1648.2L473.2 1646.9L477.1 1645.8L480.7 1645L483.6 1644.2L485.9 1643.6L487.3 1643.1L487.7 1642.7ZM488 1682.1L487.5 1684.3L486.1 1686.5L483.9 1688.6L480.9 1690.6L477.4 1692.5L473.4 1694.1L469.2 1695.6L465.1 1696.8L461.1 1697.9L457.5 1698.8L454.6 1699.5L452.3 1700.1L450.9 1700.6L450.5 1701L450.5 1699.3L450.9 1697L452.3 1694.8L454.5 1692.7L457.5 1690.7L461 1688.9L465 1687.2L469.2 1685.7L473.4 1684.5L477.3 1683.4L480.9 1682.5L483.9 1681.8L486.1 1681.2L487.5 1680.7L487.9 1680.3ZM488.2 1719.6L487.7 1721.9L486.3 1724.1L484.1 1726.2L481.1 1728.2L477.6 1730L473.6 1731.7L469.4 1733.2L465.3 1734.4L461.3 1735.5L457.7 1736.4L454.8 1737.1L452.5 1737.7L451.1 1738.2L450.7 1738.6L450.7 1736.9L451.1 1734.6L452.5 1732.4L454.7 1730.3L457.7 1728.3L461.2 1726.4L465.2 1724.8L469.4 1723.3L473.6 1722.1L477.5 1721L481.1 1720.1L484.1 1719.4L486.3 1718.8L487.7 1718.3L488.1 1717.9ZM488.4 1757.2L487.9 1759.5L486.5 1761.7L484.3 1763.8L481.3 1765.8L477.8 1767.6L473.8 1769.3L469.6 1770.7L465.5 1772L461.5 1773.1L457.9 1774L455 1774.7L452.7 1775.3L451.3 1775.8L450.9 1776.2L450.9 1774.4L451.3 1772.2L452.7 1770L454.9 1767.9L457.9 1765.9L461.5 1764L465.4 1762.4L469.6 1760.9L473.8 1759.6L477.7 1758.6L481.3 1757.7L484.3 1757L486.5 1756.4L487.9 1755.9L488.3 1755.4Z" fill="#abadce" stroke="#2f2f2f" stroke-width="1.1" stroke-linejoin="round"/><path d="M343.8 1671L343.1 1674L342.1 1677.9L341 1682.4L339.7 1687.5L338.4 1693.1L336.9 1698.8L335.5 1704.6L334 1710.4L332.6 1715.9L331.3 1721.1L330 1726.2L328.6 1731.6L327.2 1737.2L325.7 1742.9L324.3 1748.4L322.9 1753.6L321.8 1758L318.1 1757L324 1770.7L335.8 1761.6L332.2 1760.7L333.3 1756.3L334.7 1751.1L336.1 1745.6L337.6 1739.9L339 1734.3L340.4 1728.9L341.7 1723.8L343 1718.6L344.4 1713L345.9 1707.3L347.3 1701.4L348.8 1695.7L350.2 1690.1L351.4 1685L352.6 1680.5L353.5 1676.6L354.3 1673.6Z" fill="#abadce" stroke="#2f2f2f" stroke-width="1.1" stroke-linejoin="round"/><path d="M348.9 1781.1L349.6 1778.3L350.6 1774.8L351.7 1770.6L353 1765.9L354.3 1760.8L355.8 1755.5L357.2 1750.1L358.7 1744.7L360.1 1739.5L361.4 1734.5L362.7 1729.5L364.1 1724.2L365.6 1718.6L367 1713L368.5 1707.4L369.8 1702.1L371 1697.6L374.6 1698.6L368.7 1684.8L357 1694L360.6 1694.9L359.4 1699.4L358.1 1704.8L356.6 1710.3L355.2 1715.9L353.7 1721.5L352.3 1726.8L351 1731.8L349.7 1736.7L348.3 1741.9L346.9 1747.3L345.4 1752.7L344 1758L342.6 1763.1L341.3 1767.8L340.2 1772L339.2 1775.5L338.5 1778.3Z" fill="#abadce" stroke="#2f2f2f" stroke-width="1.1" stroke-linejoin="round"/><path d="M413.9 1774.6L414.6 1776.1L415.4 1778.1L416.3 1780.3L417.4 1782.9L418.6 1785.6L419.8 1788.5L421.1 1791.4L422.3 1794.3L423.5 1797.1L424.7 1799.7L425.8 1802.3L427 1805.1L428.2 1808L429.5 1810.9L430.7 1813.8L430.7 1813.9L427.3 1815.4L440.3 1822.6L444.1 1808.2L440.6 1809.7L440.6 1809.6L439.3 1806.7L438.1 1803.8L436.8 1800.9L435.6 1798.1L434.5 1795.5L433.4 1792.9L432.2 1790.1L431 1787.2L429.7 1784.2L428.5 1781.4L427.3 1778.6L426.2 1776.1L425.2 1773.8L424.4 1771.9L423.8 1770.4Z" fill="#abadce" stroke="#2f2f2f" stroke-width="1.1" stroke-linejoin="round"/><path d="M350.5 1873.9L351.6 1875.3L352.6 1876.8L353.7 1878.2L354.8 1879.6L355.9 1881.1L356.9 1882.5L358 1883.9L359.1 1885.4L360.2 1886.8L361.2 1888.2L369.1 1882.3L368 1880.9L367 1879.5L365.9 1878L364.8 1876.6L363.7 1875.2L362.7 1873.7L361.6 1872.3L360.5 1870.9L359.4 1869.4L358.4 1868Z" fill="#abadce" stroke="#2f2f2f" stroke-width="1.1" stroke-linejoin="round"/></g>
<g opacity="0.93"><path d="M949.2 1506.4C955.3 1503.8 978.8 1496.9 985.7 1490.6C992.6 1484.3 989.8 1472.3 990.6 1468.7" stroke="#2f2f2f" stroke-width="4.3" fill="none" stroke-linecap="round" stroke-linejoin="round"/><path d="M949.2 1506.4C955.3 1503.8 978.8 1496.9 985.7 1490.6C992.6 1484.3 989.8 1472.3 990.6 1468.7" stroke="#b9d3b7" stroke-width="2.3" fill="none" stroke-linecap="round" stroke-linejoin="round"/><path d="M973.5 1446.8C975.2 1446 980 1441.9 983.3 1441.9C986.5 1441.9 993 1443.1 993 1446.8C993 1450.4 985.7 1458.5 983.3 1463.8C980.8 1469.1 977.2 1475.2 978.4 1478.4C979.6 1481.7 988.6 1482.5 990.6 1483.3" stroke="#2f2f2f" stroke-width="4.3" fill="none" stroke-linecap="round" stroke-linejoin="round"/><path d="M973.5 1446.8C975.2 1446 980 1441.9 983.3 1441.9C986.5 1441.9 993 1443.1 993 1446.8C993 1450.4 985.7 1458.5 983.3 1463.8C980.8 1469.1 977.2 1475.2 978.4 1478.4C979.6 1481.7 988.6 1482.5 990.6 1483.3" stroke="#b9d3b7" stroke-width="2.3" fill="none" stroke-linecap="round" stroke-linejoin="round"/><path d="M978.4 1471.1C976 1471.5 968.7 1470.7 963.8 1473.5C958.9 1476.4 954.5 1484.9 949.2 1488.1C943.9 1491.4 935 1492.2 932.2 1493" stroke="#2f2f2f" stroke-width="4.3" fill="none" stroke-linecap="round" stroke-linejoin="round"/><path d="M978.4 1471.1C976 1471.5 968.7 1470.7 963.8 1473.5C958.9 1476.4 954.5 1484.9 949.2 1488.1C943.9 1491.4 935 1492.2 932.2 1493" stroke="#b9d3b7" stroke-width="2.3" fill="none" stroke-linecap="round" stroke-linejoin="round"/><path d="M1022.2 1478.4C1024.7 1484.1 1034.8 1504.8 1036.8 1512.5C1038.9 1520.2 1037.6 1519.8 1034.4 1524.7C1031.1 1529.5 1021.4 1536.4 1017.4 1541.7C1013.3 1547 1010.9 1552.2 1010.1 1556.3C1009.2 1560.3 1012.1 1564.4 1012.5 1566" stroke="#2f2f2f" stroke-width="4.3" fill="none" stroke-linecap="round" stroke-linejoin="round"/><path d="M1022.2 1478.4C1024.7 1484.1 1034.8 1504.8 1036.8 1512.5C1038.9 1520.2 1037.6 1519.8 1034.4 1524.7C1031.1 1529.5 1021.4 1536.4 1017.4 1541.7C1013.3 1547 1010.9 1552.2 1010.1 1556.3C1009.2 1560.3 1012.1 1564.4 1012.5 1566" stroke="#b9d3b7" stroke-width="2.3" fill="none" stroke-linecap="round" stroke-linejoin="round"/><path d="M1056.3 1463.8C1060.3 1462.2 1072.5 1456.1 1080.6 1454.1C1088.7 1452 1098.9 1450.4 1105 1451.6C1111.1 1452.9 1112.7 1460.2 1117.1 1461.4C1121.6 1462.6 1126.5 1460.2 1131.7 1458.9C1137 1457.7 1145.9 1454.9 1148.8 1454.1" stroke="#2f2f2f" stroke-width="4.3" fill="none" stroke-linecap="round" stroke-linejoin="round"/><path d="M1056.3 1463.8C1060.3 1462.2 1072.5 1456.1 1080.6 1454.1C1088.7 1452 1098.9 1450.4 1105 1451.6C1111.1 1452.9 1112.7 1460.2 1117.1 1461.4C1121.6 1462.6 1126.5 1460.2 1131.7 1458.9C1137 1457.7 1145.9 1454.9 1148.8 1454.1" stroke="#b9d3b7" stroke-width="2.3" fill="none" stroke-linecap="round" stroke-linejoin="round"/><path d="M1187.7 1461.4C1191 1462.2 1201.9 1462.6 1207.2 1466.2C1212.5 1469.9 1217.3 1477.2 1219.4 1483.3C1221.4 1489.4 1219.4 1499.5 1219.4 1502.7" stroke="#2f2f2f" stroke-width="4.3" fill="none" stroke-linecap="round" stroke-linejoin="round"/><path d="M1187.7 1461.4C1191 1462.2 1201.9 1462.6 1207.2 1466.2C1212.5 1469.9 1217.3 1477.2 1219.4 1483.3C1221.4 1489.4 1219.4 1499.5 1219.4 1502.7" stroke="#b9d3b7" stroke-width="2.3" fill="none" stroke-linecap="round" stroke-linejoin="round"/><path d="M1139 1502.7C1143.1 1503.2 1154.5 1503.6 1163.4 1505.2C1172.3 1506.8 1187.7 1511.3 1192.6 1512.5" stroke="#2f2f2f" stroke-width="4.3" fill="none" stroke-linecap="round" stroke-linejoin="round"/><path d="M1139 1502.7C1143.1 1503.2 1154.5 1503.6 1163.4 1505.2C1172.3 1506.8 1187.7 1511.3 1192.6 1512.5" stroke="#b9d3b7" stroke-width="2.3" fill="none" stroke-linecap="round" stroke-linejoin="round"/><path d="M1185.3 1512.5C1186.5 1514.9 1189.3 1523.8 1192.6 1527.1C1195.8 1530.3 1202.7 1531.1 1204.8 1532" stroke="#2f2f2f" stroke-width="4.3" fill="none" stroke-linecap="round" stroke-linejoin="round"/><path d="M1185.3 1512.5C1186.5 1514.9 1189.3 1523.8 1192.6 1527.1C1195.8 1530.3 1202.7 1531.1 1204.8 1532" stroke="#b9d3b7" stroke-width="2.3" fill="none" stroke-linecap="round" stroke-linejoin="round"/><path d="M1141.5 1527.1C1145.5 1527.1 1161.4 1525.1 1165.8 1527.1C1170.3 1529.1 1167.8 1537.2 1168.2 1539.3" stroke="#2f2f2f" stroke-width="4.3" fill="none" stroke-linecap="round" stroke-linejoin="round"/><path d="M1141.5 1527.1C1145.5 1527.1 1161.4 1525.1 1165.8 1527.1C1170.3 1529.1 1167.8 1537.2 1168.2 1539.3" stroke="#b9d3b7" stroke-width="2.3" fill="none" stroke-linecap="round" stroke-linejoin="round"/><path d="M1114.7 1556.3C1120.4 1556.7 1141.9 1560.3 1148.8 1558.7C1155.7 1557.1 1155.7 1550.6 1156.1 1546.6C1156.5 1542.5 1155.7 1536.4 1151.2 1534.4C1146.7 1532.4 1133 1534.4 1129.3 1534.4" stroke="#2f2f2f" stroke-width="4.3" fill="none" stroke-linecap="round" stroke-linejoin="round"/><path d="M1114.7 1556.3C1120.4 1556.7 1141.9 1560.3 1148.8 1558.7C1155.7 1557.1 1155.7 1550.6 1156.1 1546.6C1156.5 1542.5 1155.7 1536.4 1151.2 1534.4C1146.7 1532.4 1133 1534.4 1129.3 1534.4" stroke="#b9d3b7" stroke-width="2.3" fill="none" stroke-linecap="round" stroke-linejoin="round"/><path d="M944.3 1549C943.5 1550.2 937.4 1553.5 939.5 1556.3C941.5 1559.1 949.6 1562.4 956.5 1566C963.4 1569.7 973.1 1575 980.8 1578.2C988.6 1581.4 997.5 1587.1 1002.7 1585.5C1008 1583.9 1010.9 1571.3 1012.5 1568.5" stroke="#2f2f2f" stroke-width="4.3" fill="none" stroke-linecap="round" stroke-linejoin="round"/><path d="M944.3 1549C943.5 1550.2 937.4 1553.5 939.5 1556.3C941.5 1559.1 949.6 1562.4 956.5 1566C963.4 1569.7 973.1 1575 980.8 1578.2C988.6 1581.4 997.5 1587.1 1002.7 1585.5C1008 1583.9 1010.9 1571.3 1012.5 1568.5" stroke="#b9d3b7" stroke-width="2.3" fill="none" stroke-linecap="round" stroke-linejoin="round"/><path d="M951.6 1546.6C955.3 1547.4 968.3 1548.6 973.5 1551.4C978.8 1554.3 977.6 1562 983.3 1563.6C989 1565.2 1003.6 1561.6 1007.6 1561.2" stroke="#2f2f2f" stroke-width="4.3" fill="none" stroke-linecap="round" stroke-linejoin="round"/><path d="M951.6 1546.6C955.3 1547.4 968.3 1548.6 973.5 1551.4C978.8 1554.3 977.6 1562 983.3 1563.6C989 1565.2 1003.6 1561.6 1007.6 1561.2" stroke="#b9d3b7" stroke-width="2.3" fill="none" stroke-linecap="round" stroke-linejoin="round"/><path d="M985.7 1575.8C985.3 1577.8 981.3 1585.9 983.3 1587.9C985.3 1590 993.8 1590 997.9 1587.9C1001.9 1585.9 1006 1577.8 1007.6 1575.8" stroke="#2f2f2f" stroke-width="4.3" fill="none" stroke-linecap="round" stroke-linejoin="round"/><path d="M985.7 1575.8C985.3 1577.8 981.3 1585.9 983.3 1587.9C985.3 1590 993.8 1590 997.9 1587.9C1001.9 1585.9 1006 1577.8 1007.6 1575.8" stroke="#b9d3b7" stroke-width="2.3" fill="none" stroke-linecap="round" stroke-linejoin="round"/><path d="M1010.1 1578.2C1009.6 1581 1006.8 1592.4 1007.6 1595.2C1008.4 1598.1 1013.3 1598.5 1014.9 1595.2C1016.5 1592 1016.9 1579 1017.4 1575.8" stroke="#2f2f2f" stroke-width="4.3" fill="none" stroke-linecap="round" stroke-linejoin="round"/><path d="M1010.1 1578.2C1009.6 1581 1006.8 1592.4 1007.6 1595.2C1008.4 1598.1 1013.3 1598.5 1014.9 1595.2C1016.5 1592 1016.9 1579 1017.4 1575.8" stroke="#b9d3b7" stroke-width="2.3" fill="none" stroke-linecap="round" stroke-linejoin="round"/><path d="M1100.1 1590.4C1102.5 1592.8 1108.2 1600.9 1114.7 1605C1121.2 1609 1132.1 1613.1 1139 1614.7C1145.9 1616.3 1152.4 1617.9 1156.1 1614.7C1159.7 1611.5 1161.8 1602.1 1160.9 1595.2C1160.1 1588.3 1154.5 1575.8 1151.2 1573.3C1148 1570.9 1143.1 1579.4 1141.5 1580.6" stroke="#2f2f2f" stroke-width="4.3" fill="none" stroke-linecap="round" stroke-linejoin="round"/><path d="M1100.1 1590.4C1102.5 1592.8 1108.2 1600.9 1114.7 1605C1121.2 1609 1132.1 1613.1 1139 1614.7C1145.9 1616.3 1152.4 1617.9 1156.1 1614.7C1159.7 1611.5 1161.8 1602.1 1160.9 1595.2C1160.1 1588.3 1154.5 1575.8 1151.2 1573.3C1148 1570.9 1143.1 1579.4 1141.5 1580.6" stroke="#b9d3b7" stroke-width="2.3" fill="none" stroke-linecap="round" stroke-linejoin="round"/><path d="M1092.8 1578.2C1095.6 1579.8 1102.1 1585.9 1109.8 1587.9C1117.5 1590 1132.6 1592.4 1139 1590.4C1145.5 1588.3 1147.2 1578.2 1148.8 1575.8" stroke="#2f2f2f" stroke-width="4.3" fill="none" stroke-linecap="round" stroke-linejoin="round"/><path d="M1092.8 1578.2C1095.6 1579.8 1102.1 1585.9 1109.8 1587.9C1117.5 1590 1132.6 1592.4 1139 1590.4C1145.5 1588.3 1147.2 1578.2 1148.8 1575.8" stroke="#b9d3b7" stroke-width="2.3" fill="none" stroke-linecap="round" stroke-linejoin="round"/><path d="M1221.8 1451.6C1225 1448.8 1238 1437.4 1241.3 1434.6" stroke="#2f2f2f" stroke-width="4.3" fill="none" stroke-linecap="round" stroke-linejoin="round"/><path d="M1221.8 1451.6C1225 1448.8 1238 1437.4 1241.3 1434.6" stroke="#b9d3b7" stroke-width="2.3" fill="none" stroke-linecap="round" stroke-linejoin="round"/><path d="M978.4 1472.9L983.7 1472.9L990.5 1473L998.7 1473L1007.8 1473.1L1017.6 1473.1L1027.8 1473.1L1038.1 1473.1L1048.1 1473.1L1057.5 1473.1L1066.1 1472.9L1074.4 1472.7L1082.9 1472.5L1091.5 1472.2L1100 1471.8L1108.2 1471.5L1116 1471.1L1123.2 1470.8L1129.6 1470.5L1135 1470.2L1139.2 1470L1138.9 1461.5L1134.6 1461.7L1129.1 1461.9L1122.8 1462.3L1115.6 1462.6L1107.8 1463L1099.6 1463.3L1091.1 1463.7L1082.6 1464L1074.1 1464.2L1066 1464.4L1057.4 1464.5L1048 1464.6L1038.1 1464.6L1027.8 1464.6L1017.7 1464.6L1007.9 1464.6L998.7 1464.5L990.6 1464.5L983.7 1464.4L978.4 1464.4Z" fill="#a8c4a7" stroke="#2f2f2f" stroke-width="1.1" stroke-linejoin="round"/><path d="M1016.1 1481.3L1019.7 1482.2L1024.4 1483.3L1030 1484.6L1036.2 1486.1L1042.9 1487.8L1049.9 1489.5L1057 1491.2L1064 1492.8L1070.7 1494.4L1076.9 1495.9L1083.1 1497.4L1089.5 1498.9L1096.2 1500.4L1102.8 1502L1109.4 1503.5L1115.6 1505L1121.3 1506.3L1122.4 1506.6L1121.5 1510.3L1135.4 1504L1125.8 1492.2L1124.9 1495.9L1123.8 1495.6L1118.1 1494.3L1111.8 1492.9L1105.3 1491.3L1098.7 1489.8L1092 1488.2L1085.6 1486.7L1079.5 1485.3L1073.3 1483.8L1066.6 1482.2L1059.6 1480.5L1052.5 1478.8L1045.5 1477.1L1038.8 1475.5L1032.5 1474L1027 1472.7L1022.3 1471.5L1018.6 1470.7Z" fill="#a8c4a7" stroke="#2f2f2f" stroke-width="1.1" stroke-linejoin="round"/><path d="M1098.5 1491.8L1102.5 1492L1107.6 1492.3L1113.7 1492.6L1120.5 1493L1127.8 1493.4L1135.3 1493.8L1142.8 1494.2L1150.1 1494.6L1156.9 1495.1L1163 1495.4L1168.7 1495.8L1174.5 1496.2L1180.2 1496.6L1185.9 1497.1L1191.3 1497.5L1196.4 1497.9L1198.2 1498L1197.9 1502.3L1212.1 1493L1199.5 1481.7L1199.2 1485.9L1197.3 1485.8L1192.2 1485.4L1186.8 1484.9L1181.1 1484.5L1175.3 1484.1L1169.5 1483.7L1163.8 1483.3L1157.7 1482.9L1150.8 1482.5L1143.5 1482.1L1136 1481.7L1128.4 1481.2L1121.1 1480.8L1114.3 1480.5L1108.2 1480.1L1103.1 1479.9L1099.2 1479.6Z" fill="#a8c4a7" stroke="#2f2f2f" stroke-width="1.1" stroke-linejoin="round"/><path d="M1147.8 1459.5L1148.9 1459.7L1150.4 1459.9L1152.2 1460.3L1154.2 1460.6L1156.3 1461L1158.5 1461.4L1160.8 1461.9L1163 1462.3L1165.2 1462.7L1167.2 1463.1L1169.2 1463.5L1171.3 1463.9L1173.6 1464.4L1174.8 1464.7L1174 1468.4L1187.7 1461.9L1177.9 1450.2L1177.1 1454L1175.8 1453.7L1173.6 1453.2L1171.4 1452.8L1169.3 1452.4L1167.3 1451.9L1165.1 1451.5L1162.8 1451.1L1160.5 1450.7L1158.3 1450.3L1156.2 1449.9L1154.2 1449.5L1152.4 1449.2L1150.9 1448.9L1149.8 1448.7Z" fill="#a8c4a7" stroke="#2f2f2f" stroke-width="1.1" stroke-linejoin="round"/><path d="M1052.7 1518.4L1054.8 1518.9L1057.4 1519.6L1060.5 1520.5L1064 1521.4L1067.9 1522.4L1072 1523.4L1076.3 1524.4L1080.7 1525.4L1085.2 1526.3L1089.6 1527L1094.3 1527.7L1099.5 1528.3L1105.1 1528.9L1110.8 1529.5L1116.6 1530L1122.1 1530.5L1127.2 1531L1131.8 1531.3L1135.7 1531.7L1138.6 1531.9L1139.5 1522.2L1136.5 1522L1132.6 1521.6L1128 1521.2L1122.9 1520.8L1117.4 1520.3L1111.8 1519.8L1106.1 1519.3L1100.7 1518.7L1095.6 1518.1L1091.1 1517.4L1086.9 1516.7L1082.7 1515.8L1078.4 1514.9L1074.3 1513.9L1070.3 1512.9L1066.5 1512L1063 1511L1059.9 1510.2L1057.2 1509.5L1055 1509Z" fill="#a8c4a7" stroke="#2f2f2f" stroke-width="1.1" stroke-linejoin="round"/><path d="M1023.8 1546.9L1025.8 1546.3L1028.4 1545.6L1031.5 1544.6L1035 1543.6L1038.7 1542.5L1042.6 1541.4L1046.5 1540.2L1050.4 1539.2L1054.1 1538.2L1057.6 1537.3L1061.1 1536.5L1064.8 1535.7L1068.7 1534.8L1072.6 1534.1L1076.5 1533.3L1080.2 1532.6L1083.6 1532L1086.7 1531.4L1089.4 1530.9L1091.4 1530.5L1089.3 1519.8L1087.3 1520.2L1084.7 1520.6L1081.6 1521.2L1078.2 1521.9L1074.4 1522.6L1070.5 1523.3L1066.5 1524.1L1062.5 1524.9L1058.6 1525.8L1055 1526.6L1051.4 1527.6L1047.5 1528.6L1043.5 1529.7L1039.5 1530.8L1035.6 1532L1031.8 1533.1L1028.4 1534.1L1025.3 1535.1L1022.7 1535.8L1020.7 1536.4Z" fill="#a8c4a7" stroke="#2f2f2f" stroke-width="1.1" stroke-linejoin="round"/><path d="M1017.4 1559.9L1020.3 1559.9L1024 1559.9L1028.4 1559.9L1033.3 1559.9L1038.7 1559.9L1044.2 1559.9L1049.9 1559.9L1055.5 1559.9L1060.9 1559.9L1066 1559.9L1071 1560L1076.4 1560.1L1082 1560.3L1087.7 1560.4L1093.2 1560.5L1098.6 1560.7L1101.1 1560.8L1101 1565L1114.7 1555.1L1101.6 1544.4L1101.5 1548.6L1098.9 1548.5L1093.6 1548.4L1088 1548.2L1082.3 1548.1L1076.7 1548L1071.2 1547.9L1066.1 1547.8L1061 1547.7L1055.5 1547.7L1049.9 1547.7L1044.2 1547.7L1038.6 1547.7L1033.3 1547.7L1028.4 1547.7L1023.9 1547.8L1020.2 1547.8L1017.3 1547.8Z" fill="#a8c4a7" stroke="#2f2f2f" stroke-width="1.1" stroke-linejoin="round"/><path d="M1011.2 1574.4L1013.8 1575L1017.2 1575.7L1021.1 1576.5L1025.6 1577.5L1030.4 1578.5L1035.4 1579.6L1040.4 1580.7L1045.5 1581.9L1050.3 1583L1054.8 1584.1L1059.3 1585.3L1064.2 1586.5L1069.2 1587.9L1074.3 1589.3L1079.3 1590.7L1084.1 1592.1L1085.6 1592.5L1084.4 1596.6L1100.1 1590.4L1090.1 1576.7L1088.9 1580.8L1087.4 1580.4L1082.6 1579L1077.6 1577.6L1072.4 1576.2L1067.3 1574.8L1062.4 1573.5L1057.8 1572.3L1053.1 1571.2L1048.2 1570L1043.1 1568.9L1038 1567.7L1032.9 1566.6L1028.1 1565.6L1023.7 1564.6L1019.7 1563.8L1016.4 1563.1L1013.8 1562.5Z" fill="#a8c4a7" stroke="#2f2f2f" stroke-width="1.1" stroke-linejoin="round"/><path d="M926.7 1494.7L926.9 1496.1L927 1497.9L927.2 1500.1L927.4 1502.7L927.6 1505.5L928 1508.3L928.4 1511.2L929 1514.1L929.8 1516.8L930.8 1519.2L932 1521.3L933.2 1523.3L934.7 1525.1L936.2 1526.9L938 1528.5L939.8 1530L941.8 1531.3L944 1532.4L946.2 1533.2L948.8 1533.8L951.5 1533.8L954.4 1533.4L957.2 1532.6L960 1531.6L962.7 1530.6L965.3 1529.4L967.7 1528.4L969.8 1527.4L971.4 1526.7L972.7 1526.2L969.6 1518.3L968.1 1518.8L966.3 1519.6L964.2 1520.6L961.9 1521.7L959.4 1522.7L957 1523.7L954.7 1524.5L952.6 1525L950.9 1525.3L949.7 1525.3L948.6 1525L947.3 1524.6L946.1 1524L944.8 1523.1L943.6 1522.1L942.4 1521L941.2 1519.7L940.2 1518.3L939.2 1516.9L938.4 1515.5L937.8 1514L937.3 1512.1L936.8 1509.7L936.4 1507.2L936.1 1504.6L935.9 1502L935.7 1499.5L935.5 1497.2L935.4 1495.2L935.2 1493.7Z" fill="#a8c4a7" stroke="#2f2f2f" stroke-width="1.1" stroke-linejoin="round"/><path d="M1160.1 1542.8L1161.2 1543.9L1162.7 1545.5L1164.7 1547.6L1166.9 1550.1L1169.4 1552.6L1172.1 1555.1L1175 1557.5L1178.2 1559.4L1181.7 1560.8L1185.8 1561.1L1189.7 1560L1193.1 1558.1L1196.3 1555.6L1199.4 1552.8L1202.4 1549.7L1205.2 1546.7L1207.7 1543.8L1209.9 1541.2L1211.7 1539.2L1213.1 1537.8L1206.2 1531L1204.6 1532.6L1202.6 1534.8L1200.4 1537.4L1197.9 1540.2L1195.3 1543.1L1192.6 1545.8L1190 1548.2L1187.7 1550L1185.8 1551.1L1184.8 1551.5L1184 1551.4L1182.6 1550.8L1180.7 1549.5L1178.5 1547.8L1176.2 1545.7L1174 1543.4L1171.9 1541.1L1169.9 1538.9L1168.1 1537L1166.7 1535.7Z" fill="#a8c4a7" stroke="#2f2f2f" stroke-width="1.1" stroke-linejoin="round"/><path d="M1219.7 1455.4L1221.3 1456.3L1223.5 1457.4L1226.1 1458.7L1228.9 1460.1L1231.8 1461.6L1234.7 1463.2L1237.4 1464.8L1239.8 1466.4L1241.7 1467.8L1242.9 1469L1243.5 1470L1244 1471.1L1244.4 1472.5L1244.6 1474L1244.6 1475.7L1244.6 1477.4L1244.5 1479L1244.3 1480.7L1244.3 1482.2L1244.3 1483.5L1252.8 1483.1L1252.8 1482.3L1252.8 1481.2L1253 1479.6L1253.1 1477.8L1253.1 1475.7L1253 1473.4L1252.7 1470.9L1252.1 1468.4L1251 1465.9L1249.4 1463.5L1247.2 1461.4L1244.7 1459.5L1241.9 1457.6L1238.9 1455.8L1235.8 1454.1L1232.8 1452.5L1229.9 1451.1L1227.4 1449.8L1225.3 1448.7L1223.9 1447.9Z" fill="#a8c4a7" stroke="#2f2f2f" stroke-width="1.1" stroke-linejoin="round"/><path d="M986.4 1491.7L989.1 1491.2L991.8 1490.7L994.5 1490.1L997.1 1489.6L999.8 1489L1002.5 1488.5L1005.2 1488L1007.8 1487.4L1010.5 1486.9L1013.2 1486.4L1011.8 1479.2L1009.1 1479.7L1006.4 1480.3L1003.7 1480.8L1001.1 1481.4L998.4 1481.9L995.7 1482.4L993 1483L990.4 1483.5L987.7 1484L985 1484.6Z" fill="#a8c4a7" stroke="#2f2f2f" stroke-width="1.1" stroke-linejoin="round"/></g>
<g opacity="0.93"><path d="M1050.4 1600C1050.4 1602.2 1048.7 1608.8 1050.4 1613.2C1052 1617.6 1056.4 1623.6 1060.2 1626.3C1064.1 1629.1 1069.6 1627.7 1073.4 1629.6C1077.3 1631.6 1081.7 1636.5 1083.3 1637.9" stroke="#2f2f2f" stroke-width="4.3" fill="none" stroke-linecap="round" stroke-linejoin="round"/><path d="M1050.4 1600C1050.4 1602.2 1048.7 1608.8 1050.4 1613.2C1052 1617.6 1056.4 1623.6 1060.2 1626.3C1064.1 1629.1 1069.6 1627.7 1073.4 1629.6C1077.3 1631.6 1081.7 1636.5 1083.3 1637.9" stroke="#b6b9db" stroke-width="2.3" fill="none" stroke-linecap="round" stroke-linejoin="round"/><path d="M1060.2 1624.7C1064.4 1624.1 1078.1 1623.3 1084.9 1621.4C1091.8 1619.5 1095.9 1614.8 1101.4 1613.2C1106.9 1611.5 1113.5 1610.4 1117.9 1611.5C1122.3 1612.6 1125.8 1615.6 1127.7 1619.8C1129.7 1623.9 1131.6 1631.3 1129.4 1636.2C1127.2 1641.2 1117 1645 1114.6 1649.4C1112.1 1653.8 1112.4 1658.7 1114.6 1662.6C1116.8 1666.4 1125.6 1670.8 1127.7 1672.4" stroke="#2f2f2f" stroke-width="4.3" fill="none" stroke-linecap="round" stroke-linejoin="round"/><path d="M1060.2 1624.7C1064.4 1624.1 1078.1 1623.3 1084.9 1621.4C1091.8 1619.5 1095.9 1614.8 1101.4 1613.2C1106.9 1611.5 1113.5 1610.4 1117.9 1611.5C1122.3 1612.6 1125.8 1615.6 1127.7 1619.8C1129.7 1623.9 1131.6 1631.3 1129.4 1636.2C1127.2 1641.2 1117 1645 1114.6 1649.4C1112.1 1653.8 1112.4 1658.7 1114.6 1662.6C1116.8 1666.4 1125.6 1670.8 1127.7 1672.4" stroke="#b6b9db" stroke-width="2.3" fill="none" stroke-linecap="round" stroke-linejoin="round"/><path d="M1099.8 1623C1100.6 1624.7 1104.4 1629.9 1104.7 1632.9C1105 1635.9 1104.2 1638.1 1101.4 1641.2C1098.7 1644.2 1091 1646.9 1088.2 1651C1085.5 1655.2 1084.1 1660.6 1084.9 1665.9C1085.8 1671.1 1089.3 1675.7 1093.2 1682.3C1097 1688.9 1105.5 1701.5 1108 1705.4" stroke="#2f2f2f" stroke-width="4.3" fill="none" stroke-linecap="round" stroke-linejoin="round"/><path d="M1099.8 1623C1100.6 1624.7 1104.4 1629.9 1104.7 1632.9C1105 1635.9 1104.2 1638.1 1101.4 1641.2C1098.7 1644.2 1091 1646.9 1088.2 1651C1085.5 1655.2 1084.1 1660.6 1084.9 1665.9C1085.8 1671.1 1089.3 1675.7 1093.2 1682.3C1097 1688.9 1105.5 1701.5 1108 1705.4" stroke="#b6b9db" stroke-width="2.3" fill="none" stroke-linecap="round" stroke-linejoin="round"/><path d="M1106.3 1641.2C1104.2 1643.9 1094.8 1652.1 1093.2 1657.6C1091.5 1663.1 1093.2 1669.1 1096.5 1674.1C1099.8 1679 1110.2 1685.1 1112.9 1687.3" stroke="#2f2f2f" stroke-width="4.3" fill="none" stroke-linecap="round" stroke-linejoin="round"/><path d="M1106.3 1641.2C1104.2 1643.9 1094.8 1652.1 1093.2 1657.6C1091.5 1663.1 1093.2 1669.1 1096.5 1674.1C1099.8 1679 1110.2 1685.1 1112.9 1687.3" stroke="#b6b9db" stroke-width="2.3" fill="none" stroke-linecap="round" stroke-linejoin="round"/><path d="M994.4 1641.2C995.5 1639.8 996.9 1634.3 1001 1632.9C1005.1 1631.6 1013.6 1631.6 1019.1 1632.9C1024.6 1634.3 1031.4 1639.8 1033.9 1641.2" stroke="#2f2f2f" stroke-width="4.3" fill="none" stroke-linecap="round" stroke-linejoin="round"/><path d="M994.4 1641.2C995.5 1639.8 996.9 1634.3 1001 1632.9C1005.1 1631.6 1013.6 1631.6 1019.1 1632.9C1024.6 1634.3 1031.4 1639.8 1033.9 1641.2" stroke="#b6b9db" stroke-width="2.3" fill="none" stroke-linecap="round" stroke-linejoin="round"/><path d="M994.4 1641.2C992.2 1643.4 983.1 1649.7 981.2 1654.3C979.3 1659 980.7 1666.1 982.9 1669.1C985.1 1672.2 992.5 1671.9 994.4 1672.4" stroke="#2f2f2f" stroke-width="4.3" fill="none" stroke-linecap="round" stroke-linejoin="round"/><path d="M994.4 1641.2C992.2 1643.4 983.1 1649.7 981.2 1654.3C979.3 1659 980.7 1666.1 982.9 1669.1C985.1 1672.2 992.5 1671.9 994.4 1672.4" stroke="#b6b9db" stroke-width="2.3" fill="none" stroke-linecap="round" stroke-linejoin="round"/><path d="M954.9 1794.3C956 1792.9 958.2 1788.2 961.5 1786C964.8 1783.8 971.9 1780.6 974.6 1781.1C977.4 1781.7 976.3 1788 977.9 1789.3C979.6 1790.7 981.5 1790.4 984.5 1789.3C987.5 1788.2 992.2 1783.6 996 1782.7C999.9 1781.9 1005.1 1782.5 1007.6 1784.4C1010 1786.3 1008.9 1792.1 1010.9 1794.3C1012.8 1796.5 1016.6 1798.7 1019.1 1797.6C1021.6 1796.5 1024.8 1793.2 1025.7 1787.7C1026.5 1782.2 1024.3 1768.5 1024 1764.6" stroke="#2f2f2f" stroke-width="4.3" fill="none" stroke-linecap="round" stroke-linejoin="round"/><path d="M954.9 1794.3C956 1792.9 958.2 1788.2 961.5 1786C964.8 1783.8 971.9 1780.6 974.6 1781.1C977.4 1781.7 976.3 1788 977.9 1789.3C979.6 1790.7 981.5 1790.4 984.5 1789.3C987.5 1788.2 992.2 1783.6 996 1782.7C999.9 1781.9 1005.1 1782.5 1007.6 1784.4C1010 1786.3 1008.9 1792.1 1010.9 1794.3C1012.8 1796.5 1016.6 1798.7 1019.1 1797.6C1021.6 1796.5 1024.8 1793.2 1025.7 1787.7C1026.5 1782.2 1024.3 1768.5 1024 1764.6" stroke="#b6b9db" stroke-width="2.3" fill="none" stroke-linecap="round" stroke-linejoin="round"/><path d="M969.7 1819C970.2 1816.5 970.2 1806.3 973 1804.2C975.7 1802 982.3 1803.3 986.2 1805.8C990 1808.3 994.1 1812.4 996 1819C998 1825.6 997.4 1840.9 997.7 1845.3" stroke="#2f2f2f" stroke-width="4.3" fill="none" stroke-linecap="round" stroke-linejoin="round"/><path d="M969.7 1819C970.2 1816.5 970.2 1806.3 973 1804.2C975.7 1802 982.3 1803.3 986.2 1805.8C990 1808.3 994.1 1812.4 996 1819C998 1825.6 997.4 1840.9 997.7 1845.3" stroke="#b6b9db" stroke-width="2.3" fill="none" stroke-linecap="round" stroke-linejoin="round"/><path d="M992.7 1866.7C993 1865.3 991.4 1860.4 994.4 1858.5C997.4 1856.6 1005.1 1856 1010.9 1855.2C1016.6 1854.4 1024.8 1856.8 1029 1853.5C1033.1 1850.3 1033.4 1840.1 1035.6 1835.4C1037.7 1830.8 1041 1827.2 1042.1 1825.6" stroke="#2f2f2f" stroke-width="4.3" fill="none" stroke-linecap="round" stroke-linejoin="round"/><path d="M992.7 1866.7C993 1865.3 991.4 1860.4 994.4 1858.5C997.4 1856.6 1005.1 1856 1010.9 1855.2C1016.6 1854.4 1024.8 1856.8 1029 1853.5C1033.1 1850.3 1033.4 1840.1 1035.6 1835.4C1037.7 1830.8 1041 1827.2 1042.1 1825.6" stroke="#b6b9db" stroke-width="2.3" fill="none" stroke-linecap="round" stroke-linejoin="round"/><path d="M994.4 1838.7C995.2 1836.8 996.6 1830.8 999.3 1827.2C1002.1 1823.6 1007.6 1818.4 1010.9 1817.3C1014.1 1816.2 1017.7 1820.1 1019.1 1820.6" stroke="#2f2f2f" stroke-width="4.3" fill="none" stroke-linecap="round" stroke-linejoin="round"/><path d="M994.4 1838.7C995.2 1836.8 996.6 1830.8 999.3 1827.2C1002.1 1823.6 1007.6 1818.4 1010.9 1817.3C1014.1 1816.2 1017.7 1820.1 1019.1 1820.6" stroke="#b6b9db" stroke-width="2.3" fill="none" stroke-linecap="round" stroke-linejoin="round"/><path d="M1053.7 1921C1056.4 1922.7 1063.5 1930.6 1070.1 1930.9C1076.7 1931.2 1087.7 1926.3 1093.2 1922.7C1098.7 1919.1 1101.4 1911.7 1103.1 1909.5" stroke="#2f2f2f" stroke-width="4.3" fill="none" stroke-linecap="round" stroke-linejoin="round"/><path d="M1053.7 1921C1056.4 1922.7 1063.5 1930.6 1070.1 1930.9C1076.7 1931.2 1087.7 1926.3 1093.2 1922.7C1098.7 1919.1 1101.4 1911.7 1103.1 1909.5" stroke="#b6b9db" stroke-width="2.3" fill="none" stroke-linecap="round" stroke-linejoin="round"/><path d="M1048.7 1748.2C1048.2 1745.2 1044.9 1735.6 1045.4 1730.1C1046 1724.6 1048.2 1718.5 1052 1715.2C1055.9 1712 1063.8 1710.3 1068.5 1710.3C1073.1 1710.3 1078.1 1711.1 1080 1715.2C1081.9 1719.4 1081.1 1730.6 1080 1735C1078.9 1739.4 1074 1738 1073.4 1741.6C1072.9 1745.2 1074.2 1753.1 1076.7 1756.4C1079.2 1759.7 1086.3 1760 1088.2 1761.3C1090.2 1762.7 1088.2 1764.1 1088.2 1764.6" stroke="#2f2f2f" stroke-width="4.3" fill="none" stroke-linecap="round" stroke-linejoin="round"/><path d="M1048.7 1748.2C1048.2 1745.2 1044.9 1735.6 1045.4 1730.1C1046 1724.6 1048.2 1718.5 1052 1715.2C1055.9 1712 1063.8 1710.3 1068.5 1710.3C1073.1 1710.3 1078.1 1711.1 1080 1715.2C1081.9 1719.4 1081.1 1730.6 1080 1735C1078.9 1739.4 1074 1738 1073.4 1741.6C1072.9 1745.2 1074.2 1753.1 1076.7 1756.4C1079.2 1759.7 1086.3 1760 1088.2 1761.3C1090.2 1762.7 1088.2 1764.1 1088.2 1764.6" stroke="#b6b9db" stroke-width="2.3" fill="none" stroke-linecap="round" stroke-linejoin="round"/><path d="M1129.4 1774.5C1129.1 1777.8 1126.1 1790.2 1127.7 1794.3C1129.4 1798.4 1134.9 1798.7 1139.3 1799.2C1143.7 1799.8 1150.8 1800 1154.1 1797.6C1157.4 1795.1 1159.9 1790.2 1159 1784.4C1158.2 1778.6 1150.8 1766.6 1149.2 1763" stroke="#2f2f2f" stroke-width="4.3" fill="none" stroke-linecap="round" stroke-linejoin="round"/><path d="M1129.4 1774.5C1129.1 1777.8 1126.1 1790.2 1127.7 1794.3C1129.4 1798.4 1134.9 1798.7 1139.3 1799.2C1143.7 1799.8 1150.8 1800 1154.1 1797.6C1157.4 1795.1 1159.9 1790.2 1159 1784.4C1158.2 1778.6 1150.8 1766.6 1149.2 1763" stroke="#b6b9db" stroke-width="2.3" fill="none" stroke-linecap="round" stroke-linejoin="round"/><path d="M998.1 1663.1L998.4 1665.4L999.6 1667.7L1001.6 1670L1004.3 1672.2L1007.6 1674.4L1011.4 1676.3L1015.3 1678.1L1019.2 1679.8L1023 1681.2L1026.3 1682.4L1029.1 1683.5L1031.3 1684.4L1032.5 1685.1L1033 1685.8L1033.1 1684.2L1032.7 1681.9L1031.5 1679.5L1029.5 1677.2L1026.8 1675L1023.5 1672.9L1019.8 1670.9L1015.8 1669.1L1011.9 1667.5L1008.2 1666.1L1004.8 1664.8L1002 1663.8L999.9 1662.9L998.6 1662.1L998.2 1661.4ZM995.6 1704.1L995.9 1706.5L997.1 1708.8L999.1 1711.1L1001.8 1713.3L1005.1 1715.4L1008.9 1717.4L1012.8 1719.2L1016.7 1720.8L1020.5 1722.3L1023.8 1723.5L1026.6 1724.6L1028.7 1725.5L1030 1726.2L1030.5 1726.9L1030.6 1725.3L1030.2 1722.9L1029 1720.6L1027 1718.3L1024.3 1716.1L1021 1714L1017.3 1712L1013.3 1710.2L1009.4 1708.6L1005.6 1707.1L1002.3 1705.9L999.5 1704.8L997.4 1704L996.1 1703.2L995.7 1702.5ZM993.1 1745.2L993.4 1747.5L994.6 1749.9L996.6 1752.2L999.3 1754.4L1002.6 1756.5L1006.3 1758.5L1010.3 1760.3L1014.2 1761.9L1018 1763.4L1021.3 1764.6L1024.1 1765.6L1026.2 1766.5L1027.5 1767.3L1028 1768L1028.1 1766.3L1027.7 1764L1026.5 1761.7L1024.5 1759.4L1021.8 1757.2L1018.5 1755L1014.8 1753.1L1010.8 1751.3L1006.9 1749.6L1003.1 1748.2L999.8 1747L997 1745.9L994.9 1745L993.6 1744.3L993.2 1743.6Z" fill="#9698b8" stroke="#2f2f2f" stroke-width="1" stroke-linejoin="round" opacity="0.9"/><path d="M1035.5 1644.7L1034.9 1647L1033.4 1649.2L1031.1 1651.2L1028.1 1653.1L1024.6 1654.8L1020.7 1656.3L1016.5 1657.6L1012.4 1658.7L1008.5 1659.7L1005 1660.5L1002.1 1661.2L999.9 1661.8L998.6 1662.4L998.1 1663.1L998.2 1661.4L998.8 1659.2L1000.2 1657L1002.5 1655L1005.5 1653.1L1009 1651.4L1013 1649.9L1017.1 1648.6L1021.2 1647.4L1025.1 1646.5L1028.6 1645.7L1031.5 1644.9L1033.7 1644.3L1035.1 1643.7L1035.6 1643.1ZM1033 1685.8L1032.4 1688.1L1030.9 1690.2L1028.6 1692.3L1025.6 1694.2L1022.1 1695.9L1018.2 1697.4L1014 1698.7L1009.9 1699.8L1006 1700.8L1002.5 1701.6L999.6 1702.3L997.4 1702.9L996 1703.5L995.6 1704.1L995.7 1702.5L996.2 1700.3L997.7 1698.1L1000 1696L1003 1694.2L1006.5 1692.5L1010.5 1691L1014.6 1689.6L1018.7 1688.5L1022.6 1687.6L1026.1 1686.7L1029 1686L1031.2 1685.4L1032.6 1684.8L1033.1 1684.2ZM1030.5 1726.9L1029.9 1729.2L1028.4 1731.3L1026.1 1733.4L1023.1 1735.2L1019.6 1736.9L1015.6 1738.4L1011.5 1739.8L1007.4 1740.9L1003.5 1741.9L1000 1742.7L997.1 1743.4L994.9 1744L993.5 1744.6L993.1 1745.2L993.2 1743.6L993.7 1741.3L995.2 1739.2L997.5 1737.1L1000.5 1735.2L1004 1733.5L1008 1732L1012.1 1730.7L1016.2 1729.6L1020.1 1728.6L1023.6 1727.8L1026.5 1727.1L1028.7 1726.5L1030.1 1725.9L1030.6 1725.3Z" fill="#abadce" stroke="#2f2f2f" stroke-width="1.1" stroke-linejoin="round"/><path d="M1057.5 1658L1057.9 1660.2L1059.2 1662.3L1061.2 1664.3L1063.9 1666.2L1067 1667.9L1070.6 1669.4L1074.3 1670.8L1078 1671.9L1081.5 1672.9L1084.6 1673.8L1087.2 1674.5L1089.2 1675.1L1090.4 1675.6L1090.9 1676.1L1090.8 1674.5L1090.4 1672.3L1089.1 1670.2L1087.1 1668.2L1084.4 1666.3L1081.2 1664.6L1077.7 1663.1L1074 1661.7L1070.3 1660.6L1066.8 1659.6L1063.7 1658.7L1061.1 1658L1059.1 1657.5L1057.8 1656.9L1057.4 1656.4ZM1058.4 1695.9L1058.9 1698.1L1060.2 1700.2L1062.2 1702.2L1064.8 1704L1068 1705.7L1071.5 1707.3L1075.2 1708.6L1078.9 1709.8L1082.4 1710.8L1085.6 1711.6L1088.2 1712.3L1090.2 1712.9L1091.4 1713.5L1091.8 1714L1091.8 1712.3L1091.3 1710.2L1090 1708.1L1088 1706.1L1085.4 1704.2L1082.2 1702.5L1078.7 1700.9L1075 1699.6L1071.3 1698.4L1067.8 1697.4L1064.6 1696.6L1062 1695.9L1060 1695.3L1058.8 1694.8L1058.4 1694.3ZM1059.4 1733.7L1059.9 1735.9L1061.1 1738L1063.1 1740L1065.8 1741.9L1069 1743.6L1072.5 1745.1L1076.2 1746.5L1079.9 1747.7L1083.4 1748.6L1086.5 1749.5L1089.2 1750.2L1091.1 1750.8L1092.4 1751.3L1092.8 1751.8L1092.7 1750.2L1092.3 1748L1091 1745.9L1089 1743.9L1086.3 1742L1083.2 1740.3L1079.7 1738.8L1076 1737.4L1072.3 1736.3L1068.8 1735.3L1065.6 1734.5L1063 1733.8L1061 1733.2L1059.8 1732.6L1059.4 1732.1ZM1060.4 1771.6L1060.8 1773.8L1062.1 1775.9L1064.1 1777.9L1066.8 1779.7L1069.9 1781.5L1073.5 1783L1077.2 1784.3L1080.8 1785.5L1084.4 1786.5L1087.5 1787.3L1090.1 1788L1092.1 1788.6L1093.3 1789.2L1093.8 1789.7L1093.7 1788.1L1093.2 1785.9L1092 1783.8L1090 1781.8L1087.3 1779.9L1084.1 1778.2L1080.6 1776.6L1076.9 1775.3L1073.2 1774.1L1069.7 1773.1L1066.6 1772.3L1063.9 1771.6L1062 1771L1060.7 1770.5L1060.3 1770ZM1061.3 1809.4L1061.8 1811.6L1063.1 1813.7L1065.1 1815.7L1067.7 1817.6L1070.9 1819.3L1074.4 1820.9L1078.1 1822.2L1081.8 1823.4L1085.3 1824.4L1088.5 1825.2L1091.1 1825.9L1093.1 1826.5L1094.3 1827L1094.7 1827.5L1094.7 1825.9L1094.2 1823.7L1092.9 1821.6L1090.9 1819.6L1088.3 1817.8L1085.1 1816L1081.6 1814.5L1077.9 1813.2L1074.2 1812L1070.7 1811L1067.5 1810.2L1064.9 1809.5L1062.9 1808.9L1061.7 1808.3L1061.3 1807.8ZM1062.3 1847.3L1062.8 1849.5L1064 1851.6L1066 1853.6L1068.7 1855.5L1071.9 1857.2L1075.4 1858.7L1079.1 1860.1L1082.8 1861.2L1086.3 1862.2L1089.4 1863L1092 1863.7L1094 1864.3L1095.3 1864.9L1095.7 1865.4L1095.6 1863.8L1095.2 1861.6L1093.9 1859.5L1091.9 1857.5L1089.2 1855.6L1086.1 1853.9L1082.5 1852.4L1078.8 1851L1075.2 1849.8L1071.6 1848.9L1068.5 1848L1065.9 1847.3L1063.9 1846.7L1062.7 1846.2L1062.2 1845.7Z" fill="#9698b8" stroke="#2f2f2f" stroke-width="1" stroke-linejoin="round" opacity="0.9"/><path d="M1089.9 1638.3L1089.5 1640.5L1088.4 1642.6L1086.5 1644.7L1083.9 1646.7L1080.8 1648.6L1077.4 1650.3L1073.8 1651.9L1070.1 1653.2L1066.7 1654.4L1063.6 1655.4L1061 1656.2L1059.1 1656.9L1057.9 1657.5L1057.5 1658L1057.4 1656.4L1057.8 1654.2L1058.9 1652L1060.8 1649.9L1063.4 1647.9L1066.5 1646.1L1069.9 1644.3L1073.5 1642.8L1077.2 1641.5L1080.6 1640.3L1083.7 1639.3L1086.3 1638.5L1088.3 1637.8L1089.5 1637.2L1089.9 1636.6ZM1090.9 1676.1L1090.5 1678.3L1089.3 1680.5L1087.4 1682.6L1084.9 1684.6L1081.8 1686.5L1078.4 1688.2L1074.7 1689.7L1071.1 1691.1L1067.7 1692.2L1064.6 1693.2L1062 1694L1060 1694.7L1058.8 1695.3L1058.4 1695.9L1058.4 1694.3L1058.7 1692.1L1059.9 1689.9L1061.8 1687.8L1064.4 1685.8L1067.4 1683.9L1070.9 1682.2L1074.5 1680.7L1078.1 1679.3L1081.6 1678.1L1084.7 1677.2L1087.3 1676.3L1089.2 1675.6L1090.4 1675L1090.8 1674.5ZM1091.8 1714L1091.5 1716.2L1090.3 1718.3L1088.4 1720.4L1085.8 1722.4L1082.8 1724.3L1079.3 1726L1075.7 1727.6L1072.1 1728.9L1068.6 1730.1L1065.5 1731.1L1062.9 1731.9L1061 1732.6L1059.8 1733.2L1059.4 1733.7L1059.4 1732.1L1059.7 1729.9L1060.9 1727.8L1062.8 1725.6L1065.3 1723.6L1068.4 1721.8L1071.8 1720.1L1075.5 1718.5L1079.1 1717.2L1082.6 1716L1085.7 1715L1088.2 1714.2L1090.2 1713.5L1091.4 1712.9L1091.8 1712.3ZM1092.8 1751.8L1092.4 1754L1091.3 1756.2L1089.4 1758.3L1086.8 1760.3L1083.7 1762.2L1080.3 1763.9L1076.7 1765.4L1073 1766.8L1069.6 1767.9L1066.5 1768.9L1063.9 1769.8L1062 1770.5L1060.8 1771.1L1060.4 1771.6L1060.3 1770L1060.7 1767.8L1061.8 1765.6L1063.7 1763.5L1066.3 1761.5L1069.4 1759.6L1072.8 1757.9L1076.4 1756.4L1080.1 1755L1083.5 1753.9L1086.6 1752.9L1089.2 1752L1091.1 1751.3L1092.4 1750.7L1092.7 1750.2ZM1093.8 1789.7L1093.4 1791.9L1092.2 1794L1090.3 1796.1L1087.8 1798.1L1084.7 1800L1081.3 1801.7L1077.6 1803.3L1074 1804.6L1070.6 1805.8L1067.5 1806.8L1064.9 1807.6L1062.9 1808.3L1061.7 1808.9L1061.3 1809.4L1061.3 1807.8L1061.6 1805.6L1062.8 1803.5L1064.7 1801.4L1067.3 1799.4L1070.3 1797.5L1073.8 1795.8L1077.4 1794.2L1081 1792.9L1084.5 1791.7L1087.6 1790.7L1090.2 1789.9L1092.1 1789.2L1093.3 1788.6L1093.7 1788.1ZM1094.7 1827.5L1094.4 1829.7L1093.2 1831.9L1091.3 1834L1088.7 1836L1085.7 1837.9L1082.2 1839.6L1078.6 1841.1L1075 1842.5L1071.5 1843.6L1068.4 1844.6L1065.8 1845.5L1063.9 1846.2L1062.7 1846.8L1062.3 1847.3L1062.2 1845.7L1062.6 1843.5L1063.8 1841.3L1065.7 1839.2L1068.2 1837.2L1071.3 1835.3L1074.7 1833.6L1078.4 1832.1L1082 1830.7L1085.4 1829.6L1088.5 1828.6L1091.1 1827.7L1093.1 1827L1094.3 1826.4L1094.7 1825.9ZM1095.7 1865.4L1095.3 1867.6L1094.2 1869.7L1092.3 1871.9L1089.7 1873.9L1086.6 1875.7L1083.2 1877.4L1079.6 1879L1075.9 1880.3L1072.5 1881.5L1069.4 1882.5L1066.8 1883.3L1064.9 1884L1063.6 1884.6L1063.2 1885.2L1063.2 1883.5L1063.6 1881.3L1064.7 1879.2L1066.6 1877.1L1069.2 1875.1L1072.3 1873.2L1075.7 1871.5L1079.3 1869.9L1083 1868.6L1086.4 1867.4L1089.5 1866.4L1092.1 1865.6L1094 1864.9L1095.2 1864.3L1095.6 1863.8Z" fill="#abadce" stroke="#2f2f2f" stroke-width="1.1" stroke-linejoin="round"/><path d="M1087.4 1872L1087.6 1868.5L1087.8 1863.9L1088.1 1858.5L1088.4 1852.4L1088.8 1845.9L1089.2 1839.2L1089.5 1832.5L1089.9 1826L1090.3 1819.9L1090.7 1814.4L1091.1 1809.3L1091.5 1804.1L1092 1798.8L1092.5 1793.7L1092.9 1788.8L1093.4 1784.1L1093.8 1779.8L1094.2 1776L1094.5 1772.7L1094.8 1770.1L1083.3 1769L1083.1 1771.6L1082.8 1774.8L1082.4 1778.7L1081.9 1783L1081.5 1787.6L1081 1792.6L1080.5 1797.8L1080 1803.1L1079.6 1808.4L1079.2 1813.6L1078.8 1819.1L1078.4 1825.3L1078 1831.8L1077.7 1838.6L1077.3 1845.3L1076.9 1851.8L1076.6 1857.9L1076.3 1863.3L1076.1 1867.9L1075.9 1871.3Z" fill="#abadce" stroke="#2f2f2f" stroke-width="1.1" stroke-linejoin="round"/><path d="M1103.1 1705.5L1103.2 1709L1103.3 1713.3L1103.4 1718.5L1103.6 1724.2L1103.8 1730.5L1104 1737.2L1104.2 1744L1104.3 1751L1104.5 1758L1104.7 1764.8L1104.9 1771.9L1105.1 1779.8L1105.2 1788.2L1105.4 1796.9L1105.6 1805.5L1105.8 1813.8L1106 1821.6L1106.1 1828L1102.7 1828L1111.3 1838.7L1119.4 1827.7L1116 1827.8L1115.9 1821.4L1115.7 1813.6L1115.5 1805.3L1115.3 1796.7L1115.1 1788L1114.9 1779.6L1114.7 1771.7L1114.6 1764.5L1114.4 1757.7L1114.2 1750.8L1114 1743.8L1113.8 1736.9L1113.6 1730.2L1113.5 1724L1113.3 1718.2L1113.2 1713L1113 1708.7L1112.9 1705.2Z" fill="#abadce" stroke="#2f2f2f" stroke-width="1.1" stroke-linejoin="round"/><path d="M1111.8 1688.1L1112.3 1690.7L1112.9 1694.1L1113.6 1698.2L1114.5 1702.7L1115.4 1707.5L1116.3 1712.6L1117.3 1717.8L1118.2 1722.9L1119.1 1727.9L1120 1732.5L1120.9 1737.2L1121.8 1742.1L1122.7 1747.3L1123.7 1752.5L1124.6 1757.5L1125.5 1762.4L1126.4 1766.9L1127.1 1770.9L1127.7 1774.3L1128.2 1777L1137.1 1775.3L1136.7 1772.7L1136 1769.3L1135.3 1765.3L1134.4 1760.8L1133.5 1755.9L1132.6 1750.8L1131.6 1745.6L1130.7 1740.5L1129.8 1735.5L1128.9 1730.9L1128 1726.2L1127.1 1721.3L1126.2 1716.2L1125.2 1711L1124.3 1705.9L1123.4 1701L1122.5 1696.5L1121.8 1692.5L1121.2 1689.1L1120.7 1686.4Z" fill="#abadce" stroke="#2f2f2f" stroke-width="1.1" stroke-linejoin="round"/><path d="M1125.4 1673.3L1126 1676.1L1126.7 1679.6L1127.7 1683.8L1128.7 1688.4L1129.8 1693.5L1130.9 1698.8L1132.1 1704.1L1133.2 1709.4L1134.3 1714.5L1135.2 1719.3L1136.2 1724.1L1137.1 1729.2L1138.1 1734.6L1139 1739.9L1140 1745.2L1140.8 1750.2L1141.6 1754.9L1142.4 1759.1L1143 1762.6L1143.5 1765.4L1151.6 1763.9L1151.1 1761.2L1150.5 1757.7L1149.7 1753.5L1148.9 1748.8L1148.1 1743.8L1147.1 1738.5L1146.2 1733.1L1145.2 1727.8L1144.2 1722.6L1143.3 1717.7L1142.3 1712.9L1141.3 1707.7L1140.1 1702.4L1139 1697L1137.8 1691.7L1136.7 1686.7L1135.7 1682L1134.8 1677.8L1134 1674.3L1133.4 1671.6Z" fill="#abadce" stroke="#2f2f2f" stroke-width="1.1" stroke-linejoin="round"/><path d="M1076.4 1777.7L1075.2 1779L1073.6 1780.7L1071.8 1782.7L1069.7 1784.9L1067.5 1787.3L1065.2 1789.7L1062.9 1792.2L1060.7 1794.7L1058.5 1797L1056.6 1799.2L1054.7 1801.3L1052.8 1803.5L1050.8 1805.7L1048.9 1807.9L1047.1 1810L1044.5 1807.7L1043.8 1821.4L1057.2 1818.7L1054.6 1816.4L1056.4 1814.4L1058.3 1812.2L1060.2 1810L1062.1 1807.9L1063.9 1805.8L1065.8 1803.7L1067.9 1801.4L1070.2 1798.9L1072.5 1796.4L1074.8 1794L1077 1791.6L1079 1789.4L1080.9 1787.4L1082.4 1785.7L1083.6 1784.5Z" fill="#abadce" stroke="#2f2f2f" stroke-width="1.1" stroke-linejoin="round"/><path d="M1108.9 1866.3L1110 1867.9L1111.2 1869.5L1112.3 1871.2L1113.5 1872.8L1114.6 1874.5L1115.8 1876.1L1117 1877.8L1118.1 1879.4L1119.3 1881.1L1120.4 1882.7L1128.5 1877.1L1127.4 1875.4L1126.2 1873.8L1125 1872.1L1123.9 1870.5L1122.7 1868.8L1121.6 1867.2L1120.4 1865.5L1119.3 1863.9L1118.1 1862.2L1117 1860.6Z" fill="#abadce" stroke="#2f2f2f" stroke-width="1.1" stroke-linejoin="round"/></g>
<g opacity="0.93"><path d="M182.2 2114.1C182.8 2112.5 182.5 2106.7 186 2104.5C189.6 2102.2 199.9 2099.3 203.4 2100.6C207 2101.9 207.3 2108.3 207.3 2112.2C207.3 2116 203.1 2118 203.4 2123.8C203.8 2129.6 209.9 2141.5 209.2 2147C208.6 2152.4 203.1 2151.8 199.6 2156.6C196 2161.5 188.9 2170.8 188 2176C187 2181.1 195.7 2185 193.8 2187.6C191.8 2190.1 179.3 2190.8 176.4 2191.4" stroke="#2f2f2f" stroke-width="4.3" fill="none" stroke-linecap="round" stroke-linejoin="round"/><path d="M182.2 2114.1C182.8 2112.5 182.5 2106.7 186 2104.5C189.6 2102.2 199.9 2099.3 203.4 2100.6C207 2101.9 207.3 2108.3 207.3 2112.2C207.3 2116 203.1 2118 203.4 2123.8C203.8 2129.6 209.9 2141.5 209.2 2147C208.6 2152.4 203.1 2151.8 199.6 2156.6C196 2161.5 188.9 2170.8 188 2176C187 2181.1 195.7 2185 193.8 2187.6C191.8 2190.1 179.3 2190.8 176.4 2191.4" stroke="#dcb4b5" stroke-width="2.3" fill="none" stroke-linecap="round" stroke-linejoin="round"/><path d="M209.2 2098.7C211.5 2098.7 218.3 2099 222.8 2098.7C227.3 2098.3 231.1 2097.4 236.3 2096.7C241.5 2096.1 248.9 2095.4 253.7 2094.8C258.5 2094.1 263.4 2093.2 265.3 2092.9" stroke="#2f2f2f" stroke-width="4.3" fill="none" stroke-linecap="round" stroke-linejoin="round"/><path d="M209.2 2098.7C211.5 2098.7 218.3 2099 222.8 2098.7C227.3 2098.3 231.1 2097.4 236.3 2096.7C241.5 2096.1 248.9 2095.4 253.7 2094.8C258.5 2094.1 263.4 2093.2 265.3 2092.9" stroke="#dcb4b5" stroke-width="2.3" fill="none" stroke-linecap="round" stroke-linejoin="round"/><path d="M215 2098.7C214.4 2099.9 210.9 2104.1 211.2 2106.4C211.5 2108.6 214.7 2109.6 217 2112.2C219.2 2114.8 223.1 2117.7 224.7 2121.8C226.3 2126 227 2133.4 226.6 2137.3C226.3 2141.2 223.4 2143.8 222.8 2145" stroke="#2f2f2f" stroke-width="4.3" fill="none" stroke-linecap="round" stroke-linejoin="round"/><path d="M215 2098.7C214.4 2099.9 210.9 2104.1 211.2 2106.4C211.5 2108.6 214.7 2109.6 217 2112.2C219.2 2114.8 223.1 2117.7 224.7 2121.8C226.3 2126 227 2133.4 226.6 2137.3C226.3 2141.2 223.4 2143.8 222.8 2145" stroke="#dcb4b5" stroke-width="2.3" fill="none" stroke-linecap="round" stroke-linejoin="round"/><path d="M315.5 2106.4C315.9 2108.3 316.8 2112.8 317.5 2118C318.1 2123.1 318.8 2130.5 319.4 2137.3C320.1 2144.1 322 2153.1 321.3 2158.6C320.7 2164 316.5 2168.2 315.5 2170.2" stroke="#2f2f2f" stroke-width="4.3" fill="none" stroke-linecap="round" stroke-linejoin="round"/><path d="M315.5 2106.4C315.9 2108.3 316.8 2112.8 317.5 2118C318.1 2123.1 318.8 2130.5 319.4 2137.3C320.1 2144.1 322 2153.1 321.3 2158.6C320.7 2164 316.5 2168.2 315.5 2170.2" stroke="#dcb4b5" stroke-width="2.3" fill="none" stroke-linecap="round" stroke-linejoin="round"/><path d="M331 2116C330 2117.7 326.5 2121.2 325.2 2125.7C323.9 2130.2 322.3 2138 323.3 2143.1C324.2 2148.3 330 2152.4 331 2156.6C332 2160.8 329.4 2166.3 329.1 2168.2" stroke="#2f2f2f" stroke-width="4.3" fill="none" stroke-linecap="round" stroke-linejoin="round"/><path d="M331 2116C330 2117.7 326.5 2121.2 325.2 2125.7C323.9 2130.2 322.3 2138 323.3 2143.1C324.2 2148.3 330 2152.4 331 2156.6C332 2160.8 329.4 2166.3 329.1 2168.2" stroke="#dcb4b5" stroke-width="2.3" fill="none" stroke-linecap="round" stroke-linejoin="round"/><path d="M332.9 2145C334.9 2144.4 339.7 2140.5 344.5 2141.2C349.4 2141.8 358.4 2145.7 361.9 2148.9C365.5 2152.1 366.1 2156.6 365.8 2160.5C365.5 2164.4 361 2170.2 360 2172.1" stroke="#2f2f2f" stroke-width="4.3" fill="none" stroke-linecap="round" stroke-linejoin="round"/><path d="M332.9 2145C334.9 2144.4 339.7 2140.5 344.5 2141.2C349.4 2141.8 358.4 2145.7 361.9 2148.9C365.5 2152.1 366.1 2156.6 365.8 2160.5C365.5 2164.4 361 2170.2 360 2172.1" stroke="#dcb4b5" stroke-width="2.3" fill="none" stroke-linecap="round" stroke-linejoin="round"/><path d="M159 2218.5C158.7 2221.1 158.3 2228.1 157.1 2233.9C155.8 2239.7 153.8 2247.2 151.3 2253.3C148.7 2259.4 143.9 2265.8 141.6 2270.7C139.3 2275.5 138.4 2280.3 137.7 2282.3" stroke="#2f2f2f" stroke-width="4.3" fill="none" stroke-linecap="round" stroke-linejoin="round"/><path d="M159 2218.5C158.7 2221.1 158.3 2228.1 157.1 2233.9C155.8 2239.7 153.8 2247.2 151.3 2253.3C148.7 2259.4 143.9 2265.8 141.6 2270.7C139.3 2275.5 138.4 2280.3 137.7 2282.3" stroke="#dcb4b5" stroke-width="2.3" fill="none" stroke-linecap="round" stroke-linejoin="round"/><path d="M238.2 2230.1C234.7 2230.1 224.4 2229.4 217 2230.1C209.6 2230.7 199.6 2232 193.8 2233.9C188 2235.9 185.4 2238.5 182.2 2241.7C179 2244.9 175.1 2248.1 174.5 2253.3C173.8 2258.4 176.4 2269.4 178.3 2272.6C180.3 2275.8 184.8 2272.6 186 2272.6" stroke="#2f2f2f" stroke-width="4.3" fill="none" stroke-linecap="round" stroke-linejoin="round"/><path d="M238.2 2230.1C234.7 2230.1 224.4 2229.4 217 2230.1C209.6 2230.7 199.6 2232 193.8 2233.9C188 2235.9 185.4 2238.5 182.2 2241.7C179 2244.9 175.1 2248.1 174.5 2253.3C173.8 2258.4 176.4 2269.4 178.3 2272.6C180.3 2275.8 184.8 2272.6 186 2272.6" stroke="#dcb4b5" stroke-width="2.3" fill="none" stroke-linecap="round" stroke-linejoin="round"/><path d="M203.4 2257.1C203.1 2259.7 201.2 2266.8 201.5 2272.6C201.8 2278.4 203.8 2286.8 205.4 2291.9C207 2297.1 210.2 2301.6 211.2 2303.5" stroke="#2f2f2f" stroke-width="4.3" fill="none" stroke-linecap="round" stroke-linejoin="round"/><path d="M203.4 2257.1C203.1 2259.7 201.2 2266.8 201.5 2272.6C201.8 2278.4 203.8 2286.8 205.4 2291.9C207 2297.1 210.2 2301.6 211.2 2303.5" stroke="#dcb4b5" stroke-width="2.3" fill="none" stroke-linecap="round" stroke-linejoin="round"/><path d="M180.3 2330.6C182.8 2331.9 190.6 2336.7 195.7 2338.3C200.9 2339.9 208.6 2339.9 211.2 2340.2" stroke="#2f2f2f" stroke-width="4.3" fill="none" stroke-linecap="round" stroke-linejoin="round"/><path d="M180.3 2330.6C182.8 2331.9 190.6 2336.7 195.7 2338.3C200.9 2339.9 208.6 2339.9 211.2 2340.2" stroke="#dcb4b5" stroke-width="2.3" fill="none" stroke-linecap="round" stroke-linejoin="round"/><path d="M238.2 2336.4C235.3 2338.6 225.3 2344.4 220.8 2349.9C216.3 2355.4 212.8 2363.1 211.2 2369.2C209.6 2375.4 209.6 2381.5 211.2 2386.6C212.8 2391.8 217.6 2397.3 220.8 2400.2C224.1 2403.1 226.3 2404 230.5 2404C234.7 2404 240.2 2403.1 246 2400.2C251.8 2397.3 260.8 2393.1 265.3 2386.6C269.8 2380.2 271.1 2369.9 273 2361.5C275 2353.1 273.7 2342.2 276.9 2336.4C280.1 2330.6 289.8 2328.3 292.4 2326.7" stroke="#2f2f2f" stroke-width="4.3" fill="none" stroke-linecap="round" stroke-linejoin="round"/><path d="M238.2 2336.4C235.3 2338.6 225.3 2344.4 220.8 2349.9C216.3 2355.4 212.8 2363.1 211.2 2369.2C209.6 2375.4 209.6 2381.5 211.2 2386.6C212.8 2391.8 217.6 2397.3 220.8 2400.2C224.1 2403.1 226.3 2404 230.5 2404C234.7 2404 240.2 2403.1 246 2400.2C251.8 2397.3 260.8 2393.1 265.3 2386.6C269.8 2380.2 271.1 2369.9 273 2361.5C275 2353.1 273.7 2342.2 276.9 2336.4C280.1 2330.6 289.8 2328.3 292.4 2326.7" stroke="#dcb4b5" stroke-width="2.3" fill="none" stroke-linecap="round" stroke-linejoin="round"/><path d="M300.1 2324.8C302.3 2325.1 308.1 2326.7 313.6 2326.7C319.1 2326.7 327.5 2327.4 332.9 2324.8C338.4 2322.2 344.2 2316.7 346.5 2311.3C348.7 2305.8 348.7 2295.8 346.5 2291.9C344.2 2288.1 335.2 2288.7 332.9 2288.1" stroke="#2f2f2f" stroke-width="4.3" fill="none" stroke-linecap="round" stroke-linejoin="round"/><path d="M300.1 2324.8C302.3 2325.1 308.1 2326.7 313.6 2326.7C319.1 2326.7 327.5 2327.4 332.9 2324.8C338.4 2322.2 344.2 2316.7 346.5 2311.3C348.7 2305.8 348.7 2295.8 346.5 2291.9C344.2 2288.1 335.2 2288.7 332.9 2288.1" stroke="#dcb4b5" stroke-width="2.3" fill="none" stroke-linecap="round" stroke-linejoin="round"/><path d="M288.5 2262.9C291.1 2264.5 298.1 2271.3 303.9 2272.6C309.7 2273.9 317.5 2272.3 323.3 2270.7C329.1 2269.1 334.2 2264.5 338.7 2262.9C343.2 2261.3 348.4 2261.3 350.3 2261" stroke="#2f2f2f" stroke-width="4.3" fill="none" stroke-linecap="round" stroke-linejoin="round"/><path d="M288.5 2262.9C291.1 2264.5 298.1 2271.3 303.9 2272.6C309.7 2273.9 317.5 2272.3 323.3 2270.7C329.1 2269.1 334.2 2264.5 338.7 2262.9C343.2 2261.3 348.4 2261.3 350.3 2261" stroke="#dcb4b5" stroke-width="2.3" fill="none" stroke-linecap="round" stroke-linejoin="round"/><path d="M170.6 2353.8C171.6 2356.4 173.5 2365.1 176.4 2369.2C179.3 2373.4 186 2377.3 188 2378.9" stroke="#2f2f2f" stroke-width="4.3" fill="none" stroke-linecap="round" stroke-linejoin="round"/><path d="M170.6 2353.8C171.6 2356.4 173.5 2365.1 176.4 2369.2C179.3 2373.4 186 2377.3 188 2378.9" stroke="#dcb4b5" stroke-width="2.3" fill="none" stroke-linecap="round" stroke-linejoin="round"/><path d="M216.3 2148.3L217.1 2150.6L218 2153.6L219.2 2157.1L220.4 2160.9L221.7 2165.1L223.1 2169.5L224.4 2174L225.7 2178.5L226.8 2182.9L227.8 2187.2L228.6 2191.7L229.5 2196.7L230.3 2202.1L231.1 2207.7L231.8 2213.2L232.4 2218.6L233 2223.6L233.6 2228.2L234 2232L234.4 2234.9L249.8 2232.9L249.4 2230.1L248.9 2226.3L248.4 2221.8L247.8 2216.7L247.1 2211.3L246.4 2205.6L245.6 2199.9L244.7 2194.3L243.8 2189L242.9 2184L241.8 2179.3L240.6 2174.5L239.3 2169.7L237.9 2165L236.5 2160.5L235.1 2156.2L233.9 2152.3L232.7 2148.9L231.8 2146L231.1 2143.7Z" fill="#c8a0a1" stroke="#2f2f2f" stroke-width="1.1" stroke-linejoin="round"/><path d="M290.4 2213.7L290.1 2211.2L289.7 2208.1L289.3 2204.4L288.8 2200.2L288.3 2195.6L287.7 2190.7L287 2185.7L286.3 2180.6L285.4 2175.5L284.5 2170.5L283.3 2165.4L282 2159.8L280.4 2154L278.8 2148.1L277.2 2142.2L275.6 2136.6L275.5 2136.1L280.7 2134.6L263.4 2121.8L255.4 2141.8L260.6 2140.3L260.7 2140.8L262.3 2146.4L263.9 2152.2L265.5 2158L267 2163.6L268.3 2168.9L269.3 2173.7L270.2 2178.2L271 2183L271.7 2187.8L272.4 2192.7L273 2197.4L273.5 2201.9L273.9 2206.1L274.3 2209.8L274.7 2213L275 2215.6Z" fill="#c8a0a1" stroke="#2f2f2f" stroke-width="1.1" stroke-linejoin="round"/><path d="M202.5 2253.4L202.5 2250.9L202.6 2247.6L202.6 2243.7L202.7 2239.3L202.8 2234.7L202.9 2229.8L203 2224.9L203.1 2220L203.3 2215.4L203.4 2211.1L203.7 2206.8L203.9 2202.3L204.2 2197.6L204.6 2192.9L204.9 2188.3L205.2 2185.5L209.9 2185.9L199.6 2170.2L186.9 2184.1L191.7 2184.5L191.4 2187.3L191.1 2191.9L190.8 2196.7L190.4 2201.4L190.2 2206.1L189.9 2210.4L189.7 2214.9L189.6 2219.6L189.5 2224.5L189.3 2229.5L189.3 2234.4L189.2 2239.1L189.1 2243.5L189 2247.4L189 2250.6L188.9 2253.1Z" fill="#c8a0a1" stroke="#2f2f2f" stroke-width="1.1" stroke-linejoin="round"/><path d="M163.8 2274.9L163.9 2277.1L164.1 2279.9L164.3 2283.1L164.5 2286.8L164.7 2290.8L164.9 2295L165.1 2299.3L165.3 2303.6L165.6 2307.7L165.8 2311.6L166 2315.6L166.2 2319.8L166.4 2324.3L166.6 2328.8L166.9 2333.2L167.1 2337.5L167.3 2341.4L167.4 2345L167.6 2347.9L167.7 2350.2L181.2 2349.6L181.1 2347.3L180.9 2344.3L180.8 2340.8L180.6 2336.8L180.4 2332.5L180.1 2328.1L179.9 2323.6L179.7 2319.1L179.5 2314.9L179.3 2310.9L179.1 2307L178.9 2302.8L178.6 2298.6L178.4 2294.3L178.2 2290.1L178 2286.1L177.8 2282.4L177.6 2279.1L177.5 2276.4L177.3 2274.2Z" fill="#c8a0a1" stroke="#2f2f2f" stroke-width="1.1" stroke-linejoin="round"/><path d="M147.6 2283.4L147.9 2284.5L148.4 2286L148.9 2287.7L149.5 2289.6L150.1 2291.7L150.8 2293.9L151.4 2296.2L152.1 2298.4L152.7 2300.6L153.3 2302.7L153.9 2304.8L154.6 2307.1L155.3 2309.5L155.9 2312L156.6 2314.4L157.2 2316.8L157.8 2319L158.3 2320.9L158.8 2322.6L159.1 2323.9L166.6 2321.8L166.2 2320.6L165.8 2318.9L165.3 2317L164.7 2314.8L164.1 2312.4L163.4 2310L162.7 2307.5L162 2305L161.4 2302.7L160.8 2300.5L160.2 2298.4L159.5 2296.2L158.8 2293.9L158.2 2291.7L157.5 2289.5L156.9 2287.4L156.3 2285.5L155.7 2283.7L155.3 2282.3L155 2281.1Z" fill="#c8a0a1" stroke="#2f2f2f" stroke-width="1.1" stroke-linejoin="round"/><path d="M310.4 2169.8L308.1 2171.5L305.2 2173.7L301.7 2176.3L297.8 2179.2L293.5 2182.3L289.1 2185.6L284.6 2189L280.1 2192.4L275.8 2195.7L271.7 2198.8L267.6 2202L263.3 2205.4L258.8 2209L254.3 2212.6L249.9 2216.2L245.6 2219.6L241.7 2222.7L238.2 2225.6L235.3 2228L233 2229.8L239.6 2238.1L241.9 2236.2L244.9 2233.8L248.4 2231L252.3 2227.8L256.5 2224.4L261 2220.9L265.5 2217.3L269.9 2213.7L274.2 2210.4L278.2 2207.2L282.2 2204.1L286.5 2200.9L291 2197.5L295.5 2194.2L299.9 2190.9L304.1 2187.7L308 2184.8L311.5 2182.2L314.5 2180L316.8 2178.3Z" fill="#c8a0a1" stroke="#2f2f2f" stroke-width="1.1" stroke-linejoin="round"/><path d="M350.4 2171.5L346.5 2173.2L341.3 2175.4L335.1 2178L328.2 2181L320.9 2184.1L313.4 2187.3L305.9 2190.5L298.8 2193.5L292.3 2196.2L286.6 2198.6L281.6 2200.6L276.7 2202.6L272 2204.5L267.6 2206.3L263.4 2208L259.5 2209.5L256 2210.9L252.9 2212.1L250.2 2213.1L248 2214L251.6 2223L253.8 2222.1L256.5 2221.1L259.6 2219.8L263.1 2218.5L266.9 2216.9L271.1 2215.3L275.6 2213.5L280.3 2211.6L285.3 2209.6L290.3 2207.5L296 2205.1L302.5 2202.4L309.7 2199.4L317.1 2196.2L324.7 2193L332 2189.8L338.9 2186.9L345.1 2184.3L350.3 2182.1L354.2 2180.4Z" fill="#c8a0a1" stroke="#2f2f2f" stroke-width="1.1" stroke-linejoin="round"/><path d="M258.3 2221L256.7 2224.4L254.6 2228.9L252.1 2234.1L249.3 2240L246.3 2246.4L243.2 2253L240.1 2259.8L236.9 2266.5L234 2273L231.2 2279.1L228.5 2285.2L225.6 2291.7L222.7 2298.4L219.7 2305.2L216.9 2311.8L214.2 2318.2L211.6 2324.1L209.4 2329.3L207.5 2333.7L206 2337.2L220.2 2343.3L221.7 2339.8L223.6 2335.4L225.8 2330.2L228.4 2324.3L231.1 2317.9L233.9 2311.3L236.9 2304.6L239.8 2297.9L242.6 2291.5L245.3 2285.4L248 2279.4L251 2273L254.1 2266.3L257.2 2259.6L260.3 2252.9L263.3 2246.6L266.1 2240.7L268.6 2235.5L270.7 2231L272.3 2227.6Z" fill="#c8a0a1" stroke="#2f2f2f" stroke-width="1.1" stroke-linejoin="round"/><path d="M276.5 2203.8L275.2 2207.1L273.6 2211.2L271.7 2216.2L269.5 2221.8L267.2 2227.8L264.8 2234.2L262.3 2240.7L259.8 2247.3L257.4 2253.8L255.2 2260L252.9 2266.4L250.5 2273.4L248.1 2280.8L245.6 2288.2L243.1 2295.6L240.8 2302.7L239.8 2305.8L234 2303.9L242.1 2326.7L262.1 2313.1L256.3 2311.2L257.3 2308.1L259.7 2301L262.1 2293.7L264.6 2286.3L267 2279L269.4 2272.1L271.6 2265.8L273.8 2259.7L276.1 2253.4L278.5 2246.9L281 2240.4L283.4 2234.1L285.8 2228L287.9 2222.5L289.8 2217.5L291.5 2213.3L292.7 2210Z" fill="#c8a0a1" stroke="#2f2f2f" stroke-width="1.1" stroke-linejoin="round"/><path d="M305.3 2321.9L305.9 2317.9L306.6 2312.7L307.5 2306.6L308.5 2299.7L309.6 2292.2L310.7 2284.5L311.8 2276.6L312.9 2268.8L314 2261.3L315 2254.3L316 2247.4L317.1 2240L318.2 2232.4L319.3 2224.8L320.4 2217.2L321.5 2210.1L322.3 2204.4L327.3 2205.1L317.5 2187.6L303 2201.5L308 2202.3L307.1 2208L306.1 2215.1L305 2222.6L303.8 2230.3L302.7 2237.9L301.7 2245.3L300.6 2252.2L299.6 2259.2L298.6 2266.7L297.4 2274.5L296.3 2282.4L295.2 2290.2L294.1 2297.6L293.2 2304.5L292.3 2310.7L291.5 2315.9L291 2319.9Z" fill="#c8a0a1" stroke="#2f2f2f" stroke-width="1.1" stroke-linejoin="round"/><path d="M348.1 2255.2L348.9 2252.9L349.9 2249.9L351.1 2246.4L352.5 2242.5L354 2238.3L355.5 2233.9L357.1 2229.3L358.7 2224.9L360.2 2220.6L361.6 2216.5L363 2212.5L364.5 2208.2L366.1 2203.7L367.7 2199.2L369.2 2194.8L370.7 2190.6L372.1 2186.6L373.3 2183.1L374.3 2180.2L375.1 2177.9L364.2 2174L363.4 2176.3L362.3 2179.3L361.1 2182.8L359.7 2186.7L358.3 2191L356.7 2195.4L355.1 2199.9L353.6 2204.4L352.1 2208.7L350.7 2212.7L349.2 2216.7L347.7 2221.1L346.2 2225.5L344.6 2230L343 2234.4L341.6 2238.7L340.2 2242.6L339 2246.1L337.9 2249.1L337.1 2251.4Z" fill="#c8a0a1" stroke="#2f2f2f" stroke-width="1.1" stroke-linejoin="round"/><path d="M338.7 2231L339.7 2232.3L340.9 2233.9L342.3 2235.8L343.9 2237.9L345.6 2240.2L347.4 2242.6L349.2 2245L350.9 2247.5L352.5 2249.8L354 2252L355.5 2254.3L357 2256.8L358.5 2259.4L360.1 2262.1L361.6 2264.7L363 2267.3L364.4 2269.7L365.6 2271.8L366.6 2273.6L367.4 2275L375.8 2270.2L375 2268.8L374 2267L372.8 2264.9L371.5 2262.5L370 2259.9L368.4 2257.2L366.9 2254.5L365.2 2251.8L363.7 2249.2L362.1 2246.8L360.5 2244.4L358.8 2241.9L357 2239.4L355.2 2236.9L353.4 2234.4L351.6 2232.1L350 2230L348.6 2228.1L347.4 2226.5L346.5 2225.3Z" fill="#c8a0a1" stroke="#2f2f2f" stroke-width="1.1" stroke-linejoin="round"/><path d="M217.4 2089.4L218.4 2088.8L219.6 2088.1L220.9 2087.3L222.4 2086.4L224 2085.5L225.6 2084.6L227.2 2083.7L228.8 2083L230.2 2082.5L231.6 2082.1L233.2 2081.8L235 2081.5L236.8 2081.2L238.6 2081L240.5 2080.9L242.2 2080.9L243.9 2081L245.4 2081.2L246.8 2081.5L247.9 2081.8L248.9 2082.4L250.1 2083.2L251.4 2084.4L252.8 2085.8L254.1 2087.3L255.5 2088.9L256.7 2090.4L257.8 2091.9L258.9 2093.2L259.8 2094.2L267 2087.7L266.3 2086.9L265.4 2085.8L264.3 2084.4L262.9 2082.8L261.5 2081L259.8 2079.2L258.1 2077.4L256.2 2075.7L254 2074.2L251.7 2073L249.4 2072.2L247.1 2071.6L244.8 2071.3L242.4 2071.2L240.1 2071.2L237.8 2071.4L235.6 2071.6L233.5 2071.9L231.4 2072.3L229.4 2072.7L227.2 2073.3L225.1 2074.1L223 2075L221 2076L219.2 2077.1L217.5 2078.1L215.9 2079L214.6 2079.8L213.5 2080.4L212.7 2080.9Z" fill="#c8a0a1" stroke="#2f2f2f" stroke-width="1.1" stroke-linejoin="round"/><path d="M268.1 2114.7L269.4 2114L270.9 2112.9L272.7 2111.7L274.6 2110.4L276.7 2109L278.8 2107.7L280.9 2106.4L282.9 2105.2L284.8 2104.3L286.4 2103.7L288 2103.1L289.8 2102.7L291.5 2102.4L293.3 2102.1L295.1 2101.9L296.9 2101.8L298.6 2101.7L300.3 2101.8L301.9 2101.9L303.2 2102L304.4 2102.2L305.6 2102.5L306.9 2103L308.2 2103.6L309.5 2104.2L310.8 2104.9L312 2105.6L313.1 2106.2L314.2 2106.9L315.1 2107.3L319.8 2097.7L319.2 2097.4L318.3 2097L317.2 2096.3L315.9 2095.6L314.3 2094.8L312.7 2093.9L310.8 2093.1L308.9 2092.4L306.8 2091.8L304.7 2091.5L302.6 2091.3L300.6 2091.1L298.6 2091.1L296.4 2091.2L294.2 2091.3L292 2091.5L289.7 2091.9L287.4 2092.3L285.1 2092.9L282.8 2093.7L280.4 2094.6L278 2095.8L275.5 2097.2L273.1 2098.6L270.8 2100.1L268.7 2101.6L266.7 2102.9L264.9 2104.1L263.5 2105.1L262.4 2105.8Z" fill="#c8a0a1" stroke="#2f2f2f" stroke-width="1.1" stroke-linejoin="round"/><path d="M157.9 2213.5L159.8 2211.6L161.7 2209.6L163.7 2207.7L165.6 2205.8L167.5 2203.8L169.5 2201.9L171.4 2200L173.3 2198L175.3 2196.1L177.2 2194.2L171.7 2188.7L169.8 2190.6L167.9 2192.6L165.9 2194.5L164 2196.4L162.1 2198.4L160.1 2200.3L158.2 2202.2L156.3 2204.2L154.3 2206.1L152.4 2208Z" fill="#c8a0a1" stroke="#2f2f2f" stroke-width="1.1" stroke-linejoin="round"/><path d="M212 2349L212.7 2350.2L213.7 2352L214.9 2354.4L216.3 2357.1L217.9 2359.9L219.5 2362.7L221.4 2365.4L223.5 2367.9L226.3 2370.1L230.9 2371.2L235.2 2369.6L237.8 2367.2L239.8 2364.6L241.6 2361.7L243.2 2358.7L244.8 2355.6L246.2 2352.7L247.4 2350.2L248.4 2348.2L249.1 2346.9L239 2341.3L238.1 2342.9L237 2345.1L235.7 2347.7L234.4 2350.5L233 2353.2L231.6 2355.8L230.2 2358L229.1 2359.5L228.6 2360L230.1 2359.6L231.8 2359.9L231.7 2359.7L230.6 2358.5L229.3 2356.5L227.9 2354.2L226.5 2351.6L225.2 2349L224 2346.6L222.8 2344.5L221.9 2343Z" fill="#c8a0a1" stroke="#2f2f2f" stroke-width="1.1" stroke-linejoin="round"/></g>
<g opacity="0.93"><path d="M379.3 2084.5C382.5 2082.8 392.2 2075.8 398.7 2074.8C405.1 2073.8 412.2 2076.7 418 2078.7C423.8 2080.6 428.3 2086.4 433.4 2086.4C438.6 2086.4 444.4 2081.9 448.9 2078.7C453.4 2075.4 459.5 2071.2 460.5 2067.1C461.5 2062.9 457.9 2056.1 454.7 2053.5C451.5 2051 444.1 2050.3 441.2 2051.6C438.3 2052.9 437.3 2056.8 437.3 2061.3C437.3 2065.8 437.3 2071.9 441.2 2078.7C445 2085.4 456.3 2094.4 460.5 2101.8C464.7 2109.3 466.9 2116 466.3 2123.1C465.7 2130.2 460.5 2138.2 456.6 2144.4C452.8 2150.5 445.7 2155.3 443.1 2159.8C440.5 2164.3 441.5 2169.5 441.2 2171.4" stroke="#2f2f2f" stroke-width="4.3" fill="none" stroke-linecap="round" stroke-linejoin="round"/><path d="M379.3 2084.5C382.5 2082.8 392.2 2075.8 398.7 2074.8C405.1 2073.8 412.2 2076.7 418 2078.7C423.8 2080.6 428.3 2086.4 433.4 2086.4C438.6 2086.4 444.4 2081.9 448.9 2078.7C453.4 2075.4 459.5 2071.2 460.5 2067.1C461.5 2062.9 457.9 2056.1 454.7 2053.5C451.5 2051 444.1 2050.3 441.2 2051.6C438.3 2052.9 437.3 2056.8 437.3 2061.3C437.3 2065.8 437.3 2071.9 441.2 2078.7C445 2085.4 456.3 2094.4 460.5 2101.8C464.7 2109.3 466.9 2116 466.3 2123.1C465.7 2130.2 460.5 2138.2 456.6 2144.4C452.8 2150.5 445.7 2155.3 443.1 2159.8C440.5 2164.3 441.5 2169.5 441.2 2171.4" stroke="#b6b9db" stroke-width="2.3" fill="none" stroke-linecap="round" stroke-linejoin="round"/><path d="M379.3 2084.5C380.3 2087.7 381.6 2098.3 385.1 2103.8C388.7 2109.3 398 2115.1 400.6 2117.3" stroke="#2f2f2f" stroke-width="4.3" fill="none" stroke-linecap="round" stroke-linejoin="round"/><path d="M379.3 2084.5C380.3 2087.7 381.6 2098.3 385.1 2103.8C388.7 2109.3 398 2115.1 400.6 2117.3" stroke="#b6b9db" stroke-width="2.3" fill="none" stroke-linecap="round" stroke-linejoin="round"/><path d="M385.1 2152.1C387.1 2148.9 393.8 2137.9 396.7 2132.8C399.6 2127.6 401.6 2123.1 402.5 2121.2" stroke="#2f2f2f" stroke-width="4.3" fill="none" stroke-linecap="round" stroke-linejoin="round"/><path d="M385.1 2152.1C387.1 2148.9 393.8 2137.9 396.7 2132.8C399.6 2127.6 401.6 2123.1 402.5 2121.2" stroke="#b6b9db" stroke-width="2.3" fill="none" stroke-linecap="round" stroke-linejoin="round"/><path d="M495.3 2096C497.9 2093.8 505 2085.7 510.8 2082.5C516.6 2079.3 526.9 2077.7 530.1 2076.7" stroke="#2f2f2f" stroke-width="4.3" fill="none" stroke-linecap="round" stroke-linejoin="round"/><path d="M495.3 2096C497.9 2093.8 505 2085.7 510.8 2082.5C516.6 2079.3 526.9 2077.7 530.1 2076.7" stroke="#b6b9db" stroke-width="2.3" fill="none" stroke-linecap="round" stroke-linejoin="round"/><path d="M506.9 2268.1C506.2 2262.3 502.4 2242.3 503 2233.3C503.7 2224.3 506.9 2218.5 510.8 2213.9C514.6 2209.4 521.7 2206.9 526.2 2206.2C530.7 2205.6 535.9 2209.4 537.8 2210.1" stroke="#2f2f2f" stroke-width="4.3" fill="none" stroke-linecap="round" stroke-linejoin="round"/><path d="M506.9 2268.1C506.2 2262.3 502.4 2242.3 503 2233.3C503.7 2224.3 506.9 2218.5 510.8 2213.9C514.6 2209.4 521.7 2206.9 526.2 2206.2C530.7 2205.6 535.9 2209.4 537.8 2210.1" stroke="#b6b9db" stroke-width="2.3" fill="none" stroke-linecap="round" stroke-linejoin="round"/><path d="M479.8 2231.3C480.8 2228.4 483.4 2220.1 485.6 2213.9C487.9 2207.8 492.1 2200.4 493.4 2194.6C494.6 2188.8 495 2182.4 493.4 2179.2C491.7 2175.9 483.4 2177.2 483.7 2175.3C484 2173.4 490.1 2168.8 495.3 2167.6C500.4 2166.3 509.8 2166.3 514.6 2167.6C519.5 2168.8 522.7 2174 524.3 2175.3" stroke="#2f2f2f" stroke-width="4.3" fill="none" stroke-linecap="round" stroke-linejoin="round"/><path d="M479.8 2231.3C480.8 2228.4 483.4 2220.1 485.6 2213.9C487.9 2207.8 492.1 2200.4 493.4 2194.6C494.6 2188.8 495 2182.4 493.4 2179.2C491.7 2175.9 483.4 2177.2 483.7 2175.3C484 2173.4 490.1 2168.8 495.3 2167.6C500.4 2166.3 509.8 2166.3 514.6 2167.6C519.5 2168.8 522.7 2174 524.3 2175.3" stroke="#b6b9db" stroke-width="2.3" fill="none" stroke-linecap="round" stroke-linejoin="round"/><path d="M371.6 2271.9C371.6 2276.4 368.7 2293.2 371.6 2299C374.5 2304.8 382.5 2306.1 389 2306.7C395.4 2307.4 405.7 2305.4 410.3 2302.9C414.8 2300.3 415.7 2296.7 416 2291.3C416.4 2285.8 412.8 2273.5 412.2 2270" stroke="#2f2f2f" stroke-width="4.3" fill="none" stroke-linecap="round" stroke-linejoin="round"/><path d="M371.6 2271.9C371.6 2276.4 368.7 2293.2 371.6 2299C374.5 2304.8 382.5 2306.1 389 2306.7C395.4 2307.4 405.7 2305.4 410.3 2302.9C414.8 2300.3 415.7 2296.7 416 2291.3C416.4 2285.8 412.8 2273.5 412.2 2270" stroke="#b6b9db" stroke-width="2.3" fill="none" stroke-linecap="round" stroke-linejoin="round"/><path d="M535.9 2244.9C537.5 2246.2 541 2251.3 545.5 2252.6C550.1 2253.9 556.8 2252.9 562.9 2252.6C569.1 2252.3 577.4 2249.7 582.3 2250.7C587.1 2251.6 591.9 2254.9 591.9 2258.4C591.9 2261.9 586.8 2268.7 582.3 2271.9C577.8 2275.2 571 2277.7 564.9 2277.7C558.8 2277.7 550.7 2271 545.5 2271.9C540.4 2272.9 535.9 2281.6 533.9 2283.5" stroke="#2f2f2f" stroke-width="4.3" fill="none" stroke-linecap="round" stroke-linejoin="round"/><path d="M535.9 2244.9C537.5 2246.2 541 2251.3 545.5 2252.6C550.1 2253.9 556.8 2252.9 562.9 2252.6C569.1 2252.3 577.4 2249.7 582.3 2250.7C587.1 2251.6 591.9 2254.9 591.9 2258.4C591.9 2261.9 586.8 2268.7 582.3 2271.9C577.8 2275.2 571 2277.7 564.9 2277.7C558.8 2277.7 550.7 2271 545.5 2271.9C540.4 2272.9 535.9 2281.6 533.9 2283.5" stroke="#b6b9db" stroke-width="2.3" fill="none" stroke-linecap="round" stroke-linejoin="round"/><path d="M533.9 2297.1C535.9 2301.9 543 2319.3 545.5 2326C548.1 2332.8 544.9 2335.7 549.4 2337.6C553.9 2339.6 566.8 2336.4 572.6 2337.6C578.4 2338.9 583.2 2342.2 584.2 2345.4C585.2 2348.6 580.3 2357 578.4 2357C576.5 2357 573.6 2347.3 572.6 2345.4" stroke="#2f2f2f" stroke-width="4.3" fill="none" stroke-linecap="round" stroke-linejoin="round"/><path d="M533.9 2297.1C535.9 2301.9 543 2319.3 545.5 2326C548.1 2332.8 544.9 2335.7 549.4 2337.6C553.9 2339.6 566.8 2336.4 572.6 2337.6C578.4 2338.9 583.2 2342.2 584.2 2345.4C585.2 2348.6 580.3 2357 578.4 2357C576.5 2357 573.6 2347.3 572.6 2345.4" stroke="#b6b9db" stroke-width="2.3" fill="none" stroke-linecap="round" stroke-linejoin="round"/><path d="M545.5 2297.1C546.8 2296.1 549.4 2293.2 553.3 2291.3C557.1 2289.3 564.5 2283.8 568.7 2285.5C572.9 2287.1 574.9 2297.7 578.4 2300.9C581.9 2304.1 586.1 2306.4 590 2304.8C593.9 2303.2 598.4 2296.7 601.6 2291.3C604.8 2285.8 606.7 2276.8 609.3 2271.9C611.9 2267.1 616.4 2264.8 617.1 2262.3C617.7 2259.7 614.8 2255.2 613.2 2256.5C611.6 2257.8 608.4 2267.7 607.4 2270" stroke="#2f2f2f" stroke-width="4.3" fill="none" stroke-linecap="round" stroke-linejoin="round"/><path d="M545.5 2297.1C546.8 2296.1 549.4 2293.2 553.3 2291.3C557.1 2289.3 564.5 2283.8 568.7 2285.5C572.9 2287.1 574.9 2297.7 578.4 2300.9C581.9 2304.1 586.1 2306.4 590 2304.8C593.9 2303.2 598.4 2296.7 601.6 2291.3C604.8 2285.8 606.7 2276.8 609.3 2271.9C611.9 2267.1 616.4 2264.8 617.1 2262.3C617.7 2259.7 614.8 2255.2 613.2 2256.5C611.6 2257.8 608.4 2267.7 607.4 2270" stroke="#b6b9db" stroke-width="2.3" fill="none" stroke-linecap="round" stroke-linejoin="round"/><path d="M468.2 2413C472.1 2415.3 483.7 2427.2 491.4 2426.5C499.2 2425.9 507.5 2413 514.6 2409.2C521.7 2405.3 527.8 2401.1 533.9 2403.4C540.1 2405.6 548.4 2419.5 551.3 2422.7" stroke="#2f2f2f" stroke-width="4.3" fill="none" stroke-linecap="round" stroke-linejoin="round"/><path d="M468.2 2413C472.1 2415.3 483.7 2427.2 491.4 2426.5C499.2 2425.9 507.5 2413 514.6 2409.2C521.7 2405.3 527.8 2401.1 533.9 2403.4C540.1 2405.6 548.4 2419.5 551.3 2422.7" stroke="#b6b9db" stroke-width="2.3" fill="none" stroke-linecap="round" stroke-linejoin="round"/><path d="M435.4 2185.6L435.9 2189.6L436.5 2194.7L437.2 2200.6L438 2207.4L438.8 2214.6L439.7 2222.3L440.6 2230.1L441.5 2238L442.3 2245.8L443.1 2253.2L443.9 2260.9L444.8 2269.3L445.7 2278.1L446.6 2287.1L447.5 2296.1L448.3 2304.7L449.1 2312.7L449.8 2319.8L450.4 2325.8L450.9 2330.5L462.4 2329.3L461.9 2324.7L461.4 2318.7L460.7 2311.5L459.9 2303.5L459 2294.9L458.1 2286L457.2 2276.9L456.3 2268.1L455.5 2259.7L454.7 2252L453.9 2244.5L453 2236.7L452.1 2228.8L451.2 2220.9L450.3 2213.3L449.5 2206L448.7 2199.3L448 2193.3L447.4 2188.3L446.9 2184.3Z" fill="#abadce" stroke="#2f2f2f" stroke-width="1.1" stroke-linejoin="round"/><path d="M405.4 2147.1L406.4 2149.5L408.8 2151.7L412.5 2153.7L417.3 2155.4L423.1 2156.8L429.4 2157.9L436 2158.8L442.5 2159.5L448.8 2160L454.3 2160.4L459 2160.7L462.5 2161L464.7 2161.4L465.5 2161.9L465.3 2160L464.3 2157.6L461.9 2155.4L458.1 2153.4L453.3 2151.7L447.6 2150.3L441.3 2149.2L434.7 2148.3L428.1 2147.6L421.9 2147.1L416.3 2146.7L411.7 2146.4L408.2 2146.1L405.9 2145.7L405.2 2145.2ZM410.5 2190.3L411.5 2192.7L413.9 2194.9L417.6 2196.9L422.4 2198.6L428.2 2200L434.5 2201.1L441.1 2202L447.6 2202.7L453.9 2203.2L459.4 2203.6L464.1 2203.9L467.6 2204.2L469.8 2204.6L470.6 2205.1L470.4 2203.2L469.4 2200.8L467 2198.6L463.2 2196.6L458.4 2194.9L452.7 2193.5L446.4 2192.4L439.8 2191.5L433.2 2190.8L427 2190.3L421.4 2189.9L416.8 2189.6L413.2 2189.3L411 2188.9L410.3 2188.4ZM415.6 2233.5L416.6 2235.9L419 2238.1L422.7 2240.1L427.5 2241.8L433.2 2243.2L439.6 2244.3L446.2 2245.2L452.7 2245.9L459 2246.4L464.5 2246.8L469.2 2247.1L472.7 2247.4L474.9 2247.8L475.7 2248.3L475.5 2246.4L474.5 2244L472 2241.8L468.3 2239.8L463.5 2238.1L457.8 2236.7L451.5 2235.6L444.9 2234.7L438.3 2234L432.1 2233.5L426.5 2233.1L421.9 2232.8L418.3 2232.5L416.1 2232.1L415.4 2231.6ZM420.7 2276.7L421.7 2279.1L424.1 2281.3L427.8 2283.3L432.6 2285L438.3 2286.4L444.7 2287.5L451.3 2288.4L457.8 2289.1L464.1 2289.6L469.6 2290L474.3 2290.3L477.8 2290.6L480 2291L480.8 2291.5L480.6 2289.6L479.6 2287.2L477.1 2284.9L473.4 2283L468.6 2281.3L462.9 2279.9L456.6 2278.7L450 2277.8L443.4 2277.2L437.2 2276.7L431.6 2276.3L427 2276L423.4 2275.6L421.2 2275.3L420.5 2274.8ZM425.8 2319.9L426.8 2322.3L429.2 2324.5L432.9 2326.4L437.7 2328.1L443.4 2329.6L449.8 2330.7L456.4 2331.6L462.9 2332.3L469.2 2332.8L474.7 2333.2L479.4 2333.5L482.9 2333.8L485.1 2334.2L485.9 2334.7L485.7 2332.8L484.7 2330.3L482.2 2328.1L478.5 2326.2L473.7 2324.5L468 2323.1L461.7 2321.9L455.1 2321L448.5 2320.4L442.3 2319.9L436.7 2319.5L432.1 2319.2L428.5 2318.8L426.3 2318.5L425.6 2318ZM430.9 2363.1L431.9 2365.5L434.3 2367.7L438 2369.6L442.8 2371.3L448.5 2372.7L454.8 2373.9L461.5 2374.8L468 2375.5L474.3 2376L479.8 2376.3L484.5 2376.7L488 2377L490.2 2377.4L491 2377.8L490.8 2375.9L489.8 2373.5L487.3 2371.3L483.6 2369.4L478.8 2367.7L473.1 2366.3L466.8 2365.1L460.2 2364.2L453.6 2363.5L447.4 2363L441.8 2362.7L437.2 2362.3L433.6 2362L431.4 2361.6L430.6 2361.2Z" fill="#9698b8" stroke="#2f2f2f" stroke-width="1" stroke-linejoin="round" opacity="0.9"/><path d="M460.4 2118.7L460 2121.3L458.1 2124L455 2126.8L450.7 2129.6L445.5 2132.3L439.6 2134.8L433.4 2137.3L427.2 2139.4L421.2 2141.4L415.9 2143.1L411.4 2144.4L408.1 2145.6L406 2146.5L405.4 2147.1L405.2 2145.2L405.6 2142.6L407.4 2139.9L410.6 2137.2L414.9 2134.4L420.1 2131.7L426 2129.1L432.2 2126.7L438.4 2124.5L444.3 2122.6L449.7 2120.9L454.1 2119.5L457.5 2118.4L459.5 2117.5L460.2 2116.8ZM465.5 2161.9L465.1 2164.5L463.2 2167.2L460.1 2170L455.8 2172.7L450.6 2175.4L444.7 2178L438.5 2180.4L432.3 2182.6L426.3 2184.6L421 2186.2L416.5 2187.6L413.2 2188.8L411.1 2189.6L410.5 2190.3L410.3 2188.4L410.7 2185.8L412.5 2183.1L415.7 2180.3L420 2177.6L425.2 2174.9L431 2172.3L437.3 2169.9L443.5 2167.7L449.4 2165.7L454.8 2164.1L459.2 2162.7L462.6 2161.6L464.6 2160.7L465.3 2160ZM470.6 2205.1L470.2 2207.7L468.3 2210.4L465.2 2213.2L460.9 2215.9L455.7 2218.6L449.8 2221.2L443.6 2223.6L437.4 2225.8L431.4 2227.8L426.1 2229.4L421.6 2230.8L418.3 2231.9L416.2 2232.8L415.6 2233.5L415.4 2231.6L415.8 2229L417.6 2226.3L420.8 2223.5L425.1 2220.8L430.3 2218.1L436.1 2215.5L442.4 2213.1L448.6 2210.9L454.5 2208.9L459.9 2207.3L464.3 2205.9L467.7 2204.7L469.7 2203.9L470.4 2203.2ZM475.7 2248.3L475.3 2250.9L473.4 2253.6L470.3 2256.4L466 2259.1L460.8 2261.8L454.9 2264.4L448.7 2266.8L442.5 2269L436.5 2270.9L431.2 2272.6L426.7 2274L423.4 2275.1L421.3 2276L420.7 2276.7L420.5 2274.8L420.9 2272.2L422.7 2269.5L425.9 2266.7L430.2 2263.9L435.4 2261.2L441.2 2258.7L447.5 2256.3L453.7 2254.1L459.6 2252.1L465 2250.5L469.4 2249.1L472.8 2247.9L474.8 2247.1L475.5 2246.4ZM480.8 2291.5L480.4 2294.1L478.5 2296.8L475.4 2299.5L471.1 2302.3L465.9 2305L460 2307.6L453.8 2310L447.6 2312.2L441.6 2314.1L436.3 2315.8L431.8 2317.2L428.5 2318.3L426.4 2319.2L425.8 2319.9L425.6 2318L426 2315.4L427.8 2312.7L431 2309.9L435.3 2307.1L440.5 2304.4L446.3 2301.8L452.6 2299.4L458.8 2297.3L464.7 2295.3L470.1 2293.6L474.5 2292.2L477.9 2291.1L479.9 2290.2L480.6 2289.6ZM485.9 2334.7L485.5 2337.3L483.6 2340L480.5 2342.7L476.2 2345.5L471 2348.2L465.1 2350.8L458.9 2353.2L452.7 2355.4L446.7 2357.3L441.4 2359L436.9 2360.4L433.6 2361.5L431.5 2362.4L430.9 2363.1L430.6 2361.2L431.1 2358.6L432.9 2355.9L436.1 2353.1L440.4 2350.3L445.6 2347.6L451.4 2345L457.7 2342.6L463.9 2340.4L469.8 2338.5L475.2 2336.8L479.6 2335.4L483 2334.3L485 2333.4L485.7 2332.8Z" fill="#abadce" stroke="#2f2f2f" stroke-width="1.1" stroke-linejoin="round"/><path d="M504 2130.6L505 2133L507 2135.2L510 2137.1L513.7 2138.6L518.1 2139.9L522.8 2141L527.8 2141.7L532.7 2142.3L537.4 2142.7L541.5 2142.9L545 2143.2L547.6 2143.4L549.3 2143.8L550 2144.3L549.6 2142.4L548.6 2140L546.6 2137.8L543.6 2136L539.9 2134.4L535.5 2133.1L530.7 2132.1L525.8 2131.3L520.8 2130.7L516.2 2130.4L512 2130.1L508.6 2129.8L505.9 2129.6L504.2 2129.2L503.6 2128.7ZM512.5 2174.2L513.5 2176.6L515.5 2178.8L518.4 2180.7L522.2 2182.3L526.5 2183.6L531.3 2184.6L536.3 2185.4L541.2 2185.9L545.9 2186.3L550 2186.6L553.5 2186.8L556.1 2187.1L557.8 2187.4L558.4 2187.9L558.1 2186.1L557.1 2183.6L555 2181.5L552.1 2179.6L548.4 2178L544 2176.7L539.2 2175.7L534.3 2174.9L529.3 2174.4L524.7 2174L520.5 2173.7L517 2173.5L514.4 2173.2L512.7 2172.9L512.1 2172.4ZM520.9 2217.9L522 2220.3L524 2222.4L526.9 2224.3L530.7 2225.9L535 2227.2L539.8 2228.2L544.8 2229L549.7 2229.5L554.3 2229.9L558.5 2230.2L562 2230.4L564.6 2230.7L566.3 2231.1L566.9 2231.6L566.6 2229.7L565.5 2227.3L563.5 2225.1L560.6 2223.2L556.8 2221.6L552.5 2220.3L547.7 2219.3L542.7 2218.6L537.8 2218L533.2 2217.6L529 2217.3L525.5 2217.1L522.9 2216.8L521.2 2216.5L520.6 2216Z" fill="#9698b8" stroke="#2f2f2f" stroke-width="1" stroke-linejoin="round" opacity="0.9"/><path d="M541.5 2100.7L541.4 2103.3L540.4 2106L538.3 2108.9L535.5 2111.8L531.9 2114.6L527.9 2117.3L523.6 2119.9L519.2 2122.3L515 2124.4L511.3 2126.2L508.1 2127.7L505.8 2128.9L504.4 2129.9L504 2130.6L503.6 2128.7L503.6 2126.1L504.7 2123.3L506.7 2120.5L509.6 2117.6L513.2 2114.8L517.2 2112L521.5 2109.5L525.9 2107.1L530.1 2105L533.8 2103.2L536.9 2101.7L539.3 2100.4L540.7 2099.5L541.1 2098.8ZM550 2144.3L549.9 2146.9L548.9 2149.7L546.8 2152.5L544 2155.4L540.4 2158.2L536.4 2161L532 2163.5L527.7 2165.9L523.5 2168L519.8 2169.8L516.6 2171.3L514.3 2172.6L512.9 2173.5L512.5 2174.2L512.1 2172.4L512.1 2169.7L513.2 2167L515.2 2164.1L518.1 2161.2L521.6 2158.4L525.7 2155.7L530 2153.1L534.4 2150.8L538.5 2148.7L542.3 2146.8L545.4 2145.3L547.8 2144.1L549.2 2143.1L549.6 2142.4ZM558.4 2187.9L558.4 2190.5L557.3 2193.3L555.3 2196.2L552.4 2199L548.9 2201.9L544.8 2204.6L540.5 2207.2L536.2 2209.5L532 2211.6L528.2 2213.5L525.1 2215L522.8 2216.2L521.3 2217.2L520.9 2217.9L520.6 2216L520.6 2213.4L521.7 2210.6L523.7 2207.8L526.6 2204.9L530.1 2202L534.2 2199.3L538.5 2196.7L542.9 2194.4L547 2192.3L550.8 2190.5L553.9 2188.9L556.3 2187.7L557.7 2186.8L558.1 2186.1Z" fill="#abadce" stroke="#2f2f2f" stroke-width="1.1" stroke-linejoin="round"/><path d="M379.3 2153.5L379.1 2156.7L378.8 2160.8L378.5 2165.7L378.1 2171.2L377.7 2177.2L377.2 2183.4L376.8 2189.7L376.3 2195.9L375.9 2201.9L375.5 2207.6L375.1 2213.3L374.6 2219.3L374.2 2225.5L373.7 2231.8L373.3 2238L372.9 2244L372.8 2244.7L367.4 2244.4L379.3 2262.3L393.6 2246.2L388.3 2245.9L388.3 2245.1L388.7 2239.1L389.2 2232.9L389.6 2226.6L390.1 2220.4L390.5 2214.4L390.9 2208.7L391.3 2203L391.7 2197L392.2 2190.8L392.6 2184.5L393.1 2178.3L393.5 2172.3L393.9 2166.8L394.2 2161.9L394.5 2157.8L394.8 2154.6Z" fill="#abadce" stroke="#2f2f2f" stroke-width="1.1" stroke-linejoin="round"/><path d="M419.9 2268.6L420.1 2265.9L420.3 2262.5L420.6 2258.5L420.8 2254L421.2 2249.1L421.5 2244L421.8 2238.8L422.2 2233.7L422.5 2228.8L422.8 2224.1L423.1 2219.5L423.4 2214.5L423.8 2209.4L424.1 2204.2L424.4 2199.1L424.6 2196.6L430 2197L418 2179.2L403.8 2195.3L409.2 2195.6L409 2198.1L408.7 2203.2L408.3 2208.4L408 2213.5L407.7 2218.5L407.4 2223.1L407.1 2227.8L406.7 2232.7L406.4 2237.8L406.1 2243L405.7 2248.1L405.4 2253L405.1 2257.5L404.9 2261.5L404.6 2264.9L404.5 2267.6Z" fill="#abadce" stroke="#2f2f2f" stroke-width="1.1" stroke-linejoin="round"/><path d="M504 2379.5L503.6 2375.1L503.2 2369.5L502.6 2362.8L502.1 2355.4L501.4 2347.3L500.8 2338.9L500.1 2330.4L499.4 2321.9L498.8 2313.7L498.2 2306L497.6 2298.4L496.9 2290.2L496.2 2281.7L495.6 2273.1L494.9 2264.7L494.3 2256.7L493.9 2251.7L499.9 2251.2L483.7 2233.3L470.5 2253.5L476.5 2253L476.9 2258L477.6 2266.1L478.2 2274.5L478.9 2283.1L479.6 2291.5L480.2 2299.7L480.8 2307.4L481.4 2315.1L482.1 2323.3L482.7 2331.7L483.4 2340.3L484.1 2348.7L484.7 2356.8L485.3 2364.2L485.8 2370.9L486.3 2376.5L486.6 2380.8Z" fill="#abadce" stroke="#2f2f2f" stroke-width="1.1" stroke-linejoin="round"/><path d="M499.2 2250.4L500.1 2251.9L501.3 2253.8L502.8 2256.1L504.4 2258.7L506.1 2261.5L507.9 2264.4L509.7 2267.3L511.4 2270.2L513.1 2272.9L514.6 2275.4L516.1 2277.9L517.6 2280.5L519.2 2283.2L520.6 2285.6L516.5 2288L533.9 2295.1L536.4 2276.5L532.3 2278.9L530.9 2276.3L529.3 2273.6L527.7 2271L526.2 2268.4L524.7 2265.9L523 2263.1L521.2 2260.2L519.4 2257.3L517.6 2254.4L515.9 2251.6L514.3 2249L512.8 2246.7L511.6 2244.7L510.7 2243.2Z" fill="#abadce" stroke="#2f2f2f" stroke-width="1.1" stroke-linejoin="round"/></g>
<g opacity="0.93"><path d="M962.1 2061.3C964 2060.9 969.2 2058.4 973.7 2059.3C978.2 2060.3 985.9 2064.5 989.2 2067.1C992.4 2069.6 992.4 2073.5 993 2074.8" stroke="#2f2f2f" stroke-width="4.3" fill="none" stroke-linecap="round" stroke-linejoin="round"/><path d="M962.1 2061.3C964 2060.9 969.2 2058.4 973.7 2059.3C978.2 2060.3 985.9 2064.5 989.2 2067.1C992.4 2069.6 992.4 2073.5 993 2074.8" stroke="#b6b9db" stroke-width="2.3" fill="none" stroke-linecap="round" stroke-linejoin="round"/><path d="M942.8 2148.2C943.4 2145.7 944.1 2137 946.6 2132.8C949.2 2128.6 953.1 2125 958.2 2123.1C963.4 2121.2 971.4 2120.2 977.6 2121.2C983.7 2122.1 992.1 2124.4 995 2128.9C997.9 2133.4 995.9 2142.1 995 2148.2C994 2154.4 988.8 2159.8 989.2 2165.6C989.5 2171.4 994.3 2178.5 996.9 2183C999.5 2187.5 1003.3 2191.1 1004.6 2192.7" stroke="#2f2f2f" stroke-width="4.3" fill="none" stroke-linecap="round" stroke-linejoin="round"/><path d="M942.8 2148.2C943.4 2145.7 944.1 2137 946.6 2132.8C949.2 2128.6 953.1 2125 958.2 2123.1C963.4 2121.2 971.4 2120.2 977.6 2121.2C983.7 2122.1 992.1 2124.4 995 2128.9C997.9 2133.4 995.9 2142.1 995 2148.2C994 2154.4 988.8 2159.8 989.2 2165.6C989.5 2171.4 994.3 2178.5 996.9 2183C999.5 2187.5 1003.3 2191.1 1004.6 2192.7" stroke="#b6b9db" stroke-width="2.3" fill="none" stroke-linecap="round" stroke-linejoin="round"/><path d="M1020.1 2072.9C1020.7 2070.6 1020.1 2062.9 1023.9 2059.3C1027.8 2055.8 1037.5 2052.2 1043.3 2051.6C1049.1 2051 1055.5 2052.6 1058.7 2055.5C1062 2058.4 1063.6 2065.1 1062.6 2069C1061.6 2072.9 1057.1 2078 1052.9 2078.7C1048.8 2079.3 1041 2076.1 1037.5 2072.9C1033.9 2069.6 1032.6 2061.6 1031.7 2059.3" stroke="#2f2f2f" stroke-width="4.3" fill="none" stroke-linecap="round" stroke-linejoin="round"/><path d="M1020.1 2072.9C1020.7 2070.6 1020.1 2062.9 1023.9 2059.3C1027.8 2055.8 1037.5 2052.2 1043.3 2051.6C1049.1 2051 1055.5 2052.6 1058.7 2055.5C1062 2058.4 1063.6 2065.1 1062.6 2069C1061.6 2072.9 1057.1 2078 1052.9 2078.7C1048.8 2079.3 1041 2076.1 1037.5 2072.9C1033.9 2069.6 1032.6 2061.6 1031.7 2059.3" stroke="#b6b9db" stroke-width="2.3" fill="none" stroke-linecap="round" stroke-linejoin="round"/><path d="M1043.3 2136.6C1042 2131.8 1038.8 2115.7 1035.5 2107.6C1032.3 2099.6 1026.8 2094.4 1023.9 2088.3C1021 2082.2 1019.1 2073.8 1018.1 2070.9" stroke="#2f2f2f" stroke-width="4.3" fill="none" stroke-linecap="round" stroke-linejoin="round"/><path d="M1043.3 2136.6C1042 2131.8 1038.8 2115.7 1035.5 2107.6C1032.3 2099.6 1026.8 2094.4 1023.9 2088.3C1021 2082.2 1019.1 2073.8 1018.1 2070.9" stroke="#b6b9db" stroke-width="2.3" fill="none" stroke-linecap="round" stroke-linejoin="round"/><path d="M1049.1 2088.3C1049.1 2090.9 1046.8 2101.5 1049.1 2103.8C1051.3 2106 1058.4 2100.9 1062.6 2101.8C1066.8 2102.8 1072.3 2108.3 1074.2 2109.6" stroke="#2f2f2f" stroke-width="4.3" fill="none" stroke-linecap="round" stroke-linejoin="round"/><path d="M1049.1 2088.3C1049.1 2090.9 1046.8 2101.5 1049.1 2103.8C1051.3 2106 1058.4 2100.9 1062.6 2101.8C1066.8 2102.8 1072.3 2108.3 1074.2 2109.6" stroke="#b6b9db" stroke-width="2.3" fill="none" stroke-linecap="round" stroke-linejoin="round"/><path d="M1066.5 2063.2C1069 2061.9 1076.1 2056.8 1081.9 2055.5C1087.7 2054.2 1097.1 2053.2 1101.3 2055.5C1105.4 2057.7 1109 2063.2 1107.1 2069C1105.1 2074.8 1092.6 2084.5 1089.7 2090.3C1086.8 2096 1087.7 2099.3 1089.7 2103.8C1091.6 2108.3 1099.6 2113.1 1101.3 2117.3C1102.9 2121.5 1099.6 2127 1099.3 2128.9" stroke="#2f2f2f" stroke-width="4.3" fill="none" stroke-linecap="round" stroke-linejoin="round"/><path d="M1066.5 2063.2C1069 2061.9 1076.1 2056.8 1081.9 2055.5C1087.7 2054.2 1097.1 2053.2 1101.3 2055.5C1105.4 2057.7 1109 2063.2 1107.1 2069C1105.1 2074.8 1092.6 2084.5 1089.7 2090.3C1086.8 2096 1087.7 2099.3 1089.7 2103.8C1091.6 2108.3 1099.6 2113.1 1101.3 2117.3C1102.9 2121.5 1099.6 2127 1099.3 2128.9" stroke="#b6b9db" stroke-width="2.3" fill="none" stroke-linecap="round" stroke-linejoin="round"/><path d="M857.7 2229.4C858.4 2231.7 860 2240.4 861.6 2242.9C863.2 2245.5 863.9 2247.8 867.4 2244.9C870.9 2242 878 2229.4 882.9 2225.5C887.7 2221.7 891.2 2221 896.4 2221.7C901.5 2222.3 907.7 2227.8 913.8 2229.4C919.9 2231 927.3 2232.6 933.1 2231.3C938.9 2230.1 946 2223.3 948.6 2221.7" stroke="#2f2f2f" stroke-width="4.3" fill="none" stroke-linecap="round" stroke-linejoin="round"/><path d="M857.7 2229.4C858.4 2231.7 860 2240.4 861.6 2242.9C863.2 2245.5 863.9 2247.8 867.4 2244.9C870.9 2242 878 2229.4 882.9 2225.5C887.7 2221.7 891.2 2221 896.4 2221.7C901.5 2222.3 907.7 2227.8 913.8 2229.4C919.9 2231 927.3 2232.6 933.1 2231.3C938.9 2230.1 946 2223.3 948.6 2221.7" stroke="#b6b9db" stroke-width="2.3" fill="none" stroke-linecap="round" stroke-linejoin="round"/><path d="M913.8 2242.9C914.4 2245.2 914.4 2254.9 917.6 2256.5C920.9 2258.1 928.9 2254.9 933.1 2252.6C937.3 2250.3 941.2 2244.5 942.8 2242.9" stroke="#2f2f2f" stroke-width="4.3" fill="none" stroke-linecap="round" stroke-linejoin="round"/><path d="M913.8 2242.9C914.4 2245.2 914.4 2254.9 917.6 2256.5C920.9 2258.1 928.9 2254.9 933.1 2252.6C937.3 2250.3 941.2 2244.5 942.8 2242.9" stroke="#b6b9db" stroke-width="2.3" fill="none" stroke-linecap="round" stroke-linejoin="round"/><path d="M869.3 2250.7C870.9 2254.2 874.8 2268.4 879 2271.9C883.2 2275.5 889.6 2274.5 894.5 2271.9C899.3 2269.4 904.8 2258.1 908 2256.5C911.2 2254.9 909.6 2260.3 913.8 2262.3C918 2264.2 928 2266.5 933.1 2268.1C938.3 2269.7 942.8 2271.3 944.7 2271.9" stroke="#2f2f2f" stroke-width="4.3" fill="none" stroke-linecap="round" stroke-linejoin="round"/><path d="M869.3 2250.7C870.9 2254.2 874.8 2268.4 879 2271.9C883.2 2275.5 889.6 2274.5 894.5 2271.9C899.3 2269.4 904.8 2258.1 908 2256.5C911.2 2254.9 909.6 2260.3 913.8 2262.3C918 2264.2 928 2266.5 933.1 2268.1C938.3 2269.7 942.8 2271.3 944.7 2271.9" stroke="#b6b9db" stroke-width="2.3" fill="none" stroke-linecap="round" stroke-linejoin="round"/><path d="M944.7 2271.9C943.4 2275.2 939.2 2284.8 937 2291.3C934.7 2297.7 930.5 2306.1 931.2 2310.6C931.8 2315.1 940.8 2316.1 940.8 2318.3C940.8 2320.6 935.7 2324.4 931.2 2324.1C926.7 2323.8 917.6 2316.4 913.8 2316.4C909.9 2316.4 908 2321.2 908 2324.1C908 2327 911.2 2333.8 913.8 2333.8C916.4 2333.8 921.8 2325.7 923.4 2324.1" stroke="#2f2f2f" stroke-width="4.3" fill="none" stroke-linecap="round" stroke-linejoin="round"/><path d="M944.7 2271.9C943.4 2275.2 939.2 2284.8 937 2291.3C934.7 2297.7 930.5 2306.1 931.2 2310.6C931.8 2315.1 940.8 2316.1 940.8 2318.3C940.8 2320.6 935.7 2324.4 931.2 2324.1C926.7 2323.8 917.6 2316.4 913.8 2316.4C909.9 2316.4 908 2321.2 908 2324.1C908 2327 911.2 2333.8 913.8 2333.8C916.4 2333.8 921.8 2325.7 923.4 2324.1" stroke="#b6b9db" stroke-width="2.3" fill="none" stroke-linecap="round" stroke-linejoin="round"/><path d="M1074.2 2244.9C1073.6 2247.8 1069.7 2256.5 1070.3 2262.3C1071 2268.1 1073.6 2276.1 1078.1 2279.7C1082.6 2283.2 1091.6 2284.5 1097.4 2283.5C1103.2 2282.6 1109.1 2277.4 1112.9 2273.9C1116.6 2270.3 1118.8 2264.2 1120 2262.3" stroke="#2f2f2f" stroke-width="4.3" fill="none" stroke-linecap="round" stroke-linejoin="round"/><path d="M1074.2 2244.9C1073.6 2247.8 1069.7 2256.5 1070.3 2262.3C1071 2268.1 1073.6 2276.1 1078.1 2279.7C1082.6 2283.2 1091.6 2284.5 1097.4 2283.5C1103.2 2282.6 1109.1 2277.4 1112.9 2273.9C1116.6 2270.3 1118.8 2264.2 1120 2262.3" stroke="#b6b9db" stroke-width="2.3" fill="none" stroke-linecap="round" stroke-linejoin="round"/><path d="M933.1 2401.4C935.4 2398.5 940.5 2386.6 946.6 2384C952.8 2381.5 962.1 2384 969.8 2386C977.6 2387.9 985.3 2395.3 993 2395.6C1000.8 2395.9 1012.4 2389.2 1016.2 2387.9" stroke="#2f2f2f" stroke-width="4.3" fill="none" stroke-linecap="round" stroke-linejoin="round"/><path d="M933.1 2401.4C935.4 2398.5 940.5 2386.6 946.6 2384C952.8 2381.5 962.1 2384 969.8 2386C977.6 2387.9 985.3 2395.3 993 2395.6C1000.8 2395.9 1012.4 2389.2 1016.2 2387.9" stroke="#b6b9db" stroke-width="2.3" fill="none" stroke-linecap="round" stroke-linejoin="round"/><path d="M958.2 2266.1C959.5 2267.1 962.1 2271.3 966 2271.9C969.8 2272.6 978.2 2273.2 981.4 2270C984.6 2266.8 985 2259 985.3 2252.6C985.6 2246.2 985.3 2236.2 983.4 2231.3C981.4 2226.5 975.3 2224.9 973.7 2223.6" stroke="#2f2f2f" stroke-width="4.3" fill="none" stroke-linecap="round" stroke-linejoin="round"/><path d="M958.2 2266.1C959.5 2267.1 962.1 2271.3 966 2271.9C969.8 2272.6 978.2 2273.2 981.4 2270C984.6 2266.8 985 2259 985.3 2252.6C985.6 2246.2 985.3 2236.2 983.4 2231.3C981.4 2226.5 975.3 2224.9 973.7 2223.6" stroke="#b6b9db" stroke-width="2.3" fill="none" stroke-linecap="round" stroke-linejoin="round"/><path d="M1010.9 2235.8L1011.2 2238.4L1012.4 2241L1014.6 2243.5L1017.5 2246L1021 2248.4L1024.9 2250.5L1029.1 2252.5L1033.3 2254.3L1037.3 2255.8L1040.9 2257.1L1043.9 2258.2L1046.1 2259.1L1047.5 2259.9L1047.9 2260.5L1048.1 2258.6L1047.8 2256L1046.5 2253.4L1044.4 2250.9L1041.5 2248.4L1037.9 2246.1L1034 2243.9L1029.8 2241.9L1025.6 2240.1L1021.6 2238.6L1018 2237.3L1015 2236.2L1012.8 2235.3L1011.4 2234.5L1011 2233.9ZM1007.9 2280.1L1008.2 2282.7L1009.5 2285.3L1011.6 2287.9L1014.5 2290.4L1018 2292.7L1022 2294.9L1026.1 2296.9L1030.3 2298.6L1034.3 2300.2L1037.9 2301.5L1040.9 2302.6L1043.2 2303.5L1044.5 2304.2L1045 2304.9L1045.1 2303L1044.8 2300.4L1043.5 2297.8L1041.4 2295.2L1038.5 2292.8L1035 2290.4L1031 2288.2L1026.9 2286.3L1022.7 2284.5L1018.7 2283L1015.1 2281.7L1012.1 2280.6L1009.8 2279.6L1008.5 2278.9L1008 2278.2ZM1004.9 2324.5L1005.3 2327.1L1006.5 2329.7L1008.6 2332.2L1011.5 2334.7L1015.1 2337.1L1019 2339.2L1023.2 2341.2L1027.4 2343L1031.4 2344.5L1035 2345.8L1038 2346.9L1040.2 2347.8L1041.6 2348.6L1042 2349.3L1042.2 2347.3L1041.8 2344.8L1040.6 2342.2L1038.4 2339.6L1035.5 2337.1L1032 2334.8L1028.1 2332.6L1023.9 2330.6L1019.7 2328.9L1015.7 2327.3L1012.1 2326L1009.1 2324.9L1006.9 2324L1005.5 2323.2L1005.1 2322.6Z" fill="#9698b8" stroke="#2f2f2f" stroke-width="1" stroke-linejoin="round" opacity="0.9"/><path d="M1050.9 2216.2L1050.2 2218.7L1048.7 2221.1L1046.2 2223.4L1043 2225.4L1039.2 2227.3L1035 2228.9L1030.6 2230.3L1026.2 2231.5L1022 2232.5L1018.3 2233.3L1015.2 2234L1012.8 2234.6L1011.4 2235.2L1010.9 2235.8L1011 2233.9L1011.6 2231.4L1013.2 2229L1015.7 2226.7L1018.9 2224.6L1022.7 2222.8L1026.9 2221.1L1031.3 2219.7L1035.7 2218.5L1039.8 2217.6L1043.6 2216.7L1046.7 2216L1049 2215.4L1050.5 2214.9L1051 2214.3ZM1047.9 2260.5L1047.3 2263.1L1045.7 2265.5L1043.2 2267.7L1040 2269.8L1036.2 2271.7L1032 2273.3L1027.6 2274.7L1023.2 2275.9L1019.1 2276.9L1015.4 2277.7L1012.2 2278.4L1009.9 2279L1008.4 2279.6L1007.9 2280.1L1008 2278.2L1008.7 2275.7L1010.3 2273.3L1012.7 2271.1L1015.9 2269L1019.7 2267.1L1023.9 2265.5L1028.3 2264.1L1032.7 2262.9L1036.9 2261.9L1040.6 2261.1L1043.7 2260.4L1046.1 2259.8L1047.5 2259.2L1048.1 2258.6ZM1045 2304.9L1044.3 2307.4L1042.7 2309.8L1040.3 2312.1L1037.1 2314.1L1033.3 2316L1029.1 2317.6L1024.7 2319L1020.3 2320.2L1016.1 2321.2L1012.4 2322L1009.3 2322.7L1006.9 2323.3L1005.5 2323.9L1004.9 2324.5L1005.1 2322.6L1005.7 2320.1L1007.3 2317.7L1009.8 2315.4L1013 2313.3L1016.8 2311.5L1021 2309.8L1025.4 2308.4L1029.8 2307.3L1033.9 2306.3L1037.7 2305.4L1040.8 2304.7L1043.1 2304.1L1044.6 2303.6L1045.1 2303ZM1042 2349.3L1041.4 2351.8L1039.8 2354.2L1037.3 2356.4L1034.1 2358.5L1030.3 2360.4L1026.1 2362L1021.7 2363.4L1017.3 2364.6L1013.2 2365.6L1009.4 2366.4L1006.3 2367.1L1004 2367.7L1002.5 2368.3L1002 2368.9L1002.1 2366.9L1002.8 2364.4L1004.4 2362L1006.8 2359.8L1010 2357.7L1013.8 2355.8L1018 2354.2L1022.4 2352.8L1026.8 2351.6L1031 2350.6L1034.7 2349.8L1037.8 2349.1L1040.2 2348.5L1041.6 2347.9L1042.2 2347.3Z" fill="#abadce" stroke="#2f2f2f" stroke-width="1.1" stroke-linejoin="round"/><path d="M936.7 2098.8L936.8 2101.5L938.1 2104.5L940.6 2107.5L944.1 2110.6L948.4 2113.7L953.2 2116.7L958.4 2119.5L963.6 2122.1L968.5 2124.5L973 2126.5L976.7 2128.3L979.5 2129.7L981.2 2130.8L981.7 2131.7L982 2129.8L981.9 2127L980.5 2124.1L978.1 2121L974.6 2117.9L970.3 2114.9L965.5 2111.9L960.3 2109.1L955.1 2106.4L950.2 2104.1L945.7 2102L942 2100.3L939.2 2098.9L937.5 2097.7L937 2096.9ZM927.9 2146.3L928 2149L929.3 2152L931.8 2155L935.3 2158.1L939.5 2161.2L944.4 2164.2L949.6 2167L954.8 2169.6L959.7 2172L964.2 2174L967.9 2175.8L970.7 2177.2L972.4 2178.3L972.8 2179.2L973.2 2177.3L973.1 2174.5L971.7 2171.6L969.2 2168.6L965.8 2165.5L961.5 2162.4L956.7 2159.4L951.5 2156.6L946.3 2154L941.3 2151.6L936.9 2149.5L933.1 2147.8L930.4 2146.4L928.7 2145.2L928.2 2144.4Z" fill="#9698b8" stroke="#2f2f2f" stroke-width="1" stroke-linejoin="round" opacity="0.9"/><path d="M990.5 2084.2L989.4 2086.7L987.1 2089L983.7 2090.9L979.3 2092.6L974.2 2093.9L968.6 2095L962.8 2095.8L957 2096.3L951.5 2096.7L946.6 2097.1L942.5 2097.3L939.4 2097.7L937.4 2098.1L936.7 2098.8L937 2096.9L938.1 2094.3L940.4 2092.1L943.9 2090.1L948.2 2088.5L953.3 2087.1L958.9 2086.1L964.7 2085.3L970.5 2084.7L976 2084.3L980.9 2084L985 2083.7L988.1 2083.4L990.1 2082.9L990.8 2082.3ZM981.7 2131.7L980.6 2134.2L978.2 2136.5L974.8 2138.5L970.5 2140.1L965.4 2141.4L959.8 2142.5L954 2143.3L948.2 2143.8L942.7 2144.2L937.8 2144.6L933.7 2144.8L930.6 2145.2L928.6 2145.6L927.9 2146.3L928.2 2144.4L929.3 2141.9L931.6 2139.6L935 2137.6L939.4 2136L944.5 2134.6L950.1 2133.6L955.9 2132.8L961.7 2132.2L967.2 2131.8L972.1 2131.5L976.2 2131.2L979.3 2130.9L981.3 2130.4L982 2129.8ZM972.8 2179.2L971.7 2181.7L969.4 2184L966 2186L961.7 2187.6L956.6 2188.9L951 2190L945.1 2190.8L939.4 2191.3L933.9 2191.7L929 2192.1L924.9 2192.4L921.8 2192.7L919.8 2193.1L919 2193.8L919.4 2191.9L920.5 2189.4L922.8 2187.1L926.2 2185.1L930.6 2183.5L935.7 2182.1L941.3 2181.1L947.1 2180.3L952.9 2179.7L958.4 2179.3L963.3 2179L967.4 2178.7L970.5 2178.4L972.4 2177.9L973.2 2177.3Z" fill="#abadce" stroke="#2f2f2f" stroke-width="1.1" stroke-linejoin="round"/><path d="M1049.1 2167.6L1050.4 2167.6L1051.8 2167.6L1053.1 2167.6L1054.5 2167.6L1055.8 2167.6L1057.2 2167.6L1058.5 2167.6L1059.9 2167.6L1061.2 2167.6L1062.6 2167.6L1062.6 2159.8L1061.2 2159.8L1059.9 2159.8L1058.5 2159.8L1057.2 2159.8L1055.8 2159.8L1054.5 2159.8L1053.1 2159.8L1051.8 2159.8L1050.4 2159.8L1049.1 2159.8Z" fill="#abadce" stroke="#2f2f2f" stroke-width="1.1" stroke-linejoin="round"/><path d="M1046.1 2206.1L1047.4 2206.5L1048.8 2206.8L1050.1 2207.2L1051.5 2207.6L1052.8 2208L1054.2 2208.4L1055.5 2208.8L1056.9 2209.2L1058.3 2209.5L1059.6 2209.9L1061.7 2202.5L1060.4 2202.1L1059 2201.7L1057.7 2201.3L1056.3 2201L1055 2200.6L1053.6 2200.2L1052.3 2199.8L1050.9 2199.4L1049.6 2199L1048.2 2198.6Z" fill="#abadce" stroke="#2f2f2f" stroke-width="1.1" stroke-linejoin="round"/><path d="M961.5 2201.8L960.9 2203.8L960.2 2206.3L959.3 2209.4L958.3 2212.7L957.3 2216.3L956.1 2220.1L955 2223.9L953.9 2227.7L952.8 2231.3L951.8 2234.6L950.8 2237.9L949.8 2241.4L948.7 2244.9L948 2247.2L942.1 2245.4L950.5 2268.1L970.4 2254.3L964.5 2252.4L965.3 2250.1L966.4 2246.5L967.5 2243L968.5 2239.7L969.5 2236.3L970.6 2232.6L971.7 2228.8L972.8 2225L974 2221.2L975 2217.6L976 2214.2L976.9 2211.2L977.6 2208.7L978.2 2206.7Z" fill="#abadce" stroke="#2f2f2f" stroke-width="1.1" stroke-linejoin="round"/><path d="M997.8 2399.9L998.2 2393.4L998.6 2385L999.1 2375L999.7 2363.9L1000.3 2351.9L1000.9 2339.4L1001.6 2326.8L1002.3 2314.4L1003 2302.6L1003.6 2291.8L1004.4 2281.3L1005.2 2270.3L1006 2259.1L1006.9 2247.8L1007.9 2236.9L1008.7 2226.5L1009.5 2216.9L1009.8 2214.4L1015.8 2214.9L1002.7 2194.6L986.4 2212.4L992.4 2213L992.2 2215.4L991.4 2225L990.5 2235.5L989.6 2246.4L988.7 2257.7L987.8 2269L987 2280.1L986.3 2290.7L985.6 2301.6L984.9 2313.4L984.2 2325.8L983.5 2338.5L982.9 2351L982.3 2363L981.7 2374.2L981.2 2384.2L980.8 2392.6L980.5 2399Z" fill="#abadce" stroke="#2f2f2f" stroke-width="1.1" stroke-linejoin="round"/><path d="M1034.6 2135.5L1034.1 2140.1L1033.3 2145.9L1032.4 2152.8L1031.4 2160.5L1030.4 2168.9L1029.2 2177.7L1028.1 2186.7L1027 2195.7L1025.9 2204.5L1025 2213L1024 2221.6L1023 2230.9L1022 2240.7L1021 2250.6L1020 2260.4L1019.1 2269.9L1018.2 2278.6L1018.2 2279.1L1012.1 2278.5L1024.9 2299L1041.5 2281.4L1035.5 2280.8L1035.5 2280.3L1036.4 2271.6L1037.3 2262.2L1038.3 2252.4L1039.3 2242.5L1040.3 2232.7L1041.3 2223.5L1042.3 2214.9L1043.2 2206.6L1044.3 2197.8L1045.4 2188.8L1046.5 2179.8L1047.6 2171.1L1048.7 2162.7L1049.7 2155L1050.6 2148.1L1051.3 2142.3L1051.9 2137.7Z" fill="#abadce" stroke="#2f2f2f" stroke-width="1.1" stroke-linejoin="round"/><path d="M1082.9 2244.6L1082.8 2241.1L1082.6 2236.7L1082.5 2231.4L1082.3 2225.6L1082 2219.2L1081.8 2212.6L1081.6 2205.8L1081.4 2199.1L1081.2 2192.7L1081 2186.6L1080.8 2180.5L1080.5 2174.1L1080.3 2167.4L1080.1 2160.6L1079.9 2154L1079.7 2147.7L1085.7 2147.5L1070.3 2128.9L1056.2 2148.5L1062.3 2148.3L1062.5 2154.6L1062.7 2161.2L1062.9 2168L1063.2 2174.7L1063.4 2181.1L1063.6 2187.2L1063.8 2193.2L1064 2199.7L1064.2 2206.4L1064.4 2213.2L1064.7 2219.8L1064.9 2226.1L1065.1 2232L1065.2 2237.3L1065.4 2241.7L1065.5 2245.2Z" fill="#abadce" stroke="#2f2f2f" stroke-width="1.1" stroke-linejoin="round"/><path d="M1093.5 2131.3L1093.8 2134.9L1094.1 2139.5L1094.4 2144.8L1094.8 2150.9L1095.2 2157.4L1095.7 2164.3L1096.1 2171.2L1096.6 2178.2L1097 2184.9L1097.4 2191.2L1097.8 2197.6L1098.2 2204.5L1098.7 2211.6L1099.1 2218.8L1099.6 2225.9L1100 2232.7L1100.4 2239L1100.7 2244.6L1101 2249.4L1101.3 2253.1L1116.7 2252.1L1116.5 2248.4L1116.2 2243.7L1115.8 2238.1L1115.4 2231.7L1115 2224.9L1114.6 2217.8L1114.1 2210.6L1113.7 2203.5L1113.2 2196.7L1112.8 2190.3L1112.4 2183.9L1112 2177.2L1111.6 2170.3L1111.1 2163.3L1110.7 2156.4L1110.2 2149.9L1109.8 2143.8L1109.5 2138.5L1109.2 2133.9L1109 2130.3Z" fill="#abadce" stroke="#2f2f2f" stroke-width="1.1" stroke-linejoin="round"/><path d="M1014.5 2403.1L1016.5 2403.7L1018.4 2404.3L1020.3 2404.9L1022.3 2405.4L1024.2 2406L1026.1 2406.6L1028.1 2407.2L1030 2407.7L1031.9 2408.3L1033.9 2408.9L1037.2 2397.8L1035.3 2397.2L1033.3 2396.6L1031.4 2396.1L1029.5 2395.5L1027.5 2394.9L1025.6 2394.3L1023.7 2393.7L1021.7 2393.2L1019.8 2392.6L1017.9 2392Z" fill="#abadce" stroke="#2f2f2f" stroke-width="1.1" stroke-linejoin="round"/><path d="M1018.6 2337.4L1020.7 2338L1022.8 2338.6L1024.9 2339.2L1027.1 2339.8L1029.2 2340.3L1031.3 2340.9L1033.4 2341.5L1035.6 2342.1L1037.7 2342.7L1039.8 2343.2L1042.9 2332L1040.7 2331.5L1038.6 2330.9L1036.5 2330.3L1034.4 2329.7L1032.2 2329.1L1030.1 2328.6L1028 2328L1025.9 2327.4L1023.7 2326.8L1021.6 2326.2Z" fill="#abadce" stroke="#2f2f2f" stroke-width="1.1" stroke-linejoin="round"/></g>
<g opacity="0.93"><path d="M1118.1 2160.2C1118.4 2156.9 1117.7 2145.5 1120.1 2140.2C1122.4 2134.8 1126.4 2130.2 1132.1 2128.1C1137.8 2126.1 1150.5 2128.1 1154.2 2128.1" stroke="#2f2f2f" stroke-width="4.3" fill="none" stroke-linecap="round" stroke-linejoin="round"/><path d="M1118.1 2160.2C1118.4 2156.9 1117.7 2145.5 1120.1 2140.2C1122.4 2134.8 1126.4 2130.2 1132.1 2128.1C1137.8 2126.1 1150.5 2128.1 1154.2 2128.1" stroke="#dcb4b5" stroke-width="2.3" fill="none" stroke-linecap="round" stroke-linejoin="round"/><path d="M1154.2 2116.1C1153.2 2117.1 1148.1 2119.8 1148.1 2122.1C1148.1 2124.5 1154.5 2125.8 1154.2 2130.2C1153.8 2134.5 1147.8 2142.5 1146.1 2148.2C1144.5 2153.9 1142.1 2159.2 1144.1 2164.2C1146.1 2169.2 1155.8 2175.9 1158.2 2178.3" stroke="#2f2f2f" stroke-width="4.3" fill="none" stroke-linecap="round" stroke-linejoin="round"/><path d="M1154.2 2116.1C1153.2 2117.1 1148.1 2119.8 1148.1 2122.1C1148.1 2124.5 1154.5 2125.8 1154.2 2130.2C1153.8 2134.5 1147.8 2142.5 1146.1 2148.2C1144.5 2153.9 1142.1 2159.2 1144.1 2164.2C1146.1 2169.2 1155.8 2175.9 1158.2 2178.3" stroke="#dcb4b5" stroke-width="2.3" fill="none" stroke-linecap="round" stroke-linejoin="round"/><path d="M1228.3 2140.2C1229.7 2138.8 1232 2133.8 1236.3 2132.2C1240.7 2130.5 1249.7 2128.8 1254.4 2130.2C1259.1 2131.5 1263.4 2136.2 1264.4 2140.2C1265.4 2144.2 1262.1 2150.5 1260.4 2154.2C1258.7 2157.9 1253 2160.6 1254.4 2162.2C1255.7 2163.9 1266.1 2163.9 1268.4 2164.2" stroke="#2f2f2f" stroke-width="4.3" fill="none" stroke-linecap="round" stroke-linejoin="round"/><path d="M1228.3 2140.2C1229.7 2138.8 1232 2133.8 1236.3 2132.2C1240.7 2130.5 1249.7 2128.8 1254.4 2130.2C1259.1 2131.5 1263.4 2136.2 1264.4 2140.2C1265.4 2144.2 1262.1 2150.5 1260.4 2154.2C1258.7 2157.9 1253 2160.6 1254.4 2162.2C1255.7 2163.9 1266.1 2163.9 1268.4 2164.2" stroke="#dcb4b5" stroke-width="2.3" fill="none" stroke-linecap="round" stroke-linejoin="round"/><path d="M1256.4 2108.1C1254.4 2110.1 1246.7 2114.8 1244.4 2120.1C1242 2125.5 1242.7 2136.8 1242.4 2140.2" stroke="#2f2f2f" stroke-width="4.3" fill="none" stroke-linecap="round" stroke-linejoin="round"/><path d="M1256.4 2108.1C1254.4 2110.1 1246.7 2114.8 1244.4 2120.1C1242 2125.5 1242.7 2136.8 1242.4 2140.2" stroke="#dcb4b5" stroke-width="2.3" fill="none" stroke-linecap="round" stroke-linejoin="round"/><path d="M1146.1 2244.4C1151.2 2243.7 1167.2 2240.7 1176.2 2240.4C1185.2 2240.1 1193.6 2243.1 1200.3 2242.4C1206.9 2241.7 1210.3 2237.4 1216.3 2236.4C1222.3 2235.4 1230.3 2236.4 1236.3 2236.4C1242.4 2236.4 1247.7 2235.4 1252.4 2236.4C1257.1 2237.4 1261.1 2238.4 1264.4 2242.4C1267.7 2246.4 1270.8 2256.4 1272.4 2260.4C1274.1 2264.4 1271.4 2265.8 1274.4 2266.5C1277.4 2267.1 1287.8 2264.8 1290.5 2264.4" stroke="#2f2f2f" stroke-width="4.3" fill="none" stroke-linecap="round" stroke-linejoin="round"/><path d="M1146.1 2244.4C1151.2 2243.7 1167.2 2240.7 1176.2 2240.4C1185.2 2240.1 1193.6 2243.1 1200.3 2242.4C1206.9 2241.7 1210.3 2237.4 1216.3 2236.4C1222.3 2235.4 1230.3 2236.4 1236.3 2236.4C1242.4 2236.4 1247.7 2235.4 1252.4 2236.4C1257.1 2237.4 1261.1 2238.4 1264.4 2242.4C1267.7 2246.4 1270.8 2256.4 1272.4 2260.4C1274.1 2264.4 1271.4 2265.8 1274.4 2266.5C1277.4 2267.1 1287.8 2264.8 1290.5 2264.4" stroke="#dcb4b5" stroke-width="2.3" fill="none" stroke-linecap="round" stroke-linejoin="round"/><path d="M1160.2 2244.4C1160.8 2247.1 1160.8 2256.8 1164.2 2260.4C1167.5 2264.1 1177.5 2263.1 1180.2 2266.5C1182.9 2269.8 1182.6 2277.5 1180.2 2280.5C1177.9 2283.5 1171.5 2283.5 1166.2 2284.5C1160.8 2285.5 1152.5 2287.2 1148.1 2286.5C1143.8 2285.8 1140.8 2283.8 1140.1 2280.5C1139.5 2277.1 1142.1 2272.5 1144.1 2266.5C1146.1 2260.4 1150.8 2248.1 1152.2 2244.4" stroke="#2f2f2f" stroke-width="4.3" fill="none" stroke-linecap="round" stroke-linejoin="round"/><path d="M1160.2 2244.4C1160.8 2247.1 1160.8 2256.8 1164.2 2260.4C1167.5 2264.1 1177.5 2263.1 1180.2 2266.5C1182.9 2269.8 1182.6 2277.5 1180.2 2280.5C1177.9 2283.5 1171.5 2283.5 1166.2 2284.5C1160.8 2285.5 1152.5 2287.2 1148.1 2286.5C1143.8 2285.8 1140.8 2283.8 1140.1 2280.5C1139.5 2277.1 1142.1 2272.5 1144.1 2266.5C1146.1 2260.4 1150.8 2248.1 1152.2 2244.4" stroke="#dcb4b5" stroke-width="2.3" fill="none" stroke-linecap="round" stroke-linejoin="round"/><path d="M1174.2 2310.6C1176.5 2311.2 1184.6 2311.2 1188.2 2314.6C1191.9 2317.9 1195.3 2322.9 1196.3 2330.6C1197.3 2338.3 1192.9 2352.3 1194.3 2360.7C1195.6 2369 1199.9 2375.4 1204.3 2380.7C1208.6 2386.1 1214.3 2390.4 1220.3 2392.7C1226.3 2395.1 1234.3 2396.7 1240.4 2394.7C1246.4 2392.7 1253 2385.7 1256.4 2380.7C1259.7 2375.7 1260.7 2369 1260.4 2364.7C1260.1 2360.3 1255.4 2356.3 1254.4 2354.6" stroke="#2f2f2f" stroke-width="4.3" fill="none" stroke-linecap="round" stroke-linejoin="round"/><path d="M1174.2 2310.6C1176.5 2311.2 1184.6 2311.2 1188.2 2314.6C1191.9 2317.9 1195.3 2322.9 1196.3 2330.6C1197.3 2338.3 1192.9 2352.3 1194.3 2360.7C1195.6 2369 1199.9 2375.4 1204.3 2380.7C1208.6 2386.1 1214.3 2390.4 1220.3 2392.7C1226.3 2395.1 1234.3 2396.7 1240.4 2394.7C1246.4 2392.7 1253 2385.7 1256.4 2380.7C1259.7 2375.7 1260.7 2369 1260.4 2364.7C1260.1 2360.3 1255.4 2356.3 1254.4 2354.6" stroke="#dcb4b5" stroke-width="2.3" fill="none" stroke-linecap="round" stroke-linejoin="round"/><path d="M1254.4 2236.4C1254.7 2240.4 1255.4 2251.4 1256.4 2260.4C1257.4 2269.5 1259.1 2280.5 1260.4 2290.5C1261.7 2300.5 1262.4 2313.9 1264.4 2320.6C1266.4 2327.3 1271.1 2328.9 1272.4 2330.6" stroke="#2f2f2f" stroke-width="4.3" fill="none" stroke-linecap="round" stroke-linejoin="round"/><path d="M1254.4 2236.4C1254.7 2240.4 1255.4 2251.4 1256.4 2260.4C1257.4 2269.5 1259.1 2280.5 1260.4 2290.5C1261.7 2300.5 1262.4 2313.9 1264.4 2320.6C1266.4 2327.3 1271.1 2328.9 1272.4 2330.6" stroke="#dcb4b5" stroke-width="2.3" fill="none" stroke-linecap="round" stroke-linejoin="round"/><path d="M1298.5 2230.4C1298.1 2232 1295.5 2237.1 1296.5 2240.4C1297.5 2243.7 1301.5 2247.1 1304.5 2250.4C1307.5 2253.8 1309.8 2257.8 1314.5 2260.4C1319.2 2263.1 1329.5 2265.5 1332.6 2266.5" stroke="#2f2f2f" stroke-width="4.3" fill="none" stroke-linecap="round" stroke-linejoin="round"/><path d="M1298.5 2230.4C1298.1 2232 1295.5 2237.1 1296.5 2240.4C1297.5 2243.7 1301.5 2247.1 1304.5 2250.4C1307.5 2253.8 1309.8 2257.8 1314.5 2260.4C1319.2 2263.1 1329.5 2265.5 1332.6 2266.5" stroke="#dcb4b5" stroke-width="2.3" fill="none" stroke-linecap="round" stroke-linejoin="round"/><path d="M1292.5 2300.5C1293.5 2302.2 1294.8 2309.2 1298.5 2310.6C1302.2 2311.9 1309.2 2309.9 1314.5 2308.5C1319.9 2307.2 1327.9 2303.5 1330.6 2302.5" stroke="#2f2f2f" stroke-width="4.3" fill="none" stroke-linecap="round" stroke-linejoin="round"/><path d="M1292.5 2300.5C1293.5 2302.2 1294.8 2309.2 1298.5 2310.6C1302.2 2311.9 1309.2 2309.9 1314.5 2308.5C1319.9 2307.2 1327.9 2303.5 1330.6 2302.5" stroke="#dcb4b5" stroke-width="2.3" fill="none" stroke-linecap="round" stroke-linejoin="round"/><path d="M1288.5 2264.4C1288.5 2268.8 1287.8 2284.2 1288.5 2290.5C1289.1 2296.9 1291.8 2300.5 1292.5 2302.5" stroke="#2f2f2f" stroke-width="4.3" fill="none" stroke-linecap="round" stroke-linejoin="round"/><path d="M1288.5 2264.4C1288.5 2268.8 1287.8 2284.2 1288.5 2290.5C1289.1 2296.9 1291.8 2300.5 1292.5 2302.5" stroke="#dcb4b5" stroke-width="2.3" fill="none" stroke-linecap="round" stroke-linejoin="round"/><path d="M1304.5 2208.3C1305.8 2208.7 1310.5 2208.3 1312.5 2210.3C1314.5 2212.3 1315.5 2215.3 1316.5 2220.4C1317.5 2225.4 1317.9 2235.1 1318.5 2240.4C1319.2 2245.7 1317.9 2248.7 1320.5 2252.4C1323.2 2256.1 1332.2 2260.8 1334.6 2262.4" stroke="#2f2f2f" stroke-width="4.3" fill="none" stroke-linecap="round" stroke-linejoin="round"/><path d="M1304.5 2208.3C1305.8 2208.7 1310.5 2208.3 1312.5 2210.3C1314.5 2212.3 1315.5 2215.3 1316.5 2220.4C1317.5 2225.4 1317.9 2235.1 1318.5 2240.4C1319.2 2245.7 1317.9 2248.7 1320.5 2252.4C1323.2 2256.1 1332.2 2260.8 1334.6 2262.4" stroke="#dcb4b5" stroke-width="2.3" fill="none" stroke-linecap="round" stroke-linejoin="round"/><path d="M1111.8 2167.7L1112.6 2169.7L1113.7 2172.3L1114.9 2175.3L1116.4 2178.8L1117.9 2182.5L1119.5 2186.3L1121.1 2190.3L1122.7 2194.2L1124.3 2198L1125.7 2201.7L1127.2 2205.3L1128.8 2209.3L1130.4 2213.4L1132 2217.6L1132.6 2219.1L1126.7 2221.4L1148.1 2234.4L1155.3 2210.3L1149.4 2212.6L1148.8 2211.1L1147.2 2206.8L1145.5 2202.7L1144 2198.7L1142.5 2195L1141 2191.3L1139.4 2187.4L1137.8 2183.4L1136.2 2179.5L1134.6 2175.6L1133 2171.8L1131.6 2168.4L1130.3 2165.4L1129.3 2162.8L1128.4 2160.8Z" fill="#c8a0a1" stroke="#2f2f2f" stroke-width="1.1" stroke-linejoin="round"/><path d="M1184.2 2307.7L1183.8 2303.6L1183.2 2298.3L1182.6 2292.1L1181.9 2285L1181.1 2277.4L1180.3 2269.5L1179.5 2261.6L1178.7 2253.8L1177.9 2246.3L1177.2 2239.5L1176.4 2232.9L1175.6 2226L1174.8 2218.9L1174 2211.9L1173.2 2205.1L1172.4 2198.7L1172.2 2196.8L1177.8 2196.2L1162.2 2180.3L1150.7 2199.4L1156.3 2198.7L1156.5 2200.6L1157.3 2207L1158.1 2213.8L1158.9 2220.8L1159.7 2227.8L1160.5 2234.7L1161.2 2241.3L1162 2248L1162.7 2255.4L1163.5 2263.2L1164.4 2271.2L1165.2 2279L1165.9 2286.6L1166.6 2293.7L1167.3 2300L1167.8 2305.3L1168.2 2309.4Z" fill="#c8a0a1" stroke="#2f2f2f" stroke-width="1.1" stroke-linejoin="round"/><path d="M1155.9 2187.9L1157.7 2191.9L1160 2197.1L1162.7 2203.3L1165.7 2210.2L1169 2217.7L1172.4 2225.5L1175.9 2233.5L1179.4 2241.4L1182.8 2249L1186 2256.2L1189.3 2263.3L1192.9 2271L1196.6 2278.8L1200.3 2286.8L1204 2294.6L1207.6 2302.1L1209.7 2306.5L1204 2309.2L1226.3 2320.6L1231.7 2296.1L1226 2298.8L1223.9 2294.4L1220.3 2286.9L1216.6 2279.1L1212.9 2271.2L1209.2 2263.3L1205.7 2255.8L1202.5 2248.7L1199.3 2241.6L1195.9 2234L1192.4 2226.2L1188.9 2218.3L1185.5 2210.5L1182.2 2203L1179.2 2196.1L1176.5 2189.9L1174.2 2184.7L1172.4 2180.6Z" fill="#c8a0a1" stroke="#2f2f2f" stroke-width="1.1" stroke-linejoin="round"/><path d="M1216.3 2231.2L1216.6 2227.7L1217 2223.2L1217.6 2217.9L1218.1 2211.9L1218.8 2205.5L1219.4 2198.8L1220.1 2192.1L1220.8 2185.4L1221.6 2179.1L1222.3 2173.2L1223 2167.5L1223.8 2161.4L1224.7 2155.2L1225.7 2148.9L1226.6 2142.8L1227.5 2136.9L1227.5 2136.8L1233.1 2137.6L1222.3 2118.1L1206.1 2133.5L1211.7 2134.3L1211.7 2134.5L1210.8 2140.3L1209.8 2146.5L1208.9 2152.8L1208 2159.2L1207.1 2165.4L1206.3 2171.3L1205.6 2177.2L1204.9 2183.7L1204.2 2190.4L1203.5 2197.2L1202.8 2203.9L1202.2 2210.3L1201.6 2216.3L1201.1 2221.6L1200.7 2226.1L1200.3 2229.6Z" fill="#c8a0a1" stroke="#2f2f2f" stroke-width="1.1" stroke-linejoin="round"/><path d="M1236.3 2144.4L1236.4 2147L1236.5 2150.4L1236.6 2154.4L1236.7 2158.9L1236.8 2163.8L1236.9 2168.9L1237 2174L1237.1 2179.1L1237.2 2183.9L1237.3 2188.5L1237.5 2193L1237.6 2197.7L1237.7 2202.6L1237.8 2207.5L1237.9 2212.3L1237.9 2212.9L1232.3 2213.1L1246.4 2230.4L1259.6 2212.4L1254 2212.5L1253.9 2211.9L1253.8 2207.1L1253.7 2202.2L1253.6 2197.3L1253.5 2192.6L1253.4 2188.1L1253.3 2183.6L1253.2 2178.7L1253 2173.6L1252.9 2168.5L1252.8 2163.4L1252.7 2158.6L1252.6 2154.1L1252.5 2150L1252.4 2146.6L1252.4 2144Z" fill="#c8a0a1" stroke="#2f2f2f" stroke-width="1.1" stroke-linejoin="round"/><path d="M1260.2 2171.5L1261.1 2173.3L1262.3 2175.6L1263.7 2178.3L1265.3 2181.4L1267.1 2184.8L1268.9 2188.3L1270.8 2191.8L1272.7 2195.3L1274.6 2198.7L1276.4 2201.9L1278.3 2205L1280.3 2208.2L1282.4 2211.5L1284.5 2214.8L1286.6 2218.1L1288.6 2221.1L1290.5 2223.9L1292.1 2226.5L1293.5 2228.6L1294.6 2230.2L1306.4 2222.5L1305.3 2220.9L1303.8 2218.7L1302.2 2216.2L1300.3 2213.4L1298.3 2210.4L1296.3 2207.2L1294.2 2204L1292.2 2200.8L1290.2 2197.7L1288.5 2194.8L1286.8 2191.8L1285 2188.6L1283.2 2185.2L1281.3 2181.7L1279.5 2178.3L1277.8 2175L1276.2 2171.9L1274.8 2169.1L1273.6 2166.8L1272.6 2165Z" fill="#c8a0a1" stroke="#2f2f2f" stroke-width="1.1" stroke-linejoin="round"/><path d="M1284.2 2269.6L1285.3 2271.8L1286.7 2274.5L1288.4 2277.8L1290.2 2281.5L1292.2 2285.4L1294.3 2289.5L1296.4 2293.7L1298.4 2297.8L1300.4 2301.8L1302.2 2305.5L1303.9 2309.2L1305.7 2313.2L1307.6 2317.4L1309.4 2321.5L1311.2 2325.6L1311.9 2327.3L1307.4 2329.2L1324.5 2338.6L1329.3 2319.7L1324.8 2321.7L1324.1 2320L1322.2 2315.9L1320.4 2311.6L1318.5 2307.4L1316.6 2303.4L1314.8 2299.5L1313 2295.7L1311 2291.6L1308.9 2287.4L1306.8 2283.2L1304.7 2279.1L1302.7 2275.1L1300.9 2271.4L1299.2 2268.2L1297.8 2265.4L1296.7 2263.3Z" fill="#c8a0a1" stroke="#2f2f2f" stroke-width="1.1" stroke-linejoin="round"/><path d="M1212.2 2239.9L1213.5 2242.1L1215.2 2245L1217.2 2248.4L1219.4 2252.3L1221.7 2256.4L1224.3 2260.8L1226.8 2265.2L1229.4 2269.6L1231.9 2274L1234.3 2278L1236.8 2282.2L1239.4 2286.6L1242.2 2291.2L1245 2295.9L1247.7 2300.5L1250.4 2304.9L1252.9 2309L1255.1 2312.7L1257 2315.8L1258.4 2318.2L1270.4 2310.9L1269 2308.5L1267.1 2305.5L1264.9 2301.8L1262.4 2297.7L1259.8 2293.3L1257 2288.7L1254.2 2284L1251.4 2279.4L1248.8 2275L1246.4 2270.9L1244 2266.9L1241.5 2262.6L1239 2258.2L1236.4 2253.8L1233.9 2249.4L1231.5 2245.3L1229.3 2241.5L1227.4 2238L1225.7 2235.1L1224.4 2232.9Z" fill="#c8a0a1" stroke="#2f2f2f" stroke-width="1.1" stroke-linejoin="round"/><path d="M1214.6 2102.7L1215.5 2101.2L1216.5 2099.2L1217.6 2096.9L1218.8 2094.6L1220 2092.1L1221.4 2089.8L1222.8 2087.8L1224.1 2086.2L1225.2 2085.2L1226.1 2084.7L1227.1 2084.5L1228.9 2084.5L1231.1 2084.6L1233.6 2085.1L1236.3 2085.7L1238.9 2086.6L1241.6 2087.5L1244 2088.5L1246.2 2089.5L1247.8 2090.4L1249 2091.1L1250 2092L1250.9 2093.2L1251.8 2094.5L1252.6 2095.9L1253.4 2097.4L1254.1 2098.8L1254.8 2100.2L1255.5 2101.6L1256.1 2102.7L1264.7 2097.5L1264.3 2096.8L1263.8 2095.9L1263.2 2094.5L1262.4 2092.8L1261.4 2091L1260.2 2089.1L1258.8 2087.1L1257.2 2085.1L1255.2 2083.3L1252.9 2081.7L1250.6 2080.5L1248 2079.3L1245.2 2078.2L1242.1 2077.1L1238.9 2076.1L1235.7 2075.3L1232.4 2074.7L1229.1 2074.4L1225.9 2074.6L1222.6 2075.3L1219.5 2077L1216.9 2079.2L1214.8 2081.8L1212.9 2084.5L1211.3 2087.2L1209.9 2090L1208.6 2092.5L1207.5 2094.7L1206.7 2096.4L1206 2097.5Z" fill="#c8a0a1" stroke="#2f2f2f" stroke-width="1.1" stroke-linejoin="round"/><path d="M1165.8 2125.4L1167.5 2124.9L1169.8 2124.1L1172.3 2123.1L1175.1 2122.1L1177.9 2121.1L1180.7 2120.3L1183.4 2119.6L1185.8 2119.2L1187.5 2119.2L1188.5 2119.3L1189.3 2119.8L1190.6 2120.8L1192.1 2122.4L1193.7 2124.5L1195.3 2126.8L1196.8 2129.2L1198.2 2131.6L1199.5 2133.8L1200.7 2135.8L1201.7 2137.3L1210.8 2131L1210 2129.9L1209 2128.2L1207.7 2126L1206.2 2123.5L1204.5 2120.7L1202.6 2118L1200.5 2115.3L1198.1 2112.7L1195.3 2110.5L1192 2108.9L1188.3 2108.2L1184.8 2108.3L1181.3 2108.8L1177.8 2109.6L1174.5 2110.6L1171.4 2111.7L1168.5 2112.8L1166 2113.7L1164 2114.4L1162.6 2114.8Z" fill="#c8a0a1" stroke="#2f2f2f" stroke-width="1.1" stroke-linejoin="round"/><path d="M1328.6 2265.3L1329.4 2268.9L1330.2 2272.5L1331 2276.1L1331.8 2279.8L1332.7 2283.4L1333.5 2287L1334.3 2290.6L1335.1 2294.2L1335.9 2297.8L1336.7 2301.4L1344.5 2299.7L1343.7 2296.1L1342.9 2292.4L1342.1 2288.8L1341.3 2285.2L1340.5 2281.6L1339.7 2278L1338.9 2274.4L1338.1 2270.8L1337.3 2267.2L1336.5 2263.6Z" fill="#c8a0a1" stroke="#2f2f2f" stroke-width="1.1" stroke-linejoin="round"/><path d="M1236 2321.1L1237.2 2323.1L1238.7 2325.9L1240.6 2329.4L1242.7 2333.2L1245 2337.3L1247.4 2341.4L1249.8 2345.4L1252.3 2349L1254.7 2352.1L1257.3 2354.6L1260.4 2356.4L1263.7 2357.1L1266.9 2356.9L1269.6 2356.2L1271.9 2355.1L1274 2354L1275.7 2352.9L1277 2352L1277.8 2351.5L1278.4 2351.2L1274.5 2342L1273.1 2342.6L1271.6 2343.5L1270.2 2344.5L1268.8 2345.4L1267.4 2346.2L1266.2 2346.7L1265.2 2347L1264.5 2347.1L1264 2347L1263.5 2346.7L1262.2 2345.4L1260.4 2343.1L1258.3 2339.9L1256 2336.3L1253.7 2332.4L1251.5 2328.4L1249.4 2324.6L1247.5 2321.1L1245.9 2318.2L1244.7 2316Z" fill="#c8a0a1" stroke="#2f2f2f" stroke-width="1.1" stroke-linejoin="round"/><path d="M1113 2269.9L1114.1 2269L1115.5 2267.8L1117.2 2266.4L1119.2 2264.8L1121.2 2263L1123.4 2261.1L1125.6 2259.2L1127.7 2257.3L1129.7 2255.3L1131.5 2253.4L1133.1 2251.4L1134.7 2249.3L1136.3 2247.1L1137.7 2244.9L1139.1 2242.8L1140.3 2240.7L1141.5 2238.8L1142.5 2237.2L1143.3 2235.8L1143.9 2234.8L1136.3 2230L1135.6 2231.1L1134.7 2232.5L1133.7 2234.2L1132.6 2236.1L1131.4 2238L1130.1 2240L1128.8 2242L1127.4 2244L1126.1 2245.8L1124.7 2247.4L1123.2 2249L1121.5 2250.7L1119.5 2252.5L1117.5 2254.3L1115.4 2256.1L1113.4 2257.8L1111.5 2259.4L1109.7 2260.8L1108.3 2262.1L1107.1 2263Z" fill="#c8a0a1" stroke="#2f2f2f" stroke-width="1.1" stroke-linejoin="round"/></g>
<g opacity="0.93"><path d="M1112.1 2248.4C1112.4 2252.1 1116.1 2265.5 1114.1 2270.5C1112.1 2275.5 1105.7 2277.1 1100 2278.5C1094.4 2279.8 1083.3 2278.5 1080 2278.5" stroke="#2f2f2f" stroke-width="4.3" fill="none" stroke-linecap="round" stroke-linejoin="round"/><path d="M1112.1 2248.4C1112.4 2252.1 1116.1 2265.5 1114.1 2270.5C1112.1 2275.5 1105.7 2277.1 1100 2278.5C1094.4 2279.8 1083.3 2278.5 1080 2278.5" stroke="#b6b9db" stroke-width="2.3" fill="none" stroke-linecap="round" stroke-linejoin="round"/><path d="M1100 2128.1C1099.4 2125.1 1098.4 2115.5 1096 2110.1C1093.7 2104.8 1088.7 2099.4 1086 2096.1C1083.3 2092.7 1081 2091.1 1080 2090.1" stroke="#2f2f2f" stroke-width="4.3" fill="none" stroke-linecap="round" stroke-linejoin="round"/><path d="M1100 2128.1C1099.4 2125.1 1098.4 2115.5 1096 2110.1C1093.7 2104.8 1088.7 2099.4 1086 2096.1C1083.3 2092.7 1081 2091.1 1080 2090.1" stroke="#b6b9db" stroke-width="2.3" fill="none" stroke-linecap="round" stroke-linejoin="round"/><path d="M1095.1 2130.7L1095.4 2134.3L1095.7 2138.9L1096.2 2144.4L1096.7 2150.6L1097.2 2157.2L1097.8 2164.1L1098.4 2171.1L1099 2178L1099.5 2184.7L1100.1 2190.9L1100.6 2197L1101.2 2203.6L1101.7 2210.3L1102.3 2217.1L1102.9 2223.7L1103.4 2230.1L1103.9 2235.9L1104.4 2241.1L1104.8 2245.6L1105.1 2249L1119.1 2247.8L1118.8 2244.4L1118.4 2239.9L1117.9 2234.7L1117.4 2228.8L1116.9 2222.5L1116.3 2215.9L1115.7 2209.1L1115.1 2202.4L1114.6 2195.8L1114 2189.7L1113.5 2183.5L1113 2176.8L1112.4 2169.9L1111.8 2162.9L1111.2 2156L1110.7 2149.4L1110.2 2143.3L1109.7 2137.8L1109.3 2133.2L1109 2129.6Z" fill="#abadce" stroke="#2f2f2f" stroke-width="1.1" stroke-linejoin="round"/></g>
<text x="117.5" y="1684" font-size="51" font-weight="bold" text-anchor="start" fill="#839b85" textLength="143" lengthAdjust="spacingAndGlyphs">16C10</text>
<text x="491.5" y="1979" font-size="48" font-weight="bold" text-anchor="start" fill="#7b7fba" textLength="90" lengthAdjust="spacingAndGlyphs">FXN</text>
<text x="127.3" y="2495" font-size="51.5" font-weight="bold" text-anchor="start" fill="#c49b9b" textLength="115" lengthAdjust="spacingAndGlyphs">28F6</text>
<text x="708.3" y="1575" font-size="27">180</text>
<text x="755" y="1566.5" font-size="16">o</text>
<path d="M657.4 1633.8H788" stroke="#000" stroke-width="2.6" fill="none"/>
<path d="M801.7 1633.8L780.4 1622.5L785 1633.8L780.4 1645.7Z" fill="#000"/>
<path d="M709.6 1658.5C709.9 1654.4 710.2 1641.5 711.5 1633.8C712.8 1626.1 715.2 1618.6 717.3 1612.2C719.3 1605.8 721.5 1599.2 723.8 1595.4C726 1591.6 728.4 1589.6 730.8 1589.6C733.1 1589.6 736 1591.6 737.9 1595.4C739.8 1599.2 741.2 1605.8 742.4 1612.2C743.6 1618.6 744.1 1626.5 745 1633.8C745.9 1641.1 747 1650.6 747.6 1656C748.2 1661.4 748.5 1664.3 748.7 1666" stroke="#000" stroke-width="2.6" fill="none"/>
<path d="M749.5 1683L738.6 1663L748.9 1668.8L756.6 1661.1Z" fill="#000"/>
<text x="708.3" y="2115" font-size="27">180</text>
<text x="755" y="2106.5" font-size="16">o</text>
<path d="M657.4 2173.8H788" stroke="#000" stroke-width="2.6" fill="none"/>
<path d="M801.7 2173.8L780.4 2162.5L785 2173.8L780.4 2185.7Z" fill="#000"/>
<path d="M709.6 2198.5C709.9 2194.4 710.2 2181.5 711.5 2173.8C712.8 2166.1 715.2 2158.6 717.3 2152.2C719.3 2145.8 721.5 2139.2 723.8 2135.4C726 2131.6 728.4 2129.6 730.8 2129.6C733.1 2129.6 736 2131.6 737.9 2135.4C739.8 2139.2 741.2 2145.8 742.4 2152.2C743.6 2158.6 744.1 2166.5 745 2173.8C745.9 2181.1 747 2190.6 747.6 2196C748.2 2201.4 748.5 2204.3 748.7 2206" stroke="#000" stroke-width="2.6" fill="none"/>
<path d="M749.5 2223L738.6 2203L748.9 2208.8L756.6 2201.1Z" fill="#000"/>
</svg></body></html>
